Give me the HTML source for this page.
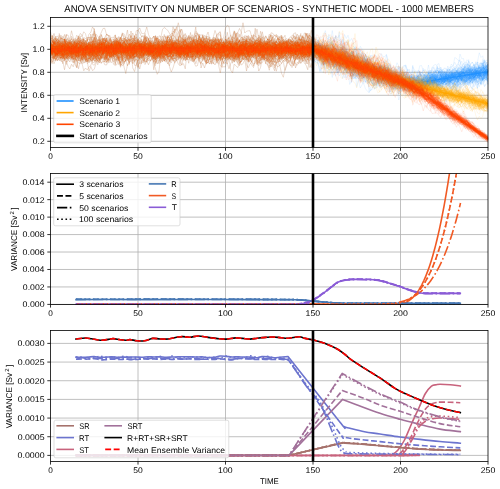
<!DOCTYPE html><html><head><meta charset="utf-8"><style>html,body{margin:0;padding:0;background:#fff;overflow:hidden}svg{display:block;will-change:transform;font-family:"Liberation Sans",sans-serif}</style></head><body>
<svg width="500" height="489" viewBox="0 0 500 489" font-family="'Liberation Sans', sans-serif" text-rendering="geometricPrecision">
<rect width="500" height="489" fill="#fff"/>
<path d="M138.00 17.50V147.60M225.50 17.50V147.60M313.00 17.50V147.60M400.50 17.50V147.60M50.50 141.30H488.00M50.50 118.30H488.00M50.50 95.30H488.00M50.50 72.30H488.00M50.50 49.30H488.00M50.50 26.30H488.00" stroke="#b0b0b0" stroke-width="0.8" fill="none"/>
<defs>
<path id="p0" d="M0 191l1 5 1 12 1 3 1 9 1-6 1-21 1 7 1 7 1-9 1-4 1-1 1 13 1-2 1-10 1 18 1 2 1 20 1 7 1 12 1-11 1 5 1-16 1-10 1-4 1 27 1-5 1-10 1-9 1 14 1-4 1 5 1 0 1-23 1 7 1-5 1-15 1 7 1-1 1-3 1-2 1 15 1-6 1-20 1 22 1-15 1-1 1 9 1-27 1-5 1 22 1 0 1-7 1 5 1-7 1 4 1-7 1-14 1 16 1 1 1 9 1-1 1 16 1 4 1-1 1-15 1-15 1 21 1 8 1-11 1 24 1-1 1-5 1-21 1-9 1 7 1 5 1 2 1-20 1 9 1 5 1-4 1 3 1 3 1 14 1-4 1 3 1-18 1-7 1 3 1-6 1 7 1-11 1 5 1-4 1 20 1-5 1 22 1 21 1-6 1 2 1-11 1-35 1 13 1 7 1-5 1-8 1 3 1 2 1-9 1-5 1 16 1 0 1-2 1 13 1-8 1 9 1-16 1-3 1 0 1 8 1 0 1 24 1 7 1-14 1 21 1-22 1 17 1-19 1 6 1-17 1-4 1 19 1-22 1-19 1 5 1 7 1 3 1 13 1-17 1 9 1 0 1 9 1 5 1 12 1-23 1 0 1-13 1 1 1 11 1 3" vector-effect="non-scaling-stroke"/>
<path id="p1" d="M0 192l1-3 1-4 1 13 1 4 1-11 1-5 1 0 1 25 1-11 1-18 1-11 1 3 1 29 1-16 1 5 1 39 1-14 1 17 1 10 1-2 1-30 1 2 1-8 1-29 1-18 1 11 1 10 1 23 1 9 1-10 1-7 1-1 1-14 1 16 1 1 1-11 1-6 1-11 1 1 1 11 1-1 1 19 1 24 1-15 1-2 1-7 1 25 1-1 1 2 1 6 1 25 1-10 1-25 1-12 1 6 1-4 1-15 1 41 1-8 1-16 1-14 1-26 1-11 1 4 1 4 1-5 1 16 1 5 1-11 1-24 1 14 1 9 1 3 1-15 1 9 1-15 1 25 1 6 1 6 1-11 1-12 1 30 1 13 1-9 1 8 1 19 1-24 1-10 1-7 1 9 1-16 1 7 1-14 1 19 1 13 1-6 1 9 1-13 1-4 1 14 1-4 1 4 1-16 1 10 1 6 1-21 1-31 1-19 1 14 1 8 1-13 1 15 1 23 1 2 1-4 1 16 1 24 1 15 1-20 1 7 1-5 1-8 1-13 1 5 1-9 1 14 1 3 1 12 1-24 1 0 1 11 1 2 1-1 1-14 1 24 1 10 1-3 1-45 1-11 1 8 1-6 1-25 1 16 1 13 1-13 1 1 1-2 1 16 1-25 1-15" vector-effect="non-scaling-stroke"/>
<path id="p2" d="M0 214l1-2 1-17 1-4 1-5 1-1 1 2 1 4 1 6 1-10 1 16 1-18 1 3 1 11 1 6 1 6 1-5 1 7 1-18 1 10 1 26 1 1 1 16 1-12 1-23 1-12 1 16 1 4 1-28 1-3 1 2 1-12 1-26 1-5 1 10 1 5 1 1 1 15 1 18 1-1 1 12 1-2 1-4 1-30 1 16 1 4 1 3 1-5 1-12 1 11 1 12 1 19 1 6 1-14 1-5 1 10 1 0 1-6 1-10 1 6 1 1 1 19 1 7 1-30 1 26 1-5 1-10 1 0 1 6 1-6 1-4 1-3 1 20 1-6 1 4 1 0 1-11 1-12 1-13 1 8 1-12 1-12 1-9 1-9 1 12 1 9 1-5 1 23 1-3 1 8 1 4 1 19 1 5 1-8 1-17 1-14 1 3 1 3 1 11 1-8 1 3 1-9 1-21 1 7 1 23 1 10 1 14 1 8 1-26 1-5 1 17 1-14 1-18 1 7 1 9 1 3 1-6 1-9 1-14 1-10 1-7 1-8 1 3 1 29 1 5 1-2 1 7 1-11 1 8 1 13 1-20 1-5 1 1 1-7 1-8 1 4 1 37 1 6 1 2 1 8 1-9 1-19 1 6 1 14 1-30 1 9 1 16 1-6 1-7 1 9 1-12" vector-effect="non-scaling-stroke"/>
<path id="p3" d="M0 194l1 6 1 7 1 10 1-4 1-21 1 16 1-24 1-8 1 11 1-8 1 25 1 23 1 10 1-4 1-4 1-1 1-9 1 24 1-18 1 13 1-1 1-4 1 7 1 9 1 1 1-13 1-18 1-14 1 12 1 6 1 7 1-15 1 24 1-28 1 4 1 6 1-11 1-17 1-4 1-13 1 4 1-13 1-10 1 11 1-13 1 9 1 7 1 19 1 6 1-11 1 22 1-12 1-4 1-2 1 33 1-5 1-14 1 9 1-5 1 31 1-20 1 4 1-18 1 24 1-17 1 0 1-15 1 13 1 6 1-36 1 16 1 11 1 1 1 12 1-22 1-24 1 16 1 26 1-21 1-15 1-7 1-10 1 21 1 6 1 21 1 17 1-21 1 7 1-36 1 4 1 13 1-10 1-22 1 2 1 25 1-3 1-16 1 13 1 15 1-15 1 2 1 18 1 4 1 8 1-8 1-4 1-18 1-7 1 27 1-8 1-12 1-4 1-10 1 14 1 17 1-15 1 18 1 28 1-23 1 7 1-1 1 15 1 10 1 5 1-7 1-16 1 26 1-23 1 9 1 6 1-21 1-5 1 17 1-34 1 12 1-7 1-4 1-20 1 11 1-13 1 16 1-15 1 16 1 6 1-28 1 2 1 4 1-26 1 6 1 21" vector-effect="non-scaling-stroke"/>
<path id="p4" d="M0 170l1 32 1 1 1 13 1 6 1-24 1 14 1-1 1 31 1-9 1-10 1 6 1 5 1-43 1 23 1 15 1 6 1-31 1-39 1 2 1 20 1 11 1-20 1 21 1-26 1-19 1 9 1-3 1-4 1-17 1 33 1-15 1 17 1 19 1 0 1 5 1 17 1 24 1 6 1-38 1-37 1-5 1-13 1 21 1 7 1-1 1 24 1 16 1-7 1 2 1 15 1-15 1 0 1-22 1 1 1 7 1-3 1 3 1 11 1 4 1-18 1-11 1-20 1 38 1 5 1 4 1-7 1 6 1 6 1-20 1-3 1 21 1-28 1-16 1 17 1-13 1 18 1-19 1 9 1 18 1 5 1 12 1-9 1-6 1-3 1 9 1 62 1-20 1 20 1-23 1-33 1-10 1 5 1 0 1-1 1 6 1 6 1 10 1-30 1-1 1-18 1 8 1 0 1 5 1-8 1-12 1 1 1 17 1 15 1-33 1 10 1 8 1-25 1-12 1 0 1 17 1-36 1 8 1 3 1 15 1 34 1 23 1-13 1-10 1 4 1 20 1 19 1-5 1 16 1-29 1-27 1-50 1-3 1 24 1 23 1 63 1-3 1-10 1-28 1-15 1-10 1-1 1-9 1-21 1 29 1 11 1 25 1-35 1-20 1-6 1 31" vector-effect="non-scaling-stroke"/>
<path id="p5" d="M0 174l1 14 1 15 1-11 1-7 1-10 1 18 1-12 1-1 1-17 1 23 1 1 1 6 1 20 1 4 1-18 1 5 1 7 1-14 1-12 1-8 1 14 1 2 1-11 1 12 1 9 1-11 1-17 1 19 1 32 1 10 1 2 1-8 1-16 1-2 1 4 1-6 1 8 1-5 1 4 1-37 1-5 1 15 1 14 1 3 1 17 1 2 1 2 1-18 1 2 1 5 1 11 1 7 1-9 1-5 1-19 1 6 1-15 1-2 1 1 1 26 1 10 1-17 1-20 1-1 1-7 1 8 1 6 1 8 1-13 1-3 1 5 1 5 1-7 1-3 1 12 1-21 1 1 1 4 1-15 1-5 1 9 1-1 1 19 1 9 1 26 1-22 1 21 1-16 1 7 1 7 1-5 1-8 1-11 1-22 1 1 1-6 1 13 1-6 1 3 1 9 1 2 1 2 1-2 1-4 1 8 1 8 1-11 1 21 1 3 1-24 1 33 1 0 1-16 1 16 1-38 1 32 1-23 1-19 1-7 1 9 1 0 1 14 1-9 1 16 1 2 1-14 1 15 1 2 1-5 1 15 1-19 1-5 1 19 1-3 1 6 1 3 1-6 1 4 1-16 1 7 1-14 1 1 1-10 1 10 1 6 1 13 1-11 1-13 1-23 1-8" vector-effect="non-scaling-stroke"/>
<path id="p6" d="M0 238l1-36 1-2 1 1 1-17 1 2 1 12 1-33 1 24 1 4 1-12 1 20 1 1 1-7 1-36 1 23 1 5 1-8 1 3 1 22 1-8 1-1 1-6 1-15 1-10 1 2 1 3 1 24 1 3 1-3 1 7 1-2 1 12 1-26 1-30 1 17 1 0 1 10 1-15 1 1 1 7 1 9 1 2 1 18 1-12 1 13 1-10 1-1 1-16 1 5 1-11 1 20 1-8 1 7 1-1 1 1 1-12 1 35 1-9 1 21 1-25 1 29 1 7 1 16 1-39 1 16 1-10 1 3 1 21 1-6 1-20 1-2 1-19 1 6 1-1 1 5 1-8 1-29 1 2 1 3 1 15 1 14 1-24 1 22 1 13 1-3 1 3 1-34 1 40 1-11 1-14 1 18 1 6 1-12 1-27 1 18 1 24 1-21 1-24 1 10 1 36 1-28 1 3 1-17 1 5 1 8 1 8 1-24 1-17 1 42 1 13 1-32 1 9 1 22 1-5 1-1 1-2 1 5 1 1 1 3 1-10 1 10 1 0 1-3 1-23 1-4 1 4 1-6 1-3 1-12 1-1 1-20 1-8 1 15 1 17 1-7 1 0 1 9 1 29 1 26 1-13 1-17 1-12 1 22 1-19 1 10 1-7 1-5 1 15 1 7 1 28" vector-effect="non-scaling-stroke"/>
<path id="p7" d="M0 231l1-3 1-26 1-16 1-3 1 40 1-14 1 20 1-66 1 14 1 0 1 31 1 8 1 24 1-32 1 3 1-16 1 16 1 8 1-35 1 25 1 38 1-22 1 19 1-2 1-32 1 15 1-26 1 15 1-38 1-24 1 22 1 10 1 22 1-7 1-26 1 39 1-25 1 33 1 13 1 31 1-64 1-2 1-6 1 17 1-27 1 51 1-10 1-56 1 16 1 3 1-12 1 24 1-1 1-21 1 1 1-3 1 13 1-4 1 2 1-30 1-5 1 17 1 62 1-24 1-19 1 24 1 41 1 12 1-37 1 17 1-1 1-16 1-35 1 2 1 3 1 13 1-40 1-17 1 14 1 39 1 16 1-19 1 15 1-25 1-7 1-3 1-11 1-5 1 27 1 8 1-53 1 39 1 13 1-24 1 9 1 21 1 28 1-22 1-26 1-29 1 9 1-16 1 35 1-1 1 19 1-5 1-17 1-20 1 31 1-27 1 19 1 26 1 1 1 29 1-11 1-14 1 0 1-17 1 7 1-2 1 31 1-10 1 12 1 1 1-8 1-12 1 32 1 22 1-12 1-26 1-17 1-25 1-27 1-3 1 9 1 30 1 21 1 4 1-13 1-8 1-2 1 2 1-16 1-2 1-4 1-3 1 17 1 23 1-16 1-11" vector-effect="non-scaling-stroke"/>
<path id="p8" d="M0 206l1 6 1-44 1 24 1 11 1-1 1 19 1 34 1-33 1 9 1 3 1-1 1 10 1 9 1-15 1-53 1-9 1-7 1 36 1 0 1 21 1-20 1 3 1-2 1 0 1 10 1 24 1-20 1 21 1 12 1-8 1 2 1-16 1-26 1-5 1-3 1 0 1-14 1 38 1-11 1 15 1 17 1-11 1 0 1-18 1-23 1 46 1-8 1-42 1-12 1-20 1 10 1 36 1 21 1-18 1-18 1 18 1 4 1-6 1 32 1-1 1-38 1-38 1 13 1-25 1 24 1 23 1 44 1-26 1 5 1-46 1 2 1 5 1 39 1-30 1 11 1 4 1 41 1-26 1-22 1 14 1-3 1-8 1-16 1 4 1-27 1 16 1 18 1 12 1 46 1 3 1-31 1-9 1 12 1-12 1 35 1-6 1-19 1-18 1 14 1-21 1-33 1 17 1-8 1 36 1 34 1-21 1-6 1-7 1 9 1 1 1-19 1-31 1 12 1 36 1-27 1-8 1-8 1 4 1-37 1 14 1 2 1 46 1 10 1 10 1-5 1-10 1 12 1-36 1 24 1 7 1-8 1 22 1-17 1-14 1 6 1-36 1 7 1 2 1 24 1 31 1 4 1-3 1 1 1-22 1 41 1 8 1 19 1-44 1 2 1 0" vector-effect="non-scaling-stroke"/>
<path id="p9" d="M0 201l1-2 1-6 1-3 1 5 1-1 1-3 1 19 1 5 1 4 1-4 1-1 1-2 1 5 1-12 1-5 1 17 1-6 1 9 1-24 1 5 1 3 1-3 1 1 1-1 1-17 1 1 1-6 1-8 1 17 1-16 1-1 1-4 1 17 1-6 1 0 1 11 1-23 1 2 1 10 1 2 1-5 1-7 1 1 1-6 1-7 1 23 1 9 1 12 1-2 1-15 1-4 1 15 1 4 1-11 1 8 1 1 1-3 1 20 1-12 1-5 1-6 1 12 1 7 1 3 1-7 1-3 1-2 1-20 1-10 1 14 1 10 1-17 1 8 1-12 1-11 1 14 1 8 1 2 1 12 1 10 1 1 1-12 1 5 1 0 1 4 1 12 1-21 1 25 1 0 1-12 1 11 1-12 1-17 1 10 1-3 1 11 1-9 1-2 1-3 1-14 1-2 1-10 1 0 1 19 1-1 1-3 1 18 1-16 1 2 1-2 1 12 1-2 1-3 1 4 1-1 1 22 1-20 1 11 1 20 1 2 1 0 1-15 1 5 1-10 1 7 1-29 1-4 1-19 1 18 1-4 1 14 1-6 1-5 1 20 1 10 1 8 1 10 1-1 1 1 1 7 1-12 1-13 1 9 1 0 1-7 1-2 1 3 1-14 1-10 1-7" vector-effect="non-scaling-stroke"/>
<path id="p10" d="M0 193l1 26 1-34 1-22 1 23 1-44 1 35 1-2 1-19 1 58 1-25 1 3 1 2 1 24 1-13 1 22 1 13 1-1 1 16 1-48 1 26 1 7 1-4 1-10 1-24 1-19 1 10 1 9 1-2 1-18 1-11 1 18 1 46 1-55 1-16 1 2 1 1 1 19 1 24 1 4 1 0 1 9 1 25 1-6 1-24 1 6 1-7 1 39 1-10 1-10 1 16 1 24 1-29 1 5 1-24 1 1 1-21 1 4 1 29 1-9 1-2 1-22 1 7 1 4 1-24 1-24 1-10 1-13 1 3 1-5 1-6 1 6 1 11 1 7 1-43 1 19 1 19 1 18 1 5 1-1 1 28 1 39 1-19 1 26 1-20 1-12 1-31 1-34 1 2 1 21 1 29 1 14 1-8 1 40 1-17 1-10 1-22 1 5 1-6 1 14 1 4 1 31 1-17 1-43 1-3 1-7 1 24 1-33 1 21 1-17 1 2 1 24 1-24 1 4 1-1 1-7 1 5 1 12 1-9 1 11 1-1 1 14 1 29 1 4 1-1 1-12 1-33 1 36 1-12 1 41 1 6 1-7 1 32 1 16 1-31 1-22 1-12 1 5 1-59 1 5 1 19 1-40 1-7 1 15 1-21 1 5 1-6 1 5 1 30 1-20 1 2" vector-effect="non-scaling-stroke"/>
<path id="p11" d="M0 194l1 9 1 4 1-8 1 4 1-4 1 2 1-14 1 2 1 10 1 6 1 3 1-4 1-2 1-8 1-1 1 0 1-1 1 1 1-1 1-4 1-3 1 6 1 12 1 4 1-5 1 15 1-3 1-7 1 1 1 4 1-16 1-9 1 4 1-7 1-6 1 12 1-16 1 11 1 5 1 8 1-1 1 8 1-2 1-9 1-1 1 3 1-10 1 8 1-6 1 4 1 0 1 0 1 0 1 2 1 5 1 3 1-4 1 0 1 7 1 2 1 2 1-3 1-4 1-2 1 3 1-2 1 8 1 16 1-7 1 5 1 0 1 1 1-11 1 4 1-7 1 0 1 4 1 6 1-9 1-6 1-7 1-12 1 1 1 0 1 3 1 1 1 4 1 6 1-14 1 15 1-3 1-4 1 0 1 6 1 1 1 1 1 6 1-3 1 0 1 2 1-7 1 6 1-6 1 3 1-4 1-1 1-2 1 6 1 4 1 3 1-4 1-7 1-8 1 5 1 0 1 11 1 12 1 0 1-1 1 5 1 5 1-11 1 0 1 6 1-21 1-2 1 1 1-5 1 5 1-11 1 12 1 7 1-2 1 3 1-12 1 10 1 2 1-4 1-6 1-7 1-1 1-13 1 8 1 2 1-4 1 6 1 3 1 4 1 4 1 7" vector-effect="non-scaling-stroke"/>
<path id="p12" d="M0 173l1 19 1-3 1 13 1-3 1 9 1-3 1 0 1 2 1-7 1-14 1 8 1-7 1 2 1 2 1-18 1 26 1 6 1 14 1-2 1-3 1-39 1 3 1-12 1-4 1 13 1 1 1-9 1 6 1 4 1 1 1 18 1 8 1-5 1-5 1 9 1 2 1-1 1 0 1-8 1-1 1 0 1 13 1 7 1-7 1 12 1-8 1 2 1 4 1-11 1 4 1 4 1 2 1-5 1-29 1 23 1-2 1 1 1-11 1 5 1 22 1-18 1 9 1-3 1 10 1 4 1-1 1-14 1-10 1 5 1-6 1 4 1-2 1-2 1-5 1 7 1 1 1-2 1-1 1 7 1-17 1 7 1-6 1 1 1-9 1 25 1-21 1 6 1 13 1-2 1-22 1 1 1 15 1 5 1-12 1 15 1 1 1 1 1-21 1 6 1-10 1 11 1 9 1-10 1-3 1 18 1-7 1-6 1 7 1-2 1-2 1 5 1 5 1 4 1 0 1 10 1-5 1 10 1-7 1-4 1 6 1-13 1-20 1-9 1 18 1-11 1 2 1 3 1 8 1 0 1-12 1-2 1 8 1 8 1 4 1-7 1-16 1 14 1 1 1 5 1 6 1-5 1-6 1 14 1 7 1-16 1-3 1-4 1 6 1 3 1-5" vector-effect="non-scaling-stroke"/>
<path id="p13" d="M0 199l1 4 1 11 1 7 1-6 1-9 1 16 1-5 1-9 1-3 1 9 1-14 1 12 1-9 1-16 1 23 1-5 1-4 1-2 1 8 1 1 1 12 1-6 1-9 1 6 1 6 1 1 1-4 1-4 1-1 1-3 1 12 1 22 1-16 1-19 1 13 1 2 1-8 1-12 1-6 1-11 1 5 1-1 1 0 1 8 1-11 1-2 1-5 1 10 1-6 1 15 1-3 1 28 1 5 1-13 1 1 1-5 1 14 1-21 1-6 1 2 1-3 1-2 1-12 1 3 1 19 1 2 1-14 1-3 1 8 1-5 1 1 1-3 1 18 1 8 1-10 1 1 1-5 1-19 1 8 1 0 1 9 1 6 1 0 1 13 1 17 1-22 1-2 1-13 1-1 1 0 1-6 1-4 1 15 1-12 1 12 1-2 1-25 1 6 1-11 1 11 1-1 1 5 1 0 1 12 1 10 1-5 1 15 1 5 1-12 1 4 1 5 1 7 1-8 1-1 1-5 1-1 1-21 1 7 1 21 1-6 1-3 1-3 1 14 1-16 1 0 1 0 1 15 1-9 1-2 1-15 1 6 1 13 1-4 1 7 1-7 1 9 1-3 1-1 1-3 1 3 1 5 1-4 1 3 1-6 1 0 1 20 1-7 1-19 1-4 1-6" vector-effect="non-scaling-stroke"/>
<path id="p14" d="M0 196l1-1 1 11 1 8 1-2 1-2 1 19 1-16 1-4 1-3 1-5 1 8 1-3 1-11 1-8 1-2 1 6 1 8 1-11 1-3 1 7 1 20 1 4 1 12 1-19 1-4 1 4 1 0 1-26 1-7 1 17 1 2 1 11 1 13 1-7 1-25 1-11 1 5 1 7 1 1 1-7 1 16 1 16 1-20 1-2 1-12 1 2 1-9 1 11 1-1 1-10 1-3 1 11 1-4 1 11 1 15 1-6 1-12 1-5 1 16 1-8 1-3 1 7 1 23 1-13 1-9 1-3 1 17 1 10 1-14 1-8 1-4 1 4 1-3 1 6 1 3 1 6 1-4 1 2 1-10 1-6 1 9 1-16 1 13 1-3 1-8 1-8 1 25 1-10 1-9 1-9 1 26 1 5 1-1 1 3 1-14 1 7 1-11 1-3 1 16 1 8 1 1 1-4 1-11 1 2 1-8 1 16 1 25 1-5 1-11 1-1 1 5 1-9 1-20 1 3 1 8 1 7 1-20 1 3 1-4 1-8 1-5 1 15 1-6 1-4 1 0 1-4 1 11 1 4 1 6 1-6 1 8 1-3 1 10 1-1 1 2 1-1 1-3 1 1 1 1 1 17 1-16 1 4 1-1 1 5 1-12 1 7 1-7 1-11 1-12 1-6" vector-effect="non-scaling-stroke"/>
<path id="p15" d="M0 194l1 1 1 1 1 7 1-4 1-7 1-4 1 2 1-1 1-3 1-7 1-3 1 5 1 3 1 3 1 1 1 5 1-3 1 5 1 5 1-3 1 4 1 0 1 10 1-8 1-1 1-1 1-3 1-2 1 4 1-11 1 4 1-4 1-8 1 7 1 2 1 6 1-5 1 3 1 7 1-8 1-4 1 7 1-6 1 0 1-13 1-4 1 9 1 5 1 8 1-1 1 1 1-4 1 1 1 10 1 3 1-10 1-6 1 3 1 2 1 2 1 0 1 10 1-7 1 3 1-2 1 13 1-5 1-10 1 12 1-12 1-2 1 4 1 8 1-9 1-2 1-3 1 2 1 5 1-6 1 6 1-6 1 10 1 3 1 5 1-11 1 8 1 3 1-7 1-4 1-13 1-8 1 1 1 0 1 14 1 5 1 1 1 0 1 6 1 2 1 2 1-10 1-3 1 1 1 1 1-3 1 4 1 0 1 8 1-7 1-6 1-2 1-2 1-1 1-10 1 3 1 10 1 6 1-5 1-5 1-3 1-2 1 2 1 10 1 4 1 9 1-2 1 5 1-5 1-2 1 8 1-8 1-7 1 7 1-3 1-6 1 2 1-6 1 0 1-5 1 1 1 3 1-2 1-3 1 1 1 5 1 5 1 2 1 2 1-3 1-1" vector-effect="non-scaling-stroke"/>
<path id="p16" d="M0 158l1-7 1 16 1 6 1 19 1-58 1 21 1 0 1-17 1 44 1 22 1 7 1 18 1 20 1-2 1-39 1-17 1 2 1 1 1 36 1-22 1-11 1 24 1-10 1 1 1 8 1 16 1 5 1 10 1-23 1-15 1-10 1 3 1 7 1-46 1 47 1-28 1-4 1 3 1 14 1 5 1 24 1 22 1-10 1 24 1-33 1-31 1 72 1 14 1-27 1-19 1-13 1-15 1-19 1-17 1-31 1 13 1-8 1 47 1 3 1 25 1-35 1-47 1 3 1 41 1 5 1 1 1-2 1-21 1-13 1 66 1-34 1 13 1 11 1-33 1 10 1 31 1 23 1-13 1-27 1-33 1 11 1 14 1-33 1 18 1-26 1 6 1 5 1 13 1-1 1 15 1 16 1 0 1 11 1-11 1-5 1 5 1 1 1 2 1-39 1 6 1 18 1 7 1-15 1 6 1 5 1 5 1-5 1-8 1-8 1 38 1 17 1 45 1-38 1-35 1-30 1 1 1-20 1 10 1 10 1 36 1 12 1 5 1-28 1-37 1 17 1-5 1-1 1 21 1 35 1 6 1 20 1-10 1-10 1-7 1-6 1-18 1 17 1-26 1 34 1-11 1-15 1 14 1 27 1-27 1 8 1-25 1-18 1 2 1 2 1-19" vector-effect="non-scaling-stroke"/>
<path id="p17" d="M0 214l1-23 1 18 1-17 1 8 1 13 1-2 1-13 1-9 1-27 1-7 1 57 1 3 1 31 1-7 1-23 1 19 1 11 1-16 1-4 1-37 1-5 1-7 1-28 1 20 1 6 1 23 1-6 1-19 1-20 1 11 1 20 1 16 1 24 1-10 1-30 1 45 1 31 1-42 1 23 1-18 1 15 1-25 1-20 1-3 1-14 1 3 1-7 1-28 1-8 1 26 1 22 1 7 1 4 1-2 1 11 1-15 1 0 1-5 1 2 1-10 1 26 1-31 1-1 1-3 1-5 1-12 1-3 1 7 1 13 1 36 1-7 1 5 1 3 1-47 1 43 1-3 1-24 1-13 1-14 1 34 1 21 1-14 1 7 1-32 1 3 1 3 1-2 1 11 1 2 1 15 1 0 1 8 1-7 1 25 1 20 1-21 1-11 1 14 1-4 1 12 1-47 1 31 1-37 1 18 1-8 1 5 1 7 1-19 1-12 1 11 1 19 1-39 1-18 1 10 1 15 1 1 1 4 1-17 1 27 1 2 1 16 1-26 1-28 1 13 1-2 1-17 1 18 1 26 1-17 1-3 1 10 1-22 1 6 1 41 1-8 1 1 1-35 1 9 1 10 1-4 1 1 1 30 1-5 1 4 1-28 1-40 1 35 1 23 1 16 1 8" vector-effect="non-scaling-stroke"/>
<path id="p18" d="M0 210l1 3 1 20 1-8 1-22 1-19 1-7 1-9 1 17 1 10 1-20 1-3 1 20 1-8 1-11 1-6 1 5 1 14 1-4 1-25 1 7 1 19 1-3 1 25 1-6 1 4 1-18 1 1 1-15 1-33 1 18 1 24 1-4 1 7 1 0 1 14 1-10 1 1 1 38 1-3 1-13 1-23 1 12 1 12 1-23 1 12 1-3 1-8 1-11 1 5 1 22 1-20 1 10 1 9 1-36 1-8 1 27 1 10 1 4 1 11 1 28 1-24 1-18 1-5 1 8 1-5 1-11 1 20 1 4 1 6 1-17 1-5 1 23 1 5 1-36 1 19 1-4 1 9 1-24 1 4 1 9 1 19 1-1 1-19 1-11 1 24 1-29 1 8 1 19 1-5 1 9 1 6 1 5 1-5 1 3 1 22 1-20 1 2 1-27 1-10 1-8 1 1 1-18 1 14 1 21 1-6 1 47 1-5 1-13 1 1 1-27 1-12 1 2 1 9 1-17 1 16 1 8 1-14 1-7 1-30 1 15 1 39 1-13 1-19 1 9 1-22 1-20 1 25 1 16 1 25 1-11 1-11 1-7 1 26 1 11 1 20 1 18 1 9 1 10 1-15 1-22 1-19 1-4 1 8 1-5 1-14 1 5 1-3 1 4 1 7 1-4" vector-effect="non-scaling-stroke"/>
<path id="p19" d="M0 218l1 6 1 11 1-29 1-1 1-3 1-4 1-22 1 11 1-11 1 2 1 6 1 23 1-12 1 8 1 3 1-5 1-3 1-12 1 9 1-1 1-3 1 1 1-7 1 6 1-12 1 12 1 16 1-2 1-15 1 7 1 6 1 2 1-4 1 0 1-4 1 18 1-21 1-6 1 11 1-16 1-1 1-13 1 19 1-16 1 6 1 26 1-10 1 4 1 10 1-1 1 18 1-14 1-1 1-1 1-19 1 1 1 8 1 10 1-3 1-14 1 7 1 10 1-13 1-1 1 0 1-22 1 19 1-2 1 21 1-1 1-10 1-13 1 16 1-11 1-8 1 4 1-24 1 8 1 15 1-2 1 22 1-19 1-9 1 8 1-4 1-3 1-17 1 15 1 18 1 22 1-3 1 12 1-6 1-11 1 1 1 6 1-18 1 1 1-3 1-11 1 16 1 9 1-31 1 6 1 13 1 2 1 5 1 10 1 0 1-5 1-4 1-9 1 18 1 11 1-16 1 1 1-17 1-3 1 16 1-9 1 10 1-6 1-15 1-21 1 8 1-2 1 2 1-3 1 33 1 2 1-6 1-7 1 9 1-11 1-11 1 3 1 5 1 6 1-2 1-12 1-12 1 11 1 14 1 9 1-12 1-2 1-1 1-3 1-2 1 5" vector-effect="non-scaling-stroke"/>
<path id="p20" d="M0 205l1 4 1-13 1 4 1-6 1 13 1-3 1-5 1 0 1 16 1-6 1-8 1-9 1-1 1 12 1 0 1-7 1 5 1-4 1 3 1-1 1-5 1 5 1-18 1 3 1 1 1 8 1 1 1 2 1 9 1 7 1-5 1-2 1 14 1 7 1-5 1-6 1-8 1 5 1-7 1 0 1 1 1-1 1-8 1-3 1-5 1 6 1 2 1 7 1 2 1 0 1 1 1-7 1-3 1-5 1 1 1-6 1 2 1-4 1 0 1-1 1 4 1 9 1 9 1-14 1-1 1-1 1 3 1 4 1-18 1 12 1 2 1 1 1 8 1 6 1 2 1-1 1 0 1-8 1 6 1-5 1-10 1-4 1 9 1 18 1-10 1-5 1 3 1-9 1 3 1 0 1 6 1-3 1 2 1 2 1-9 1 0 1 9 1-6 1-5 1 6 1 2 1-1 1 1 1-2 1-4 1 3 1-13 1 8 1 4 1-12 1-11 1 5 1 6 1 10 1-7 1 1 1 8 1-3 1-7 1-2 1-10 1-2 1 4 1 5 1 1 1-4 1-1 1-1 1 3 1 0 1-3 1 6 1 11 1-9 1-1 1 6 1 1 1 3 1 11 1-1 1 7 1-5 1-1 1-9 1 1 1-2 1 2 1 2 1 8 1-8" vector-effect="non-scaling-stroke"/>
<path id="p21" d="M0 193l1 3 1 3 1 27 1-2 1-15 1-6 1 16 1-2 1-8 1 9 1-13 1 8 1 0 1-2 1-28 1 7 1 9 1-8 1 7 1-2 1 26 1-9 1-3 1 12 1-21 1 2 1 1 1 14 1 13 1-1 1 9 1-15 1-16 1 5 1 14 1-2 1 5 1-9 1-8 1 1 1-4 1-15 1-18 1 11 1-5 1 7 1 14 1-16 1-2 1 2 1-1 1 5 1 13 1-21 1-7 1 3 1-6 1-9 1 11 1-1 1 10 1-4 1 7 1-24 1 12 1 0 1 1 1 9 1-7 1 6 1 8 1 2 1 9 1-15 1-4 1-8 1 21 1-3 1 10 1-3 1-15 1 0 1 5 1-11 1-7 1-15 1 31 1-1 1 7 1 11 1-3 1 12 1 21 1 1 1-7 1-29 1 7 1 11 1 17 1-5 1-6 1-8 1 11 1 2 1 17 1-14 1 9 1 20 1-29 1-14 1-10 1-6 1 10 1-16 1 12 1-24 1 1 1 24 1-13 1-22 1 9 1-9 1 8 1 11 1 30 1-20 1 3 1-6 1 12 1 6 1-18 1 4 1 3 1 12 1-8 1-12 1 4 1 1 1 12 1-21 1 8 1 0 1-21 1 7 1 19 1 8 1-1 1-25 1-1 1 5" vector-effect="non-scaling-stroke"/>
<path id="p22" d="M0 192l1-3 1 30 1-12 1 11 1 5 1-27 1 22 1-1 1-18 1-23 1 15 1-4 1-4 1 27 1 39 1 26 1-32 1-13 1 19 1 0 1-5 1-5 1-10 1-52 1 21 1-3 1 16 1 9 1 12 1-4 1 3 1-15 1-9 1 15 1-44 1 28 1-9 1-44 1 26 1-22 1-19 1 8 1 50 1-28 1 5 1 17 1-23 1 22 1-19 1 17 1-8 1 26 1 6 1 15 1 7 1-13 1-2 1-9 1-29 1 7 1 40 1-2 1-8 1-26 1-19 1-13 1 14 1-7 1 37 1-27 1-4 1-4 1 15 1 3 1 16 1-13 1 29 1-25 1-10 1-37 1 14 1 11 1 3 1 5 1 7 1 25 1 18 1 4 1-3 1 15 1 11 1-9 1-27 1-2 1-19 1-20 1-11 1 16 1 11 1 38 1 5 1-20 1 17 1-37 1-29 1 15 1-15 1 35 1 19 1 1 1-7 1-1 1 13 1-48 1-1 1-2 1-9 1 4 1 11 1 14 1 33 1-39 1 20 1 30 1 5 1 19 1-57 1-10 1-29 1-22 1 1 1 1 1 26 1 7 1 16 1-2 1 14 1-29 1-11 1 9 1 37 1-18 1-18 1 5 1 28 1-13 1-22 1 43 1-17 1 34" vector-effect="non-scaling-stroke"/>
<path id="p23" d="M0 200l1-3 1-18 1-9 1-14 1 11 1 4 1-26 1 13 1-18 1 0 1 19 1 30 1-9 1 13 1 11 1 23 1-27 1-4 1-2 1-7 1-2 1 0 1-7 1 8 1 41 1-21 1-10 1-2 1-25 1 27 1 43 1-35 1-10 1 25 1-1 1-16 1 16 1-16 1-35 1-15 1 10 1 2 1 21 1 0 1 6 1 15 1 17 1-38 1 0 1 17 1 4 1-27 1-22 1 18 1 1 1-10 1 12 1 21 1 13 1-6 1 8 1 14 1-5 1-23 1-12 1 4 1-30 1 20 1 3 1 22 1-16 1 2 1 25 1 6 1-36 1-10 1 2 1-11 1 30 1 11 1 15 1 4 1-3 1-17 1-20 1-14 1-37 1 21 1 8 1-2 1 19 1 7 1-7 1 16 1-10 1-18 1 22 1 34 1-10 1 9 1-11 1 0 1-10 1-21 1-11 1 10 1 20 1 35 1 21 1-5 1-17 1-1 1-2 1 14 1 11 1 10 1-29 1 18 1-27 1 5 1-19 1-10 1-15 1-18 1 17 1 16 1 3 1 8 1-16 1 0 1-2 1-8 1 8 1-18 1 32 1-9 1-10 1 12 1 8 1-19 1 5 1 28 1 12 1-26 1 8 1-27 1-21 1 9 1-6 1 17" vector-effect="non-scaling-stroke"/>
<path id="p24" d="M0 201l1-2 1-7 1 4 1 2 1-8 1-8 1 7 1-4 1-4 1 2 1 9 1 7 1-4 1-12 1 4 1-6 1-7 1 13 1 6 1-7 1-3 1 1 1 3 1-1 1 7 1-13 1 11 1 12 1-2 1-9 1 4 1 1 1 6 1-1 1 5 1 3 1 5 1-1 1-15 1 0 1-1 1-13 1 7 1 7 1-3 1 7 1-3 1-7 1 7 1 2 1-10 1 7 1 4 1-3 1 1 1 4 1-11 1 4 1-2 1 3 1 1 1 7 1-7 1 2 1-9 1 8 1 2 1-4 1-1 1 4 1-1 1 7 1-3 1 13 1-6 1-11 1-6 1-4 1 4 1-2 1 3 1 1 1 1 1 19 1-10 1-5 1-6 1 6 1-5 1-3 1 14 1 7 1-4 1 0 1-3 1 1 1-11 1 10 1 6 1 1 1 4 1-2 1-5 1 4 1-7 1-10 1-7 1-10 1-2 1 4 1-7 1 1 1-5 1 7 1 16 1 7 1-2 1-4 1 1 1-6 1 8 1 4 1-8 1 0 1 0 1-8 1-4 1 8 1 0 1 11 1-1 1-3 1 9 1-11 1-12 1 0 1-2 1-5 1 6 1-3 1 2 1 12 1 6 1 2 1-7 1-1 1-5 1 5 1 8 1-14" vector-effect="non-scaling-stroke"/>
<path id="p25" d="M0 192l1 2 1 3 1-3 1 3 1-12 1 1 1 3 1-4 1-3 1-5 1 0 1 5 1 3 1 19 1 9 1-12 1 2 1-15 1-12 1 15 1-1 1-20 1 13 1 0 1 5 1 4 1 3 1 1 1-6 1 8 1-4 1 6 1-5 1-2 1 7 1-2 1 5 1 5 1-12 1 14 1-7 1-7 1 4 1-9 1-5 1 12 1-4 1-3 1 7 1-5 1-4 1 7 1 15 1-7 1 4 1 10 1-2 1 13 1-6 1-18 1 20 1-11 1 3 1-2 1 2 1-10 1-2 1 4 1 6 1-1 1-13 1 8 1-6 1-4 1 14 1-12 1-1 1-18 1-9 1 8 1 5 1 10 1 11 1-9 1 2 1 2 1 0 1-7 1-6 1 2 1 3 1 0 1-15 1 20 1 8 1-6 1-2 1-10 1-8 1-11 1 13 1-1 1 5 1-5 1 2 1-3 1 9 1 1 1 5 1 2 1 3 1 7 1-11 1-3 1-7 1 10 1 14 1 1 1-2 1-10 1-9 1-8 1-8 1 0 1 4 1 10 1-3 1 6 1 8 1-6 1-1 1-5 1 7 1-8 1-1 1 4 1 7 1 8 1 8 1-14 1 10 1-8 1 1 1 3 1 1 1-2 1-8 1-4 1 1 1 11" vector-effect="non-scaling-stroke"/>
<path id="p26" d="M0 203l1-13 1 10 1 4 1 2 1-5 1-1 1 2 1 8 1-7 1-2 1 3 1-2 1-6 1 10 1 7 1 2 1 1 1 14 1-4 1-14 1-2 1-9 1 16 1-4 1-12 1-11 1 5 1 6 1-4 1 8 1 0 1 8 1-4 1-3 1-12 1-2 1 6 1 0 1 8 1-3 1 0 1-4 1-6 1 13 1-4 1-6 1 8 1-14 1 7 1-15 1-1 1-2 1 3 1-3 1 11 1 7 1 12 1-6 1 3 1-7 1-4 1 9 1-6 1-2 1-1 1-2 1 1 1 1 1-6 1 8 1 8 1 2 1-9 1 2 1-12 1 21 1 1 1 0 1-5 1-10 1 2 1 6 1-7 1-9 1 18 1-5 1-3 1 5 1 2 1-3 1-1 1 0 1 7 1-4 1 2 1-2 1 2 1-3 1-6 1-1 1-4 1 10 1-3 1-2 1 4 1 0 1 17 1-6 1-1 1 11 1-9 1 0 1-5 1-1 1-5 1-2 1 2 1-4 1-5 1 15 1-2 1 1 1 5 1-12 1-6 1 7 1 7 1-8 1 4 1 0 1 11 1-3 1-11 1 2 1 0 1-12 1-4 1-6 1 1 1-4 1 16 1 6 1 10 1-17 1 0 1 2 1 6 1 5 1 16 1-20" vector-effect="non-scaling-stroke"/>
<path id="p27" d="M0 183l1 47 1 25 1-17 1 4 1-8 1-3 1-17 1 22 1-2 1-22 1-7 1 10 1-11 1-6 1 12 1-13 1-9 1 4 1-12 1 21 1-12 1 5 1 14 1 5 1-20 1 9 1 3 1 7 1 7 1-19 1-31 1-12 1 3 1-1 1 14 1 13 1 19 1-22 1 8 1 12 1 7 1-6 1 6 1-4 1-4 1-20 1 21 1-6 1 10 1 3 1-26 1-5 1 10 1-5 1 3 1-13 1 13 1-5 1 7 1 2 1 3 1 10 1-4 1-14 1 11 1 5 1-6 1 10 1-14 1-9 1 36 1 3 1 9 1-20 1-17 1 18 1 5 1-4 1 1 1-14 1-15 1-5 1-11 1-6 1 9 1 12 1 14 1-12 1-10 1-9 1 12 1 10 1-2 1-15 1 1 1 3 1 17 1-6 1-5 1 17 1-25 1 18 1-11 1 6 1 0 1 14 1 6 1-12 1 3 1 4 1-13 1-8 1 1 1 1 1-21 1 11 1 1 1-1 1 26 1 26 1-9 1-17 1-3 1 7 1 8 1-15 1 4 1 21 1-15 1-6 1-6 1-14 1-14 1 0 1 10 1 34 1-7 1 0 1-20 1-14 1 0 1-12 1 11 1 8 1 17 1 5 1-3 1-15 1 15 1-11" vector-effect="non-scaling-stroke"/>
<path id="p28" d="M0 167l1-6 1 11 1-23 1-4 1 12 1 12 1 22 1 4 1 4 1-4 1 6 1-9 1 2 1 24 1 2 1 8 1 11 1-7 1-23 1 14 1 23 1-10 1-55 1 13 1-4 1 8 1-13 1-19 1 10 1-13 1 25 1-1 1 21 1-6 1 8 1-7 1 15 1-9 1-5 1 6 1 9 1 12 1-3 1-14 1-3 1-6 1-21 1 8 1-4 1-10 1-3 1-1 1 4 1-24 1 12 1 13 1-5 1-19 1-11 1 13 1-3 1 3 1 9 1-3 1-1 1 7 1-19 1 17 1-14 1-20 1-16 1 15 1 19 1 35 1 3 1-35 1 34 1 25 1-17 1-9 1 29 1-4 1-9 1 21 1-22 1 18 1-23 1-3 1 11 1 21 1-2 1-6 1-3 1 4 1-3 1-18 1 13 1-1 1-10 1-1 1-14 1-20 1 13 1 1 1 48 1-3 1-17 1 14 1-26 1 28 1-27 1 8 1 13 1 2 1-2 1 10 1 13 1-3 1-25 1-10 1-21 1 13 1 6 1 4 1-4 1-8 1-25 1-3 1 5 1-13 1 22 1 24 1-12 1-1 1 0 1-12 1 10 1 4 1-4 1-8 1-10 1 5 1 2 1 41 1-23 1 24 1-5 1-42 1 11 1 27" vector-effect="non-scaling-stroke"/>
<path id="p29" d="M0 223l1-30 1 1 1 4 1-20 1 12 1 8 1-11 1-8 1 22 1-39 1 1 1 30 1 5 1-13 1 1 1-10 1-31 1 0 1-18 1 8 1 28 1-15 1 25 1-8 1-1 1 23 1 15 1 3 1-7 1-21 1 5 1-25 1-3 1 22 1 16 1 1 1 10 1 1 1-13 1-2 1-13 1 17 1 16 1 20 1 21 1-5 1-13 1-4 1-8 1-37 1 21 1 3 1 6 1 11 1-27 1 1 1-20 1 23 1-30 1-29 1 28 1 7 1 8 1-5 1 25 1-9 1-11 1 13 1 37 1 1 1-3 1-20 1 6 1 13 1-18 1-10 1-13 1 1 1-15 1-3 1 35 1-6 1-13 1 1 1-21 1 14 1-7 1 25 1-1 1 8 1 13 1 15 1-13 1-13 1 7 1 15 1 5 1-22 1 15 1-27 1 26 1-13 1-15 1-21 1 12 1 13 1 21 1-22 1 1 1 5 1 3 1-8 1-2 1-20 1 38 1-20 1 8 1-2 1 3 1-2 1-15 1-3 1 25 1-3 1-2 1-10 1-1 1 1 1-17 1 21 1-37 1 16 1 20 1-14 1-15 1-14 1-14 1 5 1 10 1 3 1 8 1 15 1-23 1-21 1 13 1 14 1 14 1 30 1 7 1 2" vector-effect="non-scaling-stroke"/>
<path id="p30" d="M0 205l1 1 1 0 1 1 1-4 1-9 1-2 1-6 1-5 1 9 1-1 1 5 1-4 1 4 1 2 1-12 1 5 1 13 1-2 1-3 1 4 1-2 1-8 1 5 1 2 1 5 1-4 1 0 1 6 1-1 1-15 1 14 1 9 1-6 1 7 1-18 1 11 1 7 1 0 1-12 1-7 1-3 1-1 1-7 1 16 1-2 1-11 1 11 1-3 1-8 1-6 1 5 1-10 1 2 1-3 1 13 1 8 1 6 1-14 1 19 1 11 1-11 1-3 1 19 1-3 1-4 1-13 1 12 1 0 1-12 1-7 1 7 1 1 1 9 1-14 1 3 1-10 1-4 1 8 1 2 1-5 1-2 1-9 1-4 1 3 1-1 1 9 1 7 1-4 1-1 1 9 1 0 1 5 1 2 1-11 1 7 1 3 1-6 1-1 1-2 1 11 1-3 1 1 1 3 1 1 1-1 1-9 1-14 1 2 1-8 1 4 1 13 1 0 1-9 1-8 1 11 1-14 1 10 1 8 1 4 1-11 1 0 1-4 1 19 1-1 1-1 1-6 1 4 1-9 1 7 1 10 1 9 1-14 1-6 1 5 1-8 1 2 1 1 1 11 1 1 1-3 1-4 1 3 1-9 1-9 1 8 1-2 1 12 1-5 1 6 1-1" vector-effect="non-scaling-stroke"/>
<path id="p31" d="M0 217l1-29 1-14 1 8 1 9 1 2 1 15 1 2 1-12 1-18 1-5 1-9 1 20 1 40 1-22 1-4 1 1 1-19 1 15 1 11 1 6 1-22 1-9 1 24 1-20 1 2 1-2 1 12 1-21 1 0 1-9 1 18 1-5 1 4 1 5 1 11 1 7 1 11 1 2 1-5 1-11 1 15 1 6 1 0 1 12 1-7 1-5 1-5 1-10 1-14 1-9 1-1 1-4 1 13 1 11 1-9 1-7 1-23 1 10 1 16 1-2 1 6 1 10 1-18 1-19 1 2 1 14 1 0 1 3 1 18 1-12 1-3 1-13 1 11 1 2 1 2 1 20 1-32 1 27 1 10 1-2 1 13 1-13 1 0 1-6 1-6 1-3 1-2 1 0 1-5 1-9 1 5 1 7 1 4 1-5 1 4 1 3 1 15 1-27 1 15 1-22 1-6 1-7 1 3 1-1 1 3 1-2 1-5 1-10 1 20 1-2 1-14 1-8 1 22 1 1 1 1 1 1 1 29 1-13 1 18 1-30 1-5 1 5 1-5 1 2 1 10 1 1 1-3 1 10 1-9 1-12 1-8 1-8 1-7 1 2 1-6 1 10 1 4 1-9 1-13 1 17 1 25 1-23 1-5 1-12 1 2 1 9 1 16 1 17 1-16 1-6" vector-effect="non-scaling-stroke"/>
<path id="p32" d="M0 202l1-4 1-6 1-3 1 10 1 18 1-3 1 4 1 1 1-5 1-7 1-16 1 3 1 20 1-11 1-11 1 19 1-10 1-3 1 6 1-4 1-4 1-6 1-11 1 5 1 3 1-24 1 21 1 6 1 6 1-8 1-10 1 20 1-14 1 16 1-29 1 14 1-9 1 8 1-4 1 13 1-1 1 1 1 0 1-7 1 8 1 4 1 14 1-2 1 2 1-13 1-8 1 10 1-6 1-14 1 7 1 15 1-28 1-1 1-2 1-21 1 21 1 3 1 26 1-6 1-4 1 10 1 9 1-1 1-1 1-20 1 5 1 3 1 2 1 18 1 0 1 11 1-9 1 19 1 2 1-13 1 16 1 6 1-24 1 8 1-8 1-10 1 7 1 13 1-26 1 4 1-10 1 8 1-7 1 13 1 10 1 5 1-2 1-1 1-4 1-11 1 2 1-15 1 7 1-10 1-14 1-15 1 29 1-19 1 24 1-16 1 3 1-2 1 13 1-11 1-5 1 9 1 8 1-10 1-10 1-4 1 9 1 3 1-8 1-5 1-7 1 5 1 14 1-1 1-2 1 9 1-4 1 11 1-4 1 7 1-25 1-8 1 3 1 21 1 14 1-11 1 2 1-4 1 17 1 13 1-8 1-3 1 10 1 2 1-16 1 1" vector-effect="non-scaling-stroke"/>
<path id="p33" d="M0 185l1-7 1 10 1-7 1-12 1-3 1 16 1 13 1-2 1-8 1-2 1 8 1 12 1-15 1 4 1-20 1 20 1 5 1 7 1-22 1-10 1 12 1 25 1-16 1 0 1 14 1 14 1-10 1-1 1-5 1-6 1 4 1 2 1-10 1 2 1 3 1-8 1 24 1-19 1-5 1 10 1 1 1-15 1-4 1 23 1 9 1-6 1-24 1-5 1 6 1-4 1 3 1 7 1-4 1 26 1-15 1-7 1 6 1 9 1 11 1-9 1-5 1-4 1-20 1 29 1 5 1 4 1-16 1 1 1 9 1-6 1-7 1-19 1 1 1 9 1 7 1 9 1-8 1-10 1 5 1 2 1-15 1 3 1-2 1 16 1 6 1 23 1 7 1-13 1-20 1 2 1 12 1-5 1-16 1 2 1-10 1 4 1 15 1 8 1-1 1-29 1-3 1 7 1-1 1 1 1 7 1 2 1 3 1-9 1-15 1-10 1 12 1-1 1 13 1 14 1-2 1-8 1 2 1-9 1-6 1-5 1 8 1 18 1-21 1 10 1-7 1-2 1 8 1-18 1-1 1 7 1 9 1 14 1 13 1-10 1 3 1 3 1-9 1 4 1-9 1 7 1 5 1-13 1 9 1-9 1-5 1 2 1 20 1 11 1 6 1 7" vector-effect="non-scaling-stroke"/>
<path id="p34" d="M0 182l1-16 1 7 1-8 1-7 1 21 1 2 1 16 1 4 1-5 1 14 1-9 1 1 1 1 1-7 1 9 1 18 1-7 1 3 1-3 1 8 1 4 1 4 1 6 1-1 1-1 1-10 1-43 1 10 1 20 1-11 1 13 1 6 1-2 1-6 1-5 1-5 1 0 1-14 1-8 1 11 1 4 1 16 1-11 1 1 1-23 1 13 1-16 1 16 1 21 1 6 1-9 1-15 1 11 1-13 1 7 1 5 1 2 1-21 1 1 1-1 1 20 1-4 1-4 1-19 1 15 1 9 1 9 1 4 1-12 1 8 1-18 1 0 1 12 1 5 1 13 1 10 1-22 1-14 1 12 1 2 1-22 1 10 1-3 1-5 1 4 1 3 1 3 1-2 1 17 1-5 1-5 1 13 1-11 1 8 1 26 1 11 1-15 1-17 1-1 1 11 1-6 1-17 1-2 1 15 1-11 1-1 1-1 1-3 1-8 1 1 1 11 1-1 1-4 1-15 1 16 1 0 1 8 1-7 1 5 1 32 1-22 1 1 1 7 1 9 1 3 1 4 1-10 1-11 1-6 1-9 1 7 1-11 1-1 1-6 1-7 1 6 1-14 1-5 1 9 1-17 1-12 1 28 1 28 1 3 1-10 1-13 1-6 1 2 1-9 1-4" vector-effect="non-scaling-stroke"/>
<path id="p35" d="M0 181l1 9 1 6 1-3 1-2 1-2 1 13 1 5 1-5 1-4 1 1 1-11 1 4 1-6 1-5 1 1 1 5 1-3 1 0 1-1 1 10 1-3 1-10 1 6 1 2 1 4 1-5 1 18 1-14 1-2 1 3 1-1 1-7 1 1 1-2 1-6 1 4 1-2 1-6 1 1 1 11 1-3 1-12 1 9 1 1 1 1 1-3 1 8 1 3 1-13 1 0 1 10 1-3 1 3 1-9 1 17 1 0 1-7 1 12 1 5 1-5 1-1 1 2 1-3 1 10 1 4 1-17 1 6 1-4 1 0 1-6 1-1 1-1 1-7 1 2 1 16 1 4 1-12 1-7 1 5 1 14 1 4 1-18 1-7 1-6 1 17 1 11 1 3 1 7 1-5 1 5 1-8 1 0 1 2 1-8 1-4 1-1 1 3 1 0 1 14 1 11 1-2 1-7 1-17 1-3 1 8 1 2 1 8 1-4 1-2 1-2 1-4 1-8 1-4 1 11 1-7 1 9 1-4 1-1 1-12 1 4 1 3 1 3 1-6 1 0 1 4 1-5 1-13 1-7 1-3 1 12 1 6 1 2 1 16 1-14 1 14 1-4 1 9 1-3 1-7 1-4 1 8 1 4 1-8 1 1 1-1 1-7 1 21 1-5 1-11 1-13" vector-effect="non-scaling-stroke"/>
<path id="p36" d="M0 212l1-22 1 13 1 11 1 6 1-9 1 12 1-40 1 9 1-25 1 12 1 9 1 13 1 11 1-10 1-20 1 2 1 17 1-4 1 12 1 38 1-15 1 18 1-4 1-13 1-3 1-4 1-30 1-14 1-19 1 5 1 4 1-20 1 20 1 2 1 4 1 0 1-4 1 4 1-7 1 19 1-6 1 19 1-17 1-12 1 9 1 11 1 1 1-7 1 25 1 11 1-20 1 1 1 18 1 27 1-6 1 15 1-17 1-10 1-36 1 19 1-13 1 17 1 10 1-4 1 6 1-36 1 2 1 12 1-37 1 18 1 8 1 4 1 11 1-13 1-18 1 24 1 5 1 3 1 17 1 12 1-5 1 4 1-15 1-19 1-5 1-5 1 14 1 6 1-10 1-11 1 2 1-7 1 5 1 19 1-9 1 5 1 22 1-21 1-9 1-11 1 9 1-23 1-2 1-8 1 17 1 8 1-17 1 6 1 4 1-19 1-9 1 7 1-20 1 36 1 5 1 12 1-22 1-17 1 17 1 3 1-9 1 0 1 3 1-8 1-21 1 12 1 27 1 6 1 3 1 7 1-10 1-9 1-9 1 0 1 3 1 21 1 6 1 12 1-8 1 0 1-1 1-9 1 5 1-16 1-12 1 21 1-18 1 11 1 14 1 4" vector-effect="non-scaling-stroke"/>
<path id="p37" d="M0 216l1-2 1-6 1-3 1 18 1-25 1 48 1-1 1 34 1-35 1 21 1 11 1-19 1 10 1-24 1-2 1-57 1 32 1 15 1-22 1-6 1-12 1 9 1-23 1-3 1-26 1 45 1-5 1 8 1-9 1 25 1-23 1 34 1-28 1-12 1 46 1-17 1 42 1-27 1 31 1-14 1-5 1 28 1 27 1-36 1-4 1-40 1-3 1-69 1 10 1-31 1 11 1 14 1 0 1 31 1 20 1-40 1 15 1 33 1-14 1 21 1-6 1-29 1-26 1-33 1-8 1 5 1 7 1 11 1 17 1-43 1 24 1-24 1 24 1-13 1 87 1-6 1 13 1-42 1-30 1 28 1 8 1-18 1 2 1 5 1-16 1 42 1-38 1-1 1 78 1 12 1-11 1-64 1 6 1 40 1-38 1-6 1 5 1-21 1 18 1 7 1-21 1-3 1-15 1 21 1-33 1 49 1 35 1-18 1 6 1-8 1-2 1 3 1 24 1-15 1-35 1 25 1-46 1-28 1 38 1-12 1 37 1 4 1 27 1 6 1 36 1-13 1 11 1 5 1 29 1-26 1-63 1 6 1-1 1 23 1 2 1 10 1 25 1 2 1-7 1-25 1-3 1-17 1-37 1-19 1 18 1 45 1-3 1-9 1-29 1-1" vector-effect="non-scaling-stroke"/>
<path id="p38" d="M0 225l1-15 1-15 1-38 1 11 1 11 1 24 1 16 1 21 1 18 1-27 1-8 1-12 1 22 1 24 1 14 1-45 1-26 1 21 1-8 1-7 1 14 1 4 1-23 1-13 1-13 1 0 1 3 1-4 1 8 1-24 1 5 1 0 1 9 1 17 1 2 1 7 1 12 1-17 1-32 1 4 1 9 1 17 1 25 1-15 1-11 1 14 1-4 1 13 1-28 1 0 1-5 1-24 1 46 1-9 1-4 1 6 1 0 1-21 1 16 1 11 1-30 1-11 1 1 1-5 1 8 1 12 1 6 1-2 1 11 1 26 1-3 1-10 1-1 1-13 1-4 1-14 1 3 1 7 1-7 1-10 1 14 1 18 1-23 1 13 1-5 1 10 1-3 1-22 1-21 1 33 1 27 1 51 1-26 1-35 1-5 1 5 1-14 1 18 1-13 1-20 1-14 1-2 1 19 1 11 1 18 1-32 1-14 1 11 1 8 1 2 1 15 1-7 1-6 1-3 1 4 1 45 1-4 1 17 1 17 1-52 1 7 1-1 1 2 1 10 1-32 1 32 1-14 1 7 1-25 1-12 1 4 1 28 1-16 1-15 1-6 1 11 1-7 1 18 1-3 1-4 1 6 1 17 1 1 1 11 1 13 1-26 1-1 1 6 1 4 1-12" vector-effect="non-scaling-stroke"/>
<path id="p39" d="M0 203l1-5 1 7 1-7 1-2 1 2 1-3 1 3 1-2 1 8 1-13 1 4 1-9 1-14 1-6 1 8 1 4 1 5 1 1 1 10 1 15 1-5 1-2 1-14 1-12 1 16 1 9 1-7 1-9 1 2 1 2 1 17 1-21 1 9 1-4 1-1 1 9 1-7 1-10 1 4 1 2 1-3 1-4 1-3 1 12 1 10 1 4 1 20 1 4 1-6 1-1 1 1 1-13 1-5 1-8 1 2 1 3 1 6 1-4 1 13 1 3 1-10 1-10 1 0 1 9 1-7 1 5 1-1 1 6 1-18 1-10 1 10 1 11 1-1 1-6 1-10 1 3 1 12 1-3 1-3 1 14 1-1 1-1 1 6 1-6 1-11 1-8 1 10 1 4 1-7 1 3 1 3 1-19 1 25 1 2 1 4 1-4 1-16 1 2 1 3 1-2 1 3 1-3 1-20 1 11 1 4 1 2 1 18 1-8 1-1 1 14 1-2 1-6 1 5 1-13 1 4 1 10 1-10 1-1 1-3 1 13 1 7 1 2 1-5 1-4 1-15 1-12 1 2 1 3 1-14 1 5 1-4 1 8 1 4 1 4 1 6 1-3 1 6 1 0 1-5 1-17 1 19 1-1 1-6 1 4 1-7 1-2 1-2 1 6 1 3 1 3" vector-effect="non-scaling-stroke"/>
<path id="p40" d="M0 198l1 4 1 19 1-2 1-11 1-22 1-12 1-18 1 4 1 21 1 9 1-23 1 6 1-17 1 36 1 9 1 12 1-9 1 11 1 17 1-8 1 30 1-5 1-20 1 11 1-10 1 6 1-4 1-13 1-13 1-9 1 12 1-28 1-1 1 14 1-21 1 13 1-29 1-4 1 12 1 16 1 17 1 12 1 1 1-25 1-1 1 4 1-5 1 8 1 21 1 20 1-32 1 3 1-28 1-26 1 7 1-3 1 16 1 9 1 2 1 4 1-22 1 10 1-9 1 6 1-4 1-23 1 39 1-16 1 17 1 0 1 9 1 8 1 21 1 37 1-50 1-18 1 5 1 31 1-19 1-29 1-3 1 33 1 6 1-9 1-1 1-21 1 19 1 9 1 37 1-32 1-16 1 6 1 27 1-23 1 19 1 13 1 21 1 6 1-2 1 0 1-36 1-20 1-5 1 7 1-3 1 18 1-14 1 11 1 1 1-13 1 11 1 16 1-28 1 25 1 12 1 6 1-2 1-12 1 43 1-13 1-42 1-28 1-16 1 5 1-2 1 11 1 28 1-14 1-22 1-3 1 3 1-13 1-1 1-14 1 16 1 35 1-13 1-16 1 16 1-5 1-12 1 50 1-51 1-9 1 9 1 23 1 24 1-64 1 13 1-7" vector-effect="non-scaling-stroke"/>
<path id="p41" d="M0 193l1 11 1-6 1 4 1 2 1 1 1 8 1-18 1 17 1-6 1 11 1-14 1 1 1-3 1-6 1-3 1 0 1-2 1-2 1 7 1 4 1 2 1 7 1 3 1-17 1 16 1-20 1 7 1-6 1 2 1 3 1-5 1-16 1 7 1 4 1 9 1-20 1-7 1-4 1 8 1 26 1-5 1 20 1 3 1-15 1 5 1 5 1 19 1-15 1-9 1 3 1-6 1 15 1 5 1-8 1-14 1 0 1 12 1 1 1-15 1 6 1-4 1-6 1 7 1-1 1 18 1 0 1-5 1-11 1-14 1 7 1-4 1 3 1 9 1 6 1-2 1-3 1 6 1-31 1 5 1-4 1 7 1-26 1 32 1 5 1-2 1-12 1 4 1 12 1-16 1-4 1 7 1 5 1 4 1-1 1 18 1-5 1 4 1-9 1-5 1 11 1-17 1-6 1 12 1 11 1 4 1-7 1-15 1 11 1 7 1-8 1-1 1 0 1 1 1 2 1-19 1-6 1 8 1-10 1-14 1 4 1 5 1 12 1 2 1 1 1-10 1 15 1 18 1 3 1-8 1 19 1-4 1 3 1 6 1-9 1-17 1 13 1-7 1-1 1-9 1 0 1 7 1-11 1-3 1 12 1 19 1 1 1-8 1-12 1 5 1 1" vector-effect="non-scaling-stroke"/>
<path id="p42" d="M0 196l1 7 1-8 1-2 1 17 1 1 1 2 1-15 1 20 1 8 1-2 1-7 1-43 1 8 1-13 1-6 1-12 1-17 1 6 1 30 1 12 1-21 1-25 1-6 1-22 1 11 1 33 1 9 1 4 1-7 1-4 1 24 1-14 1 17 1-1 1-7 1-5 1-2 1 16 1 6 1-13 1 12 1 21 1 38 1-13 1 5 1-11 1 10 1-4 1-3 1-24 1 12 1 13 1-10 1-19 1 13 1-13 1-2 1-9 1 31 1-8 1 0 1-8 1 9 1-3 1 31 1-11 1-31 1-4 1-1 1-6 1-21 1 18 1 26 1 14 1 3 1-10 1-19 1 11 1 12 1-21 1-19 1 16 1-13 1 5 1 9 1 1 1 13 1 23 1 13 1-2 1-17 1-15 1-19 1 13 1-3 1 21 1 8 1-27 1-1 1-33 1-5 1 14 1 14 1 34 1-30 1-18 1-55 1-16 1 15 1 34 1 38 1 5 1-2 1 23 1-19 1-18 1 18 1 1 1 20 1-24 1 13 1 13 1 24 1 2 1 14 1-36 1-19 1 15 1 6 1-8 1-10 1 12 1-30 1-11 1-31 1 55 1 22 1-21 1-8 1 2 1 16 1-15 1 6 1-27 1-16 1-8 1 38 1-6 1-29 1-23" vector-effect="non-scaling-stroke"/>
<path id="p43" d="M0 189l1-25 1 49 1 7 1 23 1-35 1-8 1-12 1-5 1-1 1-4 1 12 1 35 1-13 1-3 1 6 1 6 1-28 1 13 1 15 1-17 1-27 1 27 1 14 1 12 1-15 1-14 1-25 1 6 1 8 1 11 1-20 1 14 1 14 1 1 1-3 1-9 1 10 1-32 1-27 1 31 1 1 1 21 1 3 1 19 1-2 1-11 1-7 1 21 1 26 1 17 1-38 1-5 1-9 1-29 1 19 1-9 1 11 1-6 1 30 1-2 1-7 1-9 1 20 1-5 1-23 1-1 1-16 1-9 1 0 1 10 1 1 1 17 1-14 1-5 1-18 1-31 1 0 1 5 1 10 1-4 1-12 1 19 1 31 1 25 1-21 1-7 1-6 1 32 1 6 1 20 1 9 1-3 1 0 1-39 1 19 1 4 1 5 1-11 1-18 1 11 1 24 1-4 1-16 1 13 1-25 1 14 1 5 1 0 1-39 1-11 1 0 1 22 1 18 1 7 1-33 1-20 1 4 1 18 1 30 1 2 1-16 1-12 1-6 1 13 1-10 1 4 1-15 1 0 1-9 1 0 1 14 1-17 1 24 1-11 1 11 1 7 1-6 1 9 1 16 1 9 1 11 1-11 1-13 1-4 1 22 1-11 1-23 1 19 1 9 1-23" vector-effect="non-scaling-stroke"/>
<path id="p44" d="M0 215l1-4 1 22 1 2 1-8 1 0 1 4 1-7 1 1 1 4 1-4 1-7 1-9 1 19 1-3 1-21 1 16 1-7 1 3 1-18 1-14 1 0 1 10 1 20 1 3 1 6 1-7 1-23 1-21 1 3 1 4 1 7 1-1 1 6 1-19 1 16 1 1 1 10 1-12 1-19 1 0 1 5 1 6 1-2 1 11 1-18 1-14 1-2 1 1 1 16 1-15 1 27 1 12 1-25 1 12 1 14 1 20 1-17 1-15 1 1 1 22 1-1 1 7 1-15 1-18 1-1 1-1 1-14 1-12 1 25 1 0 1 19 1 9 1-16 1 15 1 0 1-17 1-3 1 22 1-1 1 0 1 9 1-29 1 2 1 1 1-10 1 2 1 20 1-1 1-6 1-2 1-11 1-7 1-1 1 8 1 3 1-20 1 27 1-12 1-1 1 12 1 2 1-7 1 19 1-4 1-8 1 11 1-3 1-18 1 1 1 13 1 19 1 16 1-21 1-2 1-2 1 0 1 6 1-25 1-7 1-14 1 22 1-6 1-4 1 17 1 11 1 7 1-17 1-3 1 9 1-10 1 8 1-3 1 1 1 9 1-14 1-1 1 28 1-4 1-23 1 27 1-17 1-5 1 14 1-4 1 10 1 12 1-13 1-9 1 18 1-1" vector-effect="non-scaling-stroke"/>
<path id="p45" d="M0 180l1 22 1-3 1-5 1 23 1 10 1 6 1-8 1-4 1-3 1-10 1-23 1 12 1-2 1 0 1-9 1 22 1 11 1 4 1 4 1-10 1 0 1 13 1-2 1 7 1-3 1-6 1 0 1-18 1-22 1-1 1 17 1-14 1-15 1 8 1 1 1-6 1 4 1-6 1 1 1 11 1 8 1 3 1 6 1-12 1-1 1 4 1-6 1 2 1-7 1-10 1 5 1 10 1 13 1-16 1 0 1 9 1 2 1 10 1-13 1-2 1 5 1 14 1-21 1 1 1 21 1 2 1-3 1-4 1 7 1-13 1-6 1 1 1 7 1 14 1 0 1-3 1 7 1-8 1-10 1 3 1 2 1-2 1-16 1-10 1 19 1 5 1-23 1 7 1-12 1 1 1-5 1 10 1 4 1-2 1 4 1 4 1-11 1 6 1-8 1 10 1 5 1-5 1-2 1-5 1 4 1 4 1 6 1 15 1 0 1-12 1 1 1-2 1-11 1 11 1-2 1 5 1-10 1 15 1 1 1 3 1 0 1 2 1-19 1 3 1 2 1 13 1 8 1 2 1 5 1-11 1 1 1 0 1-3 1 4 1 7 1-1 1-7 1-4 1 4 1-18 1-3 1-4 1-11 1 12 1-6 1 1 1 1 1 16 1 5 1-2" vector-effect="non-scaling-stroke"/>
<path id="p46" d="M0 224l1-9 1-10 1-3 1-6 1-20 1 11 1-12 1-19 1 43 1 2 1-16 1-1 1 10 1-15 1-6 1 24 1-9 1 4 1-1 1 14 1-8 1-2 1 11 1 1 1-18 1-15 1 22 1-6 1 5 1 6 1-4 1-17 1-2 1 15 1 0 1-4 1-11 1 6 1 1 1 0 1-4 1 24 1-17 1-2 1 2 1 14 1-4 1-23 1 12 1 20 1-7 1-2 1 0 1 17 1-10 1-9 1 48 1-14 1-17 1 6 1 18 1-12 1-31 1-3 1-24 1 3 1 9 1 13 1-15 1 20 1 6 1 3 1-6 1-2 1 16 1 9 1-26 1-1 1 0 1 3 1-4 1 9 1-15 1-8 1 4 1-8 1 7 1 7 1-9 1 4 1 11 1-18 1 6 1-2 1-14 1 21 1 5 1-11 1 6 1 7 1 1 1 3 1 2 1-7 1-1 1-19 1 1 1-14 1 7 1-13 1 11 1-7 1 7 1-11 1 18 1 10 1-2 1 14 1-17 1 6 1-4 1-8 1-1 1 13 1 17 1 17 1 4 1 1 1 1 1-13 1 11 1 11 1-12 1-27 1 10 1-1 1-2 1-14 1-8 1 8 1-8 1 3 1-6 1-16 1 33 1 16 1 11 1 7 1-10 1-7" vector-effect="non-scaling-stroke"/>
<path id="p47" d="M0 212l1-36 1 24 1 25 1-11 1 0 1 29 1-41 1-20 1 26 1 1 1-1 1 25 1-16 1 26 1 27 1-51 1 9 1 10 1-5 1 7 1-59 1-6 1-14 1-11 1-36 1 71 1-14 1 2 1 4 1-21 1-4 1 50 1-7 1 5 1-26 1 53 1-22 1-5 1-16 1-5 1 51 1-24 1-1 1 16 1-27 1 1 1-36 1-15 1 38 1-14 1 8 1 6 1 7 1-21 1 25 1-9 1 38 1-13 1 25 1 20 1-13 1 14 1-39 1 20 1-46 1-17 1 4 1-9 1 2 1-46 1 7 1 30 1 0 1 17 1 6 1 17 1 11 1-23 1 3 1-16 1 12 1 4 1 12 1-31 1-31 1 16 1-11 1 45 1 30 1-23 1 39 1-74 1-15 1-27 1 20 1 44 1 23 1 17 1-27 1 23 1 12 1-45 1 29 1 9 1-39 1-55 1 53 1 58 1 4 1-18 1-8 1 6 1 21 1-32 1 6 1 8 1-10 1-39 1-1 1-56 1 25 1-3 1 61 1 12 1-6 1 11 1 11 1 2 1 12 1-2 1-15 1-18 1 20 1-6 1 10 1-32 1-43 1 3 1-3 1 14 1-7 1 10 1 33 1-34 1-48 1 1 1 15 1 1 1-28 1 29" vector-effect="non-scaling-stroke"/>
<path id="p48" d="M0 200l1-6 1 3 1-11 1 10 1-4 1-6 1-1 1-3 1 17 1-10 1 8 1 3 1 11 1-7 1 4 1 5 1-11 1 8 1-7 1-3 1-7 1 1 1 15 1-4 1-6 1-22 1-16 1-1 1-2 1 40 1 6 1 11 1-11 1-8 1-6 1-4 1-2 1 5 1 9 1-8 1 2 1-11 1 9 1 5 1 10 1-9 1 10 1 25 1 1 1-1 1-8 1-2 1-21 1-4 1-11 1-13 1-6 1-2 1 14 1-1 1 6 1-5 1 11 1-5 1 9 1-8 1-11 1-8 1 12 1-10 1 27 1-2 1 18 1-4 1 11 1-5 1 4 1-20 1-25 1-4 1-4 1 2 1 9 1 8 1 17 1 8 1-12 1 5 1-6 1 11 1-29 1-11 1 8 1-16 1 4 1-4 1 11 1 12 1-13 1-2 1-2 1-4 1 8 1 12 1-1 1 24 1-3 1-14 1 5 1-20 1 10 1 15 1-7 1 4 1-7 1 10 1-7 1 0 1-1 1-9 1 13 1 2 1-12 1-11 1-2 1 19 1 0 1 6 1 4 1 17 1 19 1-21 1-14 1 16 1-1 1-5 1 3 1-10 1 3 1 14 1-1 1-11 1 8 1-14 1-13 1-5 1-3 1 5 1-4 1 12" vector-effect="non-scaling-stroke"/>
<path id="p49" d="M0 208l1-5 1-9 1 38 1 8 1-9 1-22 1-25 1-24 1 20 1 2 1 11 1 13 1 2 1-5 1-15 1 24 1-3 1 12 1-28 1-26 1 14 1 14 1-10 1-12 1 20 1 7 1-6 1 16 1-26 1 2 1 1 1 19 1-21 1 23 1 7 1 4 1-4 1 17 1 2 1-18 1-5 1-6 1-17 1-5 1-13 1 6 1 18 1-25 1 32 1 20 1 11 1-45 1 0 1-14 1 29 1 15 1-10 1 4 1-6 1-12 1-1 1 0 1-3 1 5 1-5 1-13 1 19 1-5 1-12 1 7 1 4 1-27 1-9 1-24 1-12 1 24 1 24 1 12 1-9 1 58 1-8 1-25 1 0 1-5 1 5 1 26 1-21 1 3 1-9 1 0 1-29 1 1 1 1 1 8 1 18 1-6 1-14 1 6 1 37 1 6 1-36 1 11 1-3 1 29 1 2 1 6 1-21 1-13 1-9 1-13 1 12 1-23 1 11 1-9 1-24 1 21 1 3 1 9 1 3 1 0 1 5 1 3 1-8 1 24 1 10 1 3 1 16 1-14 1 2 1 7 1 13 1 3 1-18 1 12 1-24 1-13 1-6 1 27 1 5 1-23 1 4 1 9 1 6 1-12 1 25 1-25 1-7 1 14 1-14 1 40" vector-effect="non-scaling-stroke"/>
<path id="p50" d="M0 187l1 9 1-14 1-30 1 5 1 17 1 2 1 21 1-34 1 29 1 18 1-21 1 5 1 22 1-21 1-20 1 33 1-14 1-16 1-28 1 4 1-3 1 9 1-3 1-20 1 3 1 24 1 9 1-28 1 34 1 14 1 12 1-25 1 19 1 6 1-1 1-12 1-10 1 23 1 17 1 18 1-31 1 1 1-7 1-2 1 24 1 21 1 6 1-47 1 4 1-12 1 17 1-49 1 6 1 33 1 6 1-9 1-18 1 9 1-10 1-2 1 1 1 11 1-6 1-16 1 6 1 11 1-45 1 2 1 2 1 37 1-15 1 34 1-22 1-1 1 12 1 13 1-5 1 6 1 27 1-27 1 24 1-6 1 2 1-34 1 28 1-23 1-8 1 51 1 14 1-3 1 5 1-18 1-20 1-23 1 13 1-11 1 4 1-9 1 2 1 2 1 6 1-10 1 0 1 18 1 32 1-28 1-17 1 2 1-21 1 6 1 6 1 9 1-22 1-26 1 15 1 19 1-15 1-8 1-2 1 33 1-4 1-1 1 7 1-7 1 5 1-6 1 3 1 6 1-29 1 8 1-5 1-9 1 25 1 5 1 16 1 0 1 17 1-21 1-2 1 20 1-14 1 14 1 18 1-18 1-7 1 8 1-19 1-9 1-2 1-16" vector-effect="non-scaling-stroke"/>
<path id="p51" d="M0 196l1 5 1-1 1 12 1-13 1-1 1 5 1-8 1 16 1 5 1-7 1-16 1 7 1-17 1-6 1 14 1-2 1-7 1 14 1-13 1 19 1-13 1-8 1-10 1 0 1 5 1 21 1-16 1-1 1-3 1 12 1 23 1-7 1 7 1-2 1-8 1 12 1-8 1 6 1 3 1-11 1 13 1 1 1-2 1-13 1 0 1-7 1 12 1 12 1-3 1-19 1-4 1 6 1 6 1-14 1-3 1 16 1 17 1-23 1-1 1 1 1-3 1 2 1 2 1 1 1 19 1-2 1 0 1-14 1-10 1 5 1 2 1-1 1-18 1-5 1 12 1-10 1 14 1-9 1 4 1 14 1 4 1 0 1-11 1-11 1 21 1 3 1-12 1-3 1-3 1-3 1-4 1-8 1 10 1 25 1-7 1 6 1 13 1-5 1 3 1-4 1 15 1-12 1-4 1-5 1 4 1 5 1-14 1-7 1 4 1 11 1-8 1 4 1-10 1 7 1-3 1-3 1 5 1-6 1 14 1-15 1 4 1 4 1 1 1 2 1 5 1-5 1 4 1 0 1-5 1 1 1 5 1-10 1-19 1 10 1-7 1 10 1 4 1 10 1 3 1 3 1-3 1 0 1-24 1 11 1-6 1-6 1 19 1 14 1-14 1 9" vector-effect="non-scaling-stroke"/>
<path id="p52" d="M0 195l1 4 1-7 1 10 1-2 1-6 1 13 1-5 1 3 1 6 1 8 1-6 1 1 1-1 1-10 1 23 1-14 1-21 1 2 1 4 1 2 1-8 1-17 1 12 1 27 1-6 1-1 1-1 1 0 1 16 1-8 1 2 1-6 1 1 1 4 1 11 1-18 1-1 1-5 1-13 1-1 1 1 1 21 1-12 1-6 1 10 1 12 1-7 1 0 1-14 1 13 1-1 1-7 1-3 1 11 1 10 1 0 1-21 1 7 1 3 1-8 1-3 1-9 1 9 1 7 1-7 1 3 1 1 1 9 1 4 1 4 1 1 1 2 1-2 1-2 1-12 1-14 1 5 1-10 1 0 1 22 1-3 1 11 1-12 1 4 1-14 1-9 1 8 1 10 1-8 1 9 1 0 1-8 1 3 1-5 1-13 1 2 1 0 1 9 1 24 1-5 1-2 1-6 1 0 1 4 1 4 1-3 1 6 1 8 1-7 1-3 1-7 1 4 1-1 1 6 1 0 1-9 1-15 1 6 1-2 1 8 1 11 1 2 1-1 1-1 1 4 1-5 1-11 1 4 1-4 1-4 1-7 1-2 1-4 1 4 1 13 1 9 1 2 1 5 1 2 1-2 1-4 1 1 1-6 1-17 1 11 1 4 1 8 1-12 1-7 1 12" vector-effect="non-scaling-stroke"/>
<path id="p53" d="M0 198l1 19 1-22 1-10 1-6 1-14 1 0 1 2 1-11 1 16 1 21 1-10 1 6 1-9 1-3 1 13 1 2 1 14 1-3 1 0 1-10 1-20 1 3 1 8 1 2 1 4 1 6 1-2 1 13 1 7 1-7 1-13 1-5 1 5 1-12 1 0 1-15 1 2 1 7 1 18 1-13 1-7 1-10 1 14 1 17 1-15 1 4 1 30 1-11 1 12 1-20 1-12 1 26 1-7 1-1 1-8 1 14 1 13 1-15 1 19 1-5 1-11 1-11 1-4 1-24 1-6 1 10 1 7 1 13 1-2 1-22 1-1 1 8 1 19 1 28 1-6 1 4 1-10 1 9 1-14 1 0 1 5 1-7 1 3 1-2 1 6 1-8 1 17 1-5 1-10 1-12 1-5 1-12 1 2 1-24 1 17 1 29 1 23 1 15 1-10 1 11 1 6 1-19 1 13 1-11 1-17 1-17 1-1 1 16 1 9 1-21 1-18 1 10 1-8 1-4 1 9 1-9 1 15 1-5 1-4 1 5 1 9 1-17 1 13 1 11 1 14 1-2 1-3 1 5 1-17 1-3 1-6 1 17 1 0 1-20 1-10 1-1 1-8 1-1 1 3 1 2 1 0 1 10 1-17 1-20 1 10 1 10 1-19 1 7 1 3 1 4" vector-effect="non-scaling-stroke"/>
<path id="p54" d="M0 184l1-8 1-5 1-17 1 18 1 12 1-2 1-3 1-3 1 11 1 5 1-16 1-3 1-2 1-3 1-13 1 11 1 3 1 21 1 4 1-4 1-6 1 9 1 13 1 5 1 16 1 2 1-8 1-12 1-19 1-1 1 9 1-4 1 3 1-11 1-9 1 20 1 2 1-23 1-8 1 8 1 35 1-11 1-6 1 1 1-8 1-2 1-4 1 6 1 3 1-3 1 5 1 12 1 10 1-8 1 5 1 5 1 1 1-12 1 18 1 18 1-14 1-6 1-21 1 2 1 13 1-8 1-6 1-5 1-4 1-20 1 9 1 0 1 4 1 20 1 10 1 4 1-2 1 7 1-21 1-1 1 9 1 4 1-5 1 3 1 7 1 6 1-7 1-23 1 28 1-2 1-7 1 4 1-27 1 0 1 18 1-5 1 10 1-12 1-1 1-13 1 12 1-5 1-15 1 7 1 13 1 3 1-4 1 3 1-5 1-11 1 11 1 16 1 5 1 11 1 0 1-5 1 10 1-9 1-6 1 11 1-3 1 10 1-15 1-3 1-9 1-16 1-5 1 4 1-1 1 7 1 1 1-17 1 11 1 3 1-1 1-2 1-5 1 15 1 5 1-1 1-4 1-7 1-2 1 1 1 11 1 10 1 8 1-13 1-18 1 11" vector-effect="non-scaling-stroke"/>
<path id="p55" d="M0 149l1-9 1 12 1 31 1 16 1 5 1 9 1-10 1-12 1-29 1-11 1 33 1-39 1 14 1 16 1 36 1-6 1-41 1 8 1-3 1 0 1-11 1 22 1 18 1-12 1-14 1 18 1-6 1-14 1 0 1 14 1-33 1-14 1 4 1 16 1 31 1 10 1-2 1 17 1-22 1 22 1-32 1 10 1 15 1 2 1-11 1-19 1 24 1-13 1 10 1 22 1 14 1-31 1 22 1 3 1-8 1-32 1 39 1-11 1-7 1 25 1-2 1-3 1-18 1 2 1 5 1-8 1-22 1 25 1-5 1 1 1-2 1-18 1 12 1 25 1-3 1 15 1-38 1-24 1 24 1-1 1 28 1-4 1 2 1-40 1-5 1 0 1-15 1 15 1-7 1 18 1 12 1-35 1 56 1-17 1 10 1-21 1 13 1-5 1 21 1-26 1 13 1 21 1 47 1 11 1-36 1 8 1 6 1-18 1-10 1-13 1-2 1-39 1 23 1 9 1-1 1-14 1-27 1 5 1-10 1-1 1-45 1 30 1-14 1 15 1 6 1-4 1-12 1 24 1 9 1 21 1 46 1-49 1-3 1 2 1 14 1 1 1-10 1-22 1-1 1 3 1 22 1 9 1-4 1 30 1-1 1-11 1-35 1 32 1 17 1-25" vector-effect="non-scaling-stroke"/>
<path id="p56" d="M0 197l1-3 1 19 1 1 1 1 1-15 1-2 1 0 1 8 1-7 1 3 1-11 1 4 1 1 1-5 1-3 1 18 1-4 1-1 1 18 1 7 1-17 1-6 1 3 1-11 1 18 1-18 1 7 1-16 1 7 1 6 1-3 1 3 1-11 1-6 1 8 1 3 1 1 1-16 1 5 1-7 1 6 1 12 1 17 1-5 1-7 1-3 1-13 1-3 1-14 1 1 1 17 1-8 1 16 1 3 1 13 1-12 1-14 1 18 1 8 1 5 1 15 1-6 1-3 1 9 1 16 1 4 1-15 1 7 1-10 1-9 1-13 1-1 1-4 1-15 1 9 1 1 1-13 1 16 1-7 1 28 1 11 1 8 1-8 1-8 1 17 1-29 1-25 1-10 1 8 1-2 1 11 1 7 1 7 1-6 1 4 1 3 1-21 1 6 1-5 1-2 1 7 1 5 1-12 1 8 1-6 1 6 1 5 1-16 1 21 1 5 1 3 1-8 1 5 1-4 1-9 1-20 1-4 1 20 1-16 1 5 1 14 1-2 1 11 1 2 1 7 1 1 1 21 1-23 1-4 1-11 1-4 1 2 1-13 1-9 1 9 1-4 1 8 1 8 1-4 1 1 1 3 1 21 1 4 1-6 1-11 1-8 1 7 1-6 1 13 1-7" vector-effect="non-scaling-stroke"/>
<path id="p57" d="M0 190l1-5 1 3 1-2 1 14 1 21 1 1 1-1 1-4 1 2 1 6 1-9 1-9 1 1 1 2 1-3 1 5 1-9 1 6 1 20 1-28 1-5 1-10 1 6 1 3 1 1 1-1 1 3 1 10 1-9 1-1 1-22 1 15 1 6 1 1 1 23 1 4 1 16 1-3 1-11 1-9 1-17 1-3 1-11 1-3 1 29 1-5 1 15 1-13 1-18 1-14 1 1 1 5 1 19 1-9 1-2 1 5 1 15 1 13 1-1 1-16 1-2 1 8 1-13 1-13 1 0 1 5 1-1 1 3 1-6 1 15 1-15 1 2 1-25 1 32 1 10 1 15 1-6 1-9 1 4 1-5 1-5 1 9 1-3 1 11 1 0 1 2 1 3 1 6 1-11 1-5 1-24 1 27 1-3 1-5 1-9 1-3 1-26 1 16 1 22 1-9 1 10 1-5 1 2 1-26 1 16 1-18 1 0 1 3 1 3 1 15 1 0 1-2 1 4 1 14 1 2 1-2 1-2 1 13 1-9 1-18 1 2 1-17 1 0 1 9 1 13 1 12 1 3 1-3 1 7 1-3 1-26 1 23 1-8 1-5 1-6 1-5 1 1 1 5 1 2 1 9 1 5 1-6 1-4 1-4 1 7 1 11 1-30 1-4 1-8 1 2" vector-effect="non-scaling-stroke"/>
<path id="p58" d="M0 200l1 3 1 6 1-13 1 5 1-23 1 16 1 36 1 3 1-16 1-9 1-11 1-10 1-20 1 14 1-10 1 3 1 8 1-16 1-12 1 30 1-9 1-6 1 23 1 10 1 1 1 1 1-15 1-14 1 22 1 34 1 2 1-14 1-10 1-21 1-15 1-9 1 21 1-15 1 18 1-20 1-6 1 1 1-2 1 1 1 9 1 23 1-11 1-5 1-4 1 8 1-9 1 13 1 18 1-16 1 4 1 9 1 4 1-23 1-1 1 9 1 14 1 8 1-3 1 15 1-3 1-2 1 9 1-3 1 4 1-10 1-25 1-23 1 19 1 3 1-6 1 6 1 20 1 4 1 7 1 7 1-11 1-5 1 6 1-26 1 4 1-22 1 9 1 0 1 7 1 4 1 13 1 13 1 6 1-17 1-14 1-11 1 19 1-20 1-3 1 16 1 3 1 1 1-4 1 25 1 12 1-17 1-12 1 10 1-4 1-15 1-1 1 4 1 21 1 8 1-13 1-5 1-9 1 13 1 26 1-3 1-4 1-6 1-25 1-18 1-1 1 3 1-2 1 6 1-12 1 25 1-12 1-3 1 6 1 20 1-8 1 11 1 10 1-6 1-3 1-5 1 6 1-5 1-25 1 2 1 13 1 9 1 4 1-23 1-6 1-16" vector-effect="non-scaling-stroke"/>
<path id="p59" d="M0 208l1-7 1-32 1 35 1 8 1 2 1-11 1 32 1-18 1 26 1-29 1-2 1 6 1-22 1 0 1 20 1-23 1 7 1-6 1-25 1 36 1-16 1-15 1-38 1 53 1-14 1-38 1 8 1 12 1 18 1 40 1-31 1 29 1 34 1-28 1-26 1-16 1-11 1 28 1 3 1 7 1 17 1-13 1 19 1-3 1-35 1 4 1 5 1-15 1 29 1-10 1-24 1-6 1 22 1-16 1 14 1-14 1 26 1 21 1-37 1 7 1 5 1 26 1 4 1-37 1-8 1 4 1 41 1-24 1-10 1-22 1 16 1-8 1 16 1 31 1 32 1-30 1 0 1-5 1 27 1-47 1 11 1 33 1 15 1-3 1-34 1-15 1-13 1 15 1-20 1 3 1-20 1 23 1 13 1 15 1 7 1 9 1-21 1 4 1 26 1-4 1 3 1 22 1-21 1-15 1-8 1-36 1 33 1-19 1-6 1 20 1-31 1 27 1-7 1-14 1 9 1 13 1-22 1-22 1 17 1-24 1 2 1 32 1-16 1 6 1 12 1-9 1-6 1 19 1 9 1-17 1-15 1-31 1 12 1 5 1 23 1-38 1 6 1 0 1-17 1-1 1 29 1 13 1-20 1 1 1 18 1 8 1-20 1 30 1 2 1-24" vector-effect="non-scaling-stroke"/>
<path id="p60" d="M0 185l1-1 1 1 1 11 1 1 1-5 1 15 1-7 1-3 1-12 1 9 1-11 1 3 1 1 1-3 1-12 1 0 1-6 1 7 1 2 1 0 1 14 1 1 1 0 1-2 1-8 1 0 1 2 1 3 1 3 1 11 1 1 1 5 1 7 1-10 1 5 1 4 1 8 1-13 1-12 1-2 1 4 1-3 1-3 1 2 1-1 1 13 1-3 1 2 1 0 1-1 1 8 1-5 1-6 1 14 1 6 1-15 1 8 1-8 1-7 1-12 1 5 1 7 1 5 1 4 1 8 1 4 1-2 1-1 1-9 1-7 1-1 1 12 1-7 1 1 1 11 1-1 1 1 1-4 1-5 1-13 1 6 1-1 1 7 1 2 1 6 1-3 1-6 1 0 1-10 1 1 1-5 1 4 1 1 1-10 1 9 1-3 1 12 1 1 1-8 1-14 1-1 1 3 1 5 1 4 1 1 1 1 1-8 1 8 1 7 1-8 1-4 1 5 1 2 1-3 1 2 1 5 1-1 1-6 1 7 1 2 1-5 1 12 1-1 1-9 1 5 1-6 1-16 1 0 1 10 1-14 1-1 1-2 1 3 1 10 1 3 1 3 1-11 1-5 1 6 1 2 1-1 1-6 1-1 1 12 1-6 1 10 1 4 1 10 1-1 1-7" vector-effect="non-scaling-stroke"/>
<path id="p61" d="M0 205l1 0 1-19 1 14 1-16 1 4 1 5 1 5 1-5 1 5 1 1 1 1 1-1 1-2 1 3 1 6 1-8 1-1 1 0 1 16 1-3 1 3 1 5 1-1 1 3 1 11 1 2 1-16 1-3 1 3 1-4 1 13 1-19 1-11 1 2 1-3 1 7 1 3 1 0 1 3 1-6 1 8 1-7 1 7 1-4 1-12 1-13 1 16 1-5 1-10 1 4 1-8 1 12 1 2 1-17 1 0 1-2 1 7 1 7 1-5 1 3 1-10 1 12 1 10 1-3 1 13 1-8 1-12 1-12 1 16 1 5 1-7 1 6 1-3 1 15 1-2 1-6 1 5 1-6 1-1 1 3 1 7 1-1 1-4 1 1 1-7 1-4 1 11 1-2 1-9 1-4 1 5 1 12 1-3 1-3 1-9 1 2 1 1 1-1 1-10 1-4 1-11 1 12 1-4 1 4 1-8 1 10 1-2 1-1 1 12 1 2 1 3 1 4 1 5 1 10 1-7 1-3 1-3 1 0 1-4 1 6 1 6 1-6 1-4 1-5 1-2 1 11 1 8 1 2 1-19 1-4 1 11 1-9 1-5 1 7 1-5 1 1 1 1 1 0 1-8 1-2 1 18 1 4 1-12 1-16 1 14 1-7 1 15 1-10 1 5 1-8" vector-effect="non-scaling-stroke"/>
<path id="p62" d="M0 210l1 7 1 13 1-10 1-6 1-3 1 0 1-20 1 9 1 5 1-19 1 0 1 8 1 10 1 4 1 0 1-1 1-18 1 16 1-3 1-8 1-6 1 5 1 9 1-5 1-7 1 3 1 6 1-15 1 6 1 3 1-13 1 4 1 3 1 5 1-15 1 6 1-12 1-2 1 7 1-5 1 12 1-17 1 16 1 0 1-6 1 2 1-9 1-8 1 21 1 7 1-4 1 1 1 5 1-3 1 11 1 5 1-14 1-2 1-13 1 29 1 10 1 9 1-9 1-21 1 16 1-2 1-17 1 13 1-25 1 18 1 9 1 17 1-11 1 14 1-7 1-6 1 3 1 1 1-1 1-8 1 6 1 5 1 7 1-18 1-17 1-3 1 19 1-2 1-7 1-10 1 3 1 11 1-23 1 5 1 12 1-4 1-11 1 8 1-3 1 1 1 5 1 5 1-3 1 32 1-5 1 7 1 5 1-13 1-1 1-2 1-3 1 17 1 9 1-25 1 7 1-2 1-10 1 0 1-1 1 18 1 6 1-11 1-7 1-15 1-8 1 7 1-1 1 8 1-8 1 8 1-7 1-4 1-14 1 15 1 1 1 15 1-13 1 2 1 7 1 9 1 4 1-2 1-2 1-19 1 3 1 0 1 21 1 1 1-27 1-18" vector-effect="non-scaling-stroke"/>
<path id="p63" d="M0 187l1-3 1 21 1 4 1-5 1-20 1 6 1-8 1-11 1 6 1 14 1 11 1 12 1-5 1-4 1 3 1-13 1 5 1-1 1-7 1-5 1-2 1-1 1 1 1-5 1-3 1 12 1-2 1 3 1 4 1-10 1 2 1 1 1-6 1 11 1 6 1 2 1 7 1-5 1 6 1-5 1-1 1-2 1-4 1 3 1-6 1 4 1 0 1 0 1-5 1 0 1 7 1-14 1-6 1 4 1-2 1 11 1-5 1 7 1-5 1 1 1 10 1-4 1 1 1 3 1 0 1-7 1-1 1 5 1 3 1 1 1 10 1 3 1-1 1 10 1-20 1 0 1-12 1 3 1 1 1 1 1 13 1 5 1-8 1 1 1-5 1-3 1 10 1 5 1 3 1 8 1 2 1-7 1-14 1-11 1-4 1 6 1 8 1-13 1-1 1 8 1 7 1-18 1-2 1 1 1 2 1 3 1-5 1-2 1-8 1 18 1-4 1 0 1-5 1-1 1 17 1-1 1-12 1-3 1 10 1 13 1-11 1-1 1-3 1 7 1-9 1 3 1 2 1 9 1-3 1-4 1 7 1 2 1-6 1 8 1-6 1-8 1 1 1 10 1-2 1-10 1 1 1 10 1-8 1-3 1-9 1-8 1 0 1 7 1 18 1 13" vector-effect="non-scaling-stroke"/>
<path id="p64" d="M0 192l1 23 1-37 1 14 1 2 1-18 1-5 1 10 1 37 1-5 1-20 1 4 1 22 1-23 1-32 1-7 1-6 1 38 1 11 1 35 1-24 1-12 1 38 1-19 1-20 1 12 1 1 1-25 1 24 1-9 1-16 1-1 1 9 1-2 1-5 1-9 1-19 1 32 1 3 1 3 1-23 1 24 1-26 1 19 1 14 1 19 1-3 1 2 1-8 1-1 1-14 1-7 1 39 1-26 1-2 1 0 1 7 1-17 1 7 1-17 1 21 1-26 1-14 1 27 1-10 1 13 1 19 1 4 1-6 1 7 1-13 1-19 1 25 1 26 1-8 1-10 1-6 1-15 1-8 1 31 1-5 1 9 1-3 1 15 1-16 1-4 1 6 1 16 1-34 1-15 1-6 1 14 1 15 1-26 1 11 1-12 1-26 1 35 1 21 1-10 1 23 1-2 1 1 1-21 1 18 1-9 1-13 1 16 1 10 1-22 1-14 1 25 1 18 1-35 1-3 1 10 1-4 1 1 1-9 1-23 1-15 1 21 1 12 1 8 1-25 1-11 1 38 1 5 1 6 1-21 1-16 1 13 1 18 1-4 1-9 1-2 1 19 1 1 1-12 1-5 1-8 1 16 1 6 1-4 1 43 1-8 1-18 1-12 1 4 1-1 1-14" vector-effect="non-scaling-stroke"/>
<path id="p65" d="M0 224l1 25 1-15 1 4 1-12 1 4 1-1 1 1 1-11 1-22 1-4 1-8 1 22 1-31 1-15 1-20 1 13 1 22 1-5 1 24 1 0 1 3 1 2 1 25 1-22 1 20 1-9 1-2 1 28 1-23 1-5 1-35 1-26 1 25 1 40 1-5 1-19 1 4 1-31 1 6 1 18 1 6 1-3 1-18 1 15 1 0 1-10 1 10 1 0 1-14 1-4 1-7 1 17 1 28 1 12 1 0 1-14 1 4 1 9 1 2 1-12 1 4 1-23 1-9 1-2 1 15 1-29 1 1 1-9 1 0 1 16 1 12 1 8 1-13 1-5 1 33 1-13 1 27 1 3 1-29 1-1 1 5 1 44 1-23 1-2 1-4 1 18 1 8 1-10 1 25 1-27 1-20 1 15 1 9 1-10 1-6 1 9 1-5 1 13 1 18 1-27 1-14 1 19 1-8 1-9 1-30 1-19 1-16 1 18 1-11 1 23 1 22 1-38 1 25 1-21 1 17 1 14 1-32 1 41 1-3 1-9 1 14 1 16 1 10 1-46 1 34 1 14 1-3 1 15 1-25 1 10 1 0 1-7 1 8 1-14 1 20 1-8 1-22 1-19 1 25 1 23 1-45 1-14 1 40 1-21 1-5 1-7 1-23 1 11 1-5 1 16" vector-effect="non-scaling-stroke"/>
<path id="p66" d="M0 220l1 13 1-11 1 3 1-5 1-1 1 5 1-9 1 9 1-13 1 5 1-20 1 7 1-10 1-10 1 6 1 19 1-12 1 19 1-9 1 19 1-1 1-4 1 3 1-8 1-11 1-3 1-3 1-17 1-5 1 1 1 13 1 18 1 7 1-16 1-1 1-9 1 21 1 23 1-10 1 29 1-9 1 12 1-15 1-15 1 12 1-24 1-7 1 1 1 12 1 9 1-3 1-17 1 0 1 21 1 17 1-14 1-4 1-18 1-9 1-11 1-13 1-6 1 3 1 33 1-11 1-10 1-4 1 21 1-7 1-13 1-2 1 9 1 30 1 7 1-32 1 0 1-12 1 7 1 17 1-19 1-4 1-13 1 6 1 21 1-20 1 10 1-2 1-1 1-9 1-1 1-12 1 10 1-8 1-13 1 15 1 23 1 3 1-16 1 1 1-8 1 7 1 30 1 10 1 14 1 18 1-9 1-25 1-12 1-6 1-6 1 6 1-21 1-5 1-2 1 37 1-16 1-13 1 6 1 27 1-16 1 8 1 3 1 3 1 1 1 12 1-11 1-19 1 2 1 17 1 2 1 0 1 0 1-7 1 0 1-1 1-2 1 16 1-10 1-15 1-3 1 1 1-36 1 6 1-19 1 25 1 19 1 23 1 12 1 7 1-6" vector-effect="non-scaling-stroke"/>
<path id="p67" d="M0 203l1 3 1 2 1-9 1-1 1-7 1-1 1-1 1-6 1-4 1-14 1 8 1 9 1 17 1-8 1-12 1 4 1 6 1 8 1 0 1 18 1-10 1 3 1-6 1-14 1 14 1 2 1 5 1 4 1-11 1-8 1-4 1-2 1 5 1-1 1-5 1-4 1 6 1-1 1 6 1 11 1-16 1 2 1 1 1 6 1-1 1 4 1-7 1-10 1 7 1 7 1 0 1-1 1 2 1 10 1-6 1-2 1-1 1 4 1-2 1 0 1 5 1-4 1 0 1-4 1 1 1-4 1 11 1-2 1 9 1-16 1 0 1-4 1 3 1-2 1-1 1 3 1 11 1 3 1-5 1-7 1 2 1 4 1-1 1 3 1-6 1 14 1 4 1-12 1-3 1-19 1 11 1-9 1 0 1-10 1-6 1 13 1 9 1 4 1-18 1 0 1 13 1 13 1-5 1-3 1 3 1-3 1 12 1-4 1-5 1-4 1 5 1-3 1 3 1 15 1 13 1-14 1 3 1-11 1 4 1-7 1-12 1-16 1 7 1-9 1 2 1 29 1 15 1-10 1-12 1 1 1 0 1 5 1 3 1-11 1 2 1 4 1-6 1 5 1-3 1 3 1-4 1 2 1 12 1-11 1-7 1 1 1 4 1-9 1 8 1-3" vector-effect="non-scaling-stroke"/>
<path id="p68" d="M0 182l1 2 1 3 1 26 1 15 1 2 1-1 1 13 1-1 1-6 1-10 1-7 1 15 1 5 1-23 1 10 1-10 1-25 1-19 1 27 1 2 1 6 1 10 1-16 1-2 1-18 1 23 1 34 1-6 1-8 1-24 1 6 1-8 1-17 1 42 1-3 1 3 1 11 1 0 1-5 1-37 1 17 1 4 1-18 1-34 1 29 1-5 1 14 1-22 1-5 1 2 1-10 1 6 1 9 1-1 1 28 1-1 1-16 1 42 1 18 1-21 1-16 1-3 1-11 1 3 1-19 1 20 1-23 1 7 1 15 1-11 1 9 1-26 1 13 1 22 1 28 1-12 1-39 1-7 1 6 1 39 1 14 1-16 1 3 1-6 1-4 1-12 1 9 1-12 1-16 1 6 1-6 1 7 1 11 1-4 1 6 1 10 1 0 1 1 1-17 1-18 1 31 1 25 1 3 1-26 1 15 1 11 1 20 1-2 1-9 1-26 1-33 1 3 1-4 1-5 1 2 1-2 1 29 1-11 1-12 1 26 1 11 1-10 1-9 1-11 1-21 1-4 1-27 1 19 1 24 1 24 1-14 1-19 1 17 1 1 1 21 1-28 1 0 1-12 1 19 1-3 1-16 1 2 1 28 1 10 1 1 1-13 1-6 1-14 1 5 1 21" vector-effect="non-scaling-stroke"/>
<path id="p69" d="M0 201l1-3 1-1 1 0 1-11 1-4 1 2 1 1 1 3 1 7 1 7 1 0 1-6 1 5 1 15 1-10 1 0 1-8 1-2 1 9 1 6 1 1 1 13 1-23 1 3 1 1 1 9 1-5 1-10 1-13 1 6 1-11 1 1 1 15 1-10 1 7 1-5 1-2 1 4 1 4 1-5 1 7 1 7 1-12 1 2 1-12 1 15 1 0 1-1 1 7 1-13 1 2 1 15 1-7 1 10 1-4 1-7 1-19 1 8 1 1 1 6 1 5 1-7 1-8 1-4 1 24 1-9 1 1 1 9 1 4 1 14 1-11 1-3 1-5 1 4 1 4 1-9 1-8 1 0 1 1 1-5 1-14 1 2 1 5 1 5 1-3 1 4 1-1 1-3 1 7 1-9 1-14 1 11 1-3 1 17 1-6 1 15 1-13 1-7 1 16 1 3 1 13 1-21 1-12 1 1 1 11 1-2 1-1 1-9 1-14 1-2 1-2 1 7 1 7 1-4 1 4 1 7 1 11 1 8 1 3 1 5 1 6 1-5 1 4 1-7 1-5 1-5 1 9 1-9 1 8 1 1 1-7 1 5 1-21 1-1 1 0 1-7 1 20 1-11 1 9 1 6 1 15 1-14 1-2 1 11 1-4 1-13 1 7 1-4 1 7 1-1" vector-effect="non-scaling-stroke"/>
<path id="p70" d="M0 179l1 3 1 4 1 26 1 5 1-8 1 10 1-3 1-15 1-17 1 9 1 35 1-8 1-12 1 15 1-21 1 0 1-19 1 4 1 1 1 14 1-9 1-2 1 9 1-8 1 7 1-19 1-2 1 5 1 5 1-18 1 5 1 0 1 17 1-7 1 2 1 11 1 10 1-14 1 0 1-6 1-6 1-14 1-8 1 14 1 9 1 26 1-3 1-6 1 18 1-5 1-5 1-1 1-4 1 12 1-5 1-27 1 5 1 8 1 4 1-18 1 20 1-23 1 11 1-4 1-5 1 14 1 4 1-9 1 3 1 19 1-9 1 12 1-10 1-1 1 16 1-15 1-4 1-14 1 2 1 10 1 22 1-5 1 8 1 0 1 19 1 10 1-13 1-14 1-30 1-14 1 17 1-10 1 5 1 22 1-11 1 8 1 9 1 6 1-6 1-2 1 0 1-5 1-11 1 6 1 4 1-5 1-7 1-7 1-16 1 34 1-16 1-4 1-11 1 15 1-1 1-16 1-13 1-6 1 6 1 18 1 5 1 25 1 0 1 11 1-4 1-2 1-11 1-10 1-5 1-3 1-2 1-16 1 9 1 9 1 13 1-3 1-9 1-19 1 9 1-5 1 7 1-6 1 19 1-5 1-6 1 24 1 0 1 8 1-6 1-8" vector-effect="non-scaling-stroke"/>
<path id="p71" d="M0 208l1-19 1-6 1 5 1 0 1 9 1 9 1 18 1 12 1-15 1-1 1 3 1 0 1-13 1-19 1 2 1 12 1 4 1 0 1-10 1-2 1-8 1 17 1-6 1-20 1 0 1 8 1-2 1-8 1 1 1-7 1 24 1-3 1-2 1-3 1 3 1 3 1-4 1 16 1 4 1-1 1-7 1 0 1 6 1-12 1-3 1 0 1-4 1 0 1-12 1 7 1 14 1-5 1-4 1-7 1-3 1 6 1-14 1 13 1 10 1-7 1 10 1-13 1 13 1-2 1-2 1 6 1 19 1-8 1-6 1-2 1 4 1 12 1 2 1 14 1-28 1 1 1-16 1 3 1-16 1 11 1 10 1 8 1-3 1 8 1 11 1-23 1-15 1 10 1-9 1 28 1-7 1-24 1-19 1 0 1-5 1 7 1-9 1 14 1 32 1-14 1 0 1 1 1-5 1-5 1 19 1-3 1 8 1 1 1-15 1 2 1 8 1-3 1 1 1-1 1-10 1 2 1 6 1 3 1 10 1-19 1-5 1 23 1-1 1-17 1 20 1 1 1-24 1-2 1-6 1 15 1-16 1-2 1-10 1 18 1 9 1 11 1-6 1 10 1-4 1-18 1-7 1 11 1-4 1 13 1-9 1 14 1-10 1-10 1 17 1-12" vector-effect="non-scaling-stroke"/>
<path id="p72" d="M0 209l1-16 1 1 1 17 1-19 1 14 1-8 1 16 1 15 1-15 1 5 1 1 1 0 1-10 1-26 1 8 1-2 1 7 1-25 1 3 1 18 1 9 1-26 1 4 1-25 1 23 1-6 1 9 1 3 1 0 1-10 1 8 1-3 1 13 1 8 1-9 1-12 1 3 1-23 1 21 1 23 1-19 1-4 1 13 1-22 1 8 1-34 1 37 1 13 1-11 1-18 1-17 1 18 1 6 1-3 1-7 1 13 1 6 1 26 1-20 1 15 1-12 1-3 1-5 1 7 1-10 1-7 1 19 1 1 1-3 1 14 1-8 1-18 1-15 1 11 1 50 1-19 1-15 1 1 1-1 1 8 1 11 1-15 1-20 1 1 1 19 1 23 1-17 1-12 1-18 1 9 1 12 1 9 1-18 1-25 1 21 1 10 1 5 1-11 1 13 1-15 1-5 1 0 1-10 1 20 1 13 1-24 1 5 1 13 1 4 1 14 1-18 1 11 1-16 1-11 1 5 1-27 1 8 1 0 1-6 1 19 1 22 1-8 1 12 1 15 1 9 1-22 1-32 1 4 1 5 1-3 1-9 1 5 1 12 1-11 1 11 1 12 1 10 1 5 1-2 1-4 1-12 1 6 1-1 1 4 1-4 1-20 1 9 1 25 1-19 1-8" vector-effect="non-scaling-stroke"/>
<path id="p73" d="M0 212l1 7 1 23 1-6 1-4 1 6 1-8 1 3 1-39 1 26 1-22 1 11 1 4 1-9 1 34 1 0 1-20 1 20 1 15 1 30 1-11 1 8 1-13 1-5 1-20 1-31 1 25 1 5 1 4 1-36 1 5 1 13 1 22 1-16 1 14 1 3 1-23 1-7 1-7 1-9 1 13 1 16 1 1 1 8 1-24 1-12 1 0 1-6 1 8 1 3 1-17 1 28 1-9 1-21 1 17 1 0 1-2 1 3 1-15 1-3 1 1 1 7 1 19 1-14 1 3 1 9 1 1 1-33 1 16 1-15 1 22 1 15 1-31 1 20 1-3 1-28 1 35 1 0 1-6 1 8 1-15 1-5 1 5 1-8 1 6 1 30 1-14 1-32 1-9 1 3 1 28 1 10 1-15 1-4 1-19 1 12 1 30 1 20 1-15 1-18 1 1 1-8 1-4 1-12 1 18 1 15 1 9 1-7 1-7 1 21 1-10 1-15 1 11 1-9 1 14 1-9 1 15 1-9 1 19 1 16 1-27 1-7 1 7 1-23 1 33 1-22 1-10 1 6 1-5 1-21 1-6 1 4 1-2 1-16 1 21 1-8 1 27 1-26 1-5 1 15 1-6 1 11 1-4 1 19 1-14 1-4 1-1 1-5 1 10 1-3 1-7" vector-effect="non-scaling-stroke"/>
<path id="p74" d="M0 214l1-14 1-14 1 2 1 14 1 5 1-2 1 8 1-2 1-7 1 11 1 12 1-15 1-7 1-9 1 6 1 3 1-19 1-5 1-6 1-4 1 13 1 2 1 24 1-16 1 22 1-9 1 2 1-13 1-6 1 1 1 2 1-1 1-2 1-1 1-6 1-8 1 13 1-12 1 17 1-7 1 11 1-19 1 2 1-5 1-14 1-3 1-6 1 23 1 11 1 0 1 6 1 5 1 4 1 8 1-18 1-10 1 2 1-9 1 15 1-30 1 13 1-7 1 12 1 0 1-6 1-7 1 14 1 5 1 5 1-15 1 7 1 12 1 17 1 20 1 8 1-16 1 5 1-3 1 1 1 4 1 0 1-12 1-1 1-12 1-3 1 14 1-1 1-13 1-17 1 17 1-6 1-11 1-19 1 10 1-4 1 16 1-9 1-3 1 21 1 6 1 1 1-5 1-1 1-4 1-3 1 12 1 11 1-7 1 9 1 0 1-3 1-20 1-1 1-13 1-3 1 15 1-16 1 10 1-9 1 2 1 10 1 19 1-8 1 1 1-24 1 11 1 2 1 7 1 7 1-14 1-10 1 16 1 6 1 2 1 7 1-12 1 0 1 3 1-2 1-4 1 3 1 1 1-6 1-5 1 9 1-6 1 19 1-1 1-13 1-21" vector-effect="non-scaling-stroke"/>
<path id="p75" d="M0 216l1-15 1-4 1 4 1 1 1-10 1-4 1 5 1 7 1-5 1 1 1-2 1 1 1 3 1-12 1-2 1 6 1-3 1-1 1 16 1 1 1-5 1-6 1 2 1-4 1 11 1-9 1-11 1 9 1 2 1-15 1 9 1 5 1-6 1 18 1 16 1 4 1-24 1 11 1 2 1-6 1 9 1 2 1-3 1-14 1 4 1-10 1 4 1-2 1-5 1 9 1-4 1-5 1-10 1 3 1-6 1-2 1 8 1-2 1 4 1-8 1 14 1-8 1 5 1-3 1-1 1 15 1 5 1 3 1-15 1 7 1-6 1-8 1-1 1 15 1 6 1-4 1 0 1 4 1-6 1 0 1-4 1-10 1 7 1 0 1 11 1 2 1-5 1-18 1 3 1 0 1 7 1 4 1 1 1 0 1 2 1-9 1 2 1 6 1-13 1 13 1-7 1-2 1 2 1 4 1 5 1 9 1-9 1-14 1 12 1 6 1-1 1-2 1-7 1 6 1 11 1-4 1 1 1-2 1 6 1-4 1-12 1 1 1-7 1 11 1-8 1 5 1-2 1 11 1-8 1 1 1-7 1 0 1 8 1-9 1-8 1 2 1 6 1-3 1-1 1 8 1 9 1-7 1 5 1 5 1-4 1-2 1 5 1 2 1-3 1 19" vector-effect="non-scaling-stroke"/>
<path id="p76" d="M0 198l1 12 1 4 1 3 1-7 1-8 1-5 1 4 1-5 1-11 1 13 1-13 1-2 1 4 1 3 1 6 1-2 1-18 1 17 1 1 1 2 1 11 1-3 1 0 1-13 1 2 1-5 1 4 1 5 1-5 1 7 1 0 1-1 1 3 1-2 1-16 1 9 1 8 1-10 1 9 1 10 1 3 1-7 1-7 1 3 1-4 1 9 1-8 1-3 1 2 1 1 1-9 1 2 1 5 1-7 1 11 1 6 1-8 1 5 1 9 1 7 1-6 1-3 1 4 1-6 1 7 1 9 1-7 1 11 1-5 1-10 1 7 1 10 1-10 1-9 1-16 1 3 1 1 1 8 1-9 1-9 1 5 1-1 1-8 1 3 1-9 1-4 1 6 1 8 1 7 1 7 1-14 1 5 1 6 1 8 1 2 1-8 1-4 1 17 1-6 1-7 1-6 1-8 1-1 1-14 1 11 1-5 1 10 1 6 1-12 1-3 1 9 1-1 1 14 1 4 1 3 1 9 1-9 1 6 1-3 1-13 1-4 1 5 1 3 1-4 1 9 1-6 1-5 1-9 1 1 1 1 1 14 1-3 1-8 1 0 1 2 1 4 1 4 1-2 1 9 1-8 1 1 1-5 1 2 1 0 1 8 1-17 1-6 1 2 1 10 1-13" vector-effect="non-scaling-stroke"/>
<path id="p77" d="M0 205l1-13 1-37 1-2 1 25 1 6 1 5 1 22 1 12 1-13 1 16 1-37 1 26 1-2 1-27 1-3 1-9 1 34 1 3 1 17 1 3 1-11 1 8 1-20 1 12 1-6 1 3 1 10 1 9 1-1 1-27 1 15 1-11 1 28 1-19 1 7 1-1 1-12 1-2 1-8 1 1 1-4 1 19 1 2 1-1 1 16 1-14 1-9 1 13 1-5 1-10 1 4 1-10 1-10 1 18 1-15 1-18 1 16 1-8 1 29 1 28 1-10 1 6 1-21 1-28 1 7 1 9 1-9 1-9 1-5 1 17 1-7 1-1 1 22 1 4 1-17 1 8 1 21 1-15 1-15 1 8 1 0 1-5 1 13 1-6 1-21 1-7 1 4 1 10 1-30 1 33 1 3 1 10 1 10 1-2 1 0 1-24 1-21 1-10 1 1 1 15 1 12 1-20 1-1 1 33 1 6 1 17 1-8 1-18 1-18 1 5 1 3 1 5 1 23 1 3 1-3 1-8 1-10 1 2 1-7 1 23 1-6 1-2 1-28 1 13 1-15 1 7 1 1 1-2 1-8 1 26 1 26 1-25 1-12 1-15 1 9 1-15 1 33 1 29 1 24 1-31 1-9 1-11 1 5 1 10 1-12 1 12 1-3 1-5 1-25 1-13" vector-effect="non-scaling-stroke"/>
<path id="p78" d="M0 216l1-13 1-6 1 36 1-31 1 6 1-8 1 22 1-23 1 36 1-31 1-36 1 9 1 32 1-35 1 14 1 16 1-54 1 33 1 16 1 2 1-3 1 27 1-50 1 43 1 10 1-12 1-11 1 16 1 19 1-6 1 13 1-16 1 20 1-3 1-36 1-11 1-26 1-22 1-7 1 13 1 9 1 30 1-50 1-28 1 66 1-31 1 29 1 30 1 4 1 11 1 7 1 20 1-61 1-17 1-31 1 9 1 20 1 2 1 75 1 22 1 22 1-12 1-68 1-14 1-20 1-21 1 7 1 16 1 51 1 5 1 5 1-4 1-27 1 15 1-24 1-13 1-16 1 20 1-52 1 11 1 20 1-33 1-17 1 5 1 15 1 17 1 5 1-14 1 20 1-23 1 23 1-7 1-11 1 14 1-11 1-3 1 27 1 20 1-4 1-35 1-35 1 37 1 1 1-22 1 9 1-21 1 24 1 25 1 12 1 6 1-3 1 63 1 11 1-16 1-5 1-53 1-1 1 11 1-15 1-38 1 49 1 5 1 5 1-2 1-30 1-3 1-11 1-13 1 22 1 35 1 2 1-1 1 7 1 5 1-1 1-11 1-13 1-25 1 0 1 12 1 7 1 1 1 1 1-7 1-20 1 22 1-16 1 40 1-18 1-23" vector-effect="non-scaling-stroke"/>
<path id="p79" d="M0 213l1-14 1 14 1-2 1 8 1-15 1-11 1 3 1-5 1-16 1 7 1-7 1-9 1 19 1 17 1 18 1-11 1-3 1-25 1 9 1-8 1 3 1 15 1 3 1-20 1 29 1-21 1 6 1 0 1 7 1-7 1-3 1 0 1 5 1 39 1-12 1-7 1-12 1-18 1 3 1-6 1-4 1-8 1-13 1-7 1 5 1 18 1-17 1-2 1-10 1 23 1 18 1 20 1-9 1 3 1-23 1 11 1-6 1-8 1 4 1-4 1 0 1 5 1-5 1 16 1-13 1-3 1-12 1 29 1-2 1 5 1 1 1 19 1 4 1-4 1-12 1 4 1 14 1-5 1 2 1-1 1-8 1-12 1 10 1-10 1-15 1 5 1-8 1 11 1 7 1 1 1 13 1 4 1 7 1-4 1-6 1-18 1 4 1 3 1-13 1-9 1 13 1 10 1 5 1-6 1-5 1 23 1-6 1 0 1-16 1 7 1 16 1-16 1-20 1-20 1 12 1 3 1 7 1 18 1-14 1-30 1-3 1 19 1-4 1 3 1-7 1 16 1 16 1 10 1-10 1 25 1 19 1-5 1-13 1-14 1 1 1 7 1-16 1-2 1 19 1-7 1 6 1 11 1-10 1-17 1 20 1-2 1-10 1-25 1 15 1-5" vector-effect="non-scaling-stroke"/>
<path id="p80" d="M0 211l1-13 1 7 1-8 1-5 1-10 1-15 1 12 1 18 1 0 1-16 1-1 1 6 1-14 1 5 1 5 1-18 1 16 1 6 1-8 1 6 1 4 1 0 1 8 1 7 1-17 1 1 1 21 1-4 1 8 1 5 1-21 1-8 1-1 1 3 1 14 1 2 1-6 1-6 1 21 1 2 1 0 1-10 1 8 1-3 1 15 1 5 1-9 1-9 1-5 1 0 1 13 1 1 1-3 1-1 1 0 1-12 1 4 1-1 1-5 1-9 1-9 1 17 1-11 1-2 1-4 1-4 1 13 1 0 1-19 1-17 1 36 1 28 1-24 1 7 1 2 1-10 1-5 1 14 1-9 1-3 1 21 1 3 1-10 1-13 1 9 1-5 1 0 1 12 1-9 1 1 1-1 1 14 1 9 1-10 1 0 1-19 1-8 1-4 1 1 1-2 1 5 1 0 1-14 1-15 1-10 1 19 1 18 1 5 1-7 1-1 1 1 1-14 1 17 1-6 1 5 1 6 1-7 1 12 1-2 1 9 1 9 1-16 1 3 1-17 1 13 1 5 1 2 1-6 1 18 1 1 1 13 1 5 1-10 1-7 1-20 1-18 1 1 1 5 1-10 1 4 1-4 1 10 1 25 1-7 1 9 1-8 1-5 1-6 1-3 1-3" vector-effect="non-scaling-stroke"/>
<path id="p81" d="M0 202l1-7 1 7 1-5 1 5 1 1 1 1 1-5 1 3 1 1 1 2 1-5 1-1 1 5 1 3 1 0 1-1 1-1 1-3 1-1 1-5 1 4 1-1 1-6 1-2 1-1 1 3 1 6 1 7 1 1 1 1 1-8 1 4 1-4 1-1 1-8 1 6 1-6 1 8 1-3 1-6 1 5 1-1 1-3 1 5 1 5 1 5 1-2 1 3 1-10 1 0 1-4 1 1 1-8 1-3 1 5 1 2 1 11 1-3 1 4 1-4 1-4 1 4 1-4 1 6 1 3 1 7 1-1 1 1 1-6 1-5 1 1 1-5 1-4 1 11 1 0 1 0 1-8 1-2 1 0 1 4 1-2 1-4 1 2 1 6 1-4 1 7 1 1 1-5 1 4 1 0 1 5 1-9 1 0 1-2 1 3 1-8 1-4 1 2 1 0 1 10 1-1 1-6 1 4 1 2 1 2 1-3 1 0 1 7 1-4 1 1 1 0 1 1 1 2 1-2 1 4 1 4 1-2 1-7 1 1 1 0 1 0 1-1 1 1 1-7 1 0 1 0 1 0 1-2 1-4 1 3 1 1 1 0 1 4 1 3 1 0 1-2 1 0 1 10 1 3 1-4 1 0 1-2 1 0 1-6 1-2 1-3 1 6 1-5 1 4 1-8" vector-effect="non-scaling-stroke"/>
<path id="p82" d="M0 196l1-29 1-2 1 8 1-2 1 12 1-12 1 4 1 1 1-39 1 60 1 4 1-31 1 19 1 24 1-34 1-34 1 18 1-1 1 13 1 20 1-15 1-12 1 3 1 24 1-7 1 11 1 7 1-10 1-4 1 26 1-24 1 7 1 2 1 19 1 6 1 19 1-12 1 4 1-4 1-35 1 12 1-24 1 18 1-4 1 30 1-12 1-19 1 60 1 1 1-25 1-15 1 5 1-4 1-19 1-9 1 32 1-23 1 13 1-8 1-7 1 4 1-27 1-11 1-3 1-27 1 22 1 10 1-13 1 10 1 24 1-9 1-11 1 31 1-15 1 14 1-2 1-5 1-29 1 1 1-16 1 15 1 1 1 18 1-25 1 7 1 18 1-19 1-9 1-1 1 1 1 2 1 2 1 7 1 13 1-5 1 12 1-29 1 7 1 7 1 39 1 2 1-3 1 30 1 1 1 3 1-11 1-26 1 31 1-20 1-28 1-21 1 7 1 35 1-17 1-3 1-13 1-11 1 10 1 31 1 10 1 23 1-19 1 0 1 34 1 25 1-31 1 15 1 18 1-42 1-6 1 5 1-10 1-36 1 3 1-26 1-6 1 10 1-11 1 30 1 27 1 8 1-30 1 14 1 2 1 14 1-9 1 6 1-20 1 14 1-5" vector-effect="non-scaling-stroke"/>
<path id="p83" d="M0 205l1-25 1-10 1 15 1 16 1-28 1 11 1 5 1-17 1-9 1 8 1 2 1 5 1 3 1 10 1-12 1 1 1-1 1 8 1 17 1-17 1-2 1 11 1-2 1 26 1-5 1-20 1-6 1 6 1 3 1 4 1 2 1 0 1 18 1 7 1-8 1-8 1-15 1-6 1-1 1 18 1-13 1 22 1 2 1-8 1 9 1-21 1-18 1 19 1 13 1-8 1-2 1-32 1-5 1-26 1 34 1 21 1 12 1 16 1 10 1-34 1-7 1-13 1-5 1 5 1 12 1-12 1-20 1 33 1-19 1-3 1 18 1 19 1-3 1 2 1-11 1 2 1 17 1-6 1 4 1-20 1-15 1-2 1-10 1 7 1 8 1-26 1 35 1-13 1-24 1-9 1 22 1-8 1 7 1 0 1 14 1 9 1-16 1 16 1 18 1 11 1 13 1-16 1-27 1-24 1 37 1 8 1-13 1-8 1 3 1-16 1-8 1 11 1 31 1 0 1-14 1-8 1-11 1-3 1 35 1 14 1-30 1-13 1-11 1-10 1 12 1-9 1 19 1-6 1 6 1 22 1 24 1 9 1-17 1-8 1-2 1-2 1-4 1-26 1 10 1 16 1 1 1 12 1-17 1-5 1-3 1-12 1 22 1 10 1 1 1 12" vector-effect="non-scaling-stroke"/>
<path id="p84" d="M0 182l1 17 1 7 1 38 1-24 1-29 1 23 1-3 1-2 1 10 1 6 1-22 1 5 1-8 1 9 1 10 1-26 1 18 1-4 1-7 1 0 1-42 1 22 1 1 1 21 1-3 1 36 1 8 1 8 1-22 1 0 1-26 1 45 1-13 1 7 1-6 1-21 1-7 1-9 1 13 1 7 1-12 1 13 1-3 1-11 1-7 1 13 1-3 1 6 1 8 1-16 1-2 1-13 1-28 1 8 1-17 1 8 1 14 1-8 1 6 1 11 1-11 1 12 1-1 1-9 1 16 1 4 1 7 1 23 1-3 1 12 1 17 1-13 1-1 1-9 1-6 1-20 1-22 1-8 1 3 1-3 1 32 1-10 1-6 1-2 1 12 1-10 1-17 1 26 1-4 1 18 1 27 1-9 1-11 1-7 1-2 1-9 1-12 1 20 1 19 1-7 1-21 1-19 1 16 1 10 1-26 1-11 1 4 1 7 1 3 1 15 1-45 1 18 1 21 1 3 1-15 1 7 1 28 1-19 1 4 1-15 1 13 1-6 1-20 1-5 1-12 1 13 1-1 1 4 1 15 1-15 1 1 1 29 1 17 1-22 1-6 1 11 1-14 1 9 1 4 1-9 1-11 1-28 1-13 1 9 1 21 1-1 1 5 1-24 1-4 1 21" vector-effect="non-scaling-stroke"/>
<path id="p85" d="M0 181l1 19 1-32 1 1 1 4 1 0 1 10 1 3 1-15 1 23 1-5 1-11 1-13 1 27 1-5 1 23 1 2 1-6 1-4 1 1 1-11 1-11 1 0 1 12 1 5 1-6 1-9 1 1 1 17 1 4 1-6 1 15 1-2 1 1 1-16 1-14 1 14 1-18 1-16 1 13 1 6 1 10 1 9 1 16 1 27 1-14 1-30 1 13 1-12 1 6 1-5 1 0 1-8 1-7 1-6 1-7 1-11 1 20 1 9 1-13 1 14 1-12 1 1 1-12 1 3 1 5 1 3 1 23 1-9 1-2 1-13 1-4 1 16 1 0 1-6 1 0 1-10 1 3 1 1 1 20 1-11 1-14 1 11 1 13 1 2 1-26 1-18 1 6 1 19 1 11 1 14 1 8 1-13 1-6 1 5 1-8 1-6 1-21 1 16 1-19 1-7 1 16 1-3 1 11 1-13 1 1 1 10 1-12 1 2 1 16 1 1 1-11 1 0 1 10 1 3 1-8 1-16 1 13 1-4 1-6 1-8 1-11 1 23 1 4 1 0 1-4 1-8 1-4 1 18 1 17 1-2 1-7 1 19 1 0 1-7 1-3 1-13 1 15 1-6 1 2 1-25 1 26 1-14 1 22 1-8 1-3 1 15 1 7 1-8 1-14 1-4" vector-effect="non-scaling-stroke"/>
<path id="p86" d="M0 229l1-22 1 19 1-12 1-2 1-16 1-11 1 0 1 40 1 7 1-40 1-8 1 15 1-15 1-13 1 8 1-2 1-6 1-17 1 20 1 2 1 23 1-11 1 7 1 28 1-17 1-14 1-22 1 2 1 27 1 17 1-21 1-1 1 15 1 0 1 3 1-19 1-10 1 16 1-5 1-13 1 11 1 2 1 14 1-11 1 18 1 0 1-4 1 1 1-10 1-3 1-8 1-12 1-10 1-24 1 19 1-7 1 19 1 12 1 10 1-7 1 9 1 4 1 1 1-1 1-26 1 4 1 8 1 1 1 11 1 9 1-5 1-9 1 5 1 5 1-14 1 21 1 11 1-7 1-30 1 7 1-18 1 6 1 29 1-23 1-8 1 11 1 7 1-17 1 3 1-10 1-5 1 10 1 7 1-8 1-22 1 7 1 25 1-2 1 18 1-2 1-6 1 5 1 5 1 4 1-9 1-9 1 2 1 5 1 19 1 19 1-6 1-18 1 17 1-11 1-8 1-14 1-11 1 2 1-18 1 4 1 21 1 3 1-1 1-13 1 1 1-1 1 17 1 3 1-9 1 22 1-14 1-9 1 7 1-7 1-10 1-7 1-8 1 15 1 8 1 13 1 21 1-16 1-7 1 14 1-13 1-8 1 4 1 42 1-9 1-4" vector-effect="non-scaling-stroke"/>
<path id="p87" d="M0 188l1 7 1-27 1 14 1 5 1-2 1-9 1 16 1 18 1-6 1-15 1 16 1 2 1 8 1 9 1-5 1 9 1-8 1-17 1-2 1-12 1-7 1 9 1 10 1-3 1 3 1 7 1 15 1-28 1-10 1-31 1 9 1 1 1-1 1 41 1 3 1-22 1-1 1-9 1 2 1-2 1 10 1 9 1 22 1 18 1-25 1 6 1 4 1-12 1-14 1-2 1-8 1-2 1 15 1-28 1-7 1 22 1 11 1 17 1-8 1 4 1 27 1-35 1-9 1 2 1-14 1 6 1-7 1 13 1-11 1 21 1-28 1 1 1-4 1-5 1 8 1 6 1 12 1 4 1-2 1-5 1 8 1 10 1-15 1 24 1-28 1 9 1-4 1-12 1-26 1 20 1 26 1 5 1 23 1 10 1 16 1-21 1-7 1-5 1-15 1-8 1 19 1-13 1 6 1 15 1-1 1 11 1 2 1 14 1-3 1-9 1-3 1-20 1 2 1 2 1-16 1-10 1-2 1 4 1 11 1 18 1-10 1-18 1-15 1-26 1 10 1 5 1 5 1 0 1 23 1 10 1-4 1 6 1-14 1 17 1-25 1 21 1-1 1 23 1-12 1-13 1-4 1 12 1-16 1 4 1 14 1-9 1-10 1-13 1 4 1 12" vector-effect="non-scaling-stroke"/>
<path id="p88" d="M0 201l1 3 1 3 1-10 1-4 1 14 1-6 1-9 1 6 1 2 1-9 1 8 1-12 1 10 1 2 1 5 1-3 1-1 1 11 1-3 1-4 1 3 1 5 1-5 1-3 1 13 1-8 1-18 1 1 1-1 1 14 1-8 1-2 1-1 1 5 1-7 1-5 1-3 1 10 1-9 1-2 1-13 1 16 1 3 1 3 1-4 1-1 1 6 1 1 1 16 1-13 1 1 1 2 1 1 1 1 1-4 1 4 1 0 1 11 1-7 1-9 1 1 1 6 1-2 1-12 1 5 1 5 1-1 1-8 1-2 1 2 1 10 1-8 1-3 1 17 1-16 1-8 1-3 1-1 1 10 1-7 1-5 1-7 1 9 1 9 1-15 1 4 1 19 1 7 1-3 1-9 1 10 1 1 1 5 1-2 1 6 1-11 1 6 1 0 1-7 1 4 1-3 1 3 1-15 1 8 1-2 1 4 1 4 1 10 1-4 1-1 1-4 1-1 1 5 1 2 1 9 1-9 1-10 1 2 1 4 1-19 1 5 1-6 1 9 1 3 1 8 1-1 1 1 1-3 1-3 1 8 1-19 1 9 1-3 1-7 1-2 1 7 1 6 1 3 1 21 1-13 1-15 1-9 1-13 1 11 1 3 1 2 1-3 1 6 1 18 1-7" vector-effect="non-scaling-stroke"/>
<path id="p89" d="M0 192l1 1 1-10 1 6 1 13 1 3 1 5 1 18 1 1 1-20 1 11 1-10 1 4 1-10 1-3 1 3 1 13 1 6 1 0 1-23 1-16 1 17 1-1 1 13 1 0 1-18 1-8 1 0 1 19 1 6 1 6 1-25 1 2 1-11 1 0 1 5 1 8 1-13 1 4 1-2 1 2 1 10 1-7 1 10 1-2 1 9 1 15 1-16 1-11 1-1 1 16 1 8 1-8 1 10 1-33 1 12 1 4 1-13 1-7 1-2 1-4 1-4 1 4 1 8 1 4 1-1 1-2 1-7 1-2 1-4 1 9 1 9 1 7 1 1 1 12 1 3 1-9 1 3 1 7 1 7 1 2 1 2 1-22 1-15 1-15 1 9 1 12 1 7 1 10 1-4 1 4 1-12 1 8 1-5 1 24 1-4 1-6 1-5 1 1 1-4 1-4 1-3 1-14 1 5 1-7 1-10 1-5 1 1 1 1 1-6 1-5 1 13 1 6 1-11 1 2 1 17 1 0 1-6 1-2 1 3 1 4 1 4 1 11 1-7 1-4 1 8 1 5 1 4 1-1 1-19 1 0 1-4 1 2 1 1 1 2 1 17 1-13 1-6 1-4 1-2 1-7 1 9 1-5 1-20 1-5 1 7 1 22 1 26 1 0 1-9 1 2" vector-effect="non-scaling-stroke"/>
<path id="p90" d="M0 199l1 14 1-5 1 11 1-15 1 13 1-5 1-36 1-16 1-4 1 17 1 20 1 9 1-15 1-14 1 1 1-12 1 30 1-18 1 49 1 16 1 3 1 2 1-11 1-68 1 16 1-30 1 27 1-20 1 24 1-13 1 3 1-8 1 9 1 36 1 16 1-7 1-20 1 10 1 4 1-17 1 19 1-7 1-1 1-17 1 38 1 0 1-37 1 37 1-2 1 0 1 9 1 7 1 8 1-49 1-2 1-11 1 16 1 30 1-27 1-17 1 21 1 20 1-38 1-10 1 7 1-12 1-29 1-5 1-8 1-1 1 18 1 26 1-32 1 60 1 11 1-11 1 11 1-3 1-4 1-7 1-14 1-26 1-31 1 4 1 11 1 7 1 21 1 14 1 0 1-12 1-17 1 21 1-6 1-2 1-33 1-8 1-6 1 40 1 28 1 1 1-12 1 32 1-13 1-10 1-10 1-27 1 39 1 21 1-15 1 8 1-12 1-15 1 40 1-43 1-29 1 42 1 12 1-20 1 12 1-10 1 21 1-29 1 31 1 0 1-7 1 26 1-12 1-9 1-16 1 31 1-33 1 19 1 13 1 4 1-19 1 3 1 2 1-13 1 5 1 10 1 10 1 0 1-9 1-28 1 1 1-18 1-8 1-20 1 9 1 19" vector-effect="non-scaling-stroke"/>
<path id="p91" d="M0 189l1-12 1 9 1 1 1-17 1 1 1 13 1 20 1 2 1-15 1-1 1-7 1-7 1 10 1 30 1 12 1-24 1 11 1-15 1-9 1 10 1 18 1-22 1 2 1-16 1 7 1 17 1 0 1-3 1-1 1-16 1-2 1 11 1 12 1 11 1-21 1 1 1-16 1-3 1-7 1-5 1 18 1 18 1 9 1 8 1-2 1 5 1-1 1-30 1 7 1-9 1 18 1 13 1-38 1-12 1 2 1 13 1 16 1 6 1-30 1 15 1 14 1 4 1-2 1-1 1 2 1 7 1 1 1-39 1-5 1 27 1-21 1-14 1-1 1 3 1-20 1 32 1 6 1 14 1-19 1 16 1-11 1 22 1-21 1 7 1 14 1 11 1 3 1-3 1-6 1 12 1-28 1-6 1 12 1-12 1-15 1 0 1 24 1 0 1 4 1 18 1-7 1 8 1 3 1-13 1 22 1-18 1 10 1-25 1 6 1 15 1-40 1-31 1 41 1-7 1 37 1-11 1 3 1-4 1-1 1 4 1 13 1-10 1-13 1 3 1-20 1 13 1-11 1-14 1 23 1-8 1 11 1 6 1-37 1-2 1 7 1 22 1-5 1 7 1 1 1 2 1-33 1-2 1 3 1 0 1 20 1-7 1 2 1 16 1-12 1 33" vector-effect="non-scaling-stroke"/>
<path id="p92" d="M0 156l1-11 1 20 1 5 1 36 1-13 1-11 1 27 1-19 1 6 1 35 1-6 1-21 1 9 1-5 1-11 1 9 1 8 1 24 1-15 1-8 1-35 1-5 1 9 1 27 1 33 1-3 1-2 1-19 1-6 1-4 1-24 1-3 1-4 1 1 1-4 1 8 1-25 1 7 1-3 1-15 1 17 1 19 1-8 1-18 1-22 1 15 1-19 1 19 1 13 1-3 1 11 1 22 1 9 1-52 1 1 1 0 1 30 1 10 1 4 1-3 1-11 1 29 1-8 1-21 1-17 1 58 1-26 1 8 1 11 1-30 1-26 1 17 1 6 1 16 1 8 1 5 1 29 1-6 1-35 1 13 1 5 1-1 1 0 1-1 1-11 1-11 1-4 1-6 1-10 1-16 1 15 1 28 1-21 1 22 1 15 1-13 1 16 1 4 1-18 1-6 1-22 1-3 1 28 1-23 1-9 1 37 1 9 1-1 1-36 1 5 1 1 1-14 1 2 1 12 1-3 1-1 1-8 1 12 1 0 1-9 1 24 1 23 1-35 1 50 1-24 1 16 1-17 1-15 1 17 1 0 1 2 1-2 1-10 1-10 1-6 1 3 1-8 1-21 1 21 1-32 1-4 1 11 1 1 1 6 1 50 1 9 1 14 1-24 1-19 1-34" vector-effect="non-scaling-stroke"/>
<path id="p93" d="M0 152l1 3 1 22 1 10 1 0 1 8 1-5 1-19 1 30 1-12 1 1 1 16 1 5 1 22 1 4 1-27 1 8 1 17 1-13 1-20 1-17 1 18 1 6 1 0 1-9 1 10 1-10 1-12 1 4 1-4 1-13 1 8 1-8 1 10 1 3 1 2 1 5 1-4 1-2 1 2 1-1 1-4 1 14 1 9 1-2 1-9 1 9 1-9 1 5 1 1 1-7 1 0 1 4 1-6 1-1 1 8 1 25 1-21 1 4 1-4 1-5 1 15 1-12 1-11 1 7 1-1 1-22 1 17 1 12 1-1 1 1 1 8 1-4 1 2 1-15 1-12 1-14 1-13 1 11 1 11 1-11 1-4 1-2 1 20 1-8 1-2 1 13 1-4 1 8 1-1 1-2 1 8 1-1 1 6 1-6 1 0 1-23 1 11 1 6 1 17 1 12 1-1 1-9 1 16 1 4 1-20 1-19 1 3 1-7 1 15 1-20 1 3 1-8 1 5 1 7 1 20 1 1 1-33 1-1 1-4 1 5 1 3 1-7 1 13 1 9 1-4 1-4 1 5 1-4 1-3 1 4 1 0 1-1 1 4 1 1 1-2 1 17 1 0 1-4 1-5 1-7 1 8 1-10 1-7 1 4 1 13 1 3 1 2 1-13 1 6 1-5" vector-effect="non-scaling-stroke"/>
<path id="p94" d="M0 207l1-1 1-6 1-15 1-16 1 18 1 13 1 7 1-9 1 2 1-9 1-11 1 26 1-11 1 7 1-7 1 1 1 6 1-10 1-16 1 13 1-4 1-16 1 15 1-9 1-5 1 27 1 18 1 4 1 3 1-27 1 17 1-24 1 17 1 21 1 1 1 8 1-6 1-11 1 14 1-2 1-24 1 9 1-35 1 7 1 18 1-30 1 22 1-11 1-15 1-13 1 13 1 29 1-14 1 3 1 25 1-8 1 12 1-10 1 1 1-16 1-5 1 17 1-17 1-12 1-31 1 4 1 9 1 1 1 12 1-4 1 9 1-16 1 12 1 23 1 9 1-33 1-12 1 26 1 3 1 4 1-36 1 6 1 7 1 1 1 32 1 0 1 4 1 3 1 19 1-17 1-14 1 4 1-10 1-13 1-7 1 8 1 35 1 26 1-10 1 7 1-18 1 13 1-9 1-25 1 0 1 27 1 7 1-21 1-2 1 30 1-17 1 9 1-27 1-15 1-18 1 5 1 8 1 23 1 16 1-13 1 1 1-3 1-10 1 32 1-3 1-23 1-21 1-10 1-36 1 19 1 14 1 12 1 6 1 7 1 15 1 10 1-6 1 8 1-5 1-9 1-2 1-3 1-15 1 26 1 1 1 3 1-33 1-6 1-7 1 4" vector-effect="non-scaling-stroke"/>
<path id="p95" d="M0 160l1-1 1 20 1 10 1-12 1 7 1-8 1-4 1 23 1-16 1-9 1 7 1-6 1 9 1-14 1 24 1-1 1 9 1 5 1-26 1-12 1 8 1 13 1-10 1 18 1 11 1 10 1-8 1-4 1 16 1 3 1-8 1-6 1-15 1 2 1-3 1 7 1 2 1-21 1-3 1-4 1 13 1 27 1 7 1-2 1-21 1-3 1 5 1-2 1-6 1-4 1-12 1 1 1 16 1 20 1 9 1-19 1-23 1 12 1-23 1 3 1 6 1 1 1-2 1 12 1 1 1 3 1 36 1-4 1-28 1-11 1 11 1-2 1-9 1 9 1-8 1 5 1 19 1-2 1 24 1-4 1 9 1-25 1 21 1-11 1-17 1-10 1 17 1 18 1-22 1 2 1 3 1-7 1 2 1-1 1 4 1 1 1 30 1-3 1-14 1 3 1-2 1-19 1 9 1-15 1-13 1-8 1-5 1 18 1 16 1-16 1-1 1-28 1-9 1 2 1 7 1 9 1 4 1 8 1 3 1-6 1-2 1 0 1 23 1 17 1 7 1 18 1 3 1-3 1 8 1-6 1-4 1 11 1-13 1 6 1-13 1 9 1-3 1-20 1 8 1-15 1-27 1-11 1 23 1-17 1-19 1 4 1-15 1-11 1 36 1-3" vector-effect="non-scaling-stroke"/>
<path id="p96" d="M0 183l1 18 1 5 1 18 1-20 1-18 1-15 1 13 1 12 1-1 1 2 1-14 1-11 1 31 1-3 1 2 1 9 1 1 1-5 1-4 1 6 1 26 1-2 1 5 1-24 1-23 1 5 1 7 1-3 1-16 1 4 1 15 1-10 1 23 1 13 1-7 1-2 1-3 1-13 1-23 1-8 1-1 1-6 1 2 1-12 1 9 1-2 1-7 1 6 1 0 1 10 1 3 1 23 1 0 1 0 1 3 1 16 1 10 1 1 1-8 1 6 1 1 1-16 1-14 1-1 1 17 1 8 1 0 1 4 1-10 1-13 1-3 1-11 1 0 1 6 1 8 1-11 1 0 1-5 1 0 1 11 1-34 1-2 1 2 1 14 1 24 1-7 1-15 1 1 1-2 1 3 1 17 1-12 1 3 1-7 1-15 1-10 1 12 1-1 1 15 1 13 1 16 1-4 1-17 1-7 1 15 1-11 1-2 1 0 1-22 1 1 1 1 1-2 1 3 1 13 1 23 1 2 1-1 1 19 1 3 1-12 1 2 1 4 1-4 1 2 1-4 1-11 1-7 1-3 1-7 1-7 1 10 1-5 1-6 1-2 1-13 1 1 1 10 1-4 1-4 1 11 1 21 1 3 1-8 1 8 1 3 1-6 1 11 1-18 1 3 1-10" vector-effect="non-scaling-stroke"/>
<path id="p97" d="M0 127l1 32 1 15 1 4 1 15 1-5 1 12 1-36 1 1 1 10 1-5 1 32 1-10 1-11 1 6 1 40 1-10 1 1 1-3 1-20 1 3 1-48 1 0 1-1 1 2 1-25 1 23 1 31 1-3 1-2 1 28 1-30 1-35 1 6 1-2 1 30 1 30 1 5 1-18 1 22 1 5 1-23 1 6 1-6 1 19 1-23 1-11 1 10 1 22 1-8 1 1 1-2 1-15 1-5 1 9 1 13 1-19 1-25 1 24 1-15 1-22 1 26 1 25 1 6 1-21 1 26 1-11 1 10 1-21 1 22 1-35 1-1 1 0 1 3 1-31 1 38 1-15 1-18 1 30 1 10 1 9 1 6 1-5 1-44 1 17 1 23 1-34 1 9 1 25 1-21 1-7 1 8 1 8 1-1 1-2 1 5 1-30 1 28 1 10 1 12 1-5 1 11 1-37 1-14 1-12 1 21 1-1 1 12 1-18 1 16 1 23 1 19 1-7 1-13 1 7 1 12 1-43 1 8 1-14 1 20 1 20 1-21 1 5 1 10 1 13 1-2 1 3 1-28 1-3 1-8 1 8 1 42 1-16 1-20 1 12 1-12 1 19 1-32 1-3 1-43 1-3 1 28 1 23 1 20 1-24 1 26 1-3 1 4 1 12 1-7 1 1" vector-effect="non-scaling-stroke"/>
<path id="p98" d="M0 221l1-9 1 0 1-8 1 15 1-13 1-8 1 6 1 0 1-18 1-8 1-18 1-37 1 28 1 22 1 21 1-2 1-3 1 35 1-26 1-1 1 15 1-5 1 35 1 0 1-11 1-19 1-6 1 13 1 9 1-12 1-31 1 8 1 20 1 17 1-8 1 35 1 5 1-4 1-28 1-7 1-20 1-19 1 23 1-9 1 18 1-47 1-9 1 12 1 3 1-12 1 22 1 16 1 17 1-10 1-13 1 4 1-17 1 27 1-23 1-16 1-18 1 42 1 10 1-25 1 6 1 36 1-7 1 0 1 14 1-7 1 13 1-34 1 29 1-21 1-25 1 26 1-10 1 38 1-34 1-8 1-26 1 14 1-14 1-16 1 4 1-1 1-9 1 43 1-28 1 13 1 16 1-12 1-13 1 15 1 18 1 27 1-23 1-18 1 16 1-2 1 7 1-8 1-2 1 10 1 2 1 17 1-8 1 3 1-11 1 13 1 8 1 6 1 2 1-56 1 4 1 12 1 37 1-24 1 17 1-19 1-17 1 16 1-11 1-31 1 29 1 31 1-3 1 5 1-10 1 4 1 0 1-18 1 29 1-11 1 5 1 1 1 6 1 20 1-23 1-4 1-27 1 5 1 23 1 8 1-5 1 10 1 15 1-63 1-7 1 2" vector-effect="non-scaling-stroke"/>
<path id="p99" d="M0 208l1-12 1-7 1-3 1 6 1 6 1-12 1-8 1-2 1 20 1-4 1 7 1-8 1 7 1 7 1-5 1 7 1-8 1-2 1 1 1 1 1-7 1-3 1-3 1 6 1-8 1 2 1 2 1-6 1 2 1 1 1 4 1 1 1 1 1-9 1-2 1 8 1 3 1-1 1 15 1 4 1-2 1-12 1 17 1-4 1-4 1 4 1 9 1-4 1 3 1-5 1-15 1-7 1 10 1-2 1-8 1 12 1 0 1 7 1-7 1-5 1 3 1-5 1 3 1 0 1 1 1 1 1 2 1-10 1 6 1-1 1-1 1-5 1 3 1-3 1-1 1 1 1-9 1 0 1 1 1-1 1 6 1-2 1 8 1 11 1-3 1 8 1-9 1 2 1-20 1 3 1 5 1 2 1 16 1-15 1 24 1-1 1 5 1-8 1 2 1 7 1-1 1-5 1-12 1 6 1-12 1 0 1-10 1 1 1 2 1-10 1 9 1 4 1-6 1 5 1 1 1 12 1-13 1-6 1 5 1-16 1-5 1 22 1-3 1-7 1 2 1-9 1-8 1 24 1 8 1-8 1-10 1 5 1 14 1 6 1-17 1 1 1 3 1 13 1 10 1-13 1 5 1-15 1-2 1 1 1-6 1 5 1-2 1-15 1-1 1 17" vector-effect="non-scaling-stroke"/>
<path id="p100" d="M0 173l1 1 1 11 1-6 1-7 1-9 1-10 1 3 1 2 1 7 1 4 1-1 1 16 1 3 1-17 1 13 1-3 1 20 1-4 1 8 1 1 1 6 1 7 1-19 1 3 1-8 1-12 1-8 1-7 1 7 1-3 1 17 1-3 1-17 1 8 1-2 1 27 1 4 1 19 1 7 1 1 1-11 1 9 1-18 1-13 1-10 1-2 1 18 1 15 1 8 1-11 1-11 1 19 1-13 1 2 1 6 1-3 1-11 1-18 1-11 1 11 1 17 1-6 1-3 1-11 1-6 1 7 1 7 1 0 1 21 1-8 1 7 1 2 1-17 1-3 1 9 1-8 1 13 1-1 1 13 1 3 1 0 1 0 1-9 1 12 1 7 1-1 1-5 1-19 1-5 1 20 1 4 1-10 1-26 1 7 1-12 1-6 1-3 1 32 1 0 1 3 1-11 1 15 1-11 1-4 1-13 1 3 1 12 1-13 1 4 1 13 1-1 1 6 1-2 1 7 1-15 1-1 1 4 1 1 1 9 1-16 1 15 1-13 1 0 1 0 1-22 1 2 1-10 1 20 1 14 1-9 1-16 1 9 1-6 1-1 1-7 1-6 1 13 1 10 1 19 1 3 1-11 1 19 1-20 1-2 1 11 1-11 1-2 1 15 1 4 1-16" vector-effect="non-scaling-stroke"/>
<path id="p101" d="M0 193l1 5 1 11 1 5 1-8 1 8 1-16 1-2 1-3 1 6 1-6 1-1 1-7 1-2 1-4 1 7 1-10 1 4 1 2 1-7 1 14 1 9 1 2 1-5 1 8 1-8 1 4 1-4 1-6 1 7 1 1 1 17 1 0 1-5 1 1 1 3 1 6 1-9 1-7 1 4 1-2 1 10 1-2 1-11 1-1 1 11 1-2 1-12 1 4 1 18 1-7 1 5 1-10 1 2 1 8 1-11 1-13 1-5 1-1 1 8 1-6 1-3 1-4 1 0 1 2 1 6 1 4 1 3 1 5 1 7 1-11 1-9 1 3 1-2 1 0 1 6 1-7 1 3 1-14 1-14 1 17 1 12 1 11 1-5 1 1 1-5 1 18 1 0 1-11 1 2 1-5 1-2 1-1 1-10 1-12 1 1 1 10 1-17 1 0 1 6 1 13 1-4 1 7 1 10 1-2 1 3 1-2 1 2 1-1 1-4 1 15 1-4 1 10 1-12 1-3 1 3 1-6 1-1 1 10 1 2 1 0 1-9 1-4 1-3 1 6 1 7 1-6 1-9 1 12 1 6 1-9 1-8 1-5 1 5 1 6 1-10 1 5 1 12 1-6 1-3 1-4 1 3 1-2 1-8 1 14 1 0 1-16 1 6 1 7 1 8 1-7" vector-effect="non-scaling-stroke"/>
<path id="p102" d="M0 161l1 0 1 14 1-5 1 8 1 11 1 5 1-1 1 10 1-7 1 14 1-10 1 10 1 9 1-3 1 7 1 19 1 0 1-22 1-10 1 18 1 3 1 2 1-22 1-3 1 20 1-23 1-1 1-29 1 18 1-9 1 18 1 7 1 20 1-23 1 15 1-12 1 17 1-26 1-3 1 8 1 17 1 2 1-52 1-10 1 5 1-26 1 28 1 14 1-4 1 14 1 26 1 3 1 2 1-20 1 19 1 5 1-14 1-1 1 9 1 9 1-30 1 8 1 6 1 1 1 17 1-2 1-5 1 0 1-8 1 3 1-16 1-10 1-25 1 48 1-1 1-15 1 11 1 18 1-13 1-9 1-42 1 5 1-11 1-27 1 26 1 15 1 41 1-33 1 31 1 18 1-17 1 5 1-25 1-2 1 5 1 21 1-24 1 2 1 2 1-12 1 0 1 5 1 1 1-5 1-6 1 26 1-14 1 30 1-52 1 19 1-10 1 13 1 35 1-12 1 12 1-10 1-14 1-22 1-7 1-5 1-13 1 19 1-3 1 2 1-15 1 24 1 0 1 15 1-22 1 9 1-17 1 20 1 19 1-10 1-12 1 17 1-21 1 17 1-3 1 16 1 23 1 1 1-21 1-9 1 16 1-15 1 4 1 0 1-27 1 13" vector-effect="non-scaling-stroke"/>
<path id="p103" d="M0 166l1 21 1-18 1-2 1-14 1 16 1 5 1 13 1 4 1 2 1 10 1 15 1-10 1-10 1 11 1 36 1 7 1 3 1-22 1-16 1-1 1-14 1 1 1-11 1 19 1 4 1-1 1 13 1-19 1-16 1 26 1-29 1 16 1-4 1 4 1 9 1 0 1-26 1 10 1 4 1-15 1-1 1 17 1 3 1 13 1-6 1 24 1-3 1-8 1-3 1-4 1 4 1-16 1-3 1-23 1-3 1 8 1 2 1-26 1 3 1 11 1 29 1 21 1-22 1-2 1 18 1-3 1 7 1 5 1 13 1-22 1 4 1 14 1-3 1-24 1 29 1 1 1-32 1-15 1-9 1 25 1-2 1 7 1 2 1-10 1 21 1-9 1-12 1 23 1 15 1-19 1-7 1-7 1 8 1-10 1 14 1-8 1-7 1-22 1 10 1 28 1 1 1-12 1 4 1-8 1-14 1 10 1-10 1 1 1 23 1-2 1 0 1-27 1-3 1-3 1 19 1-2 1-10 1 29 1 0 1 14 1-9 1-5 1-15 1-22 1 4 1 7 1-9 1 20 1 1 1 12 1-12 1-4 1 22 1 18 1-26 1-8 1-3 1-11 1 7 1 1 1-9 1-9 1-17 1 19 1 3 1 11 1-37 1 23 1 5 1-27" vector-effect="non-scaling-stroke"/>
<path id="p104" d="M0 226l1-35 1-4 1-1 1 5 1-20 1 11 1 39 1-16 1 16 1-37 1 29 1-18 1 18 1 25 1-50 1-15 1 13 1 17 1 38 1-16 1 22 1 38 1-19 1 16 1-5 1-24 1-25 1 15 1-15 1-23 1 42 1 5 1-51 1-4 1-28 1 0 1-30 1 39 1 16 1-21 1 17 1 19 1-5 1-22 1 9 1-28 1 37 1 46 1-32 1 59 1-29 1-50 1-19 1-42 1 64 1 18 1-38 1 23 1 11 1-6 1 19 1-26 1-15 1-13 1 3 1 15 1 0 1 22 1-9 1-39 1-47 1 6 1-30 1 30 1-3 1 59 1-31 1 43 1 21 1-36 1-24 1 13 1-21 1 36 1-33 1 17 1 26 1-46 1 4 1-18 1 27 1 6 1 31 1-31 1-21 1-7 1-3 1 68 1-24 1-17 1 13 1-6 1 20 1-16 1-7 1 13 1-8 1-7 1 4 1-15 1-5 1 1 1 22 1 9 1-16 1-18 1 44 1-15 1 7 1 6 1 21 1 9 1 11 1 24 1-2 1 3 1 10 1-44 1-4 1 13 1 10 1-24 1-8 1 8 1-16 1 0 1-16 1-37 1 0 1 16 1-21 1 22 1-3 1 19 1-15 1-27 1 21 1 24 1-2 1 10" vector-effect="non-scaling-stroke"/>
<path id="p105" d="M0 200l1-2 1 4 1-7 1 11 1 1 1 7 1-10 1 4 1 2 1-7 1-7 1 0 1-1 1 9 1 3 1 6 1-10 1 0 1-5 1 17 1 3 1-8 1-10 1 11 1-12 1 7 1 1 1-4 1-14 1 4 1 7 1-15 1-14 1 8 1-5 1 0 1 2 1 6 1 5 1 13 1 2 1 11 1-1 1-1 1-5 1 1 1-7 1 3 1-20 1 14 1 4 1 12 1 0 1 8 1 0 1-10 1-7 1 4 1 4 1-16 1 10 1-15 1 3 1-2 1 8 1-4 1-2 1 2 1 8 1-11 1-1 1-1 1-12 1 11 1 1 1-8 1-5 1 8 1 2 1 18 1-9 1-3 1 14 1-1 1-5 1-18 1 6 1 0 1-5 1 6 1 16 1 5 1-18 1-11 1-7 1 3 1 7 1-8 1 9 1-5 1 2 1 2 1 6 1 0 1 13 1-2 1 14 1 1 1 5 1 3 1-8 1 12 1-11 1-5 1-7 1-13 1 1 1-17 1 1 1 7 1 2 1-5 1 14 1-3 1 4 1-3 1 5 1-8 1-8 1 4 1 0 1-3 1-4 1 6 1-5 1 9 1 5 1-1 1 8 1 7 1-6 1-6 1-5 1 13 1-9 1 12 1-10 1-13 1 7 1-9" vector-effect="non-scaling-stroke"/>
<path id="p106" d="M0 195l1 4 1-6 1 24 1 7 1-3 1-6 1 22 1-18 1 6 1 11 1 12 1-20 1 1 1-12 1-12 1-6 1-11 1 16 1-2 1 20 1-40 1-4 1-2 1-2 1 18 1-6 1 6 1-17 1-9 1 20 1 9 1 17 1 11 1-1 1-10 1-12 1 15 1-42 1 49 1 37 1-2 1-20 1-9 1-3 1-3 1-13 1-12 1-9 1-34 1 21 1 8 1 29 1-25 1 25 1 21 1 11 1-34 1-5 1 6 1 1 1 11 1-14 1 29 1 8 1-26 1-18 1 20 1 5 1-34 1-16 1 11 1 14 1-4 1 12 1-24 1 21 1 11 1-7 1-1 1 0 1-11 1 6 1-5 1 0 1 1 1-10 1 24 1 12 1-30 1 4 1-12 1 21 1-7 1 0 1-4 1 13 1-11 1-11 1-22 1 19 1 5 1 11 1 38 1-6 1-7 1-12 1-4 1 21 1-4 1-20 1 4 1 3 1 26 1 4 1-17 1-8 1-27 1-7 1-4 1-20 1 15 1-16 1 16 1-3 1 13 1 18 1 25 1 5 1-18 1-3 1-12 1-13 1-13 1-2 1 8 1-10 1 35 1-4 1 5 1 18 1 2 1-1 1-1 1-15 1-3 1-12 1-7 1-9 1-2 1 30" vector-effect="non-scaling-stroke"/>
<path id="p107" d="M0 248l1-15 1-17 1-16 1-6 1-6 1-8 1 7 1 3 1 18 1-16 1 9 1-3 1 16 1-3 1 2 1-14 1-12 1 7 1 25 1-3 1 16 1-23 1 11 1-14 1-2 1 6 1 14 1-6 1 15 1-28 1-4 1 27 1 16 1-23 1-3 1 4 1-12 1-13 1 17 1-13 1-6 1 0 1 4 1 9 1 25 1-15 1-5 1-9 1-19 1 15 1-1 1 2 1-1 1-2 1 12 1 11 1-6 1-10 1 21 1-3 1-23 1-21 1 28 1-10 1 3 1 7 1-8 1 10 1-19 1-11 1 29 1-6 1-18 1 1 1 26 1 9 1 10 1-5 1-17 1-4 1-14 1-5 1-3 1-22 1 13 1 21 1-7 1 0 1 20 1 6 1 7 1-8 1 0 1 10 1 8 1 3 1-25 1 14 1 5 1-10 1 5 1-5 1 0 1-18 1-1 1 8 1 28 1-14 1 0 1-18 1-7 1 2 1-9 1-4 1 21 1 1 1-4 1 4 1 6 1-2 1-5 1-3 1-2 1 3 1-4 1-1 1 16 1 1 1-16 1 10 1-9 1-3 1-4 1 9 1-1 1 6 1-22 1 10 1-1 1 2 1 26 1 24 1-21 1 1 1-16 1 9 1-13 1 3 1-11 1 11" vector-effect="non-scaling-stroke"/>
<path id="p108" d="M0 195l1-15 1 1 1-8 1 22 1 7 1-15 1-2 1-6 1-3 1-3 1-4 1-16 1 21 1 21 1 5 1 1 1 24 1-12 1 11 1 1 1-4 1-4 1-1 1 0 1-1 1 16 1-32 1-4 1-17 1 3 1 0 1 5 1-19 1 23 1-20 1-3 1-8 1 28 1 23 1-1 1 2 1-9 1 10 1-8 1 3 1 25 1 1 1-5 1-21 1-37 1 38 1-8 1-22 1 20 1-4 1 15 1-3 1 7 1 7 1 19 1-11 1-20 1 23 1 6 1-11 1 16 1 14 1-12 1-41 1 7 1 1 1-1 1 1 1 15 1-5 1-23 1-3 1 6 1-11 1 2 1-16 1 17 1-19 1 21 1-2 1 21 1-24 1-5 1 8 1-2 1 9 1-13 1 3 1 3 1 9 1-35 1 2 1 7 1 10 1 13 1-16 1 1 1 1 1-10 1-3 1 6 1-4 1-15 1-9 1 9 1-3 1 32 1 16 1-9 1 15 1-11 1 6 1 0 1-7 1 13 1-3 1-21 1 17 1-12 1 11 1-9 1 1 1-1 1-33 1-9 1 7 1 22 1-9 1 3 1 19 1 11 1-15 1 16 1-6 1-2 1 1 1-3 1 3 1-15 1 18 1-4 1-9 1 7 1 21 1-22" vector-effect="non-scaling-stroke"/>
<path id="p109" d="M0 196l1-1 1 12 1 5 1 2 1-5 1-13 1 18 1-3 1 6 1-4 1-4 1-13 1 8 1-5 1-4 1-5 1 10 1 8 1 1 1 1 1-2 1-2 1-15 1 6 1 5 1 6 1 13 1-3 1-18 1 11 1 0 1-7 1 4 1 9 1-9 1-11 1-8 1-11 1 8 1-16 1 12 1 1 1 3 1 13 1-7 1 12 1 17 1-12 1-11 1-19 1 10 1-2 1-2 1 13 1-6 1 11 1-3 1 3 1-13 1-6 1-2 1 14 1-1 1 0 1-17 1 1 1 2 1-20 1 3 1 21 1-13 1 29 1-8 1 1 1 5 1-2 1-2 1 0 1 16 1 9 1 6 1-8 1-9 1-8 1-16 1-6 1 14 1 14 1-1 1 2 1 5 1-20 1-4 1 10 1-1 1 5 1 8 1 5 1-22 1-1 1 3 1-3 1 7 1-12 1-8 1-8 1 25 1-10 1 14 1 4 1-4 1 1 1 1 1 2 1 3 1-6 1-15 1 1 1 14 1-11 1-11 1 10 1-2 1 2 1-11 1 6 1 17 1 1 1 8 1-6 1 5 1-4 1 10 1-13 1 3 1 4 1 4 1-10 1-11 1-13 1 2 1 15 1-4 1 11 1 0 1 15 1-13 1-8 1 7 1-3" vector-effect="non-scaling-stroke"/>
<path id="p110" d="M0 174l1-31 1 31 1 2 1 7 1 10 1-18 1-16 1-3 1 20 1-8 1 5 1-4 1-3 1-13 1 15 1 26 1-7 1-15 1-15 1 8 1 25 1 26 1-9 1-11 1 6 1 9 1-19 1 20 1-23 1-34 1-2 1 27 1-16 1 15 1 8 1-4 1 7 1 4 1 50 1-13 1-29 1 4 1 9 1 22 1-12 1-2 1-5 1-6 1-6 1 5 1-2 1-8 1 20 1-31 1 17 1-9 1-4 1 11 1-3 1-22 1-20 1 5 1 1 1 30 1-8 1 29 1-25 1 6 1 5 1-21 1-6 1 21 1-5 1-19 1-3 1 1 1-16 1 42 1-13 1 3 1 21 1 4 1 25 1-20 1-11 1 21 1-25 1 10 1-6 1 12 1-19 1-4 1 2 1-2 1 38 1-11 1-32 1 3 1-28 1 14 1 15 1 16 1 15 1 2 1 6 1-2 1 10 1-9 1-12 1-12 1 6 1-4 1 5 1-2 1-5 1-16 1-35 1 24 1-7 1 15 1-3 1 3 1-18 1-10 1-24 1 11 1 33 1-1 1 2 1 3 1 14 1-14 1 28 1-22 1-30 1 52 1-1 1-34 1 1 1 26 1 30 1-9 1-17 1 26 1-27 1 38 1-26 1 1 1-35 1 8" vector-effect="non-scaling-stroke"/>
<path id="p111" d="M0 172l1-17 1-21 1 28 1 3 1 14 1 4 1 7 1 2 1 13 1-18 1 18 1 27 1-3 1-18 1-7 1 18 1 14 1-11 1-30 1 1 1 1 1-8 1 15 1 29 1-29 1 12 1-16 1-18 1 3 1 7 1-3 1 11 1-10 1-9 1 12 1-15 1-5 1 22 1-18 1-7 1-17 1 16 1 33 1-7 1 31 1-18 1 4 1 4 1-6 1 7 1 19 1-2 1-18 1-16 1 3 1 14 1-8 1-10 1-15 1-17 1 27 1-10 1-8 1-6 1 14 1 0 1-20 1 4 1-17 1 14 1 6 1 13 1-21 1-24 1 16 1 2 1 11 1-18 1 27 1-7 1-9 1 7 1 15 1 5 1-6 1-5 1 12 1-6 1 17 1 10 1 3 1 3 1 7 1-20 1-7 1-8 1 17 1 0 1 7 1-20 1-8 1-14 1-2 1-2 1 27 1 6 1 16 1-1 1-11 1 21 1-4 1-17 1 6 1-4 1-3 1-2 1-24 1 0 1-10 1 10 1 5 1 4 1-10 1-17 1 0 1 4 1-12 1-9 1 4 1-2 1 44 1 6 1 1 1 5 1-3 1 2 1 15 1-30 1 15 1-8 1-10 1-6 1 6 1-22 1 17 1 1 1 8 1-15 1 31 1-7" vector-effect="non-scaling-stroke"/>
<path id="p112" d="M0 220l1-28 1 39 1-14 1-21 1 7 1 0 1-2 1 33 1-5 1-5 1-10 1-7 1 29 1-6 1-6 1-5 1-22 1 34 1 7 1-10 1-9 1-17 1-9 1 0 1 7 1-4 1 6 1-10 1 6 1 7 1-2 1-14 1 3 1 10 1 10 1-1 1-11 1-3 1-22 1-20 1-20 1 0 1 18 1 19 1 10 1 17 1 32 1-39 1-18 1-8 1 21 1 17 1-28 1 17 1 9 1-10 1 15 1 9 1 18 1-16 1-30 1-4 1-13 1 1 1 22 1-2 1-11 1 0 1-13 1 7 1 33 1-10 1-1 1-10 1 14 1-27 1-12 1-4 1 22 1 19 1-8 1-13 1-8 1-7 1 14 1 1 1 26 1 12 1 2 1 3 1-22 1-6 1-5 1 18 1 25 1-15 1 7 1-28 1 3 1-5 1 24 1-4 1 0 1-8 1-5 1 8 1-2 1 18 1-22 1-18 1 14 1-3 1-12 1 0 1-3 1 20 1-1 1 10 1 11 1-13 1-8 1-27 1-5 1 15 1-5 1-14 1 31 1 1 1-9 1-6 1 10 1 1 1 6 1-25 1-5 1 0 1 15 1-15 1-6 1 41 1 2 1-21 1-13 1 21 1 27 1 0 1-9 1 21 1 3 1-11" vector-effect="non-scaling-stroke"/>
<path id="p113" d="M0 191l1 2 1 8 1-16 1-3 1-19 1 9 1 12 1-5 1 10 1 20 1-8 1 20 1 13 1-8 1 18 1-2 1-17 1 13 1-3 1 0 1 3 1-6 1 5 1-2 1-3 1 11 1 16 1-26 1-39 1 21 1 17 1-21 1 1 1-13 1 6 1-12 1-11 1-20 1 20 1 17 1-17 1 1 1 15 1 13 1-13 1-20 1 5 1-13 1 26 1-13 1 7 1-18 1 21 1 15 1-11 1-19 1 17 1-6 1-18 1-13 1-4 1 19 1 13 1-4 1 5 1-4 1 1 1-3 1-4 1 23 1-4 1 9 1 12 1-11 1-17 1-5 1 6 1 13 1 27 1 4 1-9 1 2 1-21 1-9 1 5 1 6 1-23 1 23 1-16 1 28 1-28 1-7 1-19 1 7 1 5 1-11 1-11 1 15 1-5 1 24 1 4 1 16 1 2 1-17 1 13 1-29 1 31 1-27 1-20 1 15 1-1 1-3 1-11 1 15 1-3 1 0 1 16 1 12 1-4 1 12 1-6 1-10 1-16 1-10 1-5 1-33 1 2 1 10 1 1 1 13 1 1 1-12 1 6 1-11 1 68 1-14 1 3 1-10 1-20 1 11 1-15 1 10 1 8 1 29 1 10 1-24 1-32 1 7 1 0 1-11" vector-effect="non-scaling-stroke"/>
<path id="p114" d="M0 202l1-22 1-6 1 4 1 3 1 1 1 6 1 7 1-17 1 11 1 13 1 8 1-11 1-21 1 27 1 6 1-11 1 1 1 0 1 9 1 3 1-3 1-1 1 1 1-5 1 1 1-3 1-19 1 15 1 0 1 6 1 6 1-16 1-3 1 15 1 1 1 0 1-20 1 10 1-9 1-4 1 6 1 5 1-11 1 2 1-2 1 5 1 8 1 0 1-8 1-11 1 5 1-7 1-8 1 4 1 0 1 10 1-10 1-1 1 14 1 8 1 3 1 4 1 3 1 6 1-2 1-12 1 4 1-11 1 1 1 3 1 11 1-5 1 10 1-14 1-6 1 12 1 9 1 5 1-11 1-19 1 0 1 8 1 12 1 6 1 11 1-4 1 5 1-26 1 14 1-10 1 4 1-8 1 10 1-12 1-6 1-13 1 23 1-10 1-4 1 11 1-3 1-9 1 1 1-11 1 6 1 6 1 16 1 32 1-26 1 1 1-20 1 0 1 7 1 16 1 10 1-19 1-5 1 8 1 1 1 1 1 5 1-17 1 5 1-4 1 4 1-9 1 0 1 12 1-6 1-8 1 20 1 8 1-3 1-14 1-8 1 1 1-7 1-9 1 16 1-4 1 5 1 3 1-5 1 3 1-11 1 1 1-6 1 0 1-2 1 3" vector-effect="non-scaling-stroke"/>
<path id="p115" d="M0 170l1 14 1 5 1 32 1-21 1-10 1 9 1 0 1-1 1-9 1 8 1 8 1-17 1 20 1-1 1 10 1-9 1-25 1-6 1-8 1 20 1 27 1 1 1-16 1 8 1 15 1-10 1 1 1 24 1-16 1 3 1 10 1-18 1-13 1-6 1-6 1 19 1 3 1-10 1 32 1 17 1-25 1-22 1-19 1 15 1-24 1 17 1 5 1 5 1 0 1-15 1-30 1 16 1 2 1 25 1-6 1 14 1-13 1 6 1 5 1-21 1 10 1 23 1-9 1 4 1-1 1-10 1-21 1-20 1 22 1 2 1-26 1 23 1 13 1 18 1-2 1 10 1 3 1 12 1-24 1-3 1-16 1-12 1 8 1-16 1-1 1 13 1 4 1-11 1 23 1 1 1-10 1 5 1 9 1-32 1 33 1-11 1-10 1-9 1 8 1-17 1 12 1 17 1 8 1-1 1-2 1-24 1 30 1-11 1-13 1 18 1-1 1 6 1 11 1-38 1 30 1-12 1 0 1 7 1-16 1 1 1-22 1-8 1 10 1 5 1 1 1 32 1-13 1 0 1 6 1-19 1-10 1-1 1-4 1 6 1 1 1-16 1-2 1 11 1-6 1 5 1 9 1 6 1-8 1-4 1 1 1-3 1 9 1 6 1 17 1-40" vector-effect="non-scaling-stroke"/>
<path id="p116" d="M0 215l1-3 1-11 1-18 1-2 1 7 1-1 1-4 1-6 1 5 1 16 1 17 1-5 1-9 1 14 1 13 1-25 1-20 1 3 1 2 1-2 1 12 1 1 1 6 1-8 1 4 1 8 1 0 1-1 1 10 1-8 1-5 1-1 1-25 1 23 1 2 1 2 1 3 1 3 1-14 1-4 1 7 1-17 1 4 1-3 1-10 1 3 1-8 1-12 1-7 1 32 1 4 1 23 1-7 1-21 1-6 1 13 1-12 1 7 1-10 1-4 1 6 1 19 1-3 1-1 1-6 1-19 1 1 1-3 1 3 1 1 1 8 1 1 1 11 1-10 1-14 1 4 1-11 1 19 1 7 1 15 1-3 1-10 1 1 1-5 1-6 1-10 1 1 1 4 1-6 1 6 1 9 1 22 1 6 1-15 1 14 1 10 1 3 1 1 1 4 1 6 1 6 1 1 1-13 1-4 1-1 1-2 1-4 1-9 1-2 1-3 1-4 1 12 1 3 1 0 1 0 1-16 1 3 1 2 1 4 1 3 1-11 1 16 1 2 1-27 1 14 1-15 1 9 1 13 1-30 1 20 1 13 1-27 1 5 1-15 1 15 1-33 1 12 1-1 1 5 1-2 1-2 1 13 1 16 1-3 1-12 1-12 1-3 1-6 1 11 1 7" vector-effect="non-scaling-stroke"/>
<path id="p117" d="M0 204l1 11 1-1 1-8 1-3 1 8 1-14 1 0 1 0 1 5 1-7 1-5 1 16 1-3 1-1 1-8 1-12 1 7 1 10 1 10 1-7 1-5 1 8 1-23 1 11 1 14 1-7 1-22 1-8 1-8 1 21 1 7 1 11 1 10 1-4 1 3 1-6 1-3 1-10 1-8 1-7 1 6 1 15 1 1 1 5 1-16 1-13 1 3 1-9 1 10 1-1 1 12 1-8 1-4 1 10 1-11 1-7 1-5 1 21 1 6 1 0 1-2 1 4 1-18 1 0 1 11 1 2 1 9 1-25 1-10 1 9 1 20 1 6 1-4 1 2 1-7 1 18 1 14 1-7 1 0 1-19 1 6 1 9 1-1 1 7 1-3 1-15 1 2 1 12 1 2 1-10 1 3 1-7 1-8 1 6 1-7 1-9 1-1 1-1 1 7 1 1 1-7 1-6 1 2 1-19 1 19 1-3 1 7 1 8 1-12 1 2 1 12 1 8 1 4 1-4 1 0 1 1 1-4 1-9 1 1 1-17 1-4 1 13 1 4 1-3 1 14 1 1 1-12 1 11 1-16 1 2 1-9 1 6 1 22 1 3 1-13 1-8 1-8 1 9 1 0 1-7 1 14 1 7 1 7 1-16 1 1 1 1 1 22 1-14 1 7 1-2" vector-effect="non-scaling-stroke"/>
<path id="p118" d="M0 190l1 9 1 1 1-7 1 6 1 9 1-3 1-1 1 0 1 2 1 5 1-2 1-2 1-3 1-19 1 5 1 2 1-3 1 6 1 12 1 7 1 5 1-7 1-7 1-8 1-8 1-1 1-7 1-2 1-1 1 3 1-8 1-13 1 23 1 2 1-1 1 8 1 2 1 6 1 2 1 3 1-11 1 5 1 8 1-8 1 6 1-5 1-16 1 12 1-8 1-7 1 14 1-13 1-17 1 3 1 6 1-3 1 3 1-1 1 3 1 5 1 12 1-12 1 8 1-3 1-6 1 12 1-2 1-2 1 0 1-10 1 2 1 8 1-4 1-9 1 8 1 11 1-7 1-3 1 13 1 12 1 5 1-2 1-9 1-15 1-14 1-6 1 7 1-9 1 0 1 16 1-10 1 10 1 10 1 9 1 6 1-4 1-7 1 7 1 0 1-13 1 11 1-5 1 9 1-11 1-2 1-2 1 12 1-14 1-2 1-21 1 10 1 9 1 2 1 0 1-2 1 8 1 11 1-1 1-4 1-5 1-5 1-25 1 0 1 5 1 0 1 0 1 5 1 20 1 4 1 1 1 1 1 4 1 13 1-6 1-17 1 1 1-10 1 10 1 3 1 6 1 4 1-7 1 2 1-2 1 12 1-3 1 3 1-2 1-14 1 1" vector-effect="non-scaling-stroke"/>
<path id="p119" d="M0 197l1 13 1 1 1-3 1 11 1-33 1 3 1 38 1-18 1-8 1-9 1-8 1 10 1 2 1-2 1-4 1 8 1-2 1 24 1-7 1-14 1-7 1-15 1 12 1-2 1-11 1 8 1 4 1 2 1-16 1 6 1 13 1-19 1 19 1 28 1 1 1-9 1 5 1-3 1-12 1-7 1 11 1-31 1 0 1 6 1-7 1 30 1 12 1 1 1-16 1 5 1 10 1-3 1 4 1 30 1-10 1-20 1-12 1 10 1-19 1 7 1 3 1 5 1-5 1 2 1-1 1-13 1-18 1 13 1 5 1-8 1 8 1 17 1-19 1 1 1-14 1 16 1-4 1 11 1 1 1 5 1-20 1-1 1 13 1 7 1 1 1-8 1-16 1-3 1 8 1-12 1 6 1 11 1-6 1 7 1 8 1 0 1-6 1-7 1-10 1-10 1 2 1-11 1 22 1-8 1-9 1-2 1-6 1 15 1-4 1 8 1 21 1 6 1-9 1-7 1-7 1-6 1 9 1 12 1 0 1 4 1 3 1 4 1 7 1 9 1-6 1-17 1 2 1-4 1-20 1-1 1-2 1-13 1 21 1-15 1 1 1 12 1-20 1 11 1 7 1 3 1-2 1 19 1 2 1-5 1 1 1-6 1-4 1-7 1 8 1-4" vector-effect="non-scaling-stroke"/>
<path id="p120" d="M0 172l1-7 1 12 1-1 1-14 1 0 1 26 1 0 1-19 1 7 1 16 1 14 1-27 1 17 1 7 1-4 1 1 1 7 1-13 1-13 1 14 1-9 1 37 1-3 1-35 1-52 1 14 1 20 1-21 1-16 1-16 1-1 1 25 1 2 1 10 1 23 1 9 1 15 1-11 1-10 1 17 1 11 1 16 1 1 1-1 1-13 1-24 1 14 1-15 1 4 1 10 1-26 1-8 1 13 1 22 1-13 1 10 1-12 1-1 1 24 1-3 1-5 1 21 1-4 1-34 1-7 1 20 1-2 1-17 1 10 1 11 1 0 1 27 1 11 1-42 1 5 1 1 1-6 1 8 1 3 1-26 1 13 1-20 1 20 1-14 1 3 1 2 1 5 1 0 1-4 1 9 1 10 1-5 1 2 1-16 1-29 1 1 1 24 1 16 1-3 1-18 1-4 1 7 1 1 1-17 1 55 1-17 1 18 1 26 1-5 1-3 1 0 1-21 1 24 1-8 1 19 1 17 1-26 1-44 1 13 1-12 1 4 1-7 1 8 1-11 1-16 1 5 1 19 1 28 1-7 1 6 1-22 1-4 1-29 1 23 1-17 1-1 1 20 1 28 1 5 1 45 1-23 1 6 1-35 1-14 1-12 1-7 1 2 1-15 1-12 1 18" vector-effect="non-scaling-stroke"/>
<path id="p121" d="M0 202l1 5 1-1 1 19 1-14 1-3 1 2 1 4 1-4 1-12 1 0 1 13 1 9 1-13 1-4 1-10 1 2 1-7 1 12 1 21 1-4 1-31 1 2 1-1 1-1 1-2 1 9 1-1 1 8 1 3 1 9 1-1 1-18 1 3 1-3 1-1 1-3 1-8 1 20 1-7 1-4 1-1 1-2 1-3 1 15 1 4 1-6 1 12 1-3 1 19 1-13 1 0 1-11 1-2 1-1 1-10 1 20 1-5 1 0 1 11 1-4 1-1 1-5 1-3 1 0 1 9 1-21 1 5 1 10 1-2 1 2 1 6 1 3 1 3 1-5 1-4 1-5 1 15 1 11 1-13 1-15 1-3 1-9 1 9 1 10 1-14 1-3 1 1 1 14 1-11 1 10 1 6 1 6 1 16 1-2 1-15 1-11 1 17 1-13 1-8 1 2 1 3 1 0 1 14 1-13 1-9 1-9 1 12 1-11 1 3 1 1 1 5 1 8 1 0 1 1 1 4 1-5 1-14 1 10 1-1 1 2 1-5 1 5 1-1 1-12 1-4 1 4 1-9 1 1 1-15 1 6 1 11 1-2 1 13 1-5 1-1 1 18 1 8 1-3 1-6 1 1 1-8 1 7 1-3 1 4 1-1 1 15 1 9 1 2 1 1 1-10" vector-effect="non-scaling-stroke"/>
<path id="p122" d="M0 182l1-20 1 27 1-2 1 10 1 7 1 2 1-4 1-13 1 13 1-8 1-5 1-16 1 5 1-10 1-1 1 42 1-23 1 7 1 16 1 3 1-4 1 7 1-5 1 47 1 4 1-17 1-38 1-33 1 11 1 1 1 24 1-3 1-11 1 32 1-17 1-10 1 26 1-13 1 29 1 27 1-25 1-24 1 18 1-11 1-13 1-9 1-4 1-26 1-2 1 8 1 4 1-40 1-3 1 14 1 25 1 5 1-9 1 12 1 17 1-17 1-15 1 11 1 20 1 19 1 4 1-18 1 4 1 8 1-18 1-13 1-13 1-21 1 8 1 23 1-19 1 10 1 9 1 29 1 5 1 17 1 2 1-36 1 12 1 0 1-34 1-20 1-22 1 45 1-25 1 37 1-3 1 3 1-7 1 19 1 9 1-10 1 22 1 36 1-20 1-11 1-8 1-3 1-15 1 43 1-37 1-18 1 33 1-29 1-2 1-28 1-5 1 17 1 29 1-9 1-5 1 6 1-20 1 5 1-11 1 8 1 36 1-4 1 36 1-32 1 20 1-20 1-18 1-4 1 21 1-13 1-34 1-6 1 36 1 2 1 0 1-22 1 2 1 6 1-5 1-2 1-6 1 13 1 16 1-8 1 27 1 28 1-21 1 14 1 22 1-34" vector-effect="non-scaling-stroke"/>
<path id="p123" d="M0 184l1 14 1-2 1-10 1 6 1-14 1-28 1 34 1 8 1 10 1-26 1-15 1 7 1 0 1 0 1 7 1-12 1 24 1 3 1 7 1-13 1-13 1 12 1 9 1 11 1 4 1 7 1 9 1-18 1 0 1-24 1-29 1 11 1 0 1-2 1 31 1 19 1-28 1 37 1-49 1-11 1 4 1-5 1-5 1 25 1 28 1 2 1-10 1-1 1 10 1 12 1 11 1-5 1 17 1-11 1 6 1-7 1 14 1-8 1-17 1 3 1 9 1-24 1 12 1 27 1-47 1 14 1 6 1-33 1-19 1-6 1 5 1-2 1-9 1 17 1 6 1 10 1 16 1 1 1-19 1 11 1 4 1 4 1 6 1-1 1 35 1 11 1-28 1 9 1-11 1-4 1-13 1-16 1 7 1 10 1-11 1-9 1 6 1-15 1-4 1-11 1 16 1-6 1-19 1-15 1-18 1 27 1 12 1 17 1-12 1 2 1 18 1 6 1-3 1 16 1 19 1-4 1-19 1 5 1 12 1-26 1 12 1 31 1-18 1-26 1 27 1-43 1-7 1 27 1 17 1 12 1-24 1 27 1 15 1 37 1-20 1-29 1-3 1-18 1 20 1-14 1-15 1-12 1 0 1-5 1 5 1-55 1 13 1-15 1 23 1 37" vector-effect="non-scaling-stroke"/>
<path id="p124" d="M0 192l1 32 1-26 1 7 1-1 1 19 1 9 1-21 1 24 1 13 1-4 1-11 1-23 1-17 1-9 1 19 1 13 1 5 1-7 1-14 1 9 1-9 1 16 1-22 1-19 1 24 1 23 1-15 1-16 1-4 1-16 1 1 1-7 1 16 1-11 1 12 1 0 1-23 1 24 1-5 1 12 1-12 1-9 1 15 1-18 1 12 1-8 1 18 1-9 1 13 1 10 1-1 1-17 1 16 1-29 1 13 1-15 1 24 1 5 1-18 1-12 1 8 1 17 1 22 1 14 1 15 1-58 1-43 1 8 1 43 1-12 1-7 1 11 1-12 1 10 1-13 1 27 1-1 1-4 1 8 1-12 1-3 1 15 1-7 1-3 1-17 1-16 1 15 1 9 1 12 1 6 1 10 1 0 1-6 1 19 1 11 1 6 1-11 1 28 1-50 1 18 1-16 1-12 1-32 1 5 1 17 1-3 1 19 1-29 1 10 1-10 1 20 1 20 1-19 1-1 1-5 1 10 1-30 1-14 1-4 1 4 1 30 1 6 1 9 1 16 1-29 1 3 1-4 1 9 1 18 1-11 1 14 1-22 1-5 1 16 1 26 1-9 1 16 1 21 1-15 1-3 1-11 1-20 1-6 1-12 1 16 1-15 1-13 1 35 1 10 1-8" vector-effect="non-scaling-stroke"/>
<path id="p125" d="M0 174l1 9 1 13 1 18 1-7 1 4 1 3 1 10 1-10 1 2 1 23 1-30 1-11 1 18 1-27 1-14 1-21 1 9 1 36 1 4 1 15 1-2 1-6 1 17 1-3 1-1 1-18 1 19 1-42 1 22 1-1 1-5 1-16 1 3 1-28 1-8 1 1 1-10 1 31 1-1 1 5 1 13 1 10 1-10 1 9 1 3 1-12 1-7 1-19 1 14 1-2 1 10 1 1 1 12 1 0 1 9 1 12 1-7 1 8 1 11 1 23 1-32 1-28 1-18 1-12 1 14 1-4 1 12 1 15 1 32 1 4 1-48 1 8 1 10 1-14 1 7 1-20 1 24 1 23 1-23 1-14 1 15 1-8 1-18 1 1 1-17 1 15 1-3 1-1 1 17 1 21 1 6 1-36 1-31 1 0 1 40 1-8 1 5 1 8 1-35 1-15 1 48 1 37 1-4 1-6 1-33 1 3 1 11 1 11 1-10 1 9 1 16 1 4 1 14 1-3 1-33 1-15 1-6 1 14 1-8 1 21 1 11 1 14 1-7 1-2 1 5 1 13 1-48 1-14 1-4 1 11 1 9 1 10 1-20 1 3 1 4 1-2 1-18 1 19 1 3 1 13 1-16 1-5 1 7 1 11 1-19 1-25 1 9 1 5 1 8 1-10" vector-effect="non-scaling-stroke"/>
<path id="p126" d="M0 168l1 15 1 0 1 33 1 15 1-35 1 5 1-6 1 18 1-23 1-5 1-10 1 12 1-1 1 2 1-28 1 15 1-15 1 14 1 10 1-9 1 29 1 6 1 19 1-7 1-26 1-11 1 9 1-33 1 18 1 1 1 13 1-3 1 9 1 32 1-20 1-7 1-56 1 6 1 13 1-18 1 24 1-20 1 5 1 30 1-15 1 36 1 36 1-33 1-12 1-16 1 4 1 10 1 9 1 51 1-12 1-41 1-13 1-24 1-22 1-1 1 25 1 27 1 50 1-33 1-1 1-23 1-43 1 4 1-1 1 17 1 7 1-33 1-10 1 16 1 10 1 20 1 29 1-23 1 0 1 18 1 18 1-12 1-28 1 35 1-8 1-2 1 21 1-34 1 4 1 27 1-42 1 4 1-8 1-1 1 13 1 18 1 4 1-19 1-3 1 15 1 19 1-3 1-23 1 20 1 21 1-22 1 2 1 34 1-49 1-20 1 41 1 3 1-24 1-30 1 14 1-12 1 23 1 48 1-12 1 20 1-2 1-14 1-2 1 8 1 11 1-52 1-20 1-13 1 34 1-24 1 15 1 10 1 22 1-19 1 2 1-15 1-10 1 14 1-25 1 6 1 9 1-4 1 15 1-32 1 24 1-25 1 1 1-13 1 37 1-30" vector-effect="non-scaling-stroke"/>
<path id="p127" d="M0 177l1 33 1 25 1-34 1 20 1-1 1-1 1 18 1-23 1-7 1-4 1-12 1 0 1-15 1 51 1-60 1-24 1 11 1 24 1-2 1-16 1 39 1 16 1-52 1 16 1 2 1 17 1-1 1 15 1 22 1-21 1 12 1 8 1-25 1-19 1-32 1-1 1 10 1 10 1-3 1 27 1 43 1-41 1 7 1 12 1-49 1 40 1-24 1 28 1-12 1-5 1-13 1 37 1 5 1-24 1-10 1 15 1-6 1-9 1 55 1 13 1-36 1-17 1-7 1-9 1 52 1-21 1 7 1-58 1 59 1-11 1 14 1 4 1 16 1 9 1-7 1-2 1 20 1-64 1-30 1-16 1 23 1-42 1-38 1 68 1-40 1 53 1-13 1 3 1-5 1-11 1 36 1-2 1 21 1-19 1 41 1-52 1-35 1 11 1-16 1-36 1-11 1 5 1 47 1 15 1-45 1 11 1-3 1 18 1-19 1-39 1 41 1-7 1-2 1 0 1 26 1 8 1-44 1 69 1 23 1-26 1-1 1 54 1-27 1 4 1 53 1 6 1-16 1 11 1-10 1-16 1-44 1-26 1-6 1 26 1 29 1-60 1 2 1 26 1-24 1-12 1 22 1 0 1-36 1 61 1 16 1 7 1 0 1 51 1-6 1-29" vector-effect="non-scaling-stroke"/>
<path id="p128" d="M0 190l1 5 1 4 1 19 1-39 1 2 1-40 1 29 1-5 1 7 1 3 1-5 1-13 1 9 1 23 1 35 1 0 1-14 1-10 1 16 1 29 1-19 1-4 1-21 1-14 1-18 1-2 1-2 1-5 1 5 1 9 1 1 1-1 1 9 1 8 1 25 1-7 1-6 1 26 1 8 1 18 1 8 1-5 1-41 1 15 1 18 1-20 1-23 1-5 1 2 1-11 1-17 1 12 1-4 1-6 1 20 1-8 1-1 1 10 1 21 1-11 1 6 1 0 1-2 1-7 1 8 1 28 1-10 1 35 1 21 1-16 1-24 1-21 1-17 1 9 1-52 1 1 1-6 1 40 1-7 1-28 1-20 1 47 1-22 1 38 1-43 1-6 1 12 1 0 1 11 1-15 1 28 1-3 1-7 1-7 1-15 1-27 1 2 1 37 1 7 1 33 1 3 1 4 1-1 1 16 1-7 1-26 1-36 1-3 1-18 1 2 1 39 1 16 1-33 1-1 1 7 1-13 1 5 1 6 1-13 1 4 1 36 1-12 1 12 1 10 1 14 1-3 1-22 1 13 1-20 1-17 1-15 1 32 1 17 1 13 1-35 1 0 1 33 1-13 1-14 1 21 1-21 1-1 1 24 1 22 1-35 1 13 1 18 1-6 1-51 1 27" vector-effect="non-scaling-stroke"/>
<path id="p129" d="M0 210l1-18 1-18 1 0 1 23 1-3 1-3 1 6 1 6 1-19 1-2 1 2 1 8 1 6 1-4 1-15 1 2 1 1 1-3 1 21 1 2 1-7 1 2 1 12 1-5 1-9 1 0 1 7 1-11 1 4 1-15 1 2 1 4 1 5 1-2 1 2 1-3 1 9 1-11 1-6 1 7 1 15 1-5 1-6 1 16 1-14 1-20 1-2 1-10 1 15 1-3 1 26 1 8 1-15 1 8 1 6 1-14 1 6 1 5 1 7 1-10 1 7 1 17 1-6 1 2 1-9 1-29 1-13 1 15 1 21 1-5 1-4 1 6 1-9 1-7 1-2 1-20 1 7 1 6 1 7 1 12 1 10 1-7 1 2 1 16 1-8 1-4 1-9 1 8 1-3 1 7 1-9 1-5 1 3 1 2 1-2 1 14 1-10 1-1 1 7 1 9 1 13 1-15 1-21 1-5 1 3 1 7 1 2 1 1 1-5 1 0 1-1 1 9 1 1 1-10 1-12 1 12 1 6 1 9 1-12 1-4 1 2 1-17 1-14 1 26 1 2 1-13 1 14 1 14 1 11 1-6 1-13 1-12 1 1 1-23 1 16 1-11 1 4 1 24 1 3 1 2 1-3 1-24 1 9 1-4 1 5 1 4 1-7 1-7 1 10 1-2" vector-effect="non-scaling-stroke"/>
<path id="p130" d="M0 185l1 14 1-15 1 8 1-8 1 17 1 16 1-3 1 2 1-3 1 1 1-11 1-6 1-19 1 11 1 8 1 5 1-14 1-5 1 1 1 6 1 7 1 6 1-13 1 1 1 11 1 2 1-12 1-4 1-13 1-1 1 6 1 1 1 13 1-8 1-3 1 12 1 0 1-9 1-9 1 16 1 5 1 7 1-4 1-9 1 3 1 3 1-9 1 1 1 12 1 1 1 7 1-10 1-1 1-3 1 0 1-17 1 8 1 7 1 10 1-22 1-1 1 11 1 4 1 10 1-7 1-10 1 2 1 3 1 7 1-3 1-1 1 3 1 5 1-1 1-13 1 5 1-1 1-3 1 6 1 1 1-9 1 2 1 10 1 7 1 5 1-13 1 7 1-10 1 3 1-3 1-1 1 0 1-7 1 7 1-2 1 1 1 3 1-24 1 13 1-4 1-2 1 1 1 3 1 16 1-11 1-14 1 25 1-3 1 8 1-9 1-3 1 11 1-5 1-17 1 1 1-18 1 6 1 19 1-4 1 25 1-12 1 7 1-14 1-11 1-6 1 6 1 6 1 2 1-2 1-5 1-2 1-11 1 10 1 13 1 1 1 11 1-5 1-7 1-12 1 21 1-9 1-9 1-5 1 9 1 4 1 22 1-2 1-17 1 3 1 6" vector-effect="non-scaling-stroke"/>
<path id="p131" d="M0 195l1 22 1 1 1 4 1-8 1 13 1-6 1-2 1-4 1 7 1 14 1-31 1 26 1-15 1-28 1 4 1 20 1-38 1-18 1 3 1 19 1 10 1 9 1-26 1-5 1 24 1 28 1 32 1-31 1 3 1 6 1-17 1-3 1-4 1-29 1 7 1 30 1-18 1-14 1-6 1 5 1-48 1 26 1-8 1 1 1 14 1-40 1 30 1 3 1-34 1-1 1-10 1 21 1 2 1-4 1-23 1 29 1 18 1 0 1-10 1 23 1-23 1 44 1 29 1-20 1 34 1 9 1-35 1 4 1-9 1-31 1 24 1-25 1 17 1 18 1-2 1-40 1 30 1-6 1 10 1 18 1-8 1 10 1-3 1-17 1-8 1-2 1 41 1 18 1 9 1-4 1-16 1 19 1-4 1 11 1-20 1 18 1 34 1-45 1-25 1-46 1-18 1 35 1-18 1-2 1-12 1-24 1 67 1-15 1 3 1-35 1-10 1 49 1 30 1-19 1-13 1 2 1 9 1 50 1-12 1 14 1-38 1 8 1-29 1-5 1-9 1-3 1 21 1-15 1 1 1-21 1 4 1-24 1 27 1-1 1-10 1 55 1-9 1-11 1-6 1-18 1 26 1 7 1-3 1 22 1-6 1-11 1 16 1-20 1 37 1 11" vector-effect="non-scaling-stroke"/>
<path id="p132" d="M0 203l1-1 1 7 1-4 1 7 1-1 1 7 1 1 1-8 1 2 1-9 1 1 1-3 1-2 1 8 1-4 1-6 1 12 1 6 1-11 1-13 1 4 1-6 1 14 1-2 1-3 1 2 1 8 1-10 1 19 1-12 1 0 1-3 1-5 1 9 1-9 1 1 1 3 1 11 1-9 1-8 1-3 1 22 1-21 1-1 1 2 1-4 1 13 1 0 1-10 1-2 1 6 1-9 1-5 1 8 1-1 1 3 1 11 1-4 1-9 1 8 1-7 1-1 1-2 1 0 1-3 1-7 1 16 1 4 1-6 1-5 1 0 1 0 1-15 1 0 1 12 1 6 1 3 1-9 1 16 1 1 1-20 1-1 1 14 1 11 1 0 1-9 1-15 1-4 1-2 1 13 1 2 1 0 1 9 1-7 1 14 1 3 1 7 1-13 1 0 1-13 1-12 1 11 1 10 1-16 1 14 1-2 1-18 1 5 1-6 1 1 1 7 1 2 1-2 1-3 1 3 1 8 1 9 1-8 1 7 1-8 1 4 1-3 1 1 1-3 1-14 1 16 1 19 1 11 1-12 1 4 1 4 1-8 1 10 1-5 1-13 1 4 1 4 1-14 1 2 1 4 1 6 1-4 1-15 1-3 1 6 1-4 1 10 1 0 1-9 1-16" vector-effect="non-scaling-stroke"/>
<path id="p133" d="M0 182l1-10 1-14 1-14 1 33 1 22 1-5 1-19 1 14 1-16 1 24 1 2 1 9 1-13 1 3 1 18 1-5 1 9 1 0 1-12 1 13 1-21 1-1 1 8 1-5 1-52 1 54 1-1 1-31 1 26 1 9 1-38 1 19 1 5 1-13 1-3 1 17 1-25 1 9 1 27 1-36 1 25 1-31 1 19 1 10 1 23 1 10 1 4 1 0 1-5 1 3 1 2 1 1 1 0 1 12 1 7 1-25 1-11 1 13 1 8 1-16 1 4 1 0 1-26 1 5 1 17 1-3 1 9 1 24 1-36 1 24 1-1 1-43 1-18 1 5 1-21 1-9 1-15 1 18 1 9 1-31 1 43 1-15 1 11 1 23 1 1 1 12 1 20 1-15 1-6 1 10 1-26 1-2 1-35 1 29 1-8 1 43 1-18 1-5 1-23 1 24 1-19 1-11 1 29 1 10 1 2 1 21 1 14 1-38 1 2 1 2 1-26 1-14 1 2 1-6 1 25 1 43 1-12 1-18 1-42 1 23 1 16 1 18 1-48 1 15 1-5 1 15 1 26 1 17 1-14 1-10 1-6 1-16 1-2 1 1 1-17 1-3 1 24 1 35 1-32 1-3 1-20 1 9 1 0 1 21 1-40 1 19 1 8 1 36 1-7 1-22" vector-effect="non-scaling-stroke"/>
<path id="p134" d="M0 176l1 13 1-32 1 21 1-12 1 22 1 18 1-7 1 5 1 20 1-13 1 24 1-11 1 1 1-16 1 21 1-3 1-24 1 10 1-13 1-1 1-3 1-17 1-10 1 16 1 21 1 14 1 14 1-1 1 20 1-12 1 18 1 1 1-14 1-11 1-20 1-17 1-4 1-14 1-12 1 21 1 16 1 2 1-3 1 11 1-27 1 6 1-6 1 12 1 1 1 8 1 5 1 4 1-2 1 0 1 3 1 4 1-16 1-10 1 7 1 7 1 4 1 15 1 4 1-7 1 7 1-19 1 8 1 19 1 9 1-16 1 0 1-1 1-35 1-3 1-2 1 32 1-4 1-16 1 12 1-16 1 22 1-9 1-3 1 2 1-25 1-19 1 14 1 7 1-12 1 5 1-26 1 15 1 2 1 21 1 19 1-10 1-2 1-16 1-9 1-5 1-5 1 1 1 14 1 16 1-28 1 6 1 6 1 26 1 2 1 27 1-3 1 8 1 2 1-12 1 15 1-13 1-18 1-8 1-9 1 20 1-23 1-8 1 8 1-15 1-18 1 12 1 27 1-8 1-1 1-18 1 3 1-7 1 9 1-18 1 19 1 2 1 10 1-4 1 6 1 11 1 5 1-11 1 0 1 2 1-16 1 10 1-6 1-12 1 1 1 14" vector-effect="non-scaling-stroke"/>
<path id="p135" d="M0 211l1-11 1 8 1 6 1-15 1 16 1 6 1-16 1-6 1 1 1-2 1 9 1-3 1 9 1-9 1 11 1-8 1 3 1 15 1-8 1 4 1-5 1-1 1-2 1-9 1 16 1 9 1-17 1-7 1 0 1-6 1-3 1-3 1 14 1 3 1-11 1 3 1 9 1-5 1 10 1-18 1-3 1 9 1-3 1-7 1-6 1-1 1 3 1-10 1 3 1 4 1-7 1 1 1 13 1-2 1-13 1-2 1 3 1 9 1 9 1-2 1-3 1-3 1 8 1 4 1-7 1-13 1-6 1 0 1-2 1 11 1 5 1 1 1-2 1-7 1 5 1 10 1 9 1 0 1-18 1 3 1-16 1 19 1-11 1-1 1-11 1 5 1 1 1 9 1 1 1-1 1 10 1 4 1 4 1 3 1 4 1-5 1-7 1-12 1-10 1 8 1 1 1 0 1 11 1-2 1 5 1 8 1-12 1 1 1-2 1-6 1 1 1 7 1 4 1-12 1 16 1-2 1-7 1 8 1-15 1 1 1 0 1-16 1-6 1-2 1 3 1-7 1 1 1 16 1-13 1-13 1 9 1 5 1 6 1 21 1-1 1 4 1 7 1-3 1 10 1-9 1-23 1 3 1-13 1 20 1 7 1-7 1-4 1-8 1 6 1 10" vector-effect="non-scaling-stroke"/>
<path id="p136" d="M0 261l1-33 1 9 1-27 1-9 1 8 1-11 1 5 1-6 1 7 1 27 1-3 1 11 1-21 1-34 1-6 1-7 1 28 1 0 1 5 1 24 1-33 1 27 1 11 1-16 1-16 1-14 1-13 1 4 1-5 1 33 1-4 1 29 1-23 1 18 1 4 1-29 1 26 1-27 1-11 1 12 1 40 1-58 1 27 1 18 1 30 1-61 1 21 1 24 1-6 1 8 1-9 1-13 1 23 1-63 1 18 1-18 1 12 1 21 1 64 1-49 1 26 1-14 1-24 1-10 1-20 1-18 1 16 1 24 1-15 1 44 1-61 1 7 1 7 1 27 1-15 1 4 1-31 1 14 1-13 1-2 1-4 1-20 1-12 1 33 1-24 1-11 1 7 1 26 1-26 1 35 1-18 1 0 1-5 1 10 1 22 1-18 1 37 1 3 1-25 1 35 1-4 1 1 1 5 1-20 1-6 1 44 1 10 1-31 1-3 1-12 1-22 1-38 1 2 1 25 1 4 1 6 1 19 1 51 1 11 1-26 1 2 1-6 1-29 1-9 1 15 1 13 1-11 1-2 1-11 1 14 1-18 1 28 1-31 1 29 1-52 1 35 1-8 1 12 1-14 1-30 1-2 1-21 1 76 1 0 1-8 1-35 1-42 1 47 1 1 1 48" vector-effect="non-scaling-stroke"/>
<path id="p137" d="M0 243l1 11 1-31 1 14 1-22 1 29 1-27 1-1 1 23 1-14 1-11 1 4 1-12 1 13 1-44 1-1 1 0 1 18 1-13 1-18 1 25 1 14 1-13 1-10 1 3 1-31 1 20 1 2 1 11 1 30 1 3 1-11 1 27 1-25 1-8 1-21 1-4 1 6 1-10 1-5 1 14 1 10 1-1 1 7 1 15 1-9 1-29 1 11 1 10 1 9 1-6 1-18 1 0 1 22 1 9 1-9 1-3 1 11 1 3 1-4 1 20 1-9 1 1 1-9 1 3 1 3 1-26 1 7 1 9 1 6 1 10 1-13 1-1 1 9 1 1 1-6 1-15 1 1 1 8 1 21 1 2 1 0 1 6 1-10 1 7 1-34 1-7 1-24 1 6 1 6 1-23 1 8 1-6 1 10 1 9 1-12 1 15 1 30 1 9 1-9 1 4 1-15 1 3 1-10 1-5 1 43 1-23 1 17 1-29 1-18 1 16 1 6 1-13 1 28 1-11 1-18 1 7 1-4 1-4 1 12 1-2 1-7 1 13 1 6 1 0 1-2 1-6 1 18 1-25 1 3 1 13 1-14 1 31 1 2 1 6 1 16 1-39 1-19 1 12 1-22 1-11 1 8 1 3 1 6 1 31 1 7 1-15 1-34 1-13 1 16 1 0" vector-effect="non-scaling-stroke"/>
<path id="p138" d="M0 173l1 10 1 5 1-6 1 23 1 0 1-16 1 12 1-4 1 4 1 21 1-17 1-19 1 2 1-4 1 1 1-26 1 12 1-2 1 12 1 23 1 8 1-4 1 9 1 12 1 15 1 1 1-2 1-27 1-14 1 2 1 11 1-13 1 16 1-2 1 1 1-2 1 1 1-13 1-12 1-5 1 7 1 3 1 3 1-9 1-11 1-4 1-3 1 21 1 1 1 4 1 14 1-7 1-2 1-4 1 12 1 0 1 8 1-2 1 5 1-12 1 8 1 11 1-25 1 0 1-6 1 19 1 0 1-13 1-7 1 15 1-28 1 10 1 10 1-5 1 3 1-9 1-16 1-5 1 9 1-9 1 18 1 4 1-1 1 14 1-20 1-24 1 7 1 30 1 9 1-7 1 9 1-26 1 1 1 19 1 7 1-8 1-20 1 15 1-7 1 20 1 12 1 12 1-13 1-27 1 4 1 2 1-7 1 4 1 15 1-17 1-19 1 15 1-11 1 14 1 0 1 2 1 6 1-8 1 21 1-7 1-11 1 0 1-8 1-23 1 12 1 23 1-2 1-10 1 20 1 2 1 9 1 8 1-28 1 22 1-14 1-11 1-5 1 14 1 21 1 27 1 5 1-15 1 8 1-12 1 2 1-4 1-16 1-1 1-16 1 15" vector-effect="non-scaling-stroke"/>
<path id="p139" d="M0 206l1-12 1 13 1 7 1 3 1-21 1-7 1-5 1 10 1 29 1-8 1 14 1-12 1 1 1 3 1-4 1 3 1 7 1 2 1-34 1-7 1 24 1-11 1 1 1 10 1 26 1-14 1-13 1 0 1-10 1 1 1-2 1 3 1-3 1-3 1 4 1 2 1-10 1 9 1 1 1-4 1-11 1 17 1-10 1 1 1-11 1 6 1-14 1 17 1-12 1-2 1 11 1-4 1 0 1 5 1 17 1-9 1 1 1-11 1-1 1-6 1 3 1 0 1 17 1 14 1-14 1 5 1 0 1-16 1 12 1 25 1-13 1-2 1-21 1-7 1 9 1-7 1 19 1 7 1 13 1-9 1 0 1-11 1-6 1 8 1-6 1-4 1 3 1 8 1-6 1-2 1 3 1-12 1-7 1-8 1 15 1-20 1 3 1 3 1 7 1 4 1 0 1-9 1-9 1 17 1 1 1 6 1 18 1-1 1-6 1-4 1 13 1-3 1 4 1-21 1-7 1-6 1 12 1-10 1-7 1-2 1-9 1 15 1-3 1 1 1-2 1 1 1 29 1-10 1 1 1 16 1 3 1-5 1-12 1-6 1-7 1 1 1 18 1-3 1 8 1-14 1-21 1-1 1 17 1 7 1 2 1-20 1 16 1 30 1-19 1-10" vector-effect="non-scaling-stroke"/>
</defs>
<g transform="translate(50.5,0) scale(1.75,0.25)" fill="none" stroke-linejoin="round">
<g stroke="#1e90ff" stroke-opacity="0.15" stroke-width="0.65">
<use href="#p0"/>
<use href="#p1"/>
<use href="#p2"/>
<use href="#p3"/>
<use href="#p4"/>
<use href="#p5"/>
<use href="#p6"/>
<use href="#p7"/>
<use href="#p8"/>
<use href="#p9"/>
<use href="#p10"/>
<use href="#p11"/>
<use href="#p12"/>
<use href="#p13"/>
<use href="#p14"/>
<use href="#p15"/>
<use href="#p16"/>
<use href="#p17"/>
<use href="#p18"/>
<use href="#p19"/>
<use href="#p20"/>
<use href="#p21"/>
<use href="#p22"/>
<use href="#p23"/>
<use href="#p24"/>
<use href="#p25"/>
<use href="#p26"/>
<use href="#p27"/>
<use href="#p28"/>
<use href="#p29"/>
<use href="#p30"/>
<use href="#p31"/>
<use href="#p32"/>
<use href="#p33"/>
<use href="#p34"/>
<use href="#p35"/>
<use href="#p36"/>
<use href="#p37"/>
<use href="#p38"/>
<use href="#p39"/>
<use href="#p40"/>
<use href="#p41"/>
<use href="#p42"/>
<use href="#p43"/>
<use href="#p44"/>
<use href="#p45"/>
<use href="#p46"/>
<use href="#p47"/>
<use href="#p48"/>
<use href="#p49"/>
<use href="#p50"/>
<use href="#p51"/>
<use href="#p52"/>
<use href="#p53"/>
<use href="#p54"/>
<use href="#p55"/>
<use href="#p56"/>
<use href="#p57"/>
<use href="#p58"/>
<use href="#p59"/>
<use href="#p60"/>
<use href="#p61"/>
<use href="#p62"/>
<use href="#p63"/>
<use href="#p64"/>
<use href="#p65"/>
<use href="#p66"/>
<use href="#p67"/>
<use href="#p68"/>
<use href="#p69"/>
<use href="#p70"/>
<use href="#p71"/>
<use href="#p72"/>
<use href="#p73"/>
<use href="#p74"/>
<use href="#p75"/>
<use href="#p76"/>
<use href="#p77"/>
<use href="#p78"/>
<use href="#p79"/>
<use href="#p80"/>
<use href="#p81"/>
<use href="#p82"/>
<use href="#p83"/>
<use href="#p84"/>
<use href="#p85"/>
<use href="#p86"/>
<use href="#p87"/>
<use href="#p88"/>
<use href="#p89"/>
<use href="#p90"/>
<use href="#p91"/>
<use href="#p92"/>
<use href="#p93"/>
<use href="#p94"/>
<use href="#p95"/>
<use href="#p96"/>
<use href="#p97"/>
<use href="#p98"/>
<use href="#p99"/>
<use href="#p100"/>
<use href="#p101"/>
<use href="#p102"/>
<use href="#p103"/>
<use href="#p104"/>
<use href="#p105"/>
<use href="#p106"/>
<use href="#p107"/>
<use href="#p108"/>
<use href="#p109"/>
<use href="#p110"/>
<use href="#p111"/>
<use href="#p112"/>
<use href="#p113"/>
<use href="#p114"/>
<use href="#p115"/>
<use href="#p116"/>
<use href="#p117"/>
<use href="#p118"/>
<use href="#p119"/>
<use href="#p120"/>
<use href="#p121"/>
<use href="#p122"/>
<use href="#p123"/>
<use href="#p124"/>
<use href="#p125"/>
<use href="#p126"/>
<use href="#p127"/>
<use href="#p128"/>
<use href="#p129"/>
<use href="#p130"/>
<use href="#p131"/>
<use href="#p132"/>
<use href="#p133"/>
<use href="#p134"/>
<use href="#p135"/>
<use href="#p136"/>
<use href="#p137"/>
<use href="#p138"/>
<use href="#p139"/>
</g>
<g stroke="#1e90ff" stroke-opacity="0.14" stroke-width="0.65">
<path d="M150 205l1 5 1 10 1-5 1 10 1 6 1-16 1 8 1 3 1-8 1-13 1 31 1-3 1 14 1 5 1 3 1-1 1-2 1 19 1-25 1-6 1 10 1 6 1 10 1 12 1 0 1-4 1-1 1 15 1 4 1-7 1-8 1 1 1 2 1-20 1 7 1 8 1 26 1-1 1-15 1-10 1 4 1 3 1 0 1 4 1 3 1 12 1-18 1 17 1 1 1 8 1 4 1-21 1-4 1 20 1 22 1 3 1 8 1-8 1-4 1 14 1 14 1-10 1 6 1-3 1-1 1-7 1 12 1-11 1-11 1 12 1-6 1-7 1-7 1 13 1-5 1-13 1 6 1-4 1 11 1-12 1 4 1-13 1-1 1-2 1-10 1-12 1 13 1-1 1-23 1 7 1 7 1 15 1-13 1-13 1 14 1 13 1 19 1 23 1-14 1-22" vector-effect="non-scaling-stroke"/>
<path d="M150 140l1 18 1 27 1 8 1 7 1 15 1-22 1 10 1 38 1 12 1 6 1-1 1 9 1-4 1 28 1-32 1 2 1-16 1-32 1-18 1 46 1 20 1 22 1-8 1 9 1 23 1-13 1 22 1-3 1-3 1 18 1 4 1-2 1-5 1 10 1 8 1-26 1-32 1-15 1 3 1 24 1-17 1 14 1 17 1 12 1-16 1 6 1-7 1 20 1-4 1-13 1 8 1-16 1-3 1 7 1 18 1 2 1-17 1 8 1 18 1-12 1 7 1-2 1-8 1-15 1 15 1 17 1-7 1-28 1-8 1-9 1 21 1-21 1 19 1 9 1-9 1 3 1 25 1-5 1 12 1-3 1-10 1 3 1-21 1-8 1 24 1 4 1-5 1 16 1-16 1 10 1-1 1-39 1-19 1 3 1-5 1-3 1 3 1-24 1 18 1-10" vector-effect="non-scaling-stroke"/>
<path d="M150 194l1 11 1 9 1-6 1 3 1 5 1-4 1-28 1 33 1-7 1 1 1 12 1 17 1-6 1-18 1-11 1 36 1-17 1 12 1-10 1-17 1 0 1 2 1 10 1 4 1 31 1 37 1-17 1-21 1-2 1 4 1-11 1-18 1-7 1 19 1 26 1 8 1 24 1 19 1-4 1-7 1 16 1-4 1-9 1-10 1-1 1-3 1 8 1 21 1-14 1 19 1-1 1 10 1 17 1-12 1 2 1-16 1 6 1 6 1 17 1-28 1-32 1 3 1 13 1 9 1-4 1-26 1-1 1-5 1-1 1 20 1-5 1 26 1 2 1 5 1-11 1 1 1-8 1 1 1 19 1-2 1 6 1-4 1-12 1-8 1 14 1-9 1 20 1-25 1-3 1 2 1-15 1-9 1 1 1 0 1 4 1-17 1 17 1 13 1 1 1-11" vector-effect="non-scaling-stroke"/>
<path d="M150 179l1 2 1 3 1-8 1 21 1-6 1 8 1 6 1 6 1-16 1 43 1 7 1 17 1-4 1-7 1 15 1-4 1 2 1 12 1 3 1-10 1 14 1 5 1-2 1-21 1 0 1-13 1 19 1 5 1-10 1 2 1-11 1 10 1 9 1-10 1-2 1 5 1-6 1-3 1 19 1 5 1-3 1-21 1 22 1 10 1 14 1 10 1-1 1 5 1 24 1 14 1-12 1-15 1-1 1-12 1 6 1 2 1-4 1-5 1-6 1-5 1 12 1 10 1-6 1-2 1 5 1-17 1 3 1 6 1 23 1-20 1-5 1-32 1-6 1 32 1-1 1 2 1 12 1 5 1-2 1-18 1 0 1 9 1-8 1 0 1 11 1 12 1 0 1-9 1 9 1-3 1-33 1-10 1-5 1 14 1-34 1-6 1 6 1 20 1 9 1-24" vector-effect="non-scaling-stroke"/>
<path d="M150 191l1 3 1 4 1 5 1-3 1 1 1-1 1-12 1 6 1 8 1 12 1-13 1-2 1-7 1 12 1 18 1-8 1 6 1-1 1 31 1 6 1 11 1 21 1 7 1 19 1-48 1-2 1 17 1-2 1 1 1-14 1 18 1 21 1-6 1 8 1 15 1 17 1-19 1-22 1 33 1-26 1-21 1-17 1 3 1 10 1 27 1-4 1 20 1-22 1 16 1 31 1-23 1 4 1 14 1-5 1 30 1 8 1-14 1-22 1-11 1-14 1-5 1-12 1-18 1 11 1 7 1 13 1-11 1-4 1 4 1 27 1 19 1 9 1 4 1-11 1 0 1-1 1-25 1-6 1-17 1-14 1-13 1 21 1-1 1 2 1-1 1-27 1-1 1 18 1-6 1 14 1-3 1 8 1 8 1-39 1 4 1 14 1 8 1 13 1 6 1 29" vector-effect="non-scaling-stroke"/>
<path d="M150 159l1 12 1 8 1 4 1 0 1 0 1 21 1 17 1-10 1 3 1 17 1-25 1 12 1 21 1-6 1 27 1-16 1 12 1 2 1 4 1-3 1 0 1-18 1 40 1-4 1 7 1 3 1 5 1-22 1-12 1-16 1 1 1 9 1 7 1-4 1-9 1 20 1-1 1 4 1-9 1 2 1 29 1 19 1-15 1 8 1 18 1 5 1 4 1 10 1 6 1 8 1-22 1 1 1-21 1-3 1-1 1 25 1 22 1 1 1 1 1-16 1 7 1-17 1 11 1-6 1 0 1 3 1 10 1-14 1-9 1 3 1-2 1-16 1 2 1 1 1-4 1 1 1 4 1 4 1-13 1-12 1 1 1-1 1 12 1 11 1-7 1 13 1-20 1-3 1 8 1 10 1-11 1 11 1-20 1-18 1 2 1 4 1 3 1-26 1 12 1-18" vector-effect="non-scaling-stroke"/>
<path d="M150 238l1 0 1-7 1-1 1-41 1 1 1 18 1 5 1 3 1-9 1-7 1 18 1 21 1-7 1 9 1-6 1 0 1 14 1 13 1 24 1 10 1-5 1 15 1-2 1-9 1 11 1-15 1 34 1-17 1 26 1-5 1-41 1 5 1-7 1 12 1-9 1-7 1-12 1 32 1 8 1-24 1-3 1 26 1 7 1 28 1-24 1-5 1-9 1 20 1 7 1 5 1-11 1-1 1-7 1-7 1-2 1 40 1 7 1-1 1-9 1 1 1 11 1 3 1-21 1-17 1 4 1 16 1-14 1 4 1-14 1 11 1 8 1-27 1-17 1 4 1-10 1 11 1 1 1 11 1 0 1-9 1-16 1-23 1-7 1 6 1 10 1 5 1 4 1 7 1 3 1 34 1-7 1 3 1-44 1 17 1 6 1-34 1 21 1 18 1 14 1-37" vector-effect="non-scaling-stroke"/>
<path d="M150 192l1 7 1-22 1 1 1 14 1 1 1 47 1-11 1-45 1 4 1-20 1 42 1 36 1 6 1 8 1 3 1-5 1-17 1-15 1 3 1 62 1-7 1-80 1 32 1 16 1-6 1-6 1 38 1-12 1-2 1-30 1 5 1 32 1-4 1 0 1 7 1 20 1 27 1-27 1-1 1-22 1-23 1-27 1 31 1 4 1 41 1-2 1 1 1-23 1-8 1 14 1 30 1-22 1 36 1 13 1 19 1 8 1-30 1 6 1-33 1-22 1 5 1 36 1-22 1-8 1 8 1 27 1 11 1 21 1-20 1-38 1 7 1 0 1 10 1-21 1 20 1-21 1-5 1 21 1 5 1-2 1-23 1 7 1-11 1 3 1-24 1-16 1 21 1 31 1 28 1 6 1 19 1-26 1-21 1 18 1-48 1 23 1 7 1-7 1 2 1 19" vector-effect="non-scaling-stroke"/>
<path d="M150 237l1 4 1 11 1 7 1 25 1-13 1-22 1-22 1-13 1 23 1-9 1 21 1 19 1-13 1-12 1-6 1-3 1 9 1 11 1-33 1 42 1 13 1-7 1 21 1 5 1-30 1 11 1 31 1-10 1 3 1 29 1-6 1 25 1 16 1-18 1-11 1 5 1 1 1-28 1 9 1 20 1 2 1-6 1-37 1-14 1 24 1-6 1 20 1 5 1 17 1-23 1 14 1-8 1-5 1 17 1-6 1-17 1-53 1 14 1 15 1 24 1-30 1 18 1 25 1-1 1 20 1-24 1-15 1-17 1 34 1 1 1 9 1-2 1-10 1-1 1-6 1-7 1 14 1-2 1 1 1-39 1-15 1 0 1 6 1-23 1-10 1 43 1 0 1-8 1-35 1 48 1-4 1-8 1-10 1 3 1-19 1-4 1 7 1-18 1 11 1-3" vector-effect="non-scaling-stroke"/>
<path d="M150 186l1 1 1 2 1 11 1 7 1-12 1 8 1 5 1 3 1 8 1-12 1 24 1 2 1 12 1-12 1-12 1-5 1 9 1-6 1-10 1-5 1 8 1 18 1-13 1 25 1 14 1 6 1-2 1-9 1 16 1-15 1-12 1 16 1 10 1 8 1 1 1 8 1 20 1-8 1 5 1-11 1-12 1 13 1-9 1 10 1 3 1-6 1 22 1 0 1 4 1-3 1 1 1 0 1 13 1 1 1-5 1 3 1 4 1 3 1 13 1-2 1-6 1-1 1 7 1-12 1-4 1-4 1-2 1-11 1-12 1 16 1 15 1-4 1 12 1-8 1-1 1-12 1 10 1 32 1-6 1-6 1-10 1 10 1-15 1-21 1 11 1-4 1-7 1 2 1-9 1-6 1 3 1 6 1-19 1 2 1 15 1 5 1-9 1-4 1-8 1 18" vector-effect="non-scaling-stroke"/>
<path d="M150 177l1 14 1-17 1 18 1 9 1-3 1 8 1 47 1-18 1-23 1-16 1 2 1 5 1 24 1-38 1 34 1-18 1-10 1 10 1-1 1 28 1-8 1-13 1 4 1-27 1 19 1-13 1 11 1 10 1 1 1 0 1 32 1 11 1-4 1 48 1-6 1-9 1-21 1 20 1-21 1 6 1-7 1 24 1 19 1 4 1 28 1 13 1 3 1-4 1 9 1-13 1-31 1-3 1 16 1-1 1 17 1 0 1 24 1 29 1-13 1-35 1 22 1-15 1-25 1-15 1-26 1-32 1 43 1-32 1-10 1-3 1 6 1 41 1 11 1 24 1-15 1 12 1-22 1-9 1-12 1 20 1-32 1 38 1 15 1 21 1-36 1-41 1-23 1-17 1 7 1 10 1 54 1-19 1 17 1 4 1-29 1-9 1-36 1 10 1 28 1 15" vector-effect="non-scaling-stroke"/>
<path d="M150 209l1 4 1 1 1 9 1-10 1-3 1 6 1-1 1 9 1 1 1 7 1-3 1 10 1-8 1 8 1-5 1 14 1 7 1 7 1 6 1-4 1-20 1 11 1 2 1 12 1-4 1 3 1 8 1 14 1-5 1 0 1-4 1 0 1 5 1-2 1 2 1-1 1 3 1 1 1 9 1 3 1 8 1 3 1-6 1 6 1-6 1 10 1-2 1 8 1 11 1 2 1 1 1-7 1 2 1 5 1 1 1-9 1 2 1 6 1 0 1-5 1-1 1-4 1 3 1-12 1 3 1-3 1 4 1 11 1-6 1-1 1-11 1-8 1 6 1 0 1-6 1-2 1 6 1-8 1-3 1 6 1 3 1 5 1-5 1-5 1-4 1 9 1 5 1-8 1 6 1 1 1-12 1-6 1-2 1 2 1-1 1 13 1-3 1-10 1-4 1 4" vector-effect="non-scaling-stroke"/>
<path d="M150 197l1 6 1 4 1 2 1 13 1-9 1-4 1 23 1-2 1-8 1 3 1-4 1 23 1 3 1-1 1 8 1-3 1-19 1-1 1 23 1-10 1 8 1-13 1 6 1 25 1 0 1 0 1 1 1-6 1 20 1 11 1-6 1-11 1 3 1 15 1-9 1-9 1-3 1-3 1 13 1-5 1 20 1-3 1 8 1 3 1 14 1 8 1 4 1-1 1-3 1 3 1-2 1-8 1-7 1 5 1 9 1 1 1-10 1 10 1-6 1-5 1-7 1 5 1 15 1 1 1-8 1-12 1-2 1-1 1-5 1 9 1-11 1 4 1 10 1 7 1 2 1 6 1 11 1-3 1-6 1-3 1-7 1 5 1-13 1 1 1 4 1 12 1-9 1-6 1 2 1-2 1-11 1-24 1 8 1-3 1-10 1-13 1-14 1 21 1-10 1 10" vector-effect="non-scaling-stroke"/>
<path d="M150 195l1 4 1 7 1-3 1-10 1 4 1 6 1 6 1-9 1 21 1 1 1-2 1 12 1-10 1-7 1 5 1 32 1-5 1 21 1-17 1-4 1 2 1 4 1 0 1-1 1 3 1 24 1-9 1-10 1 3 1 16 1 12 1 5 1-2 1 4 1-5 1-9 1 12 1-5 1-10 1 15 1-3 1 3 1 2 1 8 1 11 1 5 1 15 1-3 1 6 1-20 1-9 1 21 1-9 1 4 1-3 1-3 1 0 1 3 1 7 1-3 1 4 1-1 1-3 1 9 1-1 1 2 1-13 1-5 1 1 1-2 1-19 1 2 1-4 1 14 1-8 1 9 1-2 1-6 1-7 1 16 1-10 1 5 1-3 1-4 1 9 1 2 1-10 1 10 1-7 1 1 1 0 1 2 1-8 1 2 1 1 1-13 1 3 1 1 1 8 1-2" vector-effect="non-scaling-stroke"/>
<path d="M150 171l1 10 1 1 1 1 1 3 1-9 1 11 1 14 1 9 1-7 1 15 1-16 1 8 1-5 1 1 1-10 1 14 1-7 1 20 1 3 1 8 1 16 1 0 1 26 1-12 1-11 1 13 1-4 1-14 1 1 1 18 1-10 1 11 1 1 1 8 1-1 1-1 1-2 1 3 1 6 1 0 1 7 1 2 1 13 1 2 1-4 1 10 1-4 1 3 1 15 1 2 1-4 1 5 1 10 1-2 1 7 1-20 1-3 1 2 1 0 1-2 1 5 1 4 1-15 1 0 1-11 1 12 1-2 1-7 1 7 1-14 1 8 1-10 1 2 1 1 1-13 1 20 1-7 1-8 1 2 1-3 1 6 1 6 1 3 1-11 1 5 1-5 1-6 1-7 1 8 1-1 1 6 1-3 1-2 1 2 1 15 1 3 1 5 1-10 1-13 1 3" vector-effect="non-scaling-stroke"/>
<path d="M150 199l1 4 1 3 1 2 1-4 1 10 1-2 1 6 1 3 1-2 1 5 1 17 1 7 1 9 1-10 1 5 1 2 1 0 1 0 1-5 1 4 1-6 1 8 1 4 1 6 1 5 1-1 1 1 1 2 1 5 1 4 1 9 1 7 1 1 1-17 1-10 1 9 1 6 1 1 1-3 1 8 1 10 1-3 1-4 1 2 1 14 1 13 1-3 1 0 1 3 1 3 1 1 1 4 1 8 1 0 1 1 1-2 1 7 1-3 1 7 1-7 1-4 1-1 1-9 1-4 1 10 1-10 1-8 1 4 1-2 1 0 1-4 1 6 1 1 1 3 1-1 1-4 1-5 1-5 1-4 1-3 1 6 1 5 1-17 1-9 1 4 1-3 1-2 1 4 1 1 1 7 1 1 1-16 1 13 1-1 1 9 1 0 1-5 1 6 1 5 1-6" vector-effect="non-scaling-stroke"/>
<path d="M150 175l1 10 1 4 1-14 1 24 1-1 1 16 1 9 1 46 1-1 1-30 1 26 1 12 1 29 1-40 1 10 1-49 1 15 1 18 1-19 1-25 1 40 1-15 1 11 1 22 1-6 1 8 1 16 1 11 1 7 1 0 1-31 1 27 1-1 1-29 1 10 1-17 1 24 1 1 1-13 1-6 1 10 1 13 1 4 1 9 1 4 1-6 1-29 1 3 1-12 1 47 1-14 1 0 1-5 1-1 1 29 1-19 1 13 1 13 1-12 1-7 1 23 1-15 1 2 1 3 1 3 1 13 1-26 1-24 1 20 1-8 1 19 1-3 1-32 1 35 1 8 1-34 1 35 1-9 1 30 1-1 1-11 1-12 1 21 1-22 1-9 1 23 1-30 1-33 1 24 1-30 1 15 1-6 1-33 1 10 1 17 1-13 1-11 1 36 1-37 1 9" vector-effect="non-scaling-stroke"/>
<path d="M150 215l1-1 1-7 1 21 1 22 1 14 1-53 1-21 1 6 1 21 1 29 1-26 1-1 1 18 1 4 1-32 1 37 1-20 1-13 1 14 1 35 1 19 1-1 1-19 1 6 1-10 1-22 1-17 1 52 1 15 1-5 1 31 1 15 1 8 1-13 1-9 1-1 1-41 1-8 1 3 1 13 1-16 1 29 1-30 1-3 1 15 1 31 1-28 1-25 1 13 1 29 1 6 1 16 1 2 1 12 1-1 1-1 1 8 1-3 1-5 1-20 1-1 1-18 1 10 1 1 1 8 1-19 1 25 1-11 1 10 1 1 1-16 1 6 1-3 1 22 1-20 1 15 1-21 1 11 1 10 1-10 1-17 1 5 1 10 1-24 1 29 1 11 1-27 1 4 1-10 1-6 1 4 1-29 1 2 1-2 1 20 1 34 1 7 1 12 1-20 1-14" vector-effect="non-scaling-stroke"/>
<path d="M150 208l1-6 1 10 1-5 1 34 1-26 1 3 1-6 1-12 1 21 1 23 1-10 1-35 1 18 1-6 1 31 1-1 1 2 1-27 1 13 1 17 1 4 1 16 1-10 1 22 1 9 1 14 1-10 1 0 1 0 1-23 1-20 1 31 1 1 1 16 1-12 1-9 1 1 1 7 1 3 1 37 1-1 1-1 1-6 1-21 1 11 1 3 1 2 1 1 1 15 1 19 1-25 1 5 1 3 1 19 1-10 1-3 1 28 1-10 1-2 1-8 1-23 1 15 1-28 1 8 1 4 1-2 1-9 1-5 1 21 1-5 1 24 1-14 1-9 1 17 1-10 1 1 1-11 1 11 1 2 1 4 1-1 1 16 1-26 1 11 1-23 1 18 1-38 1-10 1-11 1 20 1 11 1 0 1-7 1-44 1 4 1 0 1-6 1 13 1 0 1-5" vector-effect="non-scaling-stroke"/>
<path d="M150 188l1 6 1 7 1 0 1 0 1 5 1-5 1 16 1 5 1 14 1-3 1 11 1 12 1 1 1-1 1 32 1-18 1-21 1 13 1-1 1-11 1 18 1 7 1 8 1-13 1 4 1-7 1-10 1 13 1 1 1 11 1-9 1 6 1-3 1-6 1 2 1 6 1-1 1 16 1 14 1-4 1-1 1 6 1-4 1 7 1 3 1 2 1-9 1 9 1 2 1-4 1 3 1 2 1 2 1 12 1-15 1-3 1 4 1-1 1 2 1 8 1-12 1 4 1 0 1 1 1-1 1 0 1 2 1-1 1 8 1-12 1 2 1-1 1-1 1 3 1-2 1 6 1-12 1-7 1 14 1-1 1-19 1 1 1-3 1 9 1-17 1-2 1 15 1-5 1 1 1 2 1-18 1 2 1 4 1-10 1-8 1-1 1-6 1 16 1 0 1-2" vector-effect="non-scaling-stroke"/>
<path d="M150 199l1 2 1 7 1 5 1 5 1-2 1-2 1 4 1 8 1 10 1-18 1 13 1-6 1-1 1 5 1 4 1 3 1 6 1-12 1 5 1 1 1 4 1 7 1 4 1-3 1-6 1 5 1 13 1 7 1 3 1 6 1-2 1 13 1-3 1-4 1-1 1 9 1-3 1 5 1-5 1 12 1 4 1 7 1 0 1 2 1 13 1 8 1 3 1 4 1-2 1-7 1-8 1-3 1-1 1 5 1 5 1-5 1 8 1-1 1 0 1-5 1 5 1-9 1 5 1 4 1 1 1 0 1 1 1 2 1-3 1-7 1 2 1 5 1-10 1 2 1-10 1 2 1 7 1-3 1-2 1-3 1-3 1 3 1-6 1-1 1-5 1 1 1 0 1 9 1 0 1-7 1-12 1-3 1 11 1 0 1-1 1 0 1-5 1 9 1-9 1-1" vector-effect="non-scaling-stroke"/>
<path d="M150 196l1 0 1-6 1 3 1-6 1-3 1 27 1-5 1-6 1 25 1-21 1-3 1 23 1 14 1 4 1-10 1 3 1-17 1 9 1 1 1 36 1-14 1 1 1 2 1 10 1 5 1-1 1-18 1-11 1-3 1-5 1 21 1 18 1 12 1-1 1 17 1-20 1 7 1 18 1-20 1 6 1-11 1 23 1 12 1 5 1 6 1 12 1-9 1 8 1-9 1-9 1 1 1 4 1-17 1 23 1 11 1-4 1-8 1 15 1 7 1-2 1-9 1-7 1 20 1-1 1-10 1 5 1-8 1-17 1-17 1 3 1 12 1-5 1-9 1 17 1-23 1-3 1 17 1-17 1-1 1 5 1 8 1 11 1 2 1-12 1 9 1 3 1-15 1-7 1 17 1 14 1 4 1-17 1 3 1-5 1-6 1-11 1 2 1 2 1-10 1 1" vector-effect="non-scaling-stroke"/>
<path d="M150 239l1-14 1-6 1-1 1-1 1-17 1-55 1-23 1 31 1 2 1 11 1-44 1 44 1-22 1 39 1 17 1-2 1 0 1 30 1 45 1 20 1 3 1 14 1 3 1-1 1-14 1 1 1-15 1 7 1 2 1-19 1 2 1 0 1 27 1-1 1 18 1-2 1 10 1-34 1 11 1 28 1 19 1 9 1-23 1-56 1 21 1-12 1 11 1-22 1-9 1-1 1 3 1-13 1 7 1 51 1-3 1 4 1 34 1 6 1 1 1 13 1-6 1-3 1-16 1-32 1 12 1 18 1-8 1-8 1-9 1-15 1-33 1 2 1-7 1 19 1 28 1 12 1-15 1-18 1 12 1-8 1 15 1-19 1 23 1 11 1-27 1-13 1 13 1-10 1-21 1 8 1 1 1-3 1-1 1-1 1 1 1-4 1-13 1-15 1 30 1-8" vector-effect="non-scaling-stroke"/>
<path d="M150 196l1 9 1 1 1 14 1 15 1 1 1-1 1 21 1 1 1-7 1-9 1-5 1 2 1-27 1 6 1 4 1 22 1-7 1-3 1-23 1 7 1 8 1-16 1 28 1 21 1-14 1-32 1 30 1 15 1-23 1 15 1 15 1 21 1 4 1 4 1-5 1 11 1 20 1-16 1-7 1 3 1 12 1 14 1-14 1 7 1 4 1 19 1-9 1 15 1-13 1 5 1-1 1 14 1 9 1-1 1-6 1-17 1 6 1-15 1 4 1 1 1-7 1 12 1-3 1-14 1 12 1 0 1-2 1-5 1-10 1-19 1 15 1 1 1 4 1-5 1-4 1-11 1 1 1 23 1-15 1 6 1 6 1-9 1 13 1-5 1-39 1-3 1 24 1-3 1 18 1-6 1-7 1 20 1 20 1-3 1-7 1 2 1 4 1-26 1-14 1 1" vector-effect="non-scaling-stroke"/>
<path d="M150 189l1-2 1 1 1 1 1 5 1 6 1 9 1 3 1 5 1 17 1-1 1 12 1-2 1-15 1 11 1-9 1 8 1 1 1 10 1 2 1-3 1 5 1-10 1 1 1 7 1-5 1 8 1 2 1 4 1 7 1 0 1 3 1 3 1-4 1-1 1 7 1 6 1 12 1-1 1 1 1 5 1 8 1 0 1 1 1 2 1 3 1 0 1 3 1 8 1-2 1 3 1 2 1-2 1-3 1 9 1-3 1-4 1-7 1 5 1 3 1-1 1-2 1 8 1-2 1 6 1-4 1-2 1-5 1 10 1-2 1 8 1 5 1-5 1-4 1 0 1-5 1-3 1 4 1-13 1-8 1-4 1-6 1-8 1 3 1-3 1 3 1 6 1-5 1 5 1 1 1-3 1-2 1 2 1-5 1 4 1-7 1 3 1-2 1-5 1-2 1-4" vector-effect="non-scaling-stroke"/>
<path d="M150 204l1-2 1 3 1 4 1 5 1-4 1 0 1 1 1-7 1-3 1 9 1 16 1 2 1-2 1 11 1 0 1 7 1 15 1-1 1 7 1-9 1-13 1-3 1 3 1 14 1 6 1-1 1 3 1-13 1 1 1-5 1 11 1 6 1 17 1 7 1-18 1 8 1 9 1-5 1-14 1 14 1 7 1 15 1 5 1 9 1 2 1-1 1-5 1-3 1 7 1 15 1 0 1 0 1 4 1 4 1-9 1-4 1 3 1-1 1-4 1 2 1 0 1 11 1-1 1 3 1-9 1-7 1 4 1 0 1-1 1 5 1-14 1-6 1 2 1 0 1-3 1-2 1-1 1 2 1-9 1 2 1 3 1-6 1-2 1 13 1 5 1 4 1-2 1 7 1 4 1-5 1-11 1 1 1 6 1-21 1-2 1 2 1 12 1 1 1-13 1-9" vector-effect="non-scaling-stroke"/>
<path d="M150 201l1 3 1 5 1-1 1 1 1 3 1-2 1 5 1-2 1-10 1 7 1-5 1 22 1 3 1 4 1-5 1 13 1-7 1 16 1 8 1-8 1-6 1 9 1-9 1 4 1-1 1 14 1 5 1 1 1 7 1-5 1 11 1 3 1 3 1-3 1 5 1 4 1 6 1-4 1 6 1-2 1-5 1 8 1 3 1 10 1-1 1 4 1 6 1 8 1 7 1-1 1-10 1 10 1 3 1-4 1 1 1-4 1 1 1-8 1-6 1 7 1-1 1 5 1-1 1 1 1 11 1-1 1-6 1-7 1 7 1-5 1 2 1-4 1-2 1-8 1-2 1-3 1-9 1 3 1 2 1-4 1 4 1-12 1 3 1 7 1-4 1-9 1 0 1-5 1 12 1-2 1-3 1-1 1 1 1-5 1-3 1-5 1 8 1 0 1-12 1 4" vector-effect="non-scaling-stroke"/>
<path d="M150 184l1 9 1 7 1 13 1 4 1-16 1-10 1 16 1 32 1-5 1-9 1 3 1 16 1 7 1-5 1 4 1-11 1 20 1-2 1 1 1 20 1-42 1 27 1-27 1 4 1 19 1 14 1 6 1-2 1-5 1 10 1 11 1 23 1-16 1-5 1 9 1-27 1 22 1-21 1-1 1 14 1 7 1 28 1-8 1-2 1-5 1-22 1 10 1 22 1-18 1 7 1 17 1 9 1-12 1 19 1 4 1 3 1-19 1-8 1 18 1-13 1-33 1-5 1 4 1 17 1 2 1-2 1-20 1 4 1 15 1-26 1-1 1 5 1 14 1 1 1-16 1 16 1-15 1 10 1 10 1-10 1 18 1-9 1 11 1 5 1-16 1 0 1-26 1-8 1 9 1 0 1 10 1-11 1 3 1-6 1 12 1 10 1 14 1 1 1-35 1-10" vector-effect="non-scaling-stroke"/>
<path d="M150 209l1-5 1-6 1 9 1-26 1-4 1 4 1 11 1 6 1-14 1 36 1 2 1 16 1 12 1-35 1-5 1 34 1-17 1 12 1-7 1 35 1-21 1 1 1 16 1-14 1 20 1-11 1-8 1 21 1-2 1 17 1-11 1-1 1-22 1-6 1 25 1-16 1 12 1 8 1 5 1 25 1 12 1 3 1 8 1 19 1-26 1 33 1-11 1-27 1-10 1 5 1 10 1 19 1-27 1 2 1 10 1 17 1-5 1 3 1-1 1 9 1 15 1-20 1-12 1-2 1 13 1 3 1-20 1 5 1-15 1 17 1-10 1 30 1 7 1-15 1-18 1-8 1 11 1 18 1 11 1-17 1 10 1-1 1-18 1 18 1-4 1-26 1-1 1-2 1 0 1 9 1-6 1 0 1 6 1 10 1-3 1-2 1-23 1-24 1 7 1-18" vector-effect="non-scaling-stroke"/>
<path d="M150 224l1-7 1 9 1-20 1-34 1 22 1 12 1-3 1 29 1 7 1-10 1 11 1-6 1-14 1-37 1-5 1-3 1 30 1 11 1 32 1-25 1 6 1-2 1-3 1-19 1 22 1 27 1 4 1-2 1 17 1-4 1 15 1-20 1-8 1 17 1 15 1-17 1 8 1-14 1 26 1-4 1 25 1-16 1-5 1 14 1 22 1 11 1 17 1-9 1-12 1-9 1-18 1 2 1 11 1-10 1 31 1-16 1-5 1 21 1 7 1-17 1-16 1-15 1 1 1 26 1-8 1 12 1-29 1 46 1-40 1-26 1-2 1 16 1 11 1 0 1 8 1-17 1-21 1-8 1-2 1 31 1 2 1 5 1-17 1 18 1-18 1 2 1-2 1 4 1-8 1 14 1 3 1-18 1-18 1 23 1-7 1 16 1 1 1-15 1-5 1-19" vector-effect="non-scaling-stroke"/>
<path d="M150 203l1 5 1-3 1 2 1 3 1 7 1 2 1-2 1-1 1 1 1-4 1-1 1-9 1 14 1 2 1 12 1 3 1 5 1 18 1-5 1-4 1-10 1 5 1 3 1-8 1 9 1-10 1 13 1 3 1 0 1 24 1 9 1 1 1-13 1-6 1 0 1-1 1 14 1-1 1 0 1 15 1 1 1 6 1 3 1 8 1-5 1-10 1 2 1-1 1 7 1-5 1 18 1 1 1-7 1 10 1 10 1 1 1-5 1 6 1 6 1 3 1-9 1-2 1-2 1-4 1-5 1-14 1 1 1 6 1 1 1 7 1-7 1 4 1 3 1-10 1 7 1 6 1-1 1-6 1-12 1-3 1-11 1 6 1-4 1 10 1 2 1-7 1-6 1-5 1-6 1-6 1-2 1 7 1 0 1 1 1 0 1 6 1-11 1 5 1 9 1 10" vector-effect="non-scaling-stroke"/>
<path d="M150 170l1 14 1 6 1 27 1-5 1 26 1-11 1-13 1-20 1 13 1-7 1 41 1-6 1 1 1 18 1 13 1-6 1-13 1-2 1 1 1 8 1 6 1-11 1 18 1-11 1 14 1 7 1-14 1 4 1-15 1 6 1 16 1 21 1-9 1 4 1 4 1 17 1-9 1-15 1 11 1-4 1 19 1 9 1 4 1-2 1 5 1-6 1-4 1 7 1 6 1 2 1 8 1-1 1-7 1-8 1 4 1 13 1 8 1-9 1 0 1-1 1 10 1-7 1-20 1 15 1 1 1-18 1-15 1 11 1-25 1 23 1-9 1-11 1 6 1 22 1-4 1-1 1-4 1 1 1 5 1-10 1-24 1 12 1 3 1 6 1-2 1 10 1-5 1-5 1 3 1-5 1 12 1-20 1 2 1-6 1 10 1-3 1-6 1 8 1-2 1-20" vector-effect="non-scaling-stroke"/>
<path d="M150 212l1-5 1-3 1-4 1 2 1-17 1 27 1 15 1-13 1-3 1 2 1 11 1 12 1 10 1 8 1-2 1 25 1-6 1 0 1-21 1-13 1 2 1 24 1-7 1-25 1 3 1-15 1 26 1 18 1 2 1 32 1 6 1-4 1 0 1-13 1-19 1-3 1 11 1 7 1-14 1 20 1 15 1-1 1 4 1 15 1-3 1 8 1-12 1 4 1 26 1-17 1 5 1 15 1 3 1-17 1 2 1 19 1 10 1 7 1-10 1-16 1-6 1 6 1-10 1-7 1-2 1-3 1 4 1-7 1 5 1-9 1-10 1 4 1-11 1 18 1-1 1 0 1-9 1 0 1 0 1-3 1 5 1 5 1-2 1 0 1 7 1-12 1 16 1-17 1-23 1 0 1-3 1-7 1 5 1 4 1 7 1-7 1-3 1-6 1 17 1-10" vector-effect="non-scaling-stroke"/>
<path d="M150 235l1-10 1-4 1-11 1-1 1 17 1-3 1-11 1 12 1-14 1 16 1-2 1 9 1 9 1-4 1 1 1 17 1-10 1 17 1-1 1 3 1 12 1 6 1 2 1 1 1 3 1-20 1 14 1 11 1-4 1-1 1-9 1 5 1-16 1 20 1 13 1 4 1-8 1-19 1 10 1 24 1-6 1 31 1-8 1-8 1-11 1-3 1 2 1 7 1 13 1-5 1 10 1-3 1 1 1 4 1-2 1-8 1-13 1 5 1 2 1 5 1-3 1 7 1-11 1-7 1-6 1-6 1 17 1-1 1-15 1 22 1 9 1-23 1-4 1 7 1-3 1-4 1-30 1 10 1 18 1-2 1 9 1 20 1-16 1-9 1 4 1-9 1 5 1-14 1 13 1-26 1-7 1-4 1 5 1 13 1 5 1-6 1-13 1 4 1-9 1 2" vector-effect="non-scaling-stroke"/>
<path d="M150 178l1 9 1-3 1-2 1 6 1 8 1 14 1-13 1-17 1 5 1 7 1-7 1-12 1 13 1 18 1 0 1 4 1 22 1-12 1 9 1 2 1 11 1 10 1 38 1-17 1-30 1 3 1 20 1 16 1 12 1-6 1 8 1 8 1-6 1-4 1-12 1 16 1-7 1 4 1 28 1 1 1-1 1 10 1-4 1 3 1-8 1 0 1 6 1 15 1-19 1 3 1 4 1-9 1 18 1 6 1 3 1 7 1 11 1-3 1-2 1-20 1 2 1 5 1 5 1-22 1 18 1-6 1-18 1 7 1 1 1-8 1-5 1-6 1 9 1-16 1 11 1-10 1-1 1-4 1-11 1 4 1-7 1 0 1 1 1 5 1 7 1 27 1-6 1-21 1-1 1 23 1 5 1-9 1-28 1 6 1 7 1-2 1-12 1 7 1-14 1 1" vector-effect="non-scaling-stroke"/>
<path d="M150 180l1 4 1-3 1 1 1 7 1 4 1 16 1 1 1 13 1 9 1 6 1-4 1 0 1 7 1-5 1-11 1-4 1-5 1 8 1-4 1 13 1-3 1 0 1-1 1 17 1 14 1 5 1 1 1-13 1 7 1 10 1 4 1 8 1 19 1 7 1 1 1-12 1 1 1 6 1 6 1 3 1 0 1 2 1-3 1 20 1-6 1-7 1 16 1-3 1 2 1-4 1 4 1-3 1-2 1 7 1 3 1-12 1-4 1-3 1 11 1 5 1-8 1 3 1-6 1 9 1-11 1-4 1 8 1 5 1 10 1 1 1-15 1-9 1-4 1-7 1 2 1-3 1 4 1-2 1-11 1 7 1 2 1 5 1-4 1-11 1 9 1-9 1 6 1-6 1 5 1 8 1 4 1-2 1-13 1-3 1 5 1 1 1-12 1-2 1-3 1 6" vector-effect="non-scaling-stroke"/>
<path d="M150 205l1 4 1-15 1 8 1 12 1-2 1 8 1-11 1-12 1 16 1-11 1 7 1-24 1 9 1 12 1 4 1-9 1-7 1 36 1 20 1 14 1-1 1 11 1 2 1 3 1-21 1 15 1 19 1 9 1 3 1-14 1 9 1 11 1-10 1-8 1 15 1-4 1 6 1 3 1-28 1 4 1 15 1 2 1 14 1 23 1 16 1-16 1-14 1 30 1-8 1-3 1-9 1-4 1 7 1 11 1-9 1-3 1 39 1-12 1-1 1-11 1 13 1-6 1-43 1-4 1-4 1 6 1-5 1-7 1 20 1 8 1 13 1-2 1-18 1 10 1-30 1-7 1 3 1 2 1-10 1 1 1-3 1-6 1 11 1-20 1 4 1-1 1 4 1-4 1 1 1 32 1 9 1-13 1-9 1 0 1-3 1-2 1-20 1 30 1-13 1-6" vector-effect="non-scaling-stroke"/>
<path d="M150 176l1-23 1-3 1 29 1 22 1-5 1 23 1-33 1 70 1-45 1-23 1-25 1-12 1-2 1 23 1-43 1 68 1-8 1-8 1 18 1-36 1 62 1 25 1-16 1 17 1-3 1 29 1 16 1 5 1-42 1 33 1-9 1 29 1-13 1 14 1-3 1-27 1-6 1 11 1-20 1-6 1 9 1 17 1-2 1 57 1 19 1-8 1-27 1 6 1-12 1-32 1-8 1 47 1-19 1 13 1-5 1 10 1-22 1 17 1 27 1 0 1 1 1-2 1-16 1-4 1-6 1-35 1 27 1-6 1 15 1 19 1-17 1 9 1-22 1 4 1-11 1 6 1-2 1-16 1-7 1 35 1-19 1 10 1 20 1-11 1-10 1-1 1 4 1-6 1-8 1 9 1-25 1-5 1 16 1 16 1-4 1 7 1 6 1-28 1 2 1 48" vector-effect="non-scaling-stroke"/>
<path d="M150 203l1 8 1 0 1 0 1 23 1 25 1-37 1 19 1-5 1-39 1 19 1 23 1-9 1 0 1 16 1 11 1 28 1 9 1-13 1 7 1-33 1-10 1 37 1 22 1-15 1-26 1 3 1 3 1 14 1 27 1-18 1 2 1 40 1-9 1 8 1 18 1 3 1-41 1 16 1-15 1 6 1-6 1-29 1 10 1-24 1 23 1 29 1-6 1-17 1-1 1 10 1 4 1-15 1 3 1 14 1-11 1-1 1 15 1 33 1 5 1-18 1 8 1-4 1 0 1 8 1-22 1-12 1 26 1 14 1-1 1 0 1-5 1-14 1-25 1-20 1 4 1-11 1 21 1 2 1 10 1 27 1-34 1 15 1-8 1-18 1-3 1 0 1 36 1-21 1-14 1 7 1-12 1 9 1 5 1 48 1-43 1 12 1-10 1-13 1-26 1 17" vector-effect="non-scaling-stroke"/>
<path d="M150 198l1 4 1 10 1 4 1 5 1 3 1 9 1 5 1-4 1 0 1-6 1-9 1 0 1-2 1 29 1-6 1-11 1 23 1-14 1 2 1 3 1-3 1 6 1 5 1-5 1 2 1 3 1 19 1 0 1 22 1-2 1 1 1-3 1-18 1 1 1 12 1-3 1 6 1-2 1 0 1 5 1 12 1-2 1 15 1 20 1-1 1-5 1 1 1 1 1-4 1 8 1-5 1-5 1-1 1 4 1 6 1-4 1-4 1 0 1 7 1 3 1-1 1 0 1 0 1-2 1-2 1 14 1-11 1-7 1-1 1 0 1 5 1-5 1 1 1 0 1 4 1-15 1 0 1-17 1 16 1-8 1-5 1-10 1 2 1 7 1-6 1 5 1-3 1 2 1 4 1-11 1 6 1 0 1-13 1 5 1 6 1-13 1-15 1 8 1 11 1 5" vector-effect="non-scaling-stroke"/>
<path d="M150 172l1 5 1-1 1 15 1-3 1-21 1 6 1 14 1 10 1-12 1 4 1 31 1 7 1 9 1-23 1 29 1 21 1 9 1-26 1-11 1 42 1 1 1 31 1-15 1-27 1 5 1-28 1 15 1-15 1 13 1 10 1-14 1 2 1-19 1 23 1 6 1 13 1 12 1 4 1 5 1-9 1 24 1-8 1 8 1-2 1-8 1 20 1-10 1 11 1 20 1 6 1-19 1-25 1-8 1-22 1 27 1 1 1 24 1-21 1 28 1-5 1-6 1 11 1 1 1 37 1-2 1 3 1-25 1-27 1 0 1 10 1 3 1-5 1-13 1-20 1 10 1 2 1-6 1-20 1 1 1 19 1 11 1 2 1 0 1-4 1-20 1 18 1-12 1-4 1 4 1-24 1 28 1-4 1-15 1 1 1 8 1 7 1-10 1-4 1 17 1-30" vector-effect="non-scaling-stroke"/>
<path d="M150 210l1 10 1-1 1-9 1-9 1 13 1 12 1 6 1 8 1 3 1-16 1 5 1 2 1 16 1 0 1 5 1 18 1-3 1-1 1 5 1-11 1-17 1-19 1 13 1-2 1 36 1-12 1-1 1-10 1 0 1 15 1-10 1 10 1 0 1 28 1-12 1 6 1 12 1-9 1 5 1 2 1 13 1-5 1 1 1-10 1 20 1 3 1 8 1-12 1 13 1 0 1-3 1 22 1-3 1-25 1 15 1 17 1-8 1 6 1-27 1-1 1 20 1-12 1 1 1 9 1-1 1 3 1-6 1 10 1-7 1-23 1-2 1 11 1 3 1-2 1-4 1-6 1-10 1-8 1 35 1 0 1 7 1-5 1-11 1-5 1-9 1-15 1 25 1 20 1-23 1-16 1 2 1 3 1-7 1-6 1 11 1-1 1 1 1-16 1-8 1 8" vector-effect="non-scaling-stroke"/>
<path d="M150 145l1 12 1 17 1-8 1-16 1 18 1 5 1-8 1 8 1-9 1 26 1 22 1 25 1 22 1-18 1 12 1-24 1 12 1-3 1 2 1-16 1 29 1 29 1-22 1 11 1 4 1-27 1-18 1 21 1-23 1-9 1 13 1 28 1 12 1 6 1 35 1-10 1 6 1-34 1 0 1 7 1 15 1 10 1-27 1 33 1 11 1-9 1 13 1-9 1 2 1-3 1 11 1-8 1 12 1-6 1-17 1 14 1-3 1 12 1-4 1-4 1 12 1-10 1-2 1-1 1 23 1-24 1-6 1 11 1 4 1-15 1 6 1 12 1 16 1-3 1-5 1-7 1-27 1-21 1-2 1 19 1-2 1-2 1 19 1-31 1 25 1-23 1-11 1 24 1 16 1-28 1 12 1-24 1-3 1 18 1-24 1 8 1 4 1 30 1-14 1-20" vector-effect="non-scaling-stroke"/>
<path d="M150 205l1-5 1-7 1 5 1 4 1-8 1 2 1 29 1 7 1-23 1 25 1-14 1 27 1-12 1-16 1-20 1-2 1 34 1-4 1 15 1 29 1 27 1 6 1-23 1-16 1-16 1 40 1 1 1-2 1 22 1 9 1 5 1-11 1 7 1-27 1 0 1-8 1-11 1 6 1-2 1 13 1 24 1-7 1-14 1-22 1 19 1 3 1 6 1-8 1 2 1 4 1 5 1 11 1 10 1 5 1 10 1 5 1-2 1 1 1 0 1-8 1-4 1-12 1 29 1 9 1-15 1 6 1-11 1-20 1-33 1 7 1 9 1-11 1-1 1 16 1 5 1 20 1 12 1-20 1-31 1 10 1 21 1 9 1-26 1 7 1-17 1 0 1-25 1-11 1 17 1-5 1 0 1 24 1-6 1 3 1-33 1 26 1 2 1-12 1 25 1-1" vector-effect="non-scaling-stroke"/>
<path d="M150 224l1 4 1-5 1 5 1-14 1 7 1 21 1 8 1-6 1-13 1-12 1 8 1-7 1-5 1-19 1 20 1-3 1 4 1-11 1 14 1 13 1-6 1 11 1 16 1 12 1 5 1 1 1-17 1 9 1 1 1 5 1 17 1 3 1-23 1 10 1 3 1 18 1 10 1-10 1-4 1-9 1 0 1-6 1 21 1 10 1 4 1-7 1 16 1-12 1 29 1-1 1-9 1 7 1 3 1 2 1-3 1-3 1 8 1-7 1 20 1-14 1-11 1-13 1 15 1 12 1-11 1 6 1-15 1-11 1-16 1 17 1 3 1 8 1-6 1 0 1-15 1 3 1-11 1 4 1-6 1 1 1 3 1-16 1 11 1 18 1-19 1 2 1 2 1-4 1 4 1 8 1-5 1 11 1-4 1-5 1-10 1 5 1-13 1 3 1-15 1 8" vector-effect="non-scaling-stroke"/>
<path d="M150 206l1-4 1-5 1 2 1-2 1 6 1 6 1-11 1-4 1 4 1 11 1 13 1 6 1 8 1-7 1-6 1 15 1-1 1 5 1 6 1 21 1 4 1-1 1-23 1 13 1-2 1-6 1 2 1 12 1-13 1-3 1-15 1 14 1 7 1 5 1 6 1-5 1 15 1 21 1 12 1 5 1 5 1 4 1-9 1 1 1 3 1 3 1-4 1 8 1 0 1-2 1 14 1-6 1 2 1-3 1 5 1 0 1-3 1-10 1 3 1-8 1-1 1-11 1 8 1 6 1-6 1 16 1 1 1 2 1 1 1-4 1-2 1-12 1 7 1-6 1 15 1-19 1-8 1-14 1-3 1 18 1-10 1-1 1 1 1 2 1-4 1 7 1 1 1-2 1 11 1 1 1-6 1-2 1-1 1-17 1-3 1 10 1-2 1-3 1-11 1-1" vector-effect="non-scaling-stroke"/>
<path d="M150 212l1-8 1-3 1 5 1 5 1-11 1 21 1 2 1 2 1-4 1 2 1 20 1-5 1 0 1 14 1-1 1-14 1 4 1 10 1-8 1 10 1 7 1 7 1 20 1-6 1 9 1 3 1-13 1 2 1 5 1-4 1 2 1 9 1-13 1 17 1-8 1 4 1-3 1-11 1-8 1-4 1 5 1 12 1 9 1 7 1 13 1 11 1-1 1-9 1-9 1 22 1 13 1 10 1-3 1-9 1-10 1-15 1 10 1 7 1-9 1 2 1-14 1 8 1 0 1 8 1 2 1 1 1 5 1-11 1-5 1-3 1-3 1 12 1 3 1 8 1-5 1-8 1-6 1 2 1 12 1-11 1 3 1 6 1-8 1-13 1 11 1-16 1 2 1-31 1 10 1-3 1 17 1-5 1 19 1 2 1-12 1 0 1-16 1-6 1-13 1 12" vector-effect="non-scaling-stroke"/>
<path d="M150 150l1 8 1 23 1 21 1 3 1-19 1-10 1 48 1 0 1 11 1 34 1-62 1 17 1-18 1-6 1-16 1-11 1-17 1 66 1 22 1-10 1 17 1-21 1-35 1-9 1 33 1 18 1-37 1 34 1 42 1-40 1 19 1 37 1 1 1 12 1 53 1-8 1-6 1-42 1-35 1 0 1 9 1 15 1-23 1-11 1 24 1 25 1-11 1-9 1 19 1-11 1 28 1 4 1 9 1-16 1 19 1-2 1 16 1-31 1-6 1-18 1-34 1-1 1 23 1-8 1 11 1 8 1 51 1 13 1-4 1 8 1-62 1-25 1 24 1 21 1-25 1 34 1 14 1-26 1 26 1 1 1-19 1 4 1-10 1-6 1 8 1-20 1 8 1-28 1 12 1 2 1 21 1 30 1-23 1 16 1-6 1-30 1-33 1 27 1-19 1 20" vector-effect="non-scaling-stroke"/>
<path d="M150 193l1 13 1 0 1 3 1 13 1-15 1 2 1 9 1 12 1 3 1-10 1 4 1 16 1-24 1 15 1 23 1-18 1-15 1-1 1 29 1 6 1 8 1 25 1 9 1-16 1-3 1-3 1-6 1 3 1 8 1-11 1 3 1 3 1 18 1-14 1 18 1-11 1-4 1-6 1-1 1 3 1 11 1-4 1 21 1-4 1 22 1-1 1-3 1-12 1 15 1 5 1 28 1 1 1-11 1 8 1 11 1-9 1 3 1-7 1-7 1-4 1-10 1 7 1-3 1-5 1 2 1-15 1-11 1 0 1-2 1 11 1-3 1-3 1 4 1-24 1 13 1-10 1 2 1 1 1-1 1-26 1-4 1-2 1 4 1 7 1 0 1 3 1-11 1 6 1 11 1 6 1 5 1-12 1 4 1-3 1-1 1-12 1-7 1 23 1 4 1 4" vector-effect="non-scaling-stroke"/>
<path d="M150 240l1-6 1-19 1-8 1 24 1-14 1-22 1 23 1 4 1-18 1 13 1 7 1 26 1-13 1 9 1 3 1-8 1 14 1-29 1 7 1-11 1 30 1 15 1 14 1-22 1 19 1 25 1-16 1 26 1-15 1 18 1-11 1 21 1-4 1 2 1-15 1 6 1 22 1-20 1 3 1 8 1 12 1-3 1-13 1 0 1-7 1 21 1-3 1-4 1-6 1 6 1-11 1 6 1 17 1 13 1-14 1-6 1-4 1 3 1 1 1 23 1-1 1 5 1-4 1-1 1-8 1-4 1-13 1-14 1 4 1-22 1 5 1 19 1 8 1-28 1 8 1 3 1-4 1-8 1 27 1-9 1-31 1 4 1-13 1 21 1-18 1 8 1-4 1 8 1-17 1-7 1 9 1-14 1 10 1-9 1 4 1-2 1-7 1 3 1-1 1-11" vector-effect="non-scaling-stroke"/>
<path d="M150 175l1-4 1-6 1-7 1 37 1 7 1-5 1 15 1 11 1 17 1 20 1-16 1-18 1 2 1 9 1 12 1 2 1 3 1 20 1 7 1-10 1 19 1-1 1 0 1-33 1 5 1-14 1 6 1 0 1-3 1 23 1 36 1-13 1-11 1 8 1 20 1-24 1 10 1 3 1-23 1 21 1-30 1 2 1 7 1 38 1 18 1 27 1-16 1 8 1 24 1-24 1-1 1-18 1 3 1-16 1 7 1-27 1 8 1 20 1-20 1-4 1-12 1 12 1-7 1 17 1-3 1 14 1-5 1 2 1-6 1-15 1-12 1-7 1 2 1-3 1 16 1-3 1-12 1 7 1-1 1-1 1 34 1 4 1 4 1-6 1-14 1-4 1 22 1-9 1 23 1-21 1-9 1-3 1-8 1-14 1 0 1-6 1-4 1-6 1 1 1-7" vector-effect="non-scaling-stroke"/>
<path d="M150 218l1 4 1 10 1 1 1 0 1-15 1 7 1-8 1-8 1 2 1 9 1 0 1 13 1 5 1 19 1 0 1-35 1 16 1-11 1 3 1 15 1-11 1 22 1 2 1 8 1 4 1 4 1 1 1 2 1-29 1 20 1-5 1 9 1 12 1 7 1 8 1 6 1-9 1 13 1-1 1-2 1-5 1-5 1-6 1 11 1 9 1-4 1 8 1 1 1 9 1-2 1 5 1 1 1-16 1-5 1 1 1 4 1-8 1 10 1 9 1 10 1 9 1 0 1 6 1-2 1-1 1 6 1-2 1-4 1-19 1-11 1 2 1-19 1 17 1-5 1-1 1-5 1 0 1-16 1 10 1-5 1-4 1 14 1 4 1 0 1-5 1 11 1 11 1-8 1 0 1-4 1-9 1 4 1-2 1-12 1 2 1-17 1 20 1 4 1-4 1-6" vector-effect="non-scaling-stroke"/>
<path d="M150 203l1-2 1-6 1 0 1 7 1 5 1 12 1 1 1-7 1-1 1 8 1 6 1-6 1-1 1 5 1-6 1 7 1 20 1 5 1-20 1 0 1 8 1-4 1 0 1 3 1 16 1-4 1-6 1-9 1 16 1 12 1 10 1-9 1 3 1 15 1 13 1-6 1 1 1-6 1 8 1 7 1-5 1 20 1-7 1 4 1 2 1 1 1 8 1 2 1 5 1-4 1 5 1 9 1 12 1-16 1-8 1 8 1-9 1-3 1 2 1-8 1 6 1 8 1-17 1 12 1-13 1 5 1-4 1 16 1 1 1 3 1-16 1-4 1 6 1-7 1-9 1 7 1 7 1 0 1 4 1-3 1 4 1-8 1-14 1-6 1 3 1-5 1-4 1-5 1 0 1 18 1-10 1-2 1 22 1-5 1-10 1 0 1-14 1-20 1 1 1 10" vector-effect="non-scaling-stroke"/>
<path d="M150 162l1 11 1 7 1 20 1-5 1-13 1 17 1 20 1-21 1 17 1-3 1-16 1 24 1 2 1 6 1 8 1 10 1 2 1-2 1 1 1 26 1-8 1 14 1 7 1-5 1-10 1 1 1-20 1 29 1-7 1-7 1 19 1-13 1 12 1 5 1 14 1-20 1 22 1 5 1 2 1-2 1-9 1-22 1 23 1 5 1 12 1 8 1-7 1 3 1-18 1-13 1 19 1 22 1 5 1-9 1 20 1-22 1 12 1 3 1 3 1 5 1-5 1-4 1-15 1-8 1-11 1 1 1 9 1 3 1 6 1-16 1-3 1 11 1-3 1 7 1 1 1 2 1 1 1-5 1 20 1-18 1 6 1-7 1-20 1-9 1 1 1-24 1 28 1-2 1-5 1 3 1-1 1-3 1-6 1 14 1-10 1-8 1 4 1-3 1 3 1 14" vector-effect="non-scaling-stroke"/>
<path d="M150 206l1 8 1 5 1 6 1 0 1-4 1 16 1-6 1 14 1-6 1-8 1 11 1-21 1 6 1-2 1 9 1 12 1-1 1 3 1 7 1-11 1 10 1-5 1 16 1-10 1 6 1-2 1 6 1 2 1-5 1 17 1-8 1-5 1 6 1 2 1 12 1 18 1 15 1-8 1 9 1-6 1 2 1 7 1 4 1-14 1 18 1 9 1-17 1 10 1-17 1-14 1 20 1-10 1-2 1 2 1-1 1 20 1 1 1 6 1 18 1-4 1-13 1-6 1-6 1-4 1 8 1 11 1 14 1-11 1-17 1-2 1 15 1 0 1-7 1-3 1-2 1-18 1 6 1 8 1-7 1 1 1-4 1 5 1-3 1-24 1 11 1 8 1 7 1-12 1-15 1 10 1-5 1-4 1 2 1 15 1-20 1-7 1-14 1 6 1-5 1 2" vector-effect="non-scaling-stroke"/>
<path d="M150 217l1 0 1-6 1-2 1-2 1 2 1-11 1 7 1 15 1-7 1 20 1-18 1-7 1-3 1 0 1 23 1 3 1 8 1-12 1 11 1 4 1 5 1 47 1-19 1 35 1 2 1 0 1-6 1-20 1-58 1 23 1 4 1-18 1 53 1-8 1-7 1 18 1 2 1 20 1 24 1-24 1-16 1-10 1 11 1 16 1 35 1 7 1-7 1-20 1 10 1-32 1 13 1 10 1-9 1-8 1 28 1-1 1-3 1 18 1 19 1-4 1 9 1-7 1-22 1-12 1 7 1-17 1-4 1 4 1 2 1-8 1 1 1-9 1-3 1 17 1-14 1-8 1 5 1 3 1-4 1 17 1 5 1-28 1-17 1 13 1 2 1 15 1 3 1 4 1-1 1 3 1-20 1-13 1-7 1 18 1 7 1-38 1-5 1 11 1-1 1 13" vector-effect="non-scaling-stroke"/>
<path d="M150 203l1 2 1 7 1 2 1 11 1-10 1 13 1-4 1-1 1 11 1 15 1 2 1-3 1 12 1-17 1 0 1 6 1-3 1 6 1 1 1-12 1 6 1-17 1 16 1 15 1 11 1-3 1-11 1-5 1-8 1 6 1 11 1 24 1-12 1 14 1 2 1 15 1 1 1-9 1-24 1 6 1 16 1 2 1 9 1 3 1-7 1 24 1-12 1-4 1 14 1-2 1 20 1 0 1-3 1 2 1 5 1-7 1 11 1-10 1-6 1 5 1-2 1 19 1-1 1-10 1-9 1-6 1-5 1-15 1 22 1-5 1 11 1 1 1-11 1-4 1-4 1-24 1 24 1-4 1 8 1-15 1-1 1 4 1 6 1-22 1-2 1-1 1-3 1-5 1 7 1 0 1 14 1 13 1-6 1 7 1-7 1-7 1-3 1-1 1-2 1 15" vector-effect="non-scaling-stroke"/>
<path d="M150 182l1 3 1 3 1 10 1-7 1-8 1 20 1-10 1 11 1 6 1 14 1 10 1-11 1 2 1 21 1 1 1-34 1 10 1 9 1 33 1-31 1 3 1 20 1-6 1-1 1 24 1 15 1-9 1-7 1 7 1-12 1 12 1-18 1 12 1-7 1-4 1 26 1 14 1 3 1-1 1-11 1-8 1 13 1-1 1 0 1-3 1 22 1 5 1 18 1 18 1-10 1 18 1-15 1 10 1 0 1-12 1-2 1-10 1 1 1 1 1-10 1 7 1 9 1 1 1-15 1-6 1 1 1-12 1-19 1-1 1 6 1-3 1-10 1-2 1 14 1-12 1 1 1 12 1 9 1-2 1-2 1-15 1 0 1 6 1 2 1-1 1 7 1 12 1 2 1-17 1 14 1-3 1-33 1 2 1 14 1 14 1 5 1 6 1-19 1-12 1 9" vector-effect="non-scaling-stroke"/>
<path d="M150 174l1 10 1 11 1 8 1 6 1 12 1 18 1-1 1-12 1-3 1 2 1 5 1 22 1-6 1-14 1-1 1-3 1 0 1 4 1 13 1-21 1 3 1 12 1 4 1 20 1-8 1-1 1 16 1 13 1 4 1-8 1 1 1 10 1-5 1 12 1 16 1-9 1-20 1 29 1 16 1-25 1 7 1 11 1-3 1 12 1-6 1-1 1-4 1 14 1-6 1 9 1-14 1 2 1 2 1-1 1 0 1-4 1-9 1 1 1 12 1-27 1 8 1-10 1 12 1-11 1 10 1 8 1-6 1 4 1 17 1-13 1 16 1-10 1 5 1 5 1-6 1-1 1-14 1-14 1-10 1 4 1-13 1 4 1 2 1-1 1 1 1 4 1 7 1 25 1-2 1-11 1-19 1 4 1 3 1-16 1-4 1 3 1-6 1-11 1 15 1-2" vector-effect="non-scaling-stroke"/>
<path d="M150 182l1-1 1-6 1-13 1 12 1 17 1 11 1-13 1-8 1 18 1-27 1 0 1 10 1 14 1 44 1 10 1 22 1-48 1-6 1 1 1-7 1 20 1-28 1 32 1-8 1-13 1 31 1 42 1 0 1-4 1-17 1 31 1-4 1 4 1 27 1-8 1 2 1 10 1 8 1-28 1 16 1-12 1-19 1-7 1 14 1 2 1 22 1 14 1 13 1 48 1-23 1-25 1 2 1 18 1-35 1-18 1 34 1 9 1-18 1 5 1-3 1 4 1-10 1-8 1 12 1-8 1-20 1 1 1 10 1 20 1-6 1-1 1 22 1-24 1 8 1-27 1 20 1-27 1 28 1-19 1-22 1 4 1-7 1-38 1-42 1 19 1-1 1 39 1-17 1 5 1 16 1 28 1 9 1 12 1-13 1-3 1-11 1 22 1-17 1-37 1-17" vector-effect="non-scaling-stroke"/>
<path d="M150 201l1 1 1 0 1-2 1 4 1 2 1 4 1 5 1-14 1 10 1 15 1-7 1 7 1 11 1 11 1 5 1 1 1-2 1-5 1 0 1 4 1-1 1-6 1-5 1 0 1 16 1 5 1 7 1 2 1 8 1 6 1 7 1 7 1 3 1 13 1-11 1 0 1 5 1-1 1 13 1 0 1-10 1 1 1 5 1-9 1 0 1 0 1 5 1 8 1 2 1-2 1-9 1 11 1 3 1 1 1 3 1 3 1-3 1-3 1 4 1-2 1 8 1 4 1 5 1-1 1-9 1-11 1 1 1-3 1-2 1 4 1-3 1-2 1-4 1-3 1 7 1-9 1 5 1 8 1 2 1-5 1 2 1-2 1 7 1-13 1 6 1-10 1 4 1-6 1-5 1 0 1-5 1-2 1 6 1 3 1-4 1-2 1-10 1-11 1 1 1 4" vector-effect="non-scaling-stroke"/>
<path d="M150 184l1 9 1 11 1 6 1 16 1 24 1 5 1 1 1-6 1-20 1-1 1-7 1-2 1 9 1 20 1 17 1-15 1 8 1-1 1 10 1 2 1-7 1 0 1 4 1-3 1 12 1-1 1 1 1 0 1-4 1 10 1-3 1 11 1-12 1-2 1 12 1 0 1 8 1 0 1 8 1 11 1 1 1 2 1 6 1 4 1 9 1 3 1-6 1 3 1-13 1-3 1 0 1-2 1 19 1-9 1-5 1 10 1 3 1 4 1-2 1-8 1-2 1-8 1 0 1-6 1-5 1 13 1-14 1-5 1-8 1 8 1-5 1-2 1-1 1 10 1 8 1-8 1-8 1-7 1 3 1 4 1-5 1-8 1 11 1 11 1 2 1 4 1-14 1 8 1-11 1 9 1 11 1-8 1-7 1 1 1 2 1 10 1-15 1-1 1-7 1 1" vector-effect="non-scaling-stroke"/>
<path d="M150 177l1 11 1 5 1 12 1 8 1-1 1-2 1-6 1-16 1 13 1 1 1-12 1 8 1 32 1-4 1-2 1 5 1-10 1 2 1 6 1 11 1 6 1 15 1 17 1-2 1-10 1 8 1 19 1 0 1-17 1 5 1-2 1-1 1 10 1-11 1 14 1 0 1 19 1 5 1 3 1-13 1 2 1 0 1 9 1-2 1-4 1-14 1 8 1 23 1 12 1-15 1-4 1 0 1 13 1 8 1-9 1 6 1 19 1 4 1-15 1 6 1 9 1-11 1-2 1 11 1-8 1 10 1-9 1 0 1-11 1-15 1 3 1-6 1 6 1-2 1 7 1-26 1 4 1-2 1-3 1 4 1 3 1 2 1 0 1-6 1 15 1-1 1-6 1-14 1-8 1-9 1 17 1-1 1 20 1-12 1 2 1-11 1 8 1 2 1 0 1 10" vector-effect="non-scaling-stroke"/>
<path d="M150 216l1 0 1-3 1 4 1 7 1-6 1 1 1-7 1-11 1 19 1-5 1 24 1-8 1 4 1 5 1 6 1-11 1-5 1 10 1 8 1-4 1 6 1 8 1 11 1 6 1-12 1-2 1 6 1 3 1 1 1-1 1 1 1 0 1 4 1 1 1 14 1 23 1-13 1 6 1-3 1 2 1-1 1 2 1 0 1 2 1 1 1-1 1-4 1 9 1 0 1 10 1 2 1 7 1-7 1 2 1-4 1 7 1 0 1-1 1 3 1 6 1 11 1-16 1-5 1 11 1-4 1-4 1-4 1 6 1-7 1 13 1 6 1-2 1-1 1-15 1-10 1-12 1-3 1-1 1-1 1 3 1-2 1 16 1-7 1 4 1 8 1-6 1-1 1 2 1 3 1-9 1-17 1-2 1-1 1 0 1 2 1 14 1-8 1-9 1 3 1 1" vector-effect="non-scaling-stroke"/>
<path d="M150 198l1 11 1-4 1 11 1 12 1-27 1 10 1-1 1-17 1-13 1 0 1-14 1 15 1 27 1 1 1-5 1-16 1 1 1 0 1 13 1 3 1-8 1 30 1 18 1 8 1 8 1 10 1-28 1 12 1 7 1 19 1-26 1 13 1 13 1-13 1 18 1-11 1 0 1 40 1-27 1 3 1 39 1-2 1-8 1 3 1-18 1 14 1 14 1-13 1-27 1 1 1 8 1 20 1 7 1 35 1 6 1-23 1-18 1 16 1-28 1-6 1 0 1 13 1-4 1-11 1-1 1-15 1 8 1-4 1 14 1 6 1-7 1 19 1-37 1-4 1-5 1 20 1 4 1-1 1 2 1 24 1-16 1 9 1-10 1-11 1 21 1-11 1-28 1 10 1 16 1 0 1 10 1 3 1-14 1 2 1-15 1 3 1-14 1-3 1 7 1-13" vector-effect="non-scaling-stroke"/>
<path d="M150 187l1-8 1-15 1-3 1 28 1 6 1 0 1 14 1 10 1 34 1 11 1 16 1-10 1-21 1-1 1 5 1 29 1 5 1-15 1-1 1 4 1-3 1 18 1-14 1 5 1 66 1-28 1-9 1 20 1 5 1 20 1 9 1 7 1-12 1-2 1-31 1-11 1-26 1 11 1 1 1-4 1 16 1 17 1 22 1 22 1 2 1-45 1-24 1-18 1 4 1-12 1-3 1-13 1-4 1 24 1 30 1-4 1-16 1 9 1 1 1-1 1 11 1 1 1-7 1 8 1-10 1-9 1 23 1 1 1 26 1 6 1-9 1-6 1 1 1-24 1 12 1 13 1-22 1 9 1-6 1 14 1-8 1 34 1-26 1 3 1-17 1 5 1-12 1-10 1-41 1 13 1 1 1-8 1 34 1-5 1-4 1-17 1 0 1-1 1-9 1 0" vector-effect="non-scaling-stroke"/>
<path d="M150 222l1-1 1-2 1 4 1 20 1-8 1 4 1-14 1 16 1-17 1 15 1-16 1-19 1 0 1 12 1-1 1 24 1 4 1 0 1-12 1 36 1 7 1-4 1-30 1 14 1 6 1 15 1 3 1-4 1-13 1 7 1 18 1 0 1-12 1 8 1 29 1-24 1-14 1 10 1 6 1 9 1-14 1 10 1 16 1 7 1-19 1 15 1 10 1-2 1 18 1-2 1 16 1-13 1-27 1 18 1 1 1-12 1 26 1-9 1-8 1 19 1 0 1-33 1 4 1-5 1 32 1-17 1 19 1 9 1-14 1-32 1 14 1 0 1-15 1 3 1 3 1 3 1 15 1 8 1-33 1-11 1-10 1 13 1-10 1-1 1 24 1-11 1-14 1 13 1-25 1 12 1-11 1-11 1 4 1 4 1 16 1 3 1 10 1-18 1 12 1-8" vector-effect="non-scaling-stroke"/>
<path d="M150 194l1 4 1 1 1 1 1-1 1 18 1 20 1 6 1-4 1 8 1-8 1-13 1 13 1 6 1 12 1-7 1 9 1 0 1 17 1-5 1-7 1 3 1-4 1-2 1-5 1-8 1 0 1 0 1 10 1 1 1 4 1 0 1 7 1 5 1-2 1 7 1 5 1-6 1 6 1 3 1 3 1 2 1 0 1 2 1 2 1-2 1 15 1 4 1-5 1 14 1 10 1-1 1 2 1 3 1-4 1 0 1-10 1-4 1 7 1 1 1 2 1-1 1-1 1-9 1 2 1 2 1 15 1-8 1-5 1-8 1 0 1 5 1 8 1-10 1 5 1-9 1-8 1 8 1-6 1-6 1-1 1 7 1-10 1-6 1-7 1 1 1 4 1 5 1-9 1-5 1 5 1-4 1-5 1 0 1-4 1 9 1-4 1-10 1 4 1 8 1-1" vector-effect="non-scaling-stroke"/>
<path d="M150 209l1-8 1 8 1 4 1-5 1-19 1 22 1-9 1 0 1 38 1-21 1 15 1 2 1 10 1-21 1 45 1-12 1-18 1-19 1-1 1 36 1-24 1 26 1-16 1 0 1 3 1 11 1-8 1-1 1 6 1-13 1-17 1 8 1 22 1 4 1 6 1 8 1 11 1 0 1-5 1 11 1-7 1-13 1 18 1 10 1 0 1 13 1 5 1-2 1 8 1 13 1-3 1 2 1-3 1 16 1-5 1 10 1 17 1-2 1 0 1 7 1 1 1 11 1-41 1 5 1-14 1-9 1-11 1 19 1-8 1-7 1 6 1-7 1 1 1-9 1 5 1-8 1 3 1 4 1-9 1-14 1-14 1 0 1 23 1-4 1 7 1 13 1-24 1-6 1-11 1 9 1 16 1-21 1 9 1 19 1 19 1-14 1-6 1-10 1-9 1 4" vector-effect="non-scaling-stroke"/>
<path d="M150 207l1-8 1 8 1-6 1 3 1-6 1 10 1 11 1-10 1-14 1 2 1 13 1 0 1 13 1 6 1-8 1 9 1 6 1 7 1 0 1 9 1-3 1-1 1-2 1-1 1 0 1 16 1 2 1-9 1 6 1 11 1 15 1 2 1 6 1-1 1 10 1-23 1 17 1 8 1 2 1-9 1 4 1 3 1 2 1 9 1-2 1-15 1 9 1-3 1 4 1 6 1-7 1 10 1 8 1 5 1 8 1 3 1 0 1-8 1 5 1-5 1-7 1-11 1 1 1-2 1 8 1-3 1-7 1 3 1-5 1 2 1 4 1 0 1-5 1-6 1 7 1-12 1-1 1 1 1-5 1 0 1 10 1 2 1 3 1 4 1 2 1-10 1-18 1 6 1-2 1 4 1-11 1-13 1 4 1-3 1-1 1 9 1 3 1-12 1 6 1-2" vector-effect="non-scaling-stroke"/>
<path d="M150 204l1-1 1-6 1-4 1 13 1-2 1 23 1-2 1 12 1-25 1 10 1 5 1-7 1-8 1 14 1 4 1 8 1-3 1 9 1-20 1 26 1 26 1 7 1-3 1-11 1-3 1 0 1 0 1 3 1 8 1 9 1 12 1-8 1-2 1-1 1 14 1 5 1 10 1 11 1 0 1 6 1-6 1-26 1 5 1 16 1-3 1-6 1-3 1-3 1 0 1 7 1 17 1-9 1-6 1 22 1-25 1 9 1 5 1 16 1-10 1-6 1 6 1-18 1 7 1-12 1-11 1 16 1-7 1 5 1 9 1 6 1-4 1 15 1-8 1-4 1-9 1-14 1 2 1-16 1 21 1-16 1-3 1 27 1-21 1 7 1-13 1 13 1 11 1-3 1 2 1-24 1 6 1 3 1 4 1 0 1-17 1-11 1-7 1 23 1 8 1 16" vector-effect="non-scaling-stroke"/>
<path d="M150 188l1-6 1-5 1-1 1 2 1 21 1-13 1 2 1 8 1-4 1 7 1 11 1-5 1 5 1 0 1-6 1 18 1 3 1 23 1-11 1 9 1 23 1 27 1-25 1 9 1 7 1-7 1-8 1 6 1 10 1-13 1 4 1 5 1-7 1 16 1 18 1-2 1 1 1-1 1-5 1 20 1-18 1-9 1 7 1 15 1-20 1 5 1 10 1 3 1 9 1 14 1 16 1-19 1 5 1-13 1 2 1-7 1 6 1-13 1-7 1-4 1 9 1 8 1 1 1 1 1-6 1 25 1-14 1 10 1-15 1 7 1 2 1 14 1-18 1 4 1 4 1-2 1-2 1-7 1-14 1 5 1 0 1-2 1 4 1 3 1-8 1 3 1-1 1-4 1 0 1-5 1 2 1 3 1-2 1-5 1-11 1 14 1-4 1 4 1-22 1 16" vector-effect="non-scaling-stroke"/>
<path d="M150 186l1 12 1 16 1-12 1 5 1-26 1 8 1 16 1-9 1 11 1 9 1 38 1 16 1 15 1-6 1-5 1 2 1 3 1 32 1-18 1-29 1-29 1-18 1-12 1 36 1 13 1-26 1 0 1-13 1 4 1 22 1 21 1 21 1 4 1 11 1-22 1 2 1 2 1-3 1 13 1 2 1-9 1 5 1-13 1 8 1-5 1 33 1-12 1 8 1 8 1 3 1-12 1 9 1-21 1-11 1-7 1 28 1 9 1 4 1 11 1 21 1 1 1-14 1 3 1-23 1-13 1-8 1 9 1 6 1 4 1 6 1 1 1 0 1-23 1 18 1 2 1-16 1 18 1-6 1 4 1-32 1 11 1 8 1-2 1-2 1 14 1 2 1 9 1 0 1 16 1-35 1 9 1-2 1-17 1-19 1 29 1-29 1-6 1-5 1 3 1-13" vector-effect="non-scaling-stroke"/>
<path d="M150 188l1 20 1-8 1 24 1-10 1 26 1 14 1-1 1-19 1-4 1 25 1 7 1-32 1 5 1-10 1 29 1 10 1 0 1 3 1 15 1-18 1 24 1-45 1-7 1-4 1 5 1 6 1 13 1-12 1 9 1 12 1-9 1 36 1-16 1 7 1 6 1 24 1 25 1 13 1-2 1-9 1 4 1-7 1-18 1-11 1-9 1-1 1-7 1-3 1 14 1-5 1-17 1 9 1-30 1 22 1 1 1 29 1-3 1 14 1 2 1-8 1 16 1-13 1-5 1 17 1 3 1 3 1-10 1-24 1-5 1 19 1-6 1 4 1-9 1-23 1-12 1 8 1 20 1 9 1-3 1 19 1-14 1 29 1-20 1-33 1 8 1-29 1 14 1-5 1-4 1 21 1-10 1 7 1 1 1-9 1-5 1-22 1 2 1-7 1-7 1 0" vector-effect="non-scaling-stroke"/>
<path d="M150 173l1 5 1-1 1-7 1 7 1 16 1 16 1-2 1 12 1-7 1 24 1 0 1-9 1-3 1-19 1 7 1-1 1 4 1 8 1 2 1 11 1-7 1-22 1 23 1 5 1 4 1 20 1 0 1 15 1 27 1-16 1-8 1 0 1 17 1 13 1-11 1 16 1-6 1 12 1 11 1 9 1-13 1-9 1 9 1-3 1 6 1-4 1 10 1-9 1-5 1 3 1 9 1 12 1-5 1 8 1-4 1 5 1-13 1-29 1 12 1 4 1 0 1-2 1 16 1-10 1 10 1-16 1-3 1 9 1 3 1 0 1-6 1 11 1-14 1 0 1 3 1-11 1-12 1 11 1-9 1-2 1 5 1 6 1-5 1-11 1 8 1-8 1 1 1-13 1 7 1 24 1 1 1-7 1 4 1-9 1-4 1 9 1 0 1-7 1-28 1-11" vector-effect="non-scaling-stroke"/>
<path d="M150 226l1-3 1-10 1-3 1-3 1-3 1 4 1-4 1 8 1-2 1 10 1 17 1 1 1 1 1-14 1 4 1 8 1 7 1 4 1 15 1-1 1-4 1-5 1 10 1-3 1 5 1-1 1 19 1-12 1 4 1 3 1-5 1 9 1 11 1-11 1 0 1 2 1-1 1 13 1 12 1 10 1 1 1-7 1-1 1-5 1 10 1-1 1 1 1 6 1 1 1-12 1 5 1 4 1 0 1 14 1-1 1-5 1 6 1-5 1-1 1-1 1 1 1 9 1 2 1-8 1-1 1-7 1-8 1 10 1-7 1 14 1 1 1 7 1 0 1-22 1 0 1-11 1 13 1-11 1 10 1-1 1-13 1 0 1-3 1 9 1 9 1-14 1-5 1-3 1 1 1-6 1 5 1-6 1-6 1 5 1-4 1 9 1 9 1 3 1-13 1-9" vector-effect="non-scaling-stroke"/>
<path d="M150 184l1 4 1 8 1 4 1-2 1 4 1 8 1 4 1-5 1-4 1 20 1-4 1 4 1 2 1 6 1 14 1-17 1 9 1 10 1 4 1-16 1-3 1 7 1 16 1-9 1 15 1 1 1 8 1 5 1 4 1-2 1 15 1-9 1 7 1 3 1 0 1 2 1 5 1-3 1 1 1-7 1 0 1 1 1-7 1 2 1 14 1 4 1 11 1 7 1-4 1 0 1 6 1 3 1 10 1-4 1-2 1-2 1-12 1 0 1 1 1 5 1 3 1-3 1 3 1 5 1 2 1-4 1-3 1-3 1-5 1-10 1 6 1 2 1-6 1-9 1-8 1 12 1-13 1 14 1-8 1 8 1-7 1-4 1-5 1 14 1-4 1 1 1-3 1 10 1-25 1 2 1-10 1-2 1 10 1 0 1 8 1-4 1-7 1-3 1 9 1-1" vector-effect="non-scaling-stroke"/>
<path d="M150 182l1 4 1 30 1 1 1-8 1 13 1 22 1-2 1-3 1 9 1-5 1-3 1 5 1 14 1 21 1-28 1 19 1-30 1 23 1-7 1 5 1 4 1 2 1 15 1 7 1-10 1 10 1 5 1 4 1-4 1-4 1-2 1-15 1 28 1 4 1-17 1 1 1-8 1-16 1 12 1 14 1 11 1 4 1 7 1-17 1-1 1 9 1 3 1-3 1 19 1-4 1-1 1 20 1-4 1-5 1-2 1 4 1-13 1-11 1 4 1-6 1-23 1 23 1 4 1 3 1-10 1-9 1-1 1 14 1 10 1 5 1 8 1-18 1 7 1-8 1-12 1-7 1 12 1 23 1 1 1 2 1-8 1-5 1-9 1-12 1-18 1-3 1-3 1 12 1-7 1 34 1 9 1-1 1-21 1-3 1 3 1 10 1 10 1-22 1-5 1-11" vector-effect="non-scaling-stroke"/>
<path d="M150 173l1 11 1 14 1-2 1 20 1 3 1 31 1 8 1 30 1-14 1-11 1 47 1-50 1-29 1 15 1 5 1 7 1 17 1-44 1-33 1 19 1 14 1 16 1 18 1-11 1 8 1-1 1 4 1 13 1 37 1-18 1 5 1 13 1-4 1 24 1 8 1-16 1-5 1 15 1 14 1-12 1-12 1-10 1-34 1 15 1 3 1 44 1-10 1 0 1 33 1-5 1-2 1-18 1-19 1 43 1 10 1-3 1-21 1-22 1-2 1-11 1 14 1 4 1-9 1 19 1-36 1 11 1-20 1 17 1 34 1-15 1-13 1-13 1-26 1 0 1 19 1-1 1 13 1-21 1-13 1-3 1 1 1 2 1 13 1 5 1-8 1-9 1 15 1 40 1-2 1-14 1-47 1-1 1-27 1 4 1 27 1 39 1-27 1-11 1 26 1 16" vector-effect="non-scaling-stroke"/>
<path d="M150 199l1 0 1-8 1-8 1 6 1-16 1 25 1 8 1 9 1 38 1-3 1-19 1-13 1 2 1-4 1 10 1 13 1 34 1 5 1-6 1 2 1-19 1 8 1 3 1-1 1 3 1-9 1 1 1 3 1 8 1-2 1-11 1 23 1-4 1 16 1-9 1 7 1 17 1 1 1 6 1 12 1-8 1 10 1 13 1 2 1-1 1-17 1 22 1-13 1-6 1-11 1 15 1 17 1-14 1 21 1-4 1 3 1-3 1-10 1-5 1-9 1-6 1-7 1-20 1 7 1-7 1-4 1 15 1 5 1 3 1 15 1-36 1-3 1 0 1 5 1 19 1-9 1 4 1-5 1 3 1-16 1 4 1 0 1-4 1-1 1-3 1 5 1-3 1-8 1 24 1-3 1-23 1 29 1-5 1-3 1 2 1-18 1-11 1-2 1-9 1-2" vector-effect="non-scaling-stroke"/>
<path d="M150 189l1 8 1 2 1-2 1 8 1 2 1-12 1-5 1 0 1 22 1-3 1-7 1-15 1 28 1 12 1-1 1-8 1 2 1 3 1 8 1 20 1 22 1-8 1-6 1 1 1-3 1-5 1 7 1-17 1 6 1 14 1 5 1 14 1-7 1 17 1-8 1 9 1 13 1-20 1 8 1-7 1 8 1 9 1 8 1-9 1-4 1 5 1 7 1 1 1-2 1-6 1-2 1 11 1-6 1-9 1 5 1 8 1 5 1-3 1-6 1 10 1 29 1-7 1 10 1-3 1-9 1-1 1 0 1 3 1 2 1-23 1 0 1 10 1-3 1-2 1-7 1 21 1-8 1-7 1 6 1-6 1-14 1-14 1 13 1 6 1-29 1-11 1-3 1-8 1-4 1 11 1 5 1-14 1 9 1 4 1-3 1-1 1-7 1 3 1-13 1-1" vector-effect="non-scaling-stroke"/>
<path d="M150 190l1 6 1 11 1 0 1 6 1 1 1-5 1-8 1 8 1 16 1 7 1 3 1 4 1 12 1-3 1-9 1-6 1-5 1 5 1 6 1 7 1 1 1 2 1 2 1 0 1 4 1 4 1-5 1-1 1 4 1 10 1-1 1 3 1 6 1 6 1 0 1 3 1 4 1 3 1 0 1 3 1 8 1-1 1 5 1 1 1-2 1 10 1-1 1 3 1 1 1 0 1 9 1 4 1 0 1-3 1 3 1 2 1 5 1-3 1-1 1-4 1-3 1-2 1-1 1-5 1 4 1-3 1 3 1 5 1-1 1-4 1-1 1-3 1-1 1 3 1-4 1 2 1-11 1 1 1-4 1 2 1 3 1-5 1-5 1-7 1 8 1 0 1-5 1 5 1-1 1 1 1-4 1-1 1-5 1 2 1-1 1-5 1-2 1 4 1 4 1 2" vector-effect="non-scaling-stroke"/>
<path d="M150 215l1-6 1 10 1 36 1 34 1-35 1 5 1-13 1-9 1-37 1 23 1-25 1-16 1 19 1 70 1 33 1-14 1 24 1-35 1 7 1 4 1 48 1-18 1-26 1-20 1-27 1 6 1-25 1 9 1-9 1 33 1 23 1-28 1 45 1 17 1-11 1 5 1-17 1-24 1-23 1 1 1-2 1 5 1 57 1-17 1-9 1 9 1-22 1-5 1 10 1 35 1 12 1-13 1 0 1-5 1 17 1 19 1-5 1 22 1-17 1-23 1 23 1-22 1 1 1 12 1-32 1-7 1 0 1-4 1 24 1-1 1 45 1 7 1-23 1 43 1 10 1 16 1-23 1-17 1 5 1 3 1-11 1-14 1 20 1-15 1-69 1 5 1 14 1-31 1-38 1 60 1 15 1-13 1 22 1 2 1 1 1 13 1-30 1 6 1 6 1 5" vector-effect="non-scaling-stroke"/>
<path d="M150 222l1-5 1 20 1 10 1-8 1-19 1-11 1-19 1 6 1 11 1 24 1-17 1 7 1 6 1-11 1-27 1 2 1 9 1 7 1 16 1 13 1-5 1 14 1-6 1 34 1-3 1 1 1 9 1-6 1-12 1 34 1-17 1-6 1-8 1-1 1 32 1 4 1 4 1 19 1-8 1-13 1 4 1 10 1 0 1-11 1-2 1 3 1 8 1 3 1 41 1-18 1-7 1 1 1 4 1 5 1 7 1-26 1-4 1 1 1-12 1 17 1 9 1-13 1 25 1-12 1-1 1-8 1-10 1-9 1-3 1 17 1-22 1 8 1 6 1-6 1 0 1-23 1-2 1-6 1 14 1-17 1-3 1 23 1-18 1-10 1 7 1 17 1-19 1 11 1 20 1 16 1-10 1-24 1 14 1 8 1-4 1 25 1-15 1 11 1-11 1-19" vector-effect="non-scaling-stroke"/>
<path d="M150 168l1 9 1 0 1 8 1 21 1 7 1 16 1 11 1-7 1 17 1-29 1 14 1-6 1 8 1 13 1 2 1-3 1-19 1 5 1 34 1-52 1 20 1 2 1 33 1-17 1 20 1-27 1 14 1 18 1 18 1-17 1-6 1 18 1-2 1 10 1 11 1-27 1-16 1 6 1 34 1 3 1 30 1-12 1 5 1-22 1-14 1-9 1 5 1 3 1 10 1 14 1 0 1-8 1 1 1-5 1 0 1 29 1 15 1-19 1-1 1-1 1-13 1 20 1 0 1 9 1-16 1-7 1-25 1-18 1-16 1 17 1-18 1 28 1-7 1-11 1 15 1-3 1 16 1 12 1-4 1-16 1-4 1 24 1-16 1-6 1 17 1 5 1 36 1-14 1-28 1-16 1-2 1 13 1-20 1-3 1 1 1-6 1 1 1 9 1-10 1 0" vector-effect="non-scaling-stroke"/>
<path d="M150 185l1 15 1-5 1 3 1 18 1 15 1 6 1 4 1-22 1 9 1 8 1 8 1 13 1-2 1 10 1 3 1-4 1-23 1 18 1 4 1 9 1-10 1 3 1 6 1-17 1 13 1 7 1 6 1-7 1-19 1 12 1 22 1-28 1 14 1-3 1-13 1 20 1-2 1-7 1 24 1-4 1-11 1 13 1 11 1-13 1 6 1-11 1 8 1 17 1 20 1 9 1-8 1 11 1 0 1-13 1-5 1 12 1-4 1-13 1 11 1-6 1-10 1 3 1 10 1 3 1-13 1-10 1-5 1 20 1-16 1-7 1 14 1 1 1 4 1-2 1-17 1-6 1-10 1-6 1 17 1 7 1 5 1 15 1 22 1-10 1 17 1-6 1-8 1-28 1 6 1 0 1 16 1-5 1-6 1-22 1-13 1-10 1 12 1 8 1 12 1-3" vector-effect="non-scaling-stroke"/>
<path d="M150 230l1 3 1-4 1 3 1-15 1-3 1-3 1-7 1 2 1 4 1 1 1 18 1 17 1-11 1-1 1-14 1-15 1-12 1 3 1 6 1 25 1 21 1 1 1 8 1-2 1 14 1 14 1-6 1-28 1 13 1-12 1 11 1 0 1 9 1-1 1 6 1 24 1-1 1 4 1-11 1 32 1 10 1 6 1-6 1-3 1 3 1 10 1 8 1-8 1-16 1 2 1-9 1 3 1 3 1-11 1 6 1 22 1-5 1 3 1-6 1 6 1-2 1-6 1 5 1-1 1-6 1 3 1-8 1-3 1 3 1-3 1 2 1 1 1-23 1-3 1 8 1-4 1 24 1-17 1-15 1 2 1-4 1 8 1 3 1-4 1 20 1-13 1 5 1 2 1-3 1-38 1 4 1 6 1 19 1-2 1 4 1 0 1 7 1-9 1-9 1-7" vector-effect="non-scaling-stroke"/>
<path d="M150 200l1 8 1-2 1 3 1 4 1 10 1-5 1-25 1-11 1 30 1-7 1-30 1 4 1 23 1 13 1 11 1 18 1-2 1 14 1 1 1-14 1 11 1 12 1-8 1 30 1-3 1-19 1-9 1 35 1 5 1 12 1-7 1 7 1 8 1 20 1-35 1 28 1 3 1-28 1 15 1-19 1-14 1-8 1 12 1 13 1 8 1-9 1-7 1 27 1-3 1-16 1 11 1 3 1-3 1 1 1-2 1 8 1 2 1 18 1 9 1 20 1-22 1-19 1 1 1-3 1-5 1 2 1-5 1-15 1 4 1-14 1 21 1-2 1-3 1-7 1-13 1 4 1 26 1 13 1-32 1-21 1 19 1-20 1 14 1 1 1 9 1-25 1-1 1-4 1 1 1 8 1-3 1 9 1 2 1 2 1 0 1-14 1-19 1 39 1-12 1 2" vector-effect="non-scaling-stroke"/>
<path d="M150 202l1 3 1 9 1-2 1-7 1 0 1-2 1 16 1 6 1-5 1 1 1-2 1 6 1-15 1 1 1-7 1 19 1 2 1 2 1 9 1 6 1 1 1-2 1 12 1-7 1 12 1-3 1-19 1 20 1 10 1 16 1-14 1 10 1-3 1 16 1 14 1 2 1-1 1 5 1 0 1 7 1 7 1 12 1-6 1 11 1-9 1-7 1-5 1 3 1 15 1 0 1-10 1 7 1 16 1-8 1-5 1-3 1 4 1-8 1 11 1-8 1-2 1 11 1-2 1-4 1 2 1 5 1-2 1-23 1-8 1 1 1-10 1-4 1 1 1 6 1-7 1 4 1-7 1 5 1-3 1-4 1-5 1-3 1 12 1 15 1 0 1-4 1-2 1-10 1-4 1-4 1 4 1-1 1 4 1-11 1 17 1-4 1-6 1-8 1 12 1-14" vector-effect="non-scaling-stroke"/>
<path d="M150 203l1-3 1 3 1-10 1 1 1-2 1 5 1 8 1-11 1 9 1-3 1 23 1 8 1 0 1 12 1-9 1-15 1 8 1 13 1 2 1 0 1-5 1 4 1 4 1-8 1 13 1-7 1 17 1 15 1-4 1 16 1-4 1-8 1 2 1-8 1 15 1 1 1 7 1 9 1 4 1 4 1-3 1 9 1 5 1 7 1 7 1 2 1 17 1-2 1-17 1 13 1-6 1-19 1 2 1-1 1 0 1-13 1 5 1-6 1 9 1 5 1-3 1 2 1-4 1-1 1-6 1 8 1 6 1-6 1-2 1 18 1-5 1 12 1-9 1-10 1-19 1 5 1 2 1-1 1 3 1 6 1-3 1 1 1-5 1-2 1 11 1 5 1-2 1-3 1-14 1-20 1 17 1 9 1-17 1-2 1 5 1-7 1-1 1 5 1-8 1 5" vector-effect="non-scaling-stroke"/>
<path d="M150 168l1 16 1 16 1-6 1 35 1 20 1 5 1-15 1-30 1-7 1-2 1 38 1 33 1-11 1 13 1 8 1-18 1-6 1 3 1-12 1-19 1 24 1-16 1 15 1 11 1 0 1-1 1 42 1-27 1-28 1-14 1 3 1-10 1 14 1-2 1-18 1-2 1 27 1-20 1-13 1 13 1 0 1-10 1 36 1 28 1 25 1-27 1 24 1-3 1 35 1-10 1 6 1 20 1 10 1-19 1-32 1 3 1-52 1 37 1 19 1-2 1 11 1 17 1-13 1 4 1-7 1-18 1 14 1 16 1 3 1-27 1 2 1 18 1-23 1-31 1-5 1-4 1 12 1 3 1-21 1 1 1-37 1 4 1 8 1 2 1 28 1-18 1-5 1 1 1 13 1 6 1-3 1-8 1 44 1-12 1-7 1 7 1-2 1 24 1-7 1 21" vector-effect="non-scaling-stroke"/>
<path d="M150 223l1-2 1-2 1 5 1-3 1-30 1-2 1-10 1 2 1 42 1 20 1-15 1 1 1-3 1 1 1-18 1 3 1-15 1 3 1 19 1 14 1 23 1 1 1-19 1 30 1-11 1 5 1 0 1-5 1 6 1 12 1-21 1 8 1 12 1 21 1 9 1 0 1 7 1-31 1-10 1 12 1 12 1 0 1 0 1 14 1 15 1 15 1-5 1 15 1-2 1-1 1 7 1-13 1-16 1-24 1 3 1 11 1 1 1 4 1 5 1-5 1 9 1-13 1-14 1 0 1 16 1-6 1 4 1 4 1 13 1-3 1 21 1-2 1-4 1 11 1-1 1 6 1-20 1 10 1-34 1-7 1-11 1 4 1-17 1 9 1-13 1 6 1-23 1 2 1 25 1 25 1-17 1 4 1-29 1 37 1-4 1-17 1 10 1-7 1-7 1-7" vector-effect="non-scaling-stroke"/>
<path d="M150 163l1 4 1 8 1 5 1 0 1 10 1-30 1 32 1 6 1 8 1 1 1 29 1 24 1 5 1-1 1-18 1-11 1-17 1 27 1 31 1-14 1-20 1-7 1-10 1 8 1 24 1 1 1-12 1-36 1 15 1 14 1 23 1-1 1 4 1 14 1-13 1 20 1 13 1 5 1-20 1-16 1 16 1 32 1 4 1 31 1-26 1-1 1 2 1-8 1 3 1-4 1 7 1 28 1-18 1 4 1 1 1 2 1-11 1 1 1 27 1 0 1-8 1 9 1 3 1-7 1-26 1-17 1 35 1 8 1-1 1 2 1-14 1-21 1 13 1-21 1 14 1-10 1 0 1 17 1 21 1 6 1-29 1-23 1 23 1-36 1 7 1-16 1-28 1-6 1 12 1-3 1 36 1-12 1 30 1-11 1-9 1 22 1-36 1 3 1 26 1-14" vector-effect="non-scaling-stroke"/>
<path d="M150 190l1 9 1 9 1 1 1 4 1 4 1 7 1-6 1-12 1 24 1 1 1 13 1 19 1 14 1-30 1-14 1 5 1-25 1 7 1 13 1-5 1 29 1 4 1 15 1-20 1-2 1 6 1 15 1 15 1-9 1-11 1 13 1 1 1-3 1 6 1 30 1-10 1 11 1 0 1-11 1 13 1 1 1 2 1 7 1-3 1-3 1-7 1 13 1 5 1-9 1 9 1 10 1-4 1-9 1 4 1 4 1-18 1-11 1-3 1-5 1 16 1 5 1-6 1 6 1 1 1-11 1 3 1-6 1 10 1-5 1-1 1-5 1-3 1-16 1 7 1-4 1 4 1-6 1 4 1-8 1-9 1-3 1-7 1 18 1 10 1-5 1-2 1-2 1 5 1-5 1-4 1 12 1 2 1 3 1-16 1-8 1 4 1 7 1-16 1 1 1-17" vector-effect="non-scaling-stroke"/>
<path d="M150 176l1 12 1 24 1-2 1 23 1 12 1-19 1 6 1-6 1 10 1 3 1 9 1 3 1-9 1-4 1-11 1 31 1 11 1-42 1-22 1 8 1 9 1-2 1 19 1-5 1 26 1 4 1 11 1-15 1 11 1 1 1-14 1 21 1 21 1 9 1-25 1 10 1 11 1 17 1-22 1-20 1 7 1-6 1-19 1 17 1 3 1 2 1 3 1-3 1 21 1 20 1-3 1 13 1-27 1-7 1-4 1 26 1-23 1 18 1 25 1 0 1 5 1-12 1-1 1 4 1 6 1-5 1-8 1-4 1 7 1-24 1 0 1-2 1-13 1-3 1 15 1 42 1-11 1-8 1-13 1-4 1 2 1-9 1-12 1 4 1-8 1 1 1 17 1-2 1-12 1 0 1 12 1 4 1-8 1-17 1 13 1 2 1 20 1-7 1-4 1 6" vector-effect="non-scaling-stroke"/>
<path d="M150 173l1 9 1 2 1-1 1-15 1 19 1-22 1 20 1-2 1 2 1 22 1 23 1-24 1-16 1 4 1-18 1 17 1 8 1 6 1-1 1 7 1 15 1 2 1 3 1-14 1 5 1 10 1-4 1 6 1 14 1 21 1 6 1-27 1 16 1 13 1 5 1 3 1 27 1 4 1-1 1 19 1-3 1-23 1-10 1 15 1-5 1-8 1 18 1-4 1 13 1 2 1-3 1 5 1 7 1-8 1-8 1 4 1 3 1 13 1 23 1-15 1-6 1 0 1 7 1-13 1-11 1 4 1-9 1-20 1 5 1 3 1 40 1-2 1-15 1 14 1-3 1-12 1-1 1-11 1-2 1-1 1 6 1-15 1 14 1-4 1 4 1-4 1 2 1-1 1-26 1-26 1-4 1 11 1 18 1 7 1 10 1 13 1-13 1 12 1-7 1 11" vector-effect="non-scaling-stroke"/>
<path d="M150 184l1 9 1 5 1-6 1 1 1 13 1 10 1 0 1 9 1-10 1 1 1-8 1-1 1 0 1 2 1-5 1 4 1 13 1 11 1 23 1 15 1 11 1 11 1 8 1 13 1 2 1-12 1-7 1-4 1-6 1-5 1 0 1 9 1-6 1 16 1 14 1-32 1 3 1 18 1-10 1-2 1 4 1 6 1 2 1 8 1-17 1 26 1 14 1 1 1-17 1-5 1-5 1-9 1-4 1-1 1 19 1 4 1 9 1 1 1-3 1-6 1 1 1 17 1 14 1 18 1-2 1-18 1 9 1 0 1-4 1-5 1 9 1-8 1 7 1-10 1-21 1 4 1-9 1-2 1-9 1 6 1 1 1-6 1 9 1 19 1-10 1-6 1 6 1-3 1-16 1-7 1 13 1-6 1 0 1-10 1-2 1 2 1-1 1-13 1-5 1-7" vector-effect="non-scaling-stroke"/>
<path d="M150 211l1 3 1-25 1-3 1 14 1-2 1 17 1-2 1 26 1-7 1-3 1-15 1 8 1-11 1 6 1 8 1-2 1 1 1-37 1 39 1-15 1 16 1-4 1-26 1 42 1 30 1-7 1 20 1 23 1 8 1-46 1 22 1-4 1 10 1-14 1-14 1 16 1-8 1 1 1-4 1 11 1 2 1 24 1 13 1 12 1 2 1 8 1 2 1-48 1 8 1 10 1 20 1 16 1-7 1-6 1-9 1 20 1 8 1-14 1 20 1-7 1 13 1-19 1 8 1-7 1-24 1-1 1-7 1-7 1 12 1-4 1-13 1-16 1-22 1 27 1 2 1 5 1-14 1 32 1 7 1 13 1-33 1-15 1-16 1 19 1 7 1 1 1-9 1 30 1-9 1-11 1 29 1-37 1-10 1 19 1-37 1-19 1 13 1-4 1 5 1-3" vector-effect="non-scaling-stroke"/>
<path d="M150 188l1 19 1 8 1-4 1 19 1-10 1 18 1-11 1-23 1 37 1-32 1-2 1-7 1 16 1 5 1-27 1 21 1 35 1 1 1 16 1 3 1-5 1-1 1-13 1 2 1 3 1 30 1-35 1 36 1 10 1-26 1 25 1 73 1-22 1-8 1-25 1-21 1-26 1 31 1 4 1-29 1 10 1-9 1 19 1-15 1-7 1-3 1 17 1 6 1-14 1 7 1 33 1 13 1 4 1-18 1 13 1-20 1-27 1 33 1 10 1-24 1 31 1-10 1 24 1-8 1 8 1-9 1 10 1-5 1 6 1-37 1-40 1 3 1 3 1 26 1-6 1 2 1-35 1 19 1-27 1 9 1-16 1 14 1-11 1-14 1 47 1 8 1-2 1 7 1-19 1 0 1 7 1 16 1-24 1 14 1 24 1-40 1 4 1-30 1-2 1 16" vector-effect="non-scaling-stroke"/>
<path d="M150 191l1 8 1 11 1-2 1-5 1 2 1 6 1 4 1 0 1 8 1 7 1-4 1 2 1 1 1 0 1-8 1-1 1 10 1 15 1 0 1 8 1-7 1 16 1 7 1 1 1-4 1 19 1 16 1-8 1-7 1-10 1-4 1 11 1 14 1 8 1 0 1-7 1-3 1-2 1 15 1 6 1 5 1-12 1 11 1-3 1 10 1 7 1-10 1 12 1 10 1 2 1-7 1 2 1-11 1 0 1 4 1 0 1-7 1 4 1 5 1-7 1-13 1 1 1 16 1-2 1-5 1 0 1 6 1-10 1-6 1-4 1 5 1 1 1 4 1-3 1 2 1-2 1-4 1-5 1 1 1 10 1-18 1-6 1 0 1 0 1 14 1 3 1-7 1 1 1-5 1 4 1-7 1-7 1-8 1-2 1 5 1 5 1-3 1-3 1-4 1-8" vector-effect="non-scaling-stroke"/>
<path d="M150 202l1-4 1 1 1 3 1 7 1 7 1-1 1 6 1 17 1-5 1 2 1 6 1 4 1 17 1-5 1 8 1-21 1 7 1 4 1-1 1-13 1-6 1 26 1 0 1-5 1-3 1 15 1 9 1-27 1 2 1 4 1 11 1 15 1-5 1 8 1-3 1-8 1 9 1 6 1 9 1-3 1 10 1 0 1 3 1-9 1-2 1 10 1 18 1 2 1 5 1-11 1 17 1-4 1 0 1 7 1-6 1 4 1 5 1 6 1-3 1-6 1 0 1 10 1-23 1-2 1-4 1-5 1 2 1 3 1 9 1 4 1 4 1-3 1 10 1-3 1-12 1-5 1-3 1 2 1-16 1 4 1-10 1 0 1-12 1 1 1-8 1 6 1 5 1 9 1 16 1 1 1-13 1-9 1-3 1-2 1-6 1 2 1-9 1-14 1-5 1 6" vector-effect="non-scaling-stroke"/>
<path d="M150 199l1-1 1 1 1-3 1 6 1-2 1-5 1 11 1 6 1 6 1 6 1-3 1-11 1-2 1 9 1-2 1 7 1 10 1 6 1 0 1-1 1 14 1-8 1-7 1 14 1 3 1-2 1-7 1 8 1-3 1 5 1-5 1 21 1 24 1-5 1 1 1 16 1-5 1 1 1-5 1-2 1 6 1 8 1-6 1 12 1 2 1 3 1 0 1 1 1-14 1 13 1 13 1-7 1 1 1 2 1-6 1 13 1 2 1-5 1 7 1-5 1-4 1 0 1-1 1 8 1 0 1-4 1 3 1-1 1-3 1-15 1 0 1-5 1-6 1-2 1 14 1 4 1-6 1 5 1-1 1 0 1-7 1 15 1-4 1 10 1 2 1-4 1-9 1 4 1 6 1-5 1-10 1-7 1-12 1-6 1-10 1-3 1 2 1 7 1-8 1-5" vector-effect="non-scaling-stroke"/>
<path d="M150 198l1 12 1 4 1-13 1 10 1-19 1 3 1 22 1 15 1 17 1 4 1 9 1 9 1-37 1 7 1 12 1-3 1-11 1-29 1 16 1 14 1 8 1 1 1 13 1-12 1-7 1-21 1-8 1 13 1-3 1 18 1 8 1-1 1 0 1 7 1 25 1-15 1 3 1 22 1-30 1 12 1-9 1 15 1 33 1 8 1-5 1-5 1 18 1-3 1-12 1 4 1 13 1 12 1-18 1 1 1 17 1-11 1 9 1 19 1-29 1 3 1-18 1 18 1 13 1-5 1 2 1-11 1 5 1 4 1-4 1 17 1-14 1-2 1 1 1 13 1 12 1 15 1-24 1-29 1 1 1-1 1-8 1-33 1-5 1-9 1 0 1 8 1 8 1-6 1-12 1-11 1-10 1 13 1 29 1 13 1-37 1 8 1-24 1 20 1 24 1-7" vector-effect="non-scaling-stroke"/>
<path d="M150 165l1 9 1 1 1-1 1 18 1 7 1 11 1 19 1-1 1-2 1-18 1 11 1 23 1-15 1 18 1-14 1-2 1-25 1 8 1 11 1 21 1 31 1-16 1 1 1 34 1-10 1-26 1 12 1 20 1-1 1-13 1-10 1-2 1 28 1 4 1 6 1-8 1-14 1-9 1-4 1 7 1 0 1 17 1 17 1 7 1 9 1-9 1-27 1 40 1-1 1-4 1 12 1-23 1 11 1 17 1 1 1-19 1-4 1-4 1 2 1 0 1-18 1 14 1 9 1 16 1 1 1-14 1-15 1-11 1-6 1 14 1-6 1-14 1 21 1 3 1-20 1 8 1 8 1-12 1 1 1 17 1-9 1-7 1 21 1 3 1 2 1 0 1-2 1-6 1-6 1-15 1-1 1 16 1-24 1 3 1-13 1 24 1 1 1-6 1 6 1 19" vector-effect="non-scaling-stroke"/>
<path d="M150 185l1 27 1 16 1 3 1 1 1-31 1-1 1 4 1 12 1 16 1-31 1-5 1-18 1 17 1 22 1 1 1-5 1-32 1-43 1 16 1-13 1 25 1-12 1 14 1 40 1-10 1 56 1 1 1 28 1 28 1-14 1 16 1-16 1-7 1-14 1-16 1 12 1 3 1-22 1 33 1-13 1-8 1-10 1 40 1 30 1-33 1 11 1 21 1-10 1 11 1 15 1-18 1-12 1 0 1 27 1 33 1-3 1 11 1-27 1 10 1 7 1-5 1 9 1-2 1-16 1-34 1-9 1 2 1 9 1-11 1 29 1 15 1 3 1-8 1-24 1 16 1-39 1 32 1 12 1 3 1-14 1 23 1-50 1 19 1-2 1-5 1-6 1 21 1-14 1-25 1 41 1-3 1-21 1 20 1-34 1 20 1-3 1-6 1 15 1-32 1-16" vector-effect="non-scaling-stroke"/>
<path d="M150 184l1 5 1 12 1-1 1 3 1 6 1 2 1-1 1-1 1 14 1-2 1-1 1 13 1 5 1-2 1-19 1 11 1-4 1 14 1 3 1 9 1-3 1 1 1 10 1 12 1-7 1-1 1 1 1-13 1 12 1 19 1 5 1 3 1-11 1 9 1 8 1 6 1 12 1 9 1 8 1-9 1 5 1-8 1-3 1 4 1 3 1 2 1-8 1-4 1-1 1-7 1 8 1 7 1 13 1 0 1-5 1-14 1-1 1-4 1 7 1-1 1 11 1 19 1 3 1-11 1-7 1 8 1-7 1-10 1 8 1-10 1-3 1 15 1-11 1 2 1 5 1-2 1-9 1 2 1 1 1 4 1-2 1-12 1-4 1-9 1 3 1-13 1-7 1 13 1-1 1 12 1-3 1-2 1-8 1-16 1-2 1 3 1-2 1-1 1 0 1 17" vector-effect="non-scaling-stroke"/>
<path d="M150 209l1 5 1-7 1-1 1 15 1 18 1 32 1-28 1 14 1 24 1-7 1-6 1 0 1-16 1-4 1 0 1-8 1 16 1-13 1 23 1-14 1-10 1 12 1-5 1-4 1-17 1 3 1-5 1-3 1 22 1-28 1 24 1 15 1 1 1-1 1 12 1 30 1 6 1 1 1 28 1-27 1 18 1-2 1 3 1-10 1 4 1-4 1-21 1 13 1-10 1 26 1 0 1-9 1 21 1-12 1-14 1 19 1-13 1 6 1 16 1 9 1-15 1-1 1-16 1-4 1 7 1 26 1-16 1 0 1 22 1-15 1 8 1-5 1 10 1-16 1-21 1 13 1 0 1-23 1 23 1 1 1-29 1 2 1 5 1-27 1 19 1 14 1 23 1-14 1-5 1 14 1-17 1-4 1-6 1 17 1-10 1-6 1 3 1-4 1 17 1 6" vector-effect="non-scaling-stroke"/>
<path d="M150 209l1-4 1-3 1 7 1 1 1-2 1-1 1 8 1 1 1 9 1-6 1 9 1-3 1 0 1 1 1 12 1-15 1 10 1 14 1 3 1-1 1-7 1 13 1-3 1 16 1-13 1 10 1 0 1 9 1-6 1-9 1 5 1 15 1-16 1-6 1 18 1 1 1-6 1 23 1 18 1-9 1-2 1-2 1 0 1 16 1 4 1-8 1 16 1 8 1-8 1 2 1 6 1-2 1 2 1-4 1-11 1-1 1 16 1-7 1 13 1-1 1-11 1 20 1-19 1 11 1-8 1 13 1-4 1 17 1-13 1 10 1-18 1-3 1-9 1-1 1 3 1-7 1-3 1 2 1 1 1 3 1-9 1-4 1 4 1 0 1-4 1 18 1-4 1 2 1-12 1-8 1-1 1-3 1-7 1-13 1 19 1 0 1 2 1 1 1 1 1 3" vector-effect="non-scaling-stroke"/>
<path d="M150 195l1 11 1 17 1-11 1 6 1-4 1-25 1 8 1 30 1 14 1 0 1-19 1-11 1-7 1 11 1 9 1 7 1 6 1 25 1 8 1 8 1-9 1 4 1-6 1-4 1-7 1-2 1-11 1 25 1 3 1 23 1-10 1 1 1 11 1 4 1-2 1-10 1 37 1-7 1-4 1 4 1 18 1-9 1 17 1 11 1-16 1 0 1 0 1-4 1-9 1 20 1-26 1 1 1-14 1 1 1 10 1 1 1 13 1 8 1-19 1 15 1 16 1 2 1-21 1-14 1 7 1-7 1 12 1-17 1-6 1 9 1-15 1 8 1-7 1 18 1 6 1-8 1 4 1-19 1 6 1 11 1-15 1-11 1 6 1 5 1 9 1 1 1 14 1-29 1-2 1-3 1-14 1-15 1 5 1 0 1-13 1 7 1-7 1 18 1 16 1-10" vector-effect="non-scaling-stroke"/>
<path d="M150 202l1-1 1 10 1 2 1-1 1-4 1 2 1 5 1 6 1-9 1 5 1-1 1 11 1 12 1 8 1-9 1-23 1 15 1 15 1-1 1 7 1-11 1 6 1 2 1 5 1-5 1 15 1-7 1-5 1-15 1 3 1 20 1 6 1-4 1 17 1 10 1-8 1 1 1 9 1 2 1 4 1 1 1-3 1 1 1 2 1 8 1 0 1 14 1 3 1 1 1 0 1-5 1-2 1 6 1 6 1-1 1 4 1-2 1 6 1-1 1-12 1 0 1-3 1-4 1-14 1 8 1-1 1 4 1 0 1-1 1 8 1 5 1-1 1-5 1 9 1-2 1-12 1 2 1 8 1 0 1-6 1-2 1-5 1-4 1-10 1 10 1-1 1-1 1 9 1 5 1-10 1-1 1-6 1-7 1 0 1 4 1-6 1-21 1-3 1-1 1 2" vector-effect="non-scaling-stroke"/>
<path d="M150 194l1 1 1 12 1-1 1 1 1-1 1 33 1 39 1-26 1-12 1-10 1 30 1-21 1-3 1-25 1 16 1-20 1-24 1 13 1 35 1 28 1-29 1 40 1-44 1 1 1 0 1 41 1 1 1-41 1 23 1-10 1 21 1 5 1 7 1 5 1-7 1 6 1-11 1-1 1 25 1 25 1 11 1-17 1 0 1 57 1-4 1 7 1-10 1-37 1 23 1 2 1 3 1-11 1 38 1-22 1 1 1 3 1-16 1 20 1-6 1-4 1-34 1-2 1 9 1-26 1 26 1-12 1-4 1 1 1 2 1 42 1-17 1-21 1-21 1 18 1-2 1-8 1-1 1-26 1 26 1-29 1 12 1-6 1 18 1-12 1 2 1 2 1 18 1 10 1 4 1-24 1 20 1-14 1 23 1-8 1 27 1-18 1-9 1-34 1 13 1 2" vector-effect="non-scaling-stroke"/>
<path d="M150 193l1-2 1-5 1-7 1 20 1-4 1-4 1-3 1 28 1-15 1 33 1 2 1 8 1-27 1-16 1 23 1-5 1 0 1 18 1-8 1 4 1 26 1-5 1 20 1 8 1-13 1 10 1 11 1 13 1 19 1 5 1-22 1-12 1-6 1-4 1 0 1 19 1 17 1 11 1 6 1-34 1-16 1-8 1 16 1-1 1 29 1-6 1-1 1 21 1-4 1-18 1 2 1-2 1 20 1 23 1 6 1 10 1-10 1-20 1 6 1 0 1-13 1 11 1-31 1 34 1-24 1-5 1 12 1-36 1 9 1-22 1 9 1-5 1 3 1 0 1-8 1 28 1 11 1 1 1-26 1 5 1-1 1 4 1-13 1 14 1-12 1-2 1 13 1 4 1-1 1 18 1-14 1-18 1 15 1-32 1-5 1-14 1-2 1 14 1 3 1 9" vector-effect="non-scaling-stroke"/>
<path d="M150 222l1-6 1-8 1-8 1 10 1 26 1 22 1-1 1-2 1-9 1 26 1-21 1 1 1-7 1 19 1-8 1-17 1-14 1 9 1-10 1 2 1 0 1 8 1 26 1 9 1 10 1-15 1 19 1 21 1-25 1-12 1-19 1 34 1-19 1-5 1 10 1 18 1 3 1 4 1 20 1-2 1-16 1-9 1-9 1 37 1-11 1 3 1 15 1 15 1 39 1-20 1-42 1-23 1 21 1-3 1 10 1-11 1 4 1 13 1 21 1 8 1-15 1-2 1 25 1 1 1-9 1-1 1-23 1 13 1-39 1-6 1 30 1-3 1-12 1 6 1-8 1 1 1-5 1 7 1-15 1 6 1-9 1-3 1-12 1 7 1-4 1 9 1 15 1 18 1-8 1-21 1-2 1-11 1-3 1 6 1 14 1-29 1 22 1 1 1 2 1-2" vector-effect="non-scaling-stroke"/>
<path d="M150 161l1 7 1 5 1-7 1 22 1 11 1 30 1 8 1-13 1-24 1-9 1 20 1 3 1-1 1 21 1 31 1-19 1 8 1 16 1 21 1-15 1-46 1-14 1 6 1 12 1 10 1 10 1-11 1-3 1 8 1-1 1-10 1 4 1-18 1-2 1 31 1-12 1 8 1 13 1 28 1 13 1-10 1 23 1-14 1-15 1 44 1 27 1-14 1-8 1 8 1-7 1 8 1-1 1-11 1 9 1-1 1 11 1 3 1-26 1 15 1 3 1-18 1 15 1-25 1 0 1-4 1-22 1 2 1-14 1 8 1 21 1 32 1 14 1-20 1-23 1 6 1 13 1 5 1-19 1-8 1-3 1-7 1 6 1 13 1-9 1-12 1-15 1-7 1 22 1 20 1 19 1-23 1-6 1-3 1-11 1-1 1-4 1-18 1 27 1-2 1-18" vector-effect="non-scaling-stroke"/>
<path d="M150 181l1 4 1 2 1 9 1 4 1-18 1 16 1-5 1 1 1-6 1-10 1-3 1 18 1 5 1 6 1 10 1 6 1 6 1 2 1 11 1-4 1 15 1 16 1 16 1-2 1-3 1 0 1 4 1-4 1-9 1 2 1-14 1-4 1 3 1 7 1 8 1 18 1 2 1-1 1-2 1 14 1 3 1-6 1 9 1 10 1-15 1 0 1 8 1-5 1 13 1 8 1 4 1 9 1 3 1-3 1 0 1-9 1-4 1-6 1 7 1 15 1 1 1-6 1-16 1 5 1-10 1 5 1 16 1-6 1-11 1 1 1 4 1 7 1 2 1-6 1-13 1-15 1-12 1 11 1-2 1 4 1-2 1 14 1-7 1 7 1 8 1-18 1-8 1 4 1-11 1 6 1 13 1-22 1-2 1-1 1 11 1-1 1-5 1 6 1 5 1-3" vector-effect="non-scaling-stroke"/>
<path d="M150 163l1 15 1 9 1 18 1 5 1 11 1-12 1-15 1-13 1-2 1 9 1 20 1 6 1-2 1-7 1 22 1-1 1-25 1 27 1 3 1 15 1 8 1 1 1-17 1 10 1 16 1 6 1 2 1 4 1 25 1-20 1-1 1 9 1 9 1-6 1 3 1 19 1 5 1 6 1 9 1 10 1-9 1-7 1-9 1 23 1-14 1-10 1 8 1 26 1-3 1 4 1-10 1 18 1-1 1 7 1-12 1 2 1 12 1 1 1-13 1-6 1-26 1-5 1 8 1 7 1 23 1 6 1-14 1-10 1-22 1-19 1 7 1-6 1 3 1 10 1-9 1-3 1 10 1 6 1-15 1-13 1 14 1 12 1-20 1 13 1-18 1-16 1-6 1 3 1 11 1 13 1-2 1 15 1 12 1-13 1 8 1-12 1 5 1-18 1 4 1 9" vector-effect="non-scaling-stroke"/>
<path d="M150 178l1 12 1-1 1 11 1 0 1 5 1 32 1-2 1 8 1 6 1 8 1-11 1-20 1-4 1 7 1 12 1 2 1 5 1-11 1-9 1 1 1-10 1 19 1 12 1 8 1 19 1 26 1 9 1-14 1-10 1-19 1-4 1 12 1 23 1-13 1 1 1 12 1 10 1-20 1 12 1 5 1 3 1 16 1 16 1-10 1-12 1 8 1-9 1 1 1 3 1-8 1 13 1-7 1 2 1 4 1 19 1-22 1 8 1 1 1-2 1-28 1 2 1 6 1 21 1 14 1 1 1-5 1-22 1-21 1-12 1 0 1 15 1-1 1-11 1 5 1 16 1-13 1-16 1 15 1 0 1-1 1 10 1 1 1-3 1-17 1 6 1-1 1 3 1 10 1-14 1 5 1-6 1 18 1 4 1-1 1 0 1-21 1-8 1 5 1-11 1 6" vector-effect="non-scaling-stroke"/>
<path d="M150 202l1 4 1 2 1 1 1 14 1 5 1-27 1 0 1-2 1 4 1 0 1 11 1 11 1 4 1-6 1 8 1 9 1 19 1-7 1 9 1-1 1-13 1 6 1-2 1 2 1 4 1-9 1 5 1 9 1-6 1 14 1 4 1 0 1 3 1-9 1 1 1 9 1-3 1-5 1-5 1 17 1 16 1-3 1 0 1 8 1 16 1-6 1 5 1 13 1 1 1 0 1 7 1-15 1-4 1-21 1 8 1 0 1 6 1 20 1-7 1 7 1-4 1-6 1 4 1-7 1 6 1-2 1 12 1 3 1-8 1 15 1-1 1-4 1-7 1-12 1-4 1-5 1 8 1 7 1-4 1-17 1 6 1 7 1-16 1-17 1-10 1-2 1 8 1 0 1-11 1 24 1 11 1-6 1-11 1-3 1-1 1-1 1-11 1-1 1 16 1-8" vector-effect="non-scaling-stroke"/>
<path d="M150 197l1 2 1 5 1 2 1-1 1-5 1 0 1 13 1 2 1 2 1-4 1 10 1 2 1 3 1 15 1-5 1 22 1-10 1 6 1 17 1-9 1 9 1-17 1-4 1 18 1-2 1 12 1 5 1 4 1-1 1-6 1 5 1-3 1-9 1-4 1 10 1-7 1 1 1 5 1 19 1-2 1-8 1-2 1 18 1 5 1 12 1 8 1 8 1 4 1 0 1-6 1-2 1 13 1-10 1 15 1-13 1 3 1-11 1-6 1-7 1 11 1 3 1 5 1 8 1-9 1-13 1 2 1-14 1 3 1-2 1 5 1 11 1 7 1-7 1-8 1 2 1-3 1-11 1 0 1 2 1 4 1 0 1 0 1 2 1-4 1-10 1-14 1 18 1 4 1-3 1-3 1-5 1 1 1-6 1-1 1 8 1-8 1 4 1-4 1-9 1 2" vector-effect="non-scaling-stroke"/>
<path d="M150 185l1 8 1-10 1-4 1 0 1 13 1 11 1-7 1 2 1 4 1 2 1-18 1 6 1 26 1 14 1-13 1-1 1 13 1 10 1-5 1 16 1 9 1-9 1-5 1 3 1 11 1 9 1-9 1-11 1-4 1 0 1 2 1 1 1 24 1-15 1 17 1-4 1 10 1-13 1 5 1 9 1 8 1 16 1 5 1 4 1 3 1-1 1-7 1 16 1-6 1 11 1-3 1 14 1-13 1-2 1 1 1 13 1 2 1-2 1-22 1-16 1 12 1-1 1-1 1 10 1-3 1 10 1 1 1 4 1-7 1-4 1 11 1 11 1-12 1-7 1 13 1-6 1-3 1 1 1-9 1-2 1 7 1-18 1-8 1 8 1 8 1-10 1-9 1-2 1 6 1-3 1-6 1 6 1-5 1 18 1-12 1 3 1-6 1-19 1-20 1 15" vector-effect="non-scaling-stroke"/>
<path d="M150 180l1 9 1 14 1 6 1 15 1-11 1 15 1 1 1 20 1 11 1-16 1 11 1 1 1-5 1-8 1 3 1 27 1 0 1 4 1 35 1-43 1-14 1-25 1-24 1 42 1 12 1-7 1 6 1 3 1-6 1-17 1 19 1 4 1 27 1-7 1-8 1-32 1-4 1 26 1 10 1 26 1-21 1-3 1-2 1 3 1 8 1-2 1 6 1 14 1-8 1 1 1-5 1 37 1-6 1 13 1 7 1 5 1 5 1-8 1-11 1 5 1 3 1-18 1-4 1-20 1 33 1 5 1 3 1-9 1-17 1-7 1-2 1 2 1 11 1-9 1 25 1-7 1-5 1 4 1-5 1 18 1-13 1 15 1-23 1-6 1-23 1 19 1 2 1-15 1 1 1 16 1 7 1 12 1-28 1-12 1 14 1 26 1-30 1 16 1-27 1 1" vector-effect="non-scaling-stroke"/>
<path d="M150 223l1 5 1-6 1-4 1 0 1 6 1-7 1 7 1-6 1-3 1 20 1-4 1 16 1 0 1 1 1 2 1 17 1-1 1 7 1-7 1 0 1-2 1-3 1-16 1 9 1 2 1 4 1 11 1 9 1 7 1-3 1 9 1 6 1-10 1-10 1-2 1-1 1 3 1 4 1 2 1 16 1-7 1 1 1 26 1-8 1 5 1-3 1 3 1-8 1-5 1 2 1 15 1 3 1 4 1 12 1 9 1-7 1 0 1-13 1 2 1 9 1 0 1-10 1-3 1-5 1 2 1 1 1-11 1-2 1-12 1 10 1-12 1-10 1-4 1 1 1 2 1 20 1-4 1 11 1 1 1-12 1-3 1-2 1 2 1 2 1-5 1-4 1-11 1 12 1-7 1-2 1-5 1-2 1 1 1 2 1 11 1 13 1-15 1 3 1-15 1-2" vector-effect="non-scaling-stroke"/>
<path d="M150 237l1-6 1 11 1 15 1-11 1 9 1-9 1-54 1 27 1 11 1 1 1 12 1 2 1-1 1-16 1 3 1-17 1 9 1 10 1-24 1 4 1 4 1-6 1 6 1 25 1-35 1 58 1-17 1 3 1 1 1-2 1 17 1 16 1-9 1 10 1 10 1 14 1 10 1 26 1-7 1-20 1-11 1 16 1 7 1-25 1 11 1-14 1 31 1-11 1-15 1-10 1-2 1-5 1 19 1 15 1-8 1 6 1 11 1-31 1 22 1-24 1 23 1-14 1-5 1-4 1 19 1 18 1-16 1 4 1 4 1-1 1 3 1 4 1-4 1 8 1-25 1-34 1-1 1 19 1 6 1-10 1-7 1 17 1 1 1-13 1 11 1-18 1 21 1-1 1-23 1 13 1 10 1-5 1 13 1 0 1 1 1 1 1 3 1-5 1 11 1-38" vector-effect="non-scaling-stroke"/>
<path d="M150 194l1 19 1 0 1 17 1 11 1-2 1 22 1-63 1 8 1-42 1 4 1 16 1-11 1-32 1 11 1-11 1 35 1 40 1 44 1-5 1 2 1-25 1-12 1 19 1 7 1 10 1 13 1 9 1-19 1 36 1-3 1 10 1-7 1-12 1-9 1 11 1 1 1-4 1 10 1 3 1 19 1-3 1 5 1-3 1 21 1-2 1-20 1 7 1 18 1 5 1-21 1 8 1 11 1 10 1-20 1 4 1-5 1 3 1 22 1 8 1-30 1-16 1 19 1-20 1-22 1 17 1-4 1 7 1 7 1 16 1-8 1 5 1 9 1-35 1 26 1 20 1-19 1 6 1-8 1-32 1 11 1 1 1-1 1-4 1 14 1-5 1 26 1-23 1-20 1-1 1-2 1 11 1 1 1 32 1 12 1-41 1 30 1-12 1-17 1 4 1-34" vector-effect="non-scaling-stroke"/>
<path d="M150 217l1-13 1-13 1 9 1 19 1 21 1-6 1-24 1-21 1 2 1 19 1 22 1 9 1-4 1-9 1 8 1-27 1-4 1 1 1 23 1-5 1 15 1-5 1 5 1 3 1-18 1-12 1-27 1 11 1 20 1 38 1 28 1 23 1-23 1-12 1-11 1 22 1 24 1 28 1-4 1-6 1 2 1-27 1 32 1-13 1 28 1-9 1-2 1-2 1 13 1 3 1-11 1 18 1 2 1 1 1-28 1 7 1 10 1-17 1-18 1 1 1 3 1 14 1-18 1-2 1-9 1 4 1-3 1 16 1 37 1 5 1-20 1-5 1-23 1 16 1 4 1-16 1 8 1 10 1-18 1 1 1 14 1 10 1 6 1-20 1 14 1-14 1 15 1-26 1 17 1-47 1-21 1-5 1 3 1 14 1-12 1 18 1 1 1-7 1 0 1 9" vector-effect="non-scaling-stroke"/>
<path d="M150 180l1 13 1 7 1-3 1 10 1 0 1-10 1 16 1-3 1-3 1 8 1-12 1 42 1-3 1-2 1-12 1-5 1 9 1 7 1-20 1 45 1-15 1 1 1-18 1-7 1-16 1 20 1 9 1 22 1-18 1 8 1 0 1 18 1 6 1 3 1-10 1 28 1 33 1-19 1 8 1-6 1-15 1 5 1 20 1-13 1-7 1 3 1 5 1 28 1 2 1-2 1 15 1-6 1-2 1-16 1-4 1 5 1 15 1-5 1 10 1-20 1 10 1-13 1 5 1-4 1-5 1 13 1-21 1-16 1 13 1-13 1 10 1 21 1-12 1-29 1 25 1-5 1 15 1-21 1 2 1 9 1-6 1-14 1-22 1 28 1 3 1-13 1 25 1 9 1 1 1-4 1-1 1-12 1 2 1 19 1-2 1-7 1 2 1-9 1 8 1-11" vector-effect="non-scaling-stroke"/>
<path d="M150 161l1 5 1 11 1 14 1 41 1 6 1-31 1-9 1-30 1-21 1 8 1 27 1 36 1 14 1 27 1-17 1-16 1-15 1-27 1 44 1 17 1 44 1 15 1-1 1-34 1 7 1 15 1 15 1-17 1-6 1 10 1 34 1-16 1-33 1 4 1-26 1 21 1 35 1 2 1-20 1-31 1-16 1 39 1 25 1 15 1 25 1 2 1-22 1-12 1-12 1 4 1-11 1 7 1 32 1-16 1 11 1 0 1 5 1-7 1-5 1 12 1-48 1 16 1-34 1 20 1 2 1-14 1 32 1-43 1 3 1 21 1 9 1 5 1 16 1 21 1-24 1-4 1-8 1 29 1 7 1 16 1-24 1 7 1-1 1-40 1 7 1-14 1-5 1-27 1 33 1 9 1 26 1-23 1-9 1-2 1-4 1-1 1-9 1-5 1 24 1 33" vector-effect="non-scaling-stroke"/>
<path d="M150 234l1 15 1-11 1 7 1-45 1 0 1-11 1 8 1 11 1 19 1-29 1-4 1 50 1-41 1 16 1 6 1 12 1-27 1 2 1-10 1 22 1 39 1 68 1-33 1-44 1 2 1 67 1 29 1-12 1-22 1-37 1-32 1 8 1 35 1-20 1 13 1 19 1-2 1-40 1 26 1 31 1-8 1-5 1-41 1 28 1 22 1-7 1-1 1 22 1-6 1-19 1-8 1 6 1 2 1 1 1 14 1 15 1-24 1 11 1 44 1 2 1-12 1-28 1-22 1 21 1 0 1-35 1-11 1 30 1-30 1 4 1-26 1-4 1 52 1 22 1-17 1-11 1 15 1 22 1-21 1-24 1 36 1-16 1 6 1-6 1 0 1-18 1 16 1-3 1-8 1 16 1-34 1 39 1-62 1-10 1-37 1 19 1-7 1 54 1-8 1-9" vector-effect="non-scaling-stroke"/>
<path d="M150 208l1-1 1-5 1-10 1-3 1 4 1 12 1 1 1 29 1-14 1-7 1 1 1 28 1-7 1-6 1 8 1 18 1 2 1 14 1 12 1-18 1 24 1 24 1-2 1-23 1 8 1 19 1-22 1 22 1-6 1-22 1 19 1 28 1-15 1 15 1-4 1 6 1-14 1 25 1-21 1-7 1-10 1 18 1-9 1-6 1 15 1-3 1-24 1 3 1-15 1 24 1 30 1 4 1-27 1-9 1-2 1 25 1 4 1-52 1-3 1 27 1 7 1 5 1-14 1 3 1 4 1-14 1 4 1-12 1 28 1 0 1 7 1-5 1-3 1 3 1 7 1-15 1-27 1-10 1 2 1 17 1 1 1-16 1-5 1-8 1 16 1 11 1 8 1-7 1 3 1 9 1-21 1 8 1-16 1-32 1 36 1 19 1 20 1-31 1 5 1-11" vector-effect="non-scaling-stroke"/>
<path d="M150 185l1 3 1-4 1-1 1 2 1 4 1 23 1-11 1 20 1 8 1-4 1-6 1 7 1 15 1 12 1 0 1 4 1 0 1 5 1-13 1 10 1-1 1 17 1 3 1 22 1 5 1-19 1 10 1-4 1-17 1 12 1 9 1 0 1-9 1 24 1-11 1-18 1 3 1 4 1 3 1 6 1-1 1-2 1 14 1 6 1 6 1 7 1-7 1 1 1-13 1 16 1 13 1-6 1 8 1-7 1-2 1-9 1-1 1 5 1 3 1 6 1 6 1 4 1-7 1 8 1-5 1-14 1 9 1 7 1-7 1-29 1-2 1-1 1 3 1-2 1 17 1-4 1 2 1-19 1 2 1 6 1-4 1-9 1-2 1 11 1 1 1 4 1-14 1-28 1 2 1 22 1-10 1 6 1 3 1 10 1 17 1 0 1 4 1-22 1 4 1-16" vector-effect="non-scaling-stroke"/>
<path d="M150 205l1-4 1 8 1-5 1 1 1-4 1 8 1 1 1 4 1 7 1-10 1 20 1-6 1-8 1 9 1 12 1 17 1-2 1 0 1 7 1 7 1-11 1 2 1 6 1 6 1 4 1 19 1-5 1-1 1-22 1 0 1 15 1 4 1 9 1-1 1-2 1 1 1-2 1-2 1 21 1 12 1-2 1-5 1-17 1 1 1-7 1 15 1 7 1-7 1-3 1 16 1-5 1-4 1 5 1 5 1 14 1 8 1-10 1 19 1 0 1-8 1-5 1-9 1 7 1 1 1 11 1-8 1 0 1-15 1-9 1 0 1 4 1-8 1 3 1 15 1-8 1-3 1-10 1-5 1 10 1 2 1 2 1-3 1-6 1-4 1-13 1 12 1-4 1-10 1 2 1 3 1 4 1-7 1-10 1-8 1 11 1 7 1-4 1 6 1-4 1-7" vector-effect="non-scaling-stroke"/>
<path d="M150 253l1-13 1-10 1-12 1-21 1-4 1 24 1-33 1-1 1-46 1 17 1 22 1-19 1 17 1 56 1-2 1 9 1-76 1 25 1-24 1 57 1-5 1 21 1 9 1 19 1 5 1 27 1-17 1-5 1 2 1 15 1 14 1-23 1 43 1-11 1 19 1 14 1-15 1-10 1-63 1 15 1 0 1 27 1-12 1 27 1-2 1 27 1 20 1-25 1 1 1-21 1-7 1-10 1 41 1-17 1-3 1-1 1 3 1 11 1 1 1 43 1-3 1-21 1 15 1-33 1 4 1-34 1-23 1 41 1-26 1 2 1-18 1 7 1-8 1 6 1 16 1-13 1 33 1-14 1-12 1 15 1 4 1-11 1-1 1-9 1-8 1 12 1-13 1 5 1-13 1-13 1 28 1 26 1 2 1 13 1-19 1 25 1-18 1-24 1-6 1-1" vector-effect="non-scaling-stroke"/>
<path d="M150 176l1 7 1 3 1 12 1 10 1 1 1-3 1 13 1 10 1-9 1 9 1 13 1-8 1 5 1 9 1-12 1 1 1 2 1 5 1-4 1 18 1-11 1 9 1 2 1 8 1 3 1 11 1-8 1 4 1-4 1 10 1 7 1-1 1-12 1 4 1 5 1 13 1 8 1 3 1-10 1 5 1 4 1 5 1 7 1 5 1-15 1-8 1 4 1 8 1-13 1 12 1 18 1 8 1 4 1-7 1 10 1-7 1-12 1-7 1-3 1 8 1 6 1-5 1 0 1 3 1 4 1-5 1 10 1-10 1-10 1 0 1 8 1-4 1 6 1-14 1 3 1 5 1-2 1-3 1-5 1 0 1 1 1-11 1-6 1 4 1-17 1-3 1 3 1-5 1-6 1 13 1 4 1 6 1 1 1-16 1-11 1 4 1-7 1 9 1 9 1-14" vector-effect="non-scaling-stroke"/>
<path d="M150 195l1 15 1 20 1-4 1-16 1 13 1-26 1 30 1-17 1 31 1 51 1-1 1-26 1-11 1 38 1-5 1-30 1 16 1-15 1 9 1-38 1 14 1-1 1 15 1 14 1-7 1 1 1-21 1 2 1 14 1 3 1 19 1-8 1 8 1 6 1 14 1 3 1-15 1 11 1 9 1-12 1-17 1 34 1-7 1-16 1-2 1-16 1 26 1-5 1 1 1 24 1-3 1 26 1 7 1 9 1-6 1 2 1-35 1-15 1 9 1-34 1 7 1 24 1 7 1-9 1-3 1 10 1-18 1-1 1-1 1-12 1 12 1-4 1 4 1 9 1-3 1 27 1-12 1 0 1-5 1 6 1 27 1 21 1-54 1-19 1 28 1-40 1-22 1-2 1 9 1-9 1-9 1 15 1 16 1 21 1 12 1 3 1 4 1 25 1-6 1-7" vector-effect="non-scaling-stroke"/>
<path d="M150 194l1 20 1 24 1 3 1-2 1-10 1 14 1 14 1 8 1-4 1-27 1-1 1 10 1-9 1-8 1-1 1-5 1 0 1 25 1 24 1 8 1-28 1 2 1-25 1 0 1 17 1 21 1 14 1-20 1 3 1 22 1 11 1 1 1-21 1-4 1 17 1 7 1 19 1-20 1 4 1 4 1 17 1-8 1-9 1 7 1 18 1 6 1-21 1-5 1 1 1-4 1 22 1 3 1-12 1 29 1 3 1 12 1-7 1-16 1 4 1-2 1 8 1-21 1-4 1 15 1-1 1 29 1-35 1-5 1-17 1-4 1 9 1-6 1 7 1-12 1-20 1 17 1-7 1 13 1-18 1 5 1 13 1 9 1 9 1 11 1-5 1-35 1-4 1-6 1-6 1 6 1-17 1 24 1 5 1 10 1-4 1 33 1-20 1-29 1-13 1 2" vector-effect="non-scaling-stroke"/>
<path d="M150 193l1 4 1 1 1 9 1 7 1 7 1 8 1 0 1-7 1-5 1 11 1-9 1 1 1-4 1-7 1 8 1-11 1 3 1 2 1 4 1 7 1-3 1 25 1 6 1 12 1 6 1 7 1-7 1 4 1-7 1-2 1 8 1 7 1-2 1 0 1-1 1-1 1 5 1 0 1-4 1 10 1 0 1 7 1 5 1-5 1 1 1 9 1-5 1 21 1 13 1 5 1-1 1-3 1-3 1 5 1 2 1-6 1 9 1 3 1-8 1 11 1-13 1-12 1 2 1 4 1-4 1-1 1-3 1 6 1-4 1-5 1-7 1 0 1 8 1-4 1 5 1-10 1 10 1-9 1-6 1 6 1 0 1-12 1-1 1-9 1-1 1 17 1-5 1 9 1 9 1-5 1-7 1 3 1 5 1-21 1 1 1 1 1 12 1-22 1 2 1-1" vector-effect="non-scaling-stroke"/>
<path d="M150 228l1 14 1 9 1-1 1 7 1 30 1 4 1-49 1-19 1 9 1-17 1 15 1-4 1 28 1 38 1-12 1-27 1-35 1 9 1 8 1 22 1 25 1 6 1 27 1-4 1-20 1-10 1-22 1 2 1-1 1-7 1-23 1 36 1 27 1 14 1-19 1 16 1 21 1-31 1-2 1-11 1 8 1 32 1 0 1 48 1-25 1-20 1-19 1-10 1 46 1-5 1-11 1 11 1 17 1-5 1 9 1-47 1-7 1 3 1 23 1-17 1 4 1 7 1-9 1-19 1 8 1-8 1 21 1-5 1-20 1 37 1-8 1-6 1 0 1 0 1 1 1-20 1 6 1-2 1 29 1 10 1-14 1-7 1 11 1-26 1-9 1 5 1-24 1 17 1 9 1 46 1 8 1-48 1-4 1 30 1-21 1-32 1-9 1-32 1 26 1 9" vector-effect="non-scaling-stroke"/>
<path d="M150 177l1-2 1 6 1 2 1-6 1 8 1-2 1 7 1 6 1 24 1-1 1 19 1-37 1 18 1 16 1-9 1 5 1 24 1 27 1-3 1-24 1 15 1-3 1 0 1-13 1 12 1-19 1-3 1 7 1 13 1 1 1-1 1-20 1-10 1 29 1 17 1-5 1 14 1 26 1-15 1 12 1 2 1-26 1 4 1 18 1 21 1 3 1-14 1 5 1 0 1-4 1-24 1-2 1 14 1-16 1-4 1 8 1 5 1-2 1 8 1 7 1-6 1-10 1-7 1 16 1 12 1-13 1 15 1-6 1 5 1-10 1 12 1 14 1-3 1 7 1-3 1-3 1 27 1-11 1 2 1-9 1 4 1-16 1-18 1 8 1-13 1-4 1-3 1-11 1 1 1-18 1 0 1 8 1-2 1 0 1 19 1 6 1 6 1 2 1-39 1 20" vector-effect="non-scaling-stroke"/>
<path d="M150 222l1 2 1 8 1 10 1-4 1 6 1-1 1-7 1-19 1-9 1 8 1 12 1-8 1-16 1 0 1-4 1 25 1 25 1-10 1-14 1-2 1 24 1-4 1-10 1 12 1 14 1 1 1-2 1-2 1-10 1 0 1 13 1 5 1 0 1 13 1-15 1 10 1 2 1-12 1 22 1 0 1-4 1 4 1-16 1 19 1 14 1 2 1-3 1 5 1 17 1-14 1 4 1 3 1-2 1 14 1-1 1-1 1-5 1 9 1 4 1-5 1-2 1 17 1 28 1-27 1 14 1-13 1-9 1-22 1 1 1-11 1-26 1 12 1-8 1 31 1 11 1-3 1-11 1-10 1 23 1-9 1-6 1-3 1 7 1 0 1 14 1 7 1-31 1 12 1-13 1-10 1-17 1 16 1-13 1 19 1-13 1 3 1 15 1-10 1 2 1-7" vector-effect="non-scaling-stroke"/>
<path d="M150 199l1-6 1 0 1-2 1 7 1 4 1-6 1 35 1-6 1-1 1 1 1 19 1 18 1-17 1-19 1 9 1 9 1 20 1-5 1-3 1-9 1 6 1 8 1 20 1-2 1 25 1-11 1-26 1 5 1 5 1-2 1-11 1-5 1 4 1 1 1-7 1-4 1 11 1 13 1-15 1 11 1 2 1 9 1 36 1 1 1-11 1 8 1-20 1 6 1 7 1 6 1-19 1 20 1 23 1-3 1 17 1-9 1-9 1 16 1 4 1-8 1-1 1-3 1-21 1 19 1-8 1-11 1-24 1-4 1 8 1 6 1 0 1-19 1 9 1-2 1 20 1 4 1-12 1-11 1 12 1-4 1-8 1-18 1 9 1-20 1 11 1 10 1 3 1 23 1 2 1-5 1-5 1 2 1-26 1 10 1-8 1-16 1 2 1 15 1 0 1 22" vector-effect="non-scaling-stroke"/>
</g>
<path d="M0 197l1 0 1 0 1 0 1 0 1 0 1 0 1 0 1 0 1 0 1 0 1 0 1 0 1 0 1 0 1 0 1 0 1 0 1 0 1 0 1 0 1 0 1 0 1 0 1 0 1 0 1 0 1 0 1 0 1 0 1 0 1 0 1 0 1 0 1 0 1 0 1 0 1 0 1 0 1 0 1 0 1 0 1 0 1 0 1 0 1 0 1 0 1 0 1 0 1 0 1 0 1 0 1 0 1 0 1 0 1 0 1 0 1 0 1 0 1 0 1 0 1 0 1 0 1 0 1 0 1 0 1 0 1 0 1 0 1 0 1 0 1 0 1 0 1 0 1 0 1 0 1 0 1 0 1 0 1 0 1 0 1 0 1 0 1 0 1 0 1 0 1 0 1 0 1 0 1 0 1 0 1 0 1 0 1 0 1 0 1 0 1 0 1 0 1 0 1 0 1 0 1 0 1 0 1 0 1 0 1 0 1 0 1 0 1 0 1 0 1 0 1 0 1 0 1 0 1 0 1 0 1 0 1 0 1 0 1 0 1 0 1 0 1 0 1 0 1 0 1 0 1 0 1 0 1 0 1 0 1 0 1 0 1 0 1 0 1 0 1 0 1 0 1 0 1 0 1 0 1 0 1 0 1 0 1 0 1 0 1 0 1 0 1 0 1 0 1 0 1 0 1 3 1 2 1 3 1 2 1 3 1 2 1 3 1 3 1 2 1 3 1 2 1 3 1 2 1 3 1 2 1 3 1 3 1 2 1 3 1 2 1 3 1 2 1 3 1 2 1 3 1 2 1 3 1 3 1 2 1 3 1 2 1 3 1 2 1 3 1 2 1 3 1 2 1 3 1 3 1 2 1 3 1 2 1 3 1 2 1 3 1 2 1 3 1 3 1 2 1 2 1 3 1 1 1 2 1 1 1 1 1 0 1 1 1 0 1-1 1 0 1-1 1-1 1-2 1-1 1-1 1-1 1-1 1-1 1-1 1-1 1-2 1-1 1-1 1-1 1-1 1-1 1-1 1-1 1-1 1-2 1-1 1-1 1-1 1-1 1-1 1-1 1-1 1-2 1-1 1-1 1-1 1-1 1-1 1-1 1-1 1-1 1-2 1-1 1-1 1-1" stroke="#1e90ff" stroke-width="1" vector-effect="non-scaling-stroke"/>
<g stroke="#ffa500" stroke-opacity="0.15" stroke-width="0.65">
<use href="#p0"/>
<use href="#p1"/>
<use href="#p2"/>
<use href="#p3"/>
<use href="#p4"/>
<use href="#p5"/>
<use href="#p6"/>
<use href="#p7"/>
<use href="#p8"/>
<use href="#p9"/>
<use href="#p10"/>
<use href="#p11"/>
<use href="#p12"/>
<use href="#p13"/>
<use href="#p14"/>
<use href="#p15"/>
<use href="#p16"/>
<use href="#p17"/>
<use href="#p18"/>
<use href="#p19"/>
<use href="#p20"/>
<use href="#p21"/>
<use href="#p22"/>
<use href="#p23"/>
<use href="#p24"/>
<use href="#p25"/>
<use href="#p26"/>
<use href="#p27"/>
<use href="#p28"/>
<use href="#p29"/>
<use href="#p30"/>
<use href="#p31"/>
<use href="#p32"/>
<use href="#p33"/>
<use href="#p34"/>
<use href="#p35"/>
<use href="#p36"/>
<use href="#p37"/>
<use href="#p38"/>
<use href="#p39"/>
<use href="#p40"/>
<use href="#p41"/>
<use href="#p42"/>
<use href="#p43"/>
<use href="#p44"/>
<use href="#p45"/>
<use href="#p46"/>
<use href="#p47"/>
<use href="#p48"/>
<use href="#p49"/>
<use href="#p50"/>
<use href="#p51"/>
<use href="#p52"/>
<use href="#p53"/>
<use href="#p54"/>
<use href="#p55"/>
<use href="#p56"/>
<use href="#p57"/>
<use href="#p58"/>
<use href="#p59"/>
<use href="#p60"/>
<use href="#p61"/>
<use href="#p62"/>
<use href="#p63"/>
<use href="#p64"/>
<use href="#p65"/>
<use href="#p66"/>
<use href="#p67"/>
<use href="#p68"/>
<use href="#p69"/>
<use href="#p70"/>
<use href="#p71"/>
<use href="#p72"/>
<use href="#p73"/>
<use href="#p74"/>
<use href="#p75"/>
<use href="#p76"/>
<use href="#p77"/>
<use href="#p78"/>
<use href="#p79"/>
<use href="#p80"/>
<use href="#p81"/>
<use href="#p82"/>
<use href="#p83"/>
<use href="#p84"/>
<use href="#p85"/>
<use href="#p86"/>
<use href="#p87"/>
<use href="#p88"/>
<use href="#p89"/>
<use href="#p90"/>
<use href="#p91"/>
<use href="#p92"/>
<use href="#p93"/>
<use href="#p94"/>
<use href="#p95"/>
<use href="#p96"/>
<use href="#p97"/>
<use href="#p98"/>
<use href="#p99"/>
<use href="#p100"/>
<use href="#p101"/>
<use href="#p102"/>
<use href="#p103"/>
<use href="#p104"/>
<use href="#p105"/>
<use href="#p106"/>
<use href="#p107"/>
<use href="#p108"/>
<use href="#p109"/>
<use href="#p110"/>
<use href="#p111"/>
<use href="#p112"/>
<use href="#p113"/>
<use href="#p114"/>
<use href="#p115"/>
<use href="#p116"/>
<use href="#p117"/>
<use href="#p118"/>
<use href="#p119"/>
<use href="#p120"/>
<use href="#p121"/>
<use href="#p122"/>
<use href="#p123"/>
<use href="#p124"/>
<use href="#p125"/>
<use href="#p126"/>
<use href="#p127"/>
<use href="#p128"/>
<use href="#p129"/>
<use href="#p130"/>
<use href="#p131"/>
<use href="#p132"/>
<use href="#p133"/>
<use href="#p134"/>
<use href="#p135"/>
<use href="#p136"/>
<use href="#p137"/>
<use href="#p138"/>
<use href="#p139"/>
</g>
<g stroke="#ffa500" stroke-opacity="0.14" stroke-width="0.65">
<path d="M150 205l1 0 1 5 1 3 1 10 1 7 1-21 1-8 1 11 1 0 1 7 1 14 1 22 1 15 1 2 1-22 1 1 1 15 1 7 1-3 1-5 1-21 1 12 1 21 1-5 1 5 1-3 1 11 1 0 1 13 1-19 1-6 1-5 1 9 1-11 1 3 1 7 1 13 1 26 1 1 1-17 1 5 1-4 1-11 1 15 1 2 1 7 1-12 1 19 1-12 1 1 1 9 1-3 1-11 1 14 1 33 1-18 1 7 1-8 1 1 1 19 1 23 1-25 1 3 1-9 1 9 1 7 1 23 1-1 1-4 1 17 1-17 1-3 1 4 1 9 1 4 1 4 1 5 1-1 1 3 1 0 1 2 1-17 1 4 1 4 1 0 1 4 1 14 1-6 1-3 1-9 1 6 1 1 1-4 1 7 1 11 1 4 1 6 1 16 1 3 1-14" vector-effect="non-scaling-stroke"/>
<path d="M150 140l1 10 1 22 1 12 1 7 1-4 1 0 1 7 1 33 1 20 1-6 1-6 1 6 1 2 1 14 1-12 1 5 1-11 1-33 1 28 1 12 1 20 1 24 1-15 1-2 1 34 1-9 1 0 1-21 1 6 1-2 1-6 1 15 1 3 1 17 1 1 1-17 1-19 1-7 1 8 1 19 1-21 1 8 1 0 1 0 1 3 1-7 1 20 1 10 1 12 1-35 1-2 1 33 1 10 1-8 1 9 1 0 1-3 1 0 1 0 1-6 1 6 1 26 1 1 1-2 1 11 1 8 1 10 1-12 1 3 1-4 1 26 1-11 1-3 1-3 1-2 1 0 1 18 1 2 1 5 1-6 1-1 1-1 1-10 1 4 1 21 1-4 1 9 1 3 1 0 1 0 1 9 1-6 1-15 1-2 1-10 1-4 1 12 1-1 1 1 1 3" vector-effect="non-scaling-stroke"/>
<path d="M150 194l1 3 1-9 1 3 1 7 1 18 1 13 1-39 1 24 1-15 1 9 1 17 1-1 1 0 1-3 1-5 1 7 1 17 1 6 1-6 1-8 1-7 1-25 1-5 1 17 1 29 1 26 1 22 1-8 1 10 1-9 1-11 1-8 1 0 1 18 1-9 1 1 1-9 1 7 1-3 1-2 1 19 1-17 1 29 1-6 1-13 1 9 1-3 1 14 1 4 1 9 1 8 1 8 1 27 1 3 1-6 1-17 1 12 1-16 1 7 1-12 1-3 1 9 1 4 1 14 1 8 1-22 1-18 1 16 1-2 1 14 1-2 1 6 1 16 1-1 1-12 1 6 1 6 1 8 1 14 1-10 1 13 1 3 1 15 1-5 1 10 1 20 1 1 1-3 1-7 1-26 1 17 1 8 1-17 1 2 1-6 1-9 1 13 1 10 1 1 1-6" vector-effect="non-scaling-stroke"/>
<path d="M150 179l1 2 1-9 1 1 1 14 1 13 1-1 1 21 1 2 1-19 1 41 1 17 1-6 1 6 1 17 1-4 1-15 1 4 1-19 1 15 1 20 1-10 1 18 1 1 1-20 1-5 1-9 1-9 1 10 1-12 1 2 1-6 1-2 1 2 1-13 1 20 1 10 1 20 1 8 1-2 1-16 1 22 1-10 1 13 1 5 1 17 1 4 1-1 1 5 1 13 1 11 1 8 1-10 1-19 1 8 1-2 1-4 1 2 1 0 1 3 1-14 1 14 1 17 1-6 1 3 1 7 1 2 1-6 1 17 1-5 1-4 1 18 1-7 1-8 1-6 1 3 1 7 1 1 1-6 1 7 1-10 1 4 1 10 1 7 1 2 1 16 1-4 1 12 1-5 1-5 1 8 1-7 1-4 1-1 1 1 1-10 1 0 1 13 1 3 1 14 1-11" vector-effect="non-scaling-stroke"/>
<path d="M150 191l1-4 1-5 1-3 1-18 1 17 1-14 1 20 1 19 1-7 1 9 1 14 1 3 1 2 1 21 1 14 1-10 1 35 1-3 1-36 1 45 1 1 1-9 1-2 1 28 1-16 1-4 1-19 1 16 1 9 1-7 1-14 1-8 1 13 1 4 1 15 1-12 1 14 1 2 1 12 1 5 1-34 1 10 1 6 1-4 1 51 1-7 1-1 1-22 1-6 1 27 1 18 1-10 1 0 1-24 1 13 1 14 1-17 1-8 1 15 1-26 1-5 1-6 1-8 1-13 1 19 1 1 1 24 1 21 1-11 1 2 1 24 1 7 1 19 1 3 1-18 1 11 1-12 1-8 1-5 1-13 1-13 1 36 1-8 1-15 1 14 1 2 1 8 1 4 1 9 1 26 1-5 1 23 1 11 1-16 1 0 1-11 1-9 1 4 1 2 1 10" vector-effect="non-scaling-stroke"/>
<path d="M150 159l1 16 1 5 1 10 1 6 1 6 1 11 1 6 1-10 1-7 1 0 1-6 1 13 1 12 1 4 1 14 1-7 1 11 1 10 1 19 1-1 1-10 1-4 1 2 1 2 1 7 1-13 1-7 1 13 1-11 1 2 1 11 1 1 1 0 1 3 1-18 1 25 1-1 1 5 1 5 1-1 1 16 1 0 1-14 1 2 1 21 1 12 1 4 1 21 1 6 1 7 1-20 1-5 1-2 1-1 1-2 1 14 1-3 1 13 1 5 1-15 1 4 1 6 1 16 1 10 1-25 1 9 1 9 1-15 1-17 1 10 1 6 1-5 1 8 1 9 1 7 1-8 1-4 1-1 1-1 1-4 1 5 1 0 1 6 1 13 1 0 1 17 1 4 1 6 1 1 1 0 1 3 1 13 1-12 1-14 1 9 1-5 1 3 1 0 1 16 1-1" vector-effect="non-scaling-stroke"/>
<path d="M150 238l1 3 1-5 1-12 1-15 1-6 1 19 1 3 1 4 1-18 1 11 1 27 1-17 1 12 1-10 1-11 1-24 1-4 1 10 1 29 1 18 1 14 1 16 1-25 1-20 1-9 1 11 1 17 1-14 1 26 1 7 1-7 1-7 1 14 1 0 1 32 1-14 1 8 1 2 1 13 1-11 1-21 1 31 1 8 1 19 1 6 1-15 1-13 1 20 1 3 1 4 1 5 1 4 1 0 1-30 1 16 1 3 1 10 1 18 1 8 1-10 1 3 1-2 1-20 1 5 1 9 1 30 1-5 1 0 1-1 1 3 1 8 1-31 1-9 1-15 1 18 1 10 1 17 1 5 1-5 1-8 1-6 1-5 1 9 1-6 1 3 1 20 1 1 1-3 1-7 1 11 1 5 1 12 1-14 1 19 1 3 1-14 1-1 1 13 1 11 1-17" vector-effect="non-scaling-stroke"/>
<path d="M150 192l1 22 1-20 1 28 1 19 1 7 1 10 1-4 1-51 1 2 1 18 1 1 1 0 1 3 1 1 1-20 1 18 1-10 1-20 1 14 1 60 1-4 1-47 1-19 1 25 1 24 1-19 1 13 1 20 1 13 1-16 1-26 1 49 1 7 1 19 1 45 1-5 1 0 1-34 1 35 1-19 1-21 1 8 1-18 1 11 1 13 1 8 1-8 1 15 1-31 1 4 1-8 1-15 1 34 1 9 1 6 1 3 1-17 1 12 1-15 1-15 1 8 1 11 1-13 1-9 1 33 1 19 1-6 1 4 1-29 1 2 1 24 1-4 1 23 1-3 1-6 1-23 1 0 1-2 1 25 1 18 1-18 1 7 1-3 1 3 1 2 1-16 1-7 1-5 1 49 1 5 1 22 1 8 1-10 1-9 1-9 1 21 1 7 1 20 1-4 1 8" vector-effect="non-scaling-stroke"/>
<path d="M150 237l1-9 1 4 1 0 1 12 1-20 1-29 1 4 1 23 1 10 1-1 1-14 1-1 1 22 1-20 1 24 1-18 1-2 1 25 1-43 1 70 1 12 1-35 1 15 1 12 1-19 1 3 1-9 1 0 1 23 1 33 1 6 1-8 1 3 1 0 1 18 1-16 1 19 1-12 1 6 1 22 1 5 1 2 1-18 1-36 1 5 1-20 1 24 1-17 1 5 1-12 1-20 1 24 1 7 1 24 1 45 1-1 1-48 1-5 1 15 1 6 1-19 1 33 1-3 1-18 1 17 1 0 1-20 1 19 1 16 1 15 1 19 1-19 1-13 1-10 1-1 1 21 1 2 1 9 1 5 1-41 1 2 1 21 1-1 1-12 1-5 1 28 1 5 1-4 1-11 1 19 1-4 1 2 1-21 1 35 1 13 1 10 1-8 1-6 1 5 1-5" vector-effect="non-scaling-stroke"/>
<path d="M150 186l1 1 1 0 1 11 1-3 1-9 1 19 1 10 1 2 1 12 1-11 1 28 1 17 1 12 1-28 1-14 1-13 1-12 1 5 1 5 1 15 1-3 1 8 1 5 1 1 1 15 1 0 1-2 1 5 1 19 1-2 1 3 1 2 1-2 1-11 1-1 1 11 1 20 1-9 1 15 1 3 1-13 1-2 1 12 1-6 1-1 1 7 1 13 1-8 1-5 1-14 1 8 1 10 1 6 1 18 1 8 1 3 1-14 1-2 1 7 1-3 1 6 1 6 1-2 1-2 1-2 1-1 1 4 1-2 1 2 1 4 1 13 1 17 1 1 1 4 1-7 1 6 1 6 1 14 1-9 1 8 1 2 1-3 1 5 1-8 1 13 1-3 1-6 1 13 1-9 1-4 1 12 1 8 1-17 1 7 1 7 1 13 1-6 1-3 1 0 1 11" vector-effect="non-scaling-stroke"/>
<path d="M150 177l1 29 1 3 1 12 1-1 1-19 1-5 1 25 1-20 1-12 1-4 1-23 1 40 1-25 1 10 1 4 1-15 1-29 1 13 1 8 1-9 1 36 1-4 1 11 1-6 1 2 1-6 1 35 1 28 1-3 1-31 1 20 1 18 1-5 1 19 1 0 1-12 1 4 1-22 1-6 1 5 1 14 1 16 1-19 1 20 1 27 1 5 1 32 1 30 1 11 1-10 1-5 1-2 1-15 1-9 1 16 1 4 1 9 1 10 1 5 1-35 1 63 1-8 1-26 1-2 1-4 1-41 1-7 1-10 1 5 1 25 1 9 1 4 1 24 1 29 1-27 1 6 1 10 1-11 1 9 1-19 1-3 1 27 1 10 1-9 1-4 1-10 1-10 1-34 1 25 1 3 1 22 1 4 1 27 1 2 1-30 1-5 1 4 1-6 1 32 1-3" vector-effect="non-scaling-stroke"/>
<path d="M150 209l1 4 1 2 1 5 1-12 1-11 1 4 1 1 1 5 1 0 1 3 1-1 1 2 1 7 1 7 1 5 1 14 1-1 1-4 1 11 1 5 1-3 1 9 1-9 1 16 1-3 1-2 1 2 1 9 1-1 1-1 1 9 1 1 1 10 1-7 1 5 1-1 1-3 1 4 1 17 1 0 1-1 1 5 1-11 1 15 1-4 1 9 1-10 1 10 1 5 1-4 1 3 1-2 1 9 1 8 1 5 1-3 1 3 1 7 1 0 1-3 1 0 1 7 1 11 1-6 1-2 1 3 1 3 1 8 1-4 1-1 1-3 1 1 1 5 1-6 1 1 1 3 1 8 1 3 1 1 1 1 1 4 1 3 1 2 1 0 1-3 1 4 1 14 1-1 1 6 1 3 1-7 1-5 1-1 1 3 1-1 1 15 1 3 1-7 1 0 1 8" vector-effect="non-scaling-stroke"/>
<path d="M150 197l1 9 1 1 1-7 1 3 1-3 1 5 1 14 1 2 1 0 1 1 1-1 1 7 1 10 1-22 1-8 1 15 1 8 1 4 1 21 1-11 1 16 1 3 1-7 1 6 1 2 1 6 1-3 1-1 1 7 1 3 1 4 1-5 1 11 1 4 1-18 1 6 1-5 1 21 1-1 1 1 1 15 1-2 1 3 1 0 1 12 1 2 1 13 1-4 1 0 1 12 1-6 1 5 1 4 1 3 1 4 1-7 1-6 1-3 1-5 1 1 1-4 1 3 1 12 1 1 1-6 1-1 1 2 1 10 1 2 1 4 1 5 1 7 1-2 1 11 1-2 1 0 1 13 1-3 1 0 1-3 1-4 1 14 1-7 1 1 1-5 1 2 1 9 1 5 1 6 1-2 1 6 1-12 1-1 1 2 1 14 1-7 1-7 1 8 1 1 1 7" vector-effect="non-scaling-stroke"/>
<path d="M150 195l1 5 1 7 1 7 1-7 1 5 1 1 1 1 1-2 1-2 1-7 1 4 1 19 1 12 1-8 1-5 1 22 1 4 1 15 1-18 1-3 1 5 1 25 1 10 1-10 1-3 1 21 1-5 1 5 1-20 1 8 1 24 1-9 1 8 1-9 1-11 1 1 1-2 1 7 1-15 1 8 1 12 1 10 1-6 1-1 1 18 1-8 1 8 1 0 1 6 1-4 1-10 1 14 1 9 1-7 1-7 1 10 1 8 1 5 1 6 1-2 1-1 1 7 1 4 1 3 1-2 1-3 1 4 1-4 1 0 1 12 1-21 1 8 1 10 1 9 1-10 1 14 1-10 1 6 1 4 1-1 1-9 1 5 1 9 1-7 1 5 1 14 1 0 1 12 1-2 1 10 1-1 1-2 1-3 1-2 1 6 1-2 1-2 1 6 1 6 1 2" vector-effect="non-scaling-stroke"/>
<path d="M150 171l1 14 1-2 1 2 1 3 1-4 1 5 1 5 1 8 1 5 1-9 1 2 1 9 1 0 1-1 1 9 1-2 1 3 1 13 1-2 1 10 1 17 1 12 1 1 1 2 1-9 1-5 1 1 1-2 1 2 1 10 1 0 1 6 1-9 1 8 1 6 1 5 1-4 1 4 1-1 1-4 1-6 1 10 1 7 1 11 1 0 1 5 1-2 1 4 1 11 1 4 1-2 1 5 1 9 1-3 1 1 1-13 1 15 1 6 1 6 1 2 1-1 1 2 1 2 1 5 1-12 1 11 1 3 1 1 1 5 1-13 1 12 1-8 1 13 1 5 1-10 1 25 1 2 1-13 1 0 1 5 1-4 1 7 1-4 1-13 1 5 1 1 1-2 1-3 1 9 1 4 1 4 1 13 1 5 1 1 1 11 1 7 1 3 1-5 1-9 1-2" vector-effect="non-scaling-stroke"/>
<path d="M150 199l1 3 1 0 1-5 1 7 1 6 1-4 1 9 1 4 1-1 1 7 1 13 1 13 1 2 1-10 1 11 1-8 1 9 1-2 1 10 1 0 1-5 1 6 1-6 1 3 1 11 1-3 1-1 1 3 1-4 1 4 1 3 1 3 1 2 1-2 1-1 1 12 1 6 1 1 1-2 1 11 1-7 1-3 1-3 1 9 1 20 1 5 1-6 1 9 1-1 1 10 1 0 1-3 1 8 1 1 1 0 1 3 1 2 1-12 1 7 1-3 1 2 1 9 1 0 1-7 1 10 1 0 1-2 1 0 1 10 1 4 1 0 1 8 1 8 1 4 1-2 1-3 1 3 1-1 1-3 1-4 1 8 1 4 1-6 1-11 1 3 1 4 1 0 1 0 1-2 1 12 1 5 1-1 1 10 1 5 1 6 1 5 1-1 1 1 1 3 1 6" vector-effect="non-scaling-stroke"/>
<path d="M150 175l1 22 1 2 1-20 1 30 1-3 1 11 1 30 1 12 1 41 1-27 1-25 1-15 1 13 1-13 1 10 1-62 1 51 1 26 1-29 1 0 1 47 1-26 1-34 1 41 1 4 1 2 1 13 1 15 1-5 1 11 1-37 1-29 1 6 1-10 1 4 1-43 1 17 1 29 1 12 1 12 1 23 1 6 1-19 1 22 1 21 1-4 1 18 1-16 1-7 1 21 1 29 1-23 1 27 1 5 1 11 1-3 1-3 1 39 1-8 1-33 1-6 1-5 1 1 1 5 1 18 1 9 1-43 1 6 1-2 1-6 1-8 1 24 1-6 1 12 1 23 1-19 1 31 1-9 1 19 1-14 1 1 1 17 1 21 1-8 1 1 1-12 1-8 1-20 1 18 1 1 1 1 1 10 1-12 1-23 1 3 1 3 1 3 1 14 1 5 1 19" vector-effect="non-scaling-stroke"/>
<path d="M150 215l1-5 1 5 1 9 1 20 1 1 1-39 1-46 1 24 1 19 1 17 1-16 1 9 1-12 1 15 1 3 1 24 1-21 1-2 1 29 1 3 1 34 1-28 1-7 1 5 1-43 1 17 1 17 1 23 1-4 1 12 1 11 1 22 1-12 1 14 1-25 1 52 1-12 1-44 1-10 1 25 1-47 1 5 1-22 1 11 1 20 1 12 1 8 1-10 1 16 1-9 1-5 1 28 1 16 1 8 1-1 1 1 1 14 1-15 1-2 1-16 1-3 1 7 1 21 1-12 1 13 1 2 1 17 1 19 1-7 1 25 1-8 1 14 1-39 1 3 1 0 1 1 1-13 1 17 1 14 1 21 1-26 1 12 1 12 1-24 1-1 1 24 1-36 1-3 1-3 1 12 1 6 1 12 1-1 1 18 1 1 1 14 1-7 1 3 1 7 1 2" vector-effect="non-scaling-stroke"/>
<path d="M150 208l1 1 1 19 1-2 1 3 1-4 1 8 1 1 1 37 1-18 1 0 1-19 1-56 1 51 1 0 1-17 1 8 1-2 1-2 1-9 1-1 1 12 1 13 1-6 1 25 1-5 1 20 1-8 1 24 1-20 1-40 1-14 1 30 1 22 1 29 1-2 1-15 1 4 1 13 1 14 1 17 1 10 1 11 1-9 1 1 1 6 1-41 1 3 1 0 1 14 1 28 1 6 1-7 1-2 1-1 1 17 1 10 1 1 1 17 1-11 1 5 1-25 1-13 1-12 1 11 1 5 1 13 1-9 1 9 1 6 1-7 1 13 1 14 1 5 1 2 1-11 1-6 1 3 1 1 1 5 1 11 1 3 1 10 1-16 1 11 1-1 1 3 1-2 1-4 1-2 1-7 1-7 1 16 1-1 1 2 1 2 1-17 1 8 1 14 1 11 1 19" vector-effect="non-scaling-stroke"/>
<path d="M150 188l1 10 1 1 1-2 1 7 1 6 1 5 1 6 1-3 1-3 1 10 1 17 1 9 1 3 1-12 1 0 1 4 1-2 1 3 1 1 1-3 1 33 1 10 1 10 1-23 1 0 1-7 1-20 1 17 1-6 1-1 1 13 1-16 1 12 1 7 1 5 1 4 1 8 1 19 1 12 1-7 1-24 1-4 1 9 1 12 1-1 1 8 1-11 1 9 1 4 1-3 1 7 1 8 1-1 1 3 1 0 1-1 1 7 1-4 1-4 1-10 1 4 1 12 1-12 1 9 1 2 1 9 1 25 1 5 1 10 1-13 1 0 1 4 1-8 1 0 1 6 1-9 1 9 1 2 1 8 1 1 1-2 1 8 1-8 1 10 1-9 1 11 1 0 1 1 1 2 1 1 1-15 1 16 1 0 1 3 1 1 1 3 1-3 1 15 1 1 1-5" vector-effect="non-scaling-stroke"/>
<path d="M150 199l1 2 1 4 1 5 1 6 1 0 1-8 1 3 1 8 1 12 1-7 1 2 1 1 1 6 1 3 1-4 1 13 1 6 1-13 1-1 1 0 1 3 1 5 1 3 1 5 1-4 1 8 1 4 1 7 1 8 1 5 1-2 1 16 1-5 1 2 1 9 1 3 1 4 1 3 1-2 1-1 1 3 1-4 1 3 1 6 1 5 1 4 1 2 1 5 1-3 1-3 1-4 1 2 1-8 1 1 1 6 1-6 1 10 1-3 1 2 1-7 1 9 1 3 1 4 1 9 1 2 1 7 1 3 1 5 1 1 1-1 1 7 1-2 1-3 1 9 1 2 1 4 1 6 1 7 1-8 1-3 1 1 1 12 1-1 1-7 1 3 1-2 1 7 1 4 1 2 1-1 1-3 1 10 1 9 1 0 1 1 1 3 1-4 1 1 1-4 1 5" vector-effect="non-scaling-stroke"/>
<path d="M150 196l1-4 1 3 1-8 1-5 1 2 1 16 1 2 1-14 1 12 1-7 1 18 1 17 1-8 1-8 1 1 1 15 1-1 1 0 1 4 1 22 1 2 1 11 1 4 1 3 1 2 1 7 1-16 1-18 1 11 1 3 1 5 1-1 1 12 1 18 1 13 1-31 1 19 1-3 1-15 1 25 1-1 1-5 1 4 1 2 1 6 1 13 1 6 1 10 1 1 1 2 1 8 1-4 1-29 1 7 1 16 1-6 1-14 1 10 1 4 1 11 1-9 1 5 1 13 1 24 1-5 1 16 1 5 1-12 1-15 1-5 1-1 1-5 1 16 1 8 1-3 1-8 1 1 1 2 1-2 1 4 1 5 1 11 1 3 1-11 1 10 1-9 1 3 1-4 1 20 1 15 1-7 1 2 1-5 1 13 1 3 1-10 1-3 1 7 1 2 1 9" vector-effect="non-scaling-stroke"/>
<path d="M150 239l1-25 1 0 1 1 1 4 1 19 1-52 1 17 1 22 1 28 1 4 1-52 1-5 1-22 1 12 1 64 1-27 1 34 1 16 1 10 1 10 1-8 1 27 1-56 1-13 1-25 1 6 1-6 1 12 1-33 1 24 1 3 1 24 1 29 1 9 1 19 1-7 1 5 1-25 1-7 1 47 1 34 1 13 1-14 1-55 1 20 1-20 1-1 1-32 1-3 1 6 1 10 1 24 1 25 1 26 1-24 1 1 1 10 1 2 1 10 1 11 1 3 1-23 1-5 1 7 1 13 1 0 1 11 1-8 1 6 1-18 1-12 1-1 1 5 1-2 1 22 1-15 1 1 1 4 1 29 1 10 1 11 1-19 1 23 1-10 1-28 1-14 1 31 1 8 1-13 1-1 1 3 1 11 1 1 1-12 1-10 1 20 1 15 1-11 1 4 1 2" vector-effect="non-scaling-stroke"/>
<path d="M150 196l1 17 1 0 1 13 1-1 1-2 1 11 1 49 1 1 1 3 1-15 1-7 1-7 1-44 1 13 1-2 1 23 1-9 1-10 1-8 1 9 1 16 1-16 1 8 1 22 1-30 1-3 1 26 1 17 1-28 1 4 1 35 1-2 1-9 1 21 1-1 1 7 1 5 1 2 1-1 1 23 1-9 1 31 1-13 1 10 1-18 1 12 1 5 1 16 1-21 1 5 1-27 1 46 1 5 1 17 1-7 1-12 1-14 1 3 1-13 1 3 1-14 1 12 1 25 1-6 1 11 1-11 1-1 1 1 1-8 1 5 1 21 1-18 1 3 1 1 1 14 1-8 1 12 1 9 1-3 1 7 1 4 1-2 1 24 1-6 1-10 1-10 1 7 1-7 1 17 1 1 1-10 1-3 1 24 1 0 1-3 1 1 1 4 1-12 1 11 1-8" vector-effect="non-scaling-stroke"/>
<path d="M150 189l1-1 1 2 1-2 1 12 1-2 1 11 1-6 1 7 1 7 1 7 1 4 1 7 1-6 1 11 1-3 1 5 1 2 1 12 1-2 1 1 1 1 1-1 1-10 1 2 1 3 1 8 1 2 1 2 1 15 1-3 1 3 1 2 1 13 1-3 1 0 1 3 1 7 1 3 1-4 1-1 1 8 1-4 1 0 1 5 1 0 1 1 1 6 1-2 1 0 1-1 1 5 1 12 1-2 1 5 1-4 1 8 1-4 1 6 1 7 1-1 1-2 1-1 1 3 1 2 1 5 1 11 1 3 1 1 1 3 1 12 1 1 1-6 1 5 1 1 1 6 1-5 1 3 1-2 1-2 1 0 1 1 1 1 1 3 1 2 1 1 1 4 1 1 1 15 1-5 1-2 1-7 1 9 1 3 1 6 1-3 1 4 1 0 1 3 1-2 1 2" vector-effect="non-scaling-stroke"/>
<path d="M150 204l1 3 1-1 1 0 1-5 1 12 1-8 1-9 1 8 1-10 1 18 1 5 1 9 1 2 1 6 1 0 1 1 1 20 1-2 1-2 1-1 1-21 1 16 1-13 1 17 1-6 1-3 1 4 1 11 1 13 1 0 1-1 1-9 1 11 1-2 1 1 1 4 1 18 1-7 1-2 1 15 1 2 1 6 1 0 1 15 1 10 1-3 1 3 1-3 1 3 1 8 1 1 1-7 1 6 1 7 1-5 1-1 1 1 1-2 1 0 1 6 1 12 1 11 1 4 1-7 1-10 1 2 1 4 1-1 1 3 1 4 1-1 1 7 1 3 1-2 1 7 1 1 1 7 1-8 1-13 1 1 1-4 1 14 1 0 1 3 1-2 1 12 1-2 1 10 1 0 1 3 1 0 1 9 1-1 1-8 1-4 1 0 1 13 1 5 1 0 1 0" vector-effect="non-scaling-stroke"/>
<path d="M150 201l1 1 1 1 1 0 1 2 1-5 1 6 1 9 1 5 1 1 1 2 1 5 1 4 1-1 1 8 1 9 1 8 1-3 1 2 1-1 1-5 1-3 1-6 1 11 1 7 1 3 1 5 1 1 1 5 1 7 1-3 1 4 1 5 1 5 1-13 1 5 1-3 1 11 1 1 1 10 1-1 1 1 1 6 1 13 1 6 1-4 1 12 1 1 1-3 1-2 1-3 1-6 1 6 1 1 1 4 1 9 1-1 1 0 1-1 1-1 1 4 1 3 1 4 1 4 1 10 1-1 1-3 1-7 1 1 1 9 1 1 1 1 1 7 1 3 1 1 1 1 1 1 1-7 1 7 1 3 1-8 1 4 1 2 1 3 1 5 1 1 1-3 1 0 1 0 1 4 1 1 1 5 1 3 1 7 1 3 1 5 1-6 1 3 1 1 1 3 1 1" vector-effect="non-scaling-stroke"/>
<path d="M150 184l1-3 1-4 1-1 1-14 1-5 1 2 1 24 1 12 1 22 1 9 1-6 1 19 1-21 1-6 1 11 1-12 1 28 1 12 1-2 1-7 1 3 1 16 1-21 1 3 1 13 1 36 1-15 1-6 1 5 1-1 1 23 1 22 1-52 1-24 1 17 1-16 1 27 1 6 1-6 1 14 1-2 1 33 1-8 1-12 1 3 1 6 1-2 1 33 1-14 1-4 1 28 1 3 1 23 1-5 1-12 1 16 1-17 1-7 1 4 1-4 1-16 1-4 1-3 1 8 1 4 1 6 1-14 1 17 1 7 1-8 1 2 1 7 1 2 1 0 1-5 1 20 1 25 1 1 1-1 1-11 1 6 1-11 1 0 1 6 1 9 1-3 1-5 1-6 1-12 1-6 1 5 1 10 1 7 1-2 1 14 1 11 1 3 1 17 1-15 1 7" vector-effect="non-scaling-stroke"/>
<path d="M150 209l1-7 1 3 1 5 1-2 1-17 1 28 1-18 1 15 1 2 1 14 1-18 1 5 1-9 1-1 1 44 1 19 1-9 1 6 1-12 1-23 1-21 1 44 1-5 1 9 1 13 1-8 1-6 1 15 1-13 1 10 1-1 1-20 1 9 1 35 1 3 1-33 1 14 1-13 1 23 1 21 1-9 1 13 1 4 1 12 1-24 1 47 1-19 1-15 1 6 1 0 1 5 1-4 1-13 1 0 1 16 1 9 1 1 1-1 1 3 1 16 1-5 1 9 1 4 1 4 1 1 1 11 1-20 1 2 1 0 1 11 1 11 1 12 1 4 1-18 1-9 1-15 1 0 1 12 1 15 1-14 1 16 1 3 1 0 1-7 1 2 1 3 1 12 1 0 1 3 1 4 1 5 1-2 1 3 1-9 1 19 1-6 1-7 1-3 1-1 1-17" vector-effect="non-scaling-stroke"/>
<path d="M150 224l1-8 1 9 1-11 1-19 1 27 1-7 1-26 1 22 1 31 1-12 1 29 1-1 1-25 1-22 1 17 1 9 1 18 1-7 1-4 1-14 1-2 1 1 1-2 1 14 1 10 1 10 1 0 1 4 1-2 1 13 1 6 1 3 1-6 1 18 1 23 1-7 1-2 1 0 1-7 1 2 1-7 1-19 1 3 1 8 1 46 1-14 1 2 1 7 1 19 1-6 1-17 1-4 1 18 1-3 1 13 1-10 1 4 1 15 1-2 1 1 1-15 1 1 1-4 1 20 1-4 1-5 1-29 1 43 1-8 1 3 1-12 1 13 1 1 1 14 1 24 1-24 1 1 1-11 1-6 1 10 1 13 1-13 1-13 1 30 1-19 1-5 1 15 1 8 1 10 1 1 1 13 1-16 1-8 1 12 1 0 1 7 1 1 1-12 1-4 1-10" vector-effect="non-scaling-stroke"/>
<path d="M150 203l1 3 1 0 1-1 1 7 1 6 1-1 1-6 1-4 1 15 1-1 1 5 1-11 1-6 1 10 1 6 1 9 1 8 1 13 1-7 1 1 1-12 1 7 1-6 1 1 1 8 1 12 1 11 1 4 1 2 1 19 1 2 1 0 1-7 1-2 1-2 1 3 1 7 1-6 1 3 1 15 1 6 1-2 1-2 1 7 1-8 1-1 1 1 1 0 1 2 1-4 1 11 1 9 1-2 1 10 1 9 1-7 1 4 1 4 1 3 1 1 1 4 1 0 1 0 1 1 1 5 1-8 1 8 1-2 1-8 1 3 1-4 1 3 1 9 1 1 1 6 1-2 1 11 1 5 1-7 1 4 1-3 1 2 1 3 1 5 1 6 1-7 1 2 1 3 1 1 1 6 1 1 1 5 1 0 1 5 1 0 1 6 1-10 1 7 1 2 1 2" vector-effect="non-scaling-stroke"/>
<path d="M150 170l1 4 1 19 1 9 1 13 1 26 1 8 1-34 1 13 1-2 1-9 1 7 1-5 1 15 1 4 1 1 1 22 1-13 1 14 1-4 1 12 1 2 1 12 1 20 1-13 1-7 1 0 1 8 1-22 1-1 1 12 1 18 1 8 1-15 1 5 1 5 1 5 1 9 1-6 1 7 1 2 1-19 1 16 1 1 1-1 1 6 1 0 1-7 1-8 1 7 1 0 1 1 1 6 1-2 1 14 1 3 1 2 1 9 1-3 1 11 1 3 1 3 1-1 1-6 1 10 1-12 1 7 1-8 1 14 1-6 1 11 1 1 1-9 1 18 1 2 1-5 1 4 1 4 1 20 1-2 1-7 1-12 1 16 1-8 1 6 1-6 1-3 1-13 1 14 1 11 1 0 1 5 1-17 1 8 1 16 1 4 1-8 1 4 1 6 1-14 1-1" vector-effect="non-scaling-stroke"/>
<path d="M150 212l1-4 1 1 1 4 1 0 1-7 1 11 1 12 1-4 1 13 1-1 1 3 1-3 1 5 1 0 1 5 1 25 1-7 1-14 1-15 1-11 1 0 1 23 1 3 1-3 1 3 1-13 1 21 1 21 1-4 1 17 1 6 1-14 1-5 1-8 1 2 1 5 1 2 1 11 1-5 1 14 1 5 1 17 1-4 1 13 1-9 1 7 1-12 1-9 1 16 1-1 1-6 1 18 1 21 1-12 1 22 1 15 1 6 1 1 1-3 1-16 1-10 1 7 1 1 1 3 1-6 1-3 1-4 1-8 1 1 1 21 1-3 1-9 1-3 1 3 1 23 1 1 1 5 1 4 1-1 1-14 1-3 1 13 1-6 1 0 1 13 1-2 1-4 1 1 1-19 1 7 1-6 1 5 1 5 1 11 1 10 1-4 1 1 1-5 1 10 1-6" vector-effect="non-scaling-stroke"/>
<path d="M150 235l1-8 1 1 1 7 1 7 1 2 1-22 1-17 1 16 1-18 1 6 1 17 1-1 1-12 1-4 1 1 1 22 1 5 1-6 1 3 1 7 1 2 1 17 1-16 1 12 1 10 1-5 1 9 1 8 1-11 1 8 1-11 1 17 1 1 1 21 1 6 1 6 1-21 1-8 1 4 1 7 1 1 1 26 1 0 1-4 1-6 1-8 1 13 1 3 1 9 1 9 1-8 1-17 1-2 1 13 1 15 1-9 1-7 1 0 1 0 1 9 1 13 1 4 1 7 1-1 1-14 1 0 1 12 1-1 1-3 1 7 1 5 1-10 1 1 1 16 1 6 1 4 1-2 1-7 1 3 1 3 1 15 1 17 1-4 1-6 1 9 1-5 1 4 1-4 1 13 1-8 1-4 1-8 1-3 1 4 1 12 1-9 1 6 1 8 1-2 1 8" vector-effect="non-scaling-stroke"/>
<path d="M150 178l1 2 1 5 1 15 1 4 1-13 1-9 1 5 1-9 1 17 1 23 1 2 1-5 1 11 1 17 1-7 1-3 1-14 1 3 1 17 1-6 1 24 1 10 1 20 1-19 1-11 1 17 1-1 1-6 1 7 1-1 1 4 1 11 1 19 1-6 1-6 1-1 1 1 1-8 1 15 1 14 1-10 1 13 1-11 1 13 1-11 1-2 1 9 1 10 1-8 1 5 1 9 1 4 1-2 1-2 1 21 1 13 1 11 1 6 1 6 1-22 1-5 1 3 1-12 1-3 1 16 1-12 1-7 1 10 1 18 1 1 1-13 1-7 1-9 1 2 1 5 1 1 1 9 1-1 1 2 1 9 1 6 1 16 1-1 1 10 1 3 1 5 1-2 1-11 1-14 1 12 1 5 1 10 1-16 1 1 1 9 1-1 1-1 1 9 1-1 1-13" vector-effect="non-scaling-stroke"/>
<path d="M150 180l1 4 1 2 1 0 1 13 1 3 1 9 1 8 1 22 1 16 1 4 1 0 1-1 1 1 1-5 1 3 1-24 1 0 1 17 1-4 1-1 1 1 1-2 1 0 1 9 1 16 1 2 1-6 1-9 1 8 1 7 1 9 1 4 1 16 1 12 1 5 1-6 1-12 1-5 1-2 1 4 1-3 1 2 1 4 1 11 1 6 1 11 1 7 1-9 1-1 1 0 1 7 1-1 1-2 1 13 1 0 1 1 1-7 1 4 1 11 1 4 1 2 1-1 1 7 1 4 1-1 1-1 1 5 1-2 1 10 1 4 1-3 1-5 1-3 1-1 1 4 1 4 1-7 1 3 1 4 1 5 1-2 1 8 1 3 1 1 1 6 1-8 1-6 1 2 1 5 1 4 1 11 1 2 1 3 1 10 1 11 1-1 1-7 1-6 1-8 1 12" vector-effect="non-scaling-stroke"/>
<path d="M150 205l1 7 1-6 1 2 1-22 1 4 1 1 1-6 1 6 1 5 1 10 1-6 1 25 1-6 1 1 1-22 1 16 1-11 1 27 1 30 1 15 1 11 1 14 1 5 1-4 1-11 1 24 1-6 1 19 1-16 1-12 1 10 1 20 1 13 1 0 1-3 1 3 1-33 1 16 1-19 1-20 1 5 1-3 1 35 1 9 1 42 1-19 1-14 1 3 1 16 1 5 1 18 1-18 1 23 1-10 1-4 1-16 1 17 1-5 1-10 1-6 1 24 1-23 1-32 1-10 1 11 1 39 1-3 1 12 1 19 1-7 1 1 1 6 1-7 1 3 1-1 1-21 1 2 1 8 1-5 1 2 1-10 1-14 1 21 1-8 1-13 1-12 1-3 1 13 1 15 1 13 1 9 1 14 1-14 1-14 1 14 1 14 1 0 1 30 1-2 1 2" vector-effect="non-scaling-stroke"/>
<path d="M150 176l1 0 1-11 1 10 1 19 1 12 1-12 1-1 1 61 1-56 1 3 1-9 1-3 1 46 1 10 1-46 1 18 1-5 1-25 1 34 1-59 1 35 1 42 1-14 1 10 1-21 1 43 1 55 1 18 1-28 1-3 1-15 1 29 1 0 1 31 1-6 1-53 1-9 1-3 1 14 1-23 1-3 1 38 1 4 1 21 1 8 1-9 1-17 1 18 1 26 1-34 1-33 1 29 1 1 1 16 1-23 1 12 1 7 1 25 1 15 1 29 1-13 1 21 1-12 1-27 1 27 1-49 1 7 1 4 1 20 1 6 1 7 1-14 1-17 1-1 1 8 1 5 1 16 1 4 1 15 1-11 1 6 1-9 1 7 1-14 1 12 1-24 1 41 1-8 1 18 1 14 1-13 1 11 1 30 1 19 1-15 1 10 1-10 1-40 1-16 1 9" vector-effect="non-scaling-stroke"/>
<path d="M150 203l1 0 1 4 1 2 1 17 1 12 1-24 1 8 1-9 1-4 1 1 1 8 1-23 1 11 1 9 1 8 1 7 1 2 1-2 1 10 1 0 1 17 1 4 1 7 1-21 1-18 1-6 1 37 1 17 1 4 1 6 1-9 1 10 1-39 1 37 1 27 1 1 1-4 1 12 1-23 1 12 1-7 1-14 1 12 1 0 1 5 1 20 1 6 1-6 1 0 1-8 1 5 1-12 1 36 1-5 1-12 1 9 1 13 1 17 1-11 1-20 1-14 1 6 1 16 1-4 1-2 1 9 1 21 1 17 1 8 1 4 1-4 1-2 1-14 1-8 1 1 1 0 1 1 1 6 1-5 1 13 1-6 1-1 1 2 1-8 1 9 1-7 1 23 1-12 1-18 1 13 1-3 1 7 1 12 1 20 1-16 1 23 1-9 1-15 1 6 1 7" vector-effect="non-scaling-stroke"/>
<path d="M150 198l1 5 1 5 1 12 1 10 1-7 1 7 1 7 1-9 1 8 1-6 1 9 1-5 1 7 1 6 1-14 1-11 1 20 1 5 1 11 1 0 1-14 1-5 1-4 1 4 1-5 1 9 1 18 1 13 1 16 1 0 1-8 1 4 1-7 1-7 1-1 1-1 1 7 1-7 1 2 1 7 1 11 1 5 1 12 1 3 1-1 1 7 1-3 1 3 1 11 1 4 1-5 1 0 1-12 1 2 1 8 1-10 1 3 1-5 1 12 1 4 1 10 1 4 1-3 1-2 1-3 1 12 1 4 1 10 1-2 1 11 1 2 1 5 1 2 1 0 1 1 1 1 1 1 1 0 1 8 1-9 1 5 1 1 1 2 1 2 1-4 1-1 1 3 1 7 1-4 1 2 1 8 1 8 1-7 1 6 1 9 1 1 1-12 1-4 1 8 1 0" vector-effect="non-scaling-stroke"/>
<path d="M150 172l1 14 1 0 1 19 1-3 1 6 1 4 1-13 1-6 1-5 1 40 1-4 1-11 1 24 1-8 1 35 1 48 1 2 1-43 1-25 1-7 1 13 1 13 1-25 1 16 1 0 1-31 1 27 1 14 1-1 1-2 1 11 1-9 1-20 1 0 1 4 1 27 1 6 1 40 1-4 1-13 1-8 1 4 1 11 1 32 1 20 1 10 1-16 1-6 1-13 1-2 1-4 1-9 1 1 1-12 1 20 1 19 1-7 1-27 1-2 1 4 1 0 1 19 1 23 1 20 1-2 1 17 1 4 1-32 1 6 1 10 1 12 1-28 1 16 1-9 1 32 1-18 1 0 1 10 1 3 1-3 1 22 1-13 1-5 1-4 1 2 1 15 1-10 1-6 1-1 1 6 1-5 1 9 1-16 1-3 1 8 1 20 1-9 1-9 1 6 1-15" vector-effect="non-scaling-stroke"/>
<path d="M150 210l1 1 1 1 1 7 1-7 1 8 1 16 1-1 1 0 1-4 1-24 1 7 1 7 1 3 1 20 1-4 1 13 1 3 1 0 1 12 1 6 1-4 1-12 1 2 1 2 1 4 1 11 1-2 1-17 1 3 1 8 1-5 1 0 1-6 1 11 1-2 1 1 1 21 1 8 1 0 1 6 1 0 1-1 1 2 1 10 1 12 1-5 1 16 1 1 1-1 1-4 1-1 1-1 1 9 1-11 1 19 1 5 1-7 1 5 1 5 1-6 1 13 1-2 1-7 1 3 1 0 1 7 1 7 1 10 1-10 1-10 1-2 1 5 1 2 1 6 1-3 1-13 1-2 1 7 1 29 1-8 1 7 1-2 1 1 1-3 1 4 1-6 1 22 1-3 1-7 1 10 1-3 1-2 1-4 1 4 1 3 1-3 1 11 1-7 1 3 1 7" vector-effect="non-scaling-stroke"/>
<path d="M150 145l1 7 1 9 1 16 1-5 1 15 1 4 1 24 1 16 1 0 1-30 1 26 1 0 1-2 1-14 1-12 1-1 1-14 1 19 1 23 1-10 1 9 1 34 1 13 1-10 1 7 1-19 1-11 1 15 1-22 1-8 1 2 1 0 1 34 1-6 1 48 1 36 1 15 1 15 1-6 1-27 1 21 1-17 1-19 1 0 1 14 1-8 1-15 1 5 1-2 1-18 1 15 1-20 1 16 1 8 1 0 1 21 1-4 1 19 1-1 1 8 1 14 1-22 1-3 1-5 1 17 1-14 1-1 1 15 1 6 1-7 1 15 1 20 1 9 1-13 1-4 1-15 1-21 1 5 1 5 1 31 1-4 1-8 1-4 1-6 1 12 1 8 1 4 1 18 1 18 1-14 1 13 1-35 1 13 1 1 1-18 1 5 1-9 1 4 1 7 1 12" vector-effect="non-scaling-stroke"/>
<path d="M150 205l1-2 1-2 1 18 1-6 1 1 1-11 1 27 1 13 1-53 1 13 1-10 1 36 1 6 1-7 1 8 1 3 1 14 1 22 1 13 1 8 1 14 1-29 1-18 1-14 1 19 1 18 1 14 1-2 1-11 1 8 1 18 1 10 1-5 1-21 1 27 1-28 1-12 1 12 1-22 1-11 1 18 1 10 1-14 1 4 1 8 1 20 1-9 1-17 1 11 1 30 1 9 1-10 1 6 1 5 1 10 1 22 1-8 1-4 1 8 1-31 1 14 1 1 1-6 1 3 1-3 1-6 1 3 1 0 1-9 1 10 1-7 1 2 1 12 1 5 1 5 1 14 1 6 1 6 1-21 1 15 1-4 1 4 1-4 1 18 1 3 1 0 1-6 1 6 1 6 1-10 1-6 1 13 1 6 1 7 1-11 1 7 1 6 1-10 1-13 1 12" vector-effect="non-scaling-stroke"/>
<path d="M150 224l1 2 1-5 1-14 1 7 1 0 1 3 1-1 1-1 1-8 1 10 1 1 1 10 1-12 1-9 1 19 1-1 1 5 1-7 1 21 1 19 1-9 1 6 1-14 1 18 1 10 1 13 1-5 1 12 1 0 1-16 1 9 1-5 1-3 1 9 1 12 1 16 1-2 1-19 1 4 1-4 1 8 1-9 1 8 1 1 1 11 1 13 1 2 1-6 1 12 1 5 1 5 1-9 1-14 1 12 1-21 1 18 1 6 1 1 1 8 1-3 1-1 1-6 1 8 1 17 1 3 1 8 1-15 1 18 1-25 1 6 1 12 1 3 1 9 1-4 1-6 1-1 1 6 1 0 1-14 1 21 1-1 1-7 1 7 1 17 1-6 1-2 1-5 1 0 1 2 1 6 1-5 1 14 1 8 1-5 1 7 1 5 1-3 1-1 1-7 1 3" vector-effect="non-scaling-stroke"/>
<path d="M150 206l1 0 1 0 1-2 1 8 1 12 1 0 1-2 1-19 1 13 1 11 1-1 1 10 1 4 1-26 1 8 1 4 1-4 1 23 1 15 1 9 1 3 1 0 1-12 1 4 1-3 1-1 1-6 1 10 1-6 1-1 1-8 1-4 1 24 1 13 1 12 1 4 1-1 1 4 1-2 1 3 1 16 1-1 1-4 1 10 1-5 1-2 1-4 1 12 1-2 1-1 1 12 1 10 1-5 1 10 1 1 1-8 1-4 1-16 1 1 1 20 1-7 1-2 1 1 1 11 1-2 1 23 1 10 1-6 1-3 1-7 1 4 1-5 1 4 1-3 1 14 1-7 1 12 1-13 1-3 1 10 1-6 1 9 1-3 1 5 1 6 1 8 1 6 1 0 1 6 1 7 1-7 1-1 1 7 1-8 1 3 1 5 1-5 1 7 1-4 1 4" vector-effect="non-scaling-stroke"/>
<path d="M150 212l1-9 1-7 1 9 1-1 1-8 1 8 1-1 1 19 1 5 1-4 1-1 1 23 1-6 1 5 1 18 1-34 1-15 1 5 1 8 1 7 1 26 1 11 1 8 1 10 1 8 1-11 1 1 1-1 1-2 1-3 1 2 1-3 1-7 1 10 1 8 1 5 1 18 1-12 1-6 1 4 1-12 1 22 1 1 1-2 1 28 1 12 1-3 1-10 1 0 1 5 1 0 1-3 1 1 1-10 1-6 1-7 1 3 1 7 1 6 1 20 1 1 1 0 1-2 1 9 1 11 1 1 1 3 1 0 1 22 1-11 1-12 1 10 1-12 1 0 1-4 1 6 1-3 1 3 1 8 1 8 1 0 1 12 1 2 1-8 1 13 1-16 1-3 1-22 1 13 1 1 1 16 1 8 1 8 1-5 1-2 1-6 1-3 1 5 1-1 1 6" vector-effect="non-scaling-stroke"/>
<path d="M150 150l1 6 1 46 1 3 1 7 1-35 1 22 1 22 1-4 1-5 1-50 1-12 1 1 1 1 1 18 1-45 1 14 1-17 1 65 1 29 1-59 1 29 1-16 1 18 1-54 1 69 1 26 1 26 1 2 1 1 1-23 1 11 1-20 1-28 1-3 1 88 1 14 1-4 1-19 1 13 1-38 1 6 1-2 1 19 1 18 1 1 1 11 1 0 1 41 1-21 1-8 1 27 1 20 1-18 1 34 1 14 1 5 1 17 1-36 1-25 1-13 1 1 1-19 1-4 1-18 1-12 1 30 1 47 1 16 1 3 1-21 1-8 1-3 1-3 1 14 1 7 1 19 1 17 1-4 1 28 1 8 1-22 1-5 1-9 1-19 1 28 1-19 1 4 1-7 1 18 1 16 1-8 1 25 1-8 1 21 1 5 1-20 1-5 1-11 1 5 1 14" vector-effect="non-scaling-stroke"/>
<path d="M150 193l1 9 1-3 1-11 1 9 1 4 1 16 1 10 1-9 1-11 1 4 1 8 1 31 1-17 1 3 1 1 1-6 1-9 1 3 1 31 1-5 1 2 1 26 1 9 1-7 1 11 1-13 1 4 1 7 1-7 1 6 1 7 1-5 1 16 1-3 1-11 1 1 1-1 1-6 1-14 1 3 1 10 1 7 1-4 1 15 1-4 1-6 1-3 1 0 1 15 1 1 1 5 1 0 1 8 1 5 1 19 1 2 1 14 1-6 1-13 1-7 1-9 1-13 1 25 1 5 1-2 1-12 1 13 1 2 1 15 1 6 1-2 1 4 1-11 1-8 1 17 1-13 1-10 1 7 1 0 1 1 1-3 1 6 1 1 1 22 1 4 1-14 1 9 1 8 1 3 1 17 1 12 1-10 1 0 1-2 1-2 1-1 1-3 1 15 1-2 1-2" vector-effect="non-scaling-stroke"/>
<path d="M150 240l1-4 1-16 1 6 1 8 1 1 1-17 1-2 1 17 1-26 1-15 1 34 1-10 1-42 1 10 1 5 1 54 1-14 1-36 1-2 1 2 1 22 1 3 1 9 1-7 1 16 1 9 1 14 1 43 1-5 1 16 1 8 1 10 1 8 1 6 1-4 1-24 1-15 1 3 1-17 1 3 1 6 1-13 1-7 1 13 1 18 1 5 1 0 1 31 1-5 1-12 1-11 1 6 1-9 1 7 1 18 1 6 1-7 1 18 1-1 1 6 1 7 1 9 1 12 1-24 1 4 1-7 1-13 1 11 1 3 1 3 1-3 1 6 1 18 1-8 1-3 1-11 1 3 1 5 1 23 1 11 1-2 1-5 1 1 1 5 1-2 1-5 1-7 1-13 1-4 1 8 1 12 1 5 1-14 1-5 1 1 1 5 1 12 1 10 1-5 1 2" vector-effect="non-scaling-stroke"/>
<path d="M150 175l1 8 1 7 1 10 1 28 1-7 1-9 1 4 1 16 1 10 1 17 1-30 1-30 1-21 1 24 1 22 1 4 1-5 1 9 1-10 1-17 1 11 1 8 1-7 1 11 1 23 1-16 1 21 1 31 1 0 1-35 1 34 1-4 1-1 1 10 1 24 1-23 1-3 1 3 1-12 1 19 1-33 1 31 1 31 1 17 1-1 1-3 1 7 1 4 1 18 1-30 1-5 1-14 1-9 1 3 1 15 1-21 1 21 1 22 1-11 1-1 1-2 1 14 1 2 1-5 1-14 1 9 1 0 1 6 1 32 1-8 1 2 1-2 1 11 1-3 1 7 1 15 1 0 1-1 1 2 1-18 1 7 1-8 1-10 1 19 1-2 1-17 1 23 1-14 1 6 1 13 1 3 1 9 1 0 1-8 1-15 1 11 1 0 1 1 1 5 1 19" vector-effect="non-scaling-stroke"/>
<path d="M150 218l1 6 1-1 1-2 1-2 1-11 1 7 1-17 1 6 1 4 1 16 1 5 1 4 1 5 1 13 1 0 1-28 1 13 1-10 1 21 1 18 1-15 1 3 1-10 1-6 1 15 1 17 1-9 1 16 1 6 1 4 1-1 1-3 1-2 1-5 1 17 1 8 1-15 1 5 1 11 1-4 1 11 1-9 1 5 1 6 1 12 1 2 1-4 1 5 1-3 1-7 1 3 1 6 1-3 1 8 1-10 1 14 1-13 1 9 1 12 1 10 1 7 1-9 1-1 1-3 1-2 1-2 1 22 1-2 1-4 1-6 1 7 1-1 1 11 1-4 1-3 1 13 1-2 1-10 1 10 1 10 1-12 1 2 1 3 1 4 1 4 1 4 1 8 1 7 1 5 1-6 1-13 1-4 1 4 1 2 1 8 1-2 1 6 1 6 1 5 1 6" vector-effect="non-scaling-stroke"/>
<path d="M150 203l1 4 1-1 1-10 1 7 1 16 1-6 1 3 1-7 1 14 1 12 1-1 1 4 1-10 1 1 1-4 1-1 1 19 1 6 1-15 1-2 1 11 1-13 1 6 1 3 1 20 1 7 1-8 1-15 1 10 1 17 1-3 1-3 1 1 1 3 1 14 1 0 1 4 1-1 1 10 1 9 1 1 1 4 1 0 1-8 1 6 1 3 1-1 1-4 1 7 1-8 1 6 1 10 1 9 1 0 1-2 1 2 1 0 1 7 1 4 1-9 1 2 1-4 1-3 1 15 1-6 1 8 1 6 1 10 1-8 1 14 1-7 1 5 1-4 1 3 1 5 1 8 1 11 1 7 1 1 1-5 1-1 1-8 1-1 1-2 1 8 1-4 1 5 1 4 1-4 1 15 1-4 1 3 1 10 1 1 1-6 1-1 1 1 1 0 1 4 1 9" vector-effect="non-scaling-stroke"/>
<path d="M150 162l1 16 1 7 1 18 1 7 1-20 1 7 1 7 1-20 1 0 1 6 1 8 1 16 1 29 1 0 1 1 1-4 1 17 1-4 1-1 1 28 1-37 1 7 1-4 1 7 1-6 1-4 1-12 1 28 1-12 1-8 1 14 1 1 1 23 1 15 1-4 1 6 1 15 1-6 1 5 1 11 1-10 1-28 1 12 1 20 1 1 1 9 1-14 1 23 1 0 1-16 1 19 1 0 1 31 1-19 1 0 1-26 1 13 1 2 1 6 1 12 1-4 1 4 1-6 1 6 1-2 1 6 1-3 1-4 1 5 1-7 1 3 1 15 1 0 1 20 1-7 1-3 1 7 1-6 1 11 1-11 1-15 1 3 1 18 1 0 1 4 1-9 1 5 1 5 1-1 1-4 1 6 1 7 1 8 1 6 1-10 1-1 1 2 1 2 1 11 1 3" vector-effect="non-scaling-stroke"/>
<path d="M150 206l1 7 1 3 1-4 1 8 1 5 1 6 1 8 1 19 1 5 1-8 1 5 1-18 1 2 1-13 1 9 1 10 1 18 1-11 1 0 1 5 1 2 1-3 1 8 1 3 1 17 1 9 1 13 1 4 1-27 1 23 1-2 1-9 1 9 1-6 1 15 1 6 1 9 1 0 1 0 1-13 1-12 1-7 1-2 1-26 1 23 1 25 1 1 1 6 1-21 1-3 1 22 1-9 1 7 1 7 1 0 1 7 1 2 1 9 1 17 1-8 1 0 1-6 1-3 1 2 1 7 1 7 1 7 1-7 1-10 1 9 1 13 1-7 1-6 1-6 1-7 1 7 1 12 1-5 1 1 1 15 1 3 1 0 1-5 1 1 1 0 1 0 1 18 1 5 1-3 1 3 1-1 1-1 1 2 1 18 1 3 1-2 1-13 1 3 1 1 1-3" vector-effect="non-scaling-stroke"/>
<path d="M150 217l1-2 1 1 1-9 1-14 1 15 1-3 1 31 1 20 1 6 1-3 1-7 1-41 1-5 1 7 1 7 1 18 1 16 1-18 1 19 1-8 1-1 1 24 1-25 1-1 1-4 1-1 1 12 1 6 1-1 1 0 1-15 1-20 1 43 1 23 1-13 1 12 1 2 1 7 1 33 1-18 1 7 1-17 1-15 1 27 1 43 1-18 1-34 1-5 1 7 1-17 1 39 1 4 1 0 1-4 1 21 1-16 1-26 1 0 1 5 1 15 1 18 1 0 1-2 1 8 1 12 1 13 1-15 1 7 1-11 1-2 1 14 1-18 1 30 1 27 1-16 1-5 1-19 1-5 1 7 1 14 1 25 1 6 1-20 1 0 1 1 1 21 1 9 1 9 1 3 1-9 1 6 1-3 1 6 1-6 1 7 1-14 1-3 1 8 1 7 1-7" vector-effect="non-scaling-stroke"/>
<path d="M150 203l1 0 1 3 1-7 1 18 1 0 1 0 1-1 1 4 1 8 1 17 1-11 1-20 1 3 1-10 1-2 1 18 1 3 1 18 1-5 1 3 1-5 1 5 1 3 1 8 1 21 1 6 1-6 1-4 1 1 1-24 1 16 1 26 1 1 1 4 1 4 1 6 1 9 1-11 1-19 1-8 1 15 1 8 1 20 1-1 1-11 1 11 1 1 1-8 1-12 1 5 1 20 1 5 1-2 1 14 1 4 1-11 1 9 1 0 1-11 1 12 1-10 1 12 1 15 1 7 1-2 1-16 1-1 1 1 1 0 1 13 1-1 1 19 1 2 1 4 1-9 1-9 1 7 1-9 1 18 1-15 1 0 1 8 1 16 1-12 1 12 1-9 1 10 1-3 1-2 1 6 1 2 1-2 1 1 1 14 1 8 1-4 1 2 1 3 1-3 1 8" vector-effect="non-scaling-stroke"/>
<path d="M150 182l1 3 1 1 1-2 1-16 1 9 1 31 1 2 1-2 1 7 1 4 1-21 1-12 1 8 1 25 1 7 1-27 1 13 1 8 1 17 1-7 1 2 1 7 1 0 1 6 1 16 1 17 1 0 1 19 1-8 1-5 1-2 1-9 1 10 1 9 1-9 1 22 1 16 1-11 1 17 1 6 1-14 1 1 1-22 1 4 1 0 1 6 1 8 1 10 1 20 1 3 1-15 1 8 1-6 1 10 1-13 1 1 1-14 1 4 1 9 1-7 1 11 1 12 1 0 1 2 1-3 1 3 1 20 1-12 1 7 1-1 1 8 1-8 1-5 1 16 1-7 1-9 1-3 1-11 1 6 1 5 1-11 1 10 1 11 1 6 1 3 1 13 1 0 1-12 1 7 1 13 1-2 1-4 1 5 1 5 1-5 1 4 1 11 1-1 1 7 1-3" vector-effect="non-scaling-stroke"/>
<path d="M150 174l1 11 1 1 1 12 1-8 1 9 1-2 1 22 1 1 1-7 1 22 1 4 1 35 1-8 1-7 1 4 1 2 1 14 1 8 1 10 1-29 1 19 1-5 1 8 1-15 1-13 1 23 1-1 1-12 1 3 1 3 1 6 1-8 1-19 1 14 1 32 1-1 1 3 1 20 1-3 1-13 1 21 1-6 1-19 1 11 1-5 1 10 1-10 1 13 1 3 1 8 1-11 1-5 1 10 1-4 1 13 1-10 1 15 1 28 1 6 1-27 1-7 1-7 1 21 1-8 1 8 1 0 1 0 1-1 1 17 1-6 1 9 1-16 1 7 1 3 1 2 1 12 1-5 1 3 1 7 1 8 1-9 1-8 1 6 1-10 1 10 1 4 1 13 1 11 1-23 1 1 1-1 1 14 1 0 1-8 1-4 1 8 1 1 1-4 1 16 1 6" vector-effect="non-scaling-stroke"/>
<path d="M150 182l1 10 1 0 1-3 1 13 1 19 1 11 1-2 1-10 1 2 1 2 1 2 1-8 1 5 1 3 1-25 1 39 1-21 1 11 1 28 1-8 1-19 1-12 1 30 1-15 1-11 1 14 1 53 1 23 1 6 1-20 1 38 1-24 1 21 1 18 1-11 1 8 1 22 1-3 1-54 1 0 1 24 1-20 1 1 1 4 1-10 1 46 1-30 1-16 1 32 1-25 1-7 1-7 1-8 1 0 1 19 1 29 1 22 1-5 1 9 1-24 1 18 1-1 1-6 1 14 1-10 1-6 1-3 1 6 1-3 1 0 1 6 1 29 1 9 1 4 1-7 1-8 1-5 1 20 1-38 1-2 1 0 1-7 1 5 1-21 1-3 1-24 1 34 1 7 1 14 1-8 1 2 1-8 1 16 1-1 1 8 1 6 1 21 1-4 1-25 1 0" vector-effect="non-scaling-stroke"/>
<path d="M150 201l1-1 1-3 1 6 1-2 1 3 1-1 1 1 1-5 1 4 1 10 1 3 1 14 1 13 1 4 1-2 1 5 1-6 1-6 1 6 1 0 1-7 1 4 1 5 1 3 1 6 1 15 1 5 1-3 1-2 1 3 1 10 1 4 1-2 1 12 1-7 1 3 1 2 1-4 1 3 1 11 1-4 1 2 1 1 1 5 1-1 1 10 1-3 1 7 1 3 1 2 1-2 1 8 1-3 1 5 1 7 1 7 1-4 1-2 1 6 1 1 1 9 1 2 1-3 1 11 1-6 1-9 1 14 1-5 1 7 1 2 1 4 1 2 1-1 1-2 1 4 1-6 1-4 1 12 1-1 1 4 1-2 1 4 1 9 1 0 1 1 1-2 1 1 1-1 1 7 1-5 1 1 1-3 1 3 1 0 1 3 1 4 1 1 1-4 1 6 1-1" vector-effect="non-scaling-stroke"/>
<path d="M150 184l1 9 1 9 1 5 1 18 1 14 1 0 1 9 1-3 1-7 1 3 1-9 1-10 1 2 1 4 1 10 1-2 1 7 1 21 1 14 1 0 1-16 1-6 1 3 1-7 1 8 1 6 1 5 1 18 1-16 1 5 1 9 1 9 1-6 1-8 1 9 1-3 1 4 1-6 1 13 1 8 1 5 1 0 1-1 1 0 1 13 1 0 1 7 1-5 1-1 1 0 1 5 1-1 1 12 1 2 1 1 1 4 1 4 1 0 1 6 1-1 1-4 1 2 1-1 1-7 1-3 1 16 1-13 1 11 1-8 1 13 1-2 1 9 1 2 1 2 1-3 1-6 1-8 1-6 1 14 1 10 1 5 1-5 1 11 1 9 1 0 1 3 1-6 1 3 1-3 1 7 1 15 1-5 1-11 1 2 1-2 1 1 1-4 1 9 1 6 1-2" vector-effect="non-scaling-stroke"/>
<path d="M150 177l1 17 1 9 1 6 1-11 1 1 1-5 1 18 1-13 1-11 1 0 1-21 1 9 1 22 1-11 1 23 1 22 1-21 1 7 1 0 1 13 1 24 1 6 1 11 1 5 1 3 1 5 1 20 1-6 1-14 1 15 1-8 1-8 1 9 1-13 1-11 1 10 1 19 1-1 1 3 1 12 1 0 1 4 1 2 1 8 1-22 1-1 1 9 1 15 1-5 1-3 1-14 1 6 1 7 1 6 1-7 1 9 1 15 1 13 1-1 1 8 1-4 1-21 1-1 1 5 1-5 1 12 1 2 1 12 1 2 1 0 1 5 1 5 1 2 1 6 1 13 1-7 1-1 1-6 1 7 1 9 1-10 1-2 1-7 1-1 1 16 1-4 1 0 1-3 1 11 1 5 1 3 1 8 1 18 1-16 1 5 1 3 1 10 1-2 1 2 1 3" vector-effect="non-scaling-stroke"/>
<path d="M150 216l1-3 1-4 1 0 1 11 1-5 1-3 1-1 1-3 1 10 1-3 1 7 1-4 1 15 1 3 1 8 1 1 1-5 1 12 1 6 1-1 1 13 1 6 1 3 1-2 1-14 1 6 1 5 1-13 1 8 1-9 1-3 1 5 1 10 1 3 1 9 1 16 1-9 1-9 1 6 1 8 1 7 1 4 1 12 1 1 1 5 1 0 1-6 1 10 1 3 1-1 1 1 1 4 1-5 1 4 1-4 1 10 1 9 1 7 1 2 1-11 1 6 1-1 1 2 1 11 1 5 1-4 1-3 1 2 1 5 1 9 1 6 1 7 1 7 1-11 1-6 1 4 1 2 1-5 1-9 1 5 1-4 1 10 1-6 1 3 1 6 1 7 1 7 1 2 1-6 1 1 1 0 1 5 1-5 1 7 1 0 1 7 1-7 1 2 1 3 1 9" vector-effect="non-scaling-stroke"/>
<path d="M150 198l1 6 1-4 1 20 1 29 1-27 1-6 1-21 1 24 1-14 1 8 1-9 1-7 1 16 1-4 1 3 1 11 1-10 1-3 1 17 1 24 1-26 1 12 1 16 1 12 1-4 1 7 1-24 1 9 1 10 1 12 1-29 1 25 1 13 1-10 1-1 1 4 1-10 1 28 1-9 1 6 1 20 1 14 1 7 1 6 1-33 1 15 1 27 1-3 1-19 1-10 1 11 1 2 1 8 1 14 1-13 1-1 1-16 1 11 1-7 1 2 1-3 1 10 1-13 1 9 1-2 1 17 1 14 1-2 1 21 1 2 1-5 1 2 1-17 1 4 1-3 1 10 1-9 1 3 1-18 1-4 1-10 1 32 1-2 1-7 1 21 1-8 1 6 1 7 1 5 1 9 1 20 1-4 1 7 1 12 1-30 1-3 1-3 1 1 1 12 1 8" vector-effect="non-scaling-stroke"/>
<path d="M150 187l1-4 1-1 1 13 1 29 1 25 1-1 1-12 1-17 1 7 1-10 1 35 1 3 1 2 1-11 1-3 1 15 1 0 1-10 1-9 1 27 1-16 1 9 1-23 1 28 1 13 1-7 1-3 1 11 1-10 1-6 1 17 1 13 1-3 1 6 1 7 1 5 1-17 1 28 1-5 1 0 1-9 1 16 1 13 1 43 1-1 1-23 1-20 1-6 1 2 1-9 1-29 1 10 1 3 1 14 1 27 1 2 1-15 1 4 1 3 1-12 1 13 1 5 1-19 1 9 1-18 1 1 1 33 1-4 1 12 1 11 1-18 1 9 1-6 1 1 1 6 1 13 1-22 1 18 1 14 1-8 1 0 1 15 1-9 1-8 1 10 1 9 1-20 1-1 1-12 1 27 1 5 1-1 1 37 1-12 1 25 1-43 1-4 1-11 1 0 1 18" vector-effect="non-scaling-stroke"/>
<path d="M150 222l1-7 1 0 1 0 1 13 1 23 1-15 1-1 1 29 1-7 1-11 1-7 1-1 1-10 1 8 1 6 1 2 1-8 1 0 1-13 1 9 1 6 1 22 1-8 1-9 1 11 1 10 1 0 1-9 1-6 1 7 1 16 1 15 1-21 1 11 1 23 1 11 1-3 1 4 1-9 1 0 1 11 1 26 1 10 1-8 1-17 1-6 1 5 1-10 1 16 1 9 1-4 1 10 1-5 1 3 1-10 1 10 1 19 1-2 1-15 1 6 1 5 1-9 1 5 1 19 1 11 1-21 1 21 1-9 1 4 1-18 1-1 1 37 1-6 1 3 1-11 1-14 1 0 1 18 1-18 1 11 1 2 1 4 1 3 1 16 1-3 1-10 1-2 1 2 1 10 1 5 1-18 1-4 1-1 1 7 1 4 1 1 1 26 1-7 1-3 1 16" vector-effect="non-scaling-stroke"/>
<path d="M150 194l1 4 1 6 1 8 1-8 1 6 1 9 1 5 1 2 1 5 1 2 1-1 1 19 1 2 1-4 1 3 1 8 1 6 1 17 1-16 1-12 1-9 1 3 1 1 1 0 1 3 1 3 1 4 1 13 1-3 1 9 1-10 1 5 1-3 1-6 1 8 1 1 1-6 1 12 1 5 1 20 1 6 1 2 1 3 1 0 1-1 1 5 1-4 1 0 1 15 1 4 1-8 1 4 1 0 1 2 1 6 1-7 1 8 1-2 1 1 1 5 1 7 1-1 1-4 1 1 1-3 1 7 1 5 1 1 1 0 1 0 1 4 1 13 1-3 1 6 1-3 1 1 1 7 1 3 1-4 1-1 1 5 1-4 1-5 1-4 1 8 1 1 1 0 1 1 1 4 1-1 1 2 1-2 1 5 1 2 1 4 1 0 1 0 1 8 1 4 1 3" vector-effect="non-scaling-stroke"/>
<path d="M150 209l1-8 1 5 1 6 1 30 1-28 1 10 1-13 1-11 1 14 1 11 1-5 1 19 1 5 1-9 1 9 1-18 1-12 1 13 1 9 1 20 1-22 1 5 1 16 1 4 1-18 1 0 1 18 1-1 1-14 1 9 1 13 1-9 1 35 1 7 1 16 1 3 1-8 1 16 1-2 1 6 1-7 1-9 1-2 1-14 1-8 1 18 1-13 1 12 1 13 1 18 1-6 1 35 1 2 1 0 1-12 1-4 1 25 1-25 1-5 1 13 1 2 1 16 1-15 1-5 1 4 1-4 1 4 1 8 1 4 1-8 1 14 1-12 1 10 1-10 1-12 1-8 1 7 1 12 1 6 1-16 1-17 1 3 1 20 1 11 1 3 1 3 1 0 1 7 1-4 1 17 1-3 1-8 1 25 1-3 1 11 1 2 1-9 1-2 1 8 1 6" vector-effect="non-scaling-stroke"/>
<path d="M150 207l1-8 1 0 1-7 1 3 1 1 1 8 1 13 1-4 1-17 1 4 1 17 1 7 1-3 1 6 1-12 1 1 1 8 1 17 1-1 1 22 1-1 1-5 1 3 1-10 1-1 1 7 1 3 1 3 1 4 1-7 1 19 1 5 1-5 1-1 1 9 1-1 1 14 1 0 1-7 1 5 1 1 1-1 1 7 1 6 1-5 1-4 1 8 1 8 1 11 1 1 1-3 1 8 1-13 1 8 1 6 1-1 1 0 1 6 1 3 1-3 1-2 1-7 1-1 1-2 1 15 1 2 1 8 1 7 1-2 1 4 1 4 1 3 1 1 1-3 1 12 1-8 1-4 1 12 1-4 1 5 1 6 1 1 1-2 1 5 1 0 1 7 1-10 1 12 1 2 1 5 1 2 1-10 1 8 1 9 1 8 1 9 1 4 1-13 1-4 1 4" vector-effect="non-scaling-stroke"/>
<path d="M150 204l1-8 1-2 1 0 1 12 1 12 1 9 1-20 1 12 1-3 1-5 1 18 1-10 1 19 1-4 1 7 1 16 1-15 1-6 1-20 1 18 1 21 1 1 1 5 1-10 1-4 1-1 1-4 1 15 1 18 1 7 1 7 1 9 1-13 1 9 1 14 1-2 1 21 1-9 1 0 1-16 1-6 1 10 1 8 1 2 1 7 1 3 1 4 1 7 1 2 1 8 1 4 1-17 1-8 1 19 1-9 1 9 1-7 1 11 1-2 1-10 1 12 1 2 1 11 1-13 1-10 1 18 1-3 1 12 1 16 1 9 1-8 1-10 1-4 1 2 1 4 1 7 1 3 1 17 1 12 1-10 1-2 1 8 1-6 1-2 1-6 1 13 1 6 1-9 1 0 1-12 1-8 1 15 1 7 1 10 1-8 1 3 1 1 1 7 1-5 1 24" vector-effect="non-scaling-stroke"/>
<path d="M150 188l1-2 1-1 1 2 1 0 1 27 1-33 1-3 1-14 1 10 1 12 1 12 1 2 1 5 1 20 1-2 1-9 1 7 1 10 1-2 1-9 1 15 1 38 1-5 1 22 1-24 1-6 1-6 1 17 1 1 1 1 1 0 1 2 1 9 1 7 1-2 1 9 1-2 1 12 1 18 1-9 1-17 1-16 1 0 1 4 1-6 1 11 1-3 1 11 1 4 1 32 1 6 1-25 1-2 1-10 1 14 1 4 1 8 1-11 1 2 1 2 1 10 1 1 1 6 1 5 1 3 1 9 1 8 1 2 1 0 1-6 1 9 1 1 1-3 1 13 1 5 1-2 1 0 1-2 1 9 1 3 1-1 1-4 1 9 1-2 1-4 1-6 1-2 1 10 1 8 1 3 1 0 1 3 1 8 1 1 1 2 1 12 1-4 1-3 1-11 1 8" vector-effect="non-scaling-stroke"/>
<path d="M150 186l1 11 1 7 1-2 1 9 1 2 1-13 1 15 1 9 1 18 1 9 1 4 1 19 1-9 1-3 1-25 1 12 1 10 1 25 1 0 1 1 1-17 1-11 1-22 1 20 1 4 1-26 1 19 1 8 1 1 1-10 1-1 1 14 1 18 1 2 1-5 1 4 1 3 1 5 1-12 1 3 1-5 1 8 1 6 1 16 1 4 1 11 1-3 1 3 1 9 1-4 1-4 1 19 1-18 1-4 1 2 1 16 1-12 1 10 1 15 1 16 1-10 1 26 1-9 1-34 1 15 1-20 1-7 1 11 1 9 1 19 1-19 1 15 1-5 1 19 1 6 1-9 1 17 1-2 1-19 1-20 1 3 1 13 1 10 1-3 1 7 1-4 1 9 1 16 1 14 1-5 1-15 1 12 1 3 1-23 1 26 1-3 1-2 1 9 1-3 1-2" vector-effect="non-scaling-stroke"/>
<path d="M150 188l1 12 1 4 1 15 1-17 1 1 1 14 1-19 1-28 1 10 1 41 1 12 1-37 1 11 1 2 1 6 1 3 1 4 1-11 1 4 1-7 1 15 1-8 1 6 1 21 1 18 1 13 1-9 1-9 1 22 1-6 1-3 1 5 1-7 1 8 1 7 1 4 1 5 1 27 1 2 1-5 1 7 1 32 1-20 1-16 1 12 1-21 1 10 1-2 1-1 1 1 1-4 1 17 1-10 1-2 1 12 1 6 1 4 1 1 1-3 1-12 1-5 1 4 1 5 1 11 1 9 1 13 1-16 1-11 1 8 1 11 1-8 1 8 1 10 1-7 1-2 1-12 1 12 1 5 1 7 1 22 1 0 1 13 1-9 1-2 1 8 1-15 1 6 1 4 1-9 1 25 1-14 1 7 1 20 1 4 1-5 1-16 1 26 1-14 1-10 1-3" vector-effect="non-scaling-stroke"/>
<path d="M150 173l1 10 1 2 1-3 1 7 1 10 1 13 1-2 1-5 1 4 1 16 1 13 1-20 1-2 1-25 1 12 1-4 1 3 1 25 1 5 1 1 1 9 1-16 1 14 1 16 1 6 1 7 1 3 1 21 1 9 1-5 1-13 1 10 1 0 1-4 1-4 1 8 1-10 1 22 1 1 1-12 1 1 1-3 1 7 1 5 1-1 1 1 1 12 1-11 1 4 1 9 1 23 1 0 1 2 1 0 1 7 1-8 1 0 1 1 1 9 1-7 1-11 1-4 1 15 1-6 1-1 1 15 1-5 1 4 1 6 1-10 1 5 1 9 1-12 1 7 1 5 1-1 1 5 1-2 1-4 1-3 1 14 1 10 1-2 1-4 1 13 1 3 1 11 1-8 1 1 1 27 1-2 1-7 1 2 1-2 1-4 1 16 1-7 1-3 1-6 1-2" vector-effect="non-scaling-stroke"/>
<path d="M150 226l1-3 1-12 1 5 1-4 1-3 1 12 1-7 1 3 1 7 1 12 1-11 1 0 1 8 1-11 1 9 1 5 1 6 1 10 1 10 1 9 1-14 1 2 1-6 1-9 1 1 1 7 1 3 1 4 1 12 1-4 1 5 1 5 1 13 1-15 1 1 1 1 1 6 1 4 1 8 1 22 1 6 1-15 1-2 1 5 1 3 1-1 1 16 1-9 1 13 1-2 1-2 1 14 1-5 1 0 1 0 1-7 1 0 1 13 1 5 1 1 1-5 1 10 1 6 1 1 1-7 1-4 1-7 1 8 1-6 1 17 1 6 1-7 1 6 1-5 1-2 1 4 1 5 1-3 1 7 1-6 1-1 1 3 1-1 1 2 1 7 1 6 1 6 1-5 1 6 1 1 1 0 1 1 1-4 1 8 1 6 1 5 1 3 1 11 1-3 1 2" vector-effect="non-scaling-stroke"/>
<path d="M150 184l1 6 1 11 1 4 1-2 1 12 1 10 1-8 1-6 1 1 1 8 1-3 1 6 1 6 1 16 1 4 1-6 1-5 1 0 1 3 1-11 1 1 1 11 1 19 1 7 1-1 1 11 1-9 1 3 1 12 1-5 1 12 1-20 1 3 1-2 1 7 1 9 1 14 1-3 1 6 1-11 1 11 1-7 1-6 1 6 1 5 1 1 1 9 1 4 1 0 1-2 1 20 1 1 1 7 1-3 1 1 1 11 1 0 1-2 1 5 1-4 1-1 1 2 1 12 1-1 1 1 1-1 1 0 1 3 1-9 1-8 1 7 1 4 1 4 1 6 1 5 1-1 1-2 1 11 1-7 1 1 1-3 1-5 1 8 1 9 1 4 1-5 1-5 1 15 1-7 1 13 1-4 1 9 1 8 1-7 1 2 1-8 1-3 1 7 1 7 1 0" vector-effect="non-scaling-stroke"/>
<path d="M150 182l1 15 1 23 1-12 1 0 1 5 1 7 1-21 1 2 1 0 1 25 1 6 1 8 1 14 1-5 1-6 1 14 1-6 1 7 1 3 1-3 1 6 1 21 1 6 1 1 1-2 1 6 1 15 1 12 1-29 1-25 1-17 1-15 1 26 1 12 1 18 1 11 1-32 1-18 1 9 1 2 1 10 1 10 1 20 1-30 1 9 1 1 1 17 1 20 1 6 1-4 1 15 1 6 1 7 1-16 1-17 1 17 1-10 1-5 1 7 1-10 1-8 1 19 1 15 1 18 1-2 1 1 1 4 1 12 1-16 1-1 1 23 1-6 1 0 1-1 1-9 1-11 1 1 1 2 1 7 1 13 1 0 1-6 1 9 1-2 1-10 1 0 1 6 1 22 1-3 1 19 1 3 1-3 1-4 1 2 1 5 1 9 1 13 1-12 1-13 1-1" vector-effect="non-scaling-stroke"/>
<path d="M150 173l1 12 1 10 1 9 1 15 1-10 1 21 1 0 1 46 1-21 1 7 1 21 1-29 1-8 1 23 1-12 1 30 1-27 1 3 1-22 1 4 1-10 1-31 1 46 1 21 1-18 1-41 1 31 1-26 1 45 1 25 1 32 1 28 1-36 1 3 1 42 1-12 1-17 1 11 1 20 1-6 1-14 1 35 1-23 1-11 1 5 1 39 1-26 1-20 1-18 1 28 1-8 1 17 1-14 1-2 1 11 1-20 1-10 1-33 1 16 1 1 1 18 1 9 1-31 1 32 1-18 1 0 1 7 1 34 1-9 1-19 1 18 1 10 1-8 1 34 1 34 1-24 1-10 1-13 1-14 1 9 1 26 1-14 1 24 1 21 1 7 1-9 1-9 1 28 1-11 1 17 1-15 1 3 1-10 1-5 1 22 1-5 1 1 1 1 1-7 1 5" vector-effect="non-scaling-stroke"/>
<path d="M150 199l1-5 1-7 1-3 1 12 1 8 1-11 1 20 1 13 1 10 1 8 1-12 1-9 1-16 1 6 1 23 1 0 1 33 1-4 1-1 1 18 1-15 1 7 1 1 1-3 1 17 1-15 1-1 1-3 1-10 1 10 1-15 1 21 1-6 1 11 1 18 1-15 1 12 1 2 1-2 1 14 1 3 1-1 1 17 1 5 1 5 1-5 1 32 1-11 1-10 1-24 1 20 1 3 1 6 1-3 1-2 1 20 1-1 1-4 1 7 1-12 1 7 1-11 1-9 1 5 1-2 1-2 1 16 1-6 1 7 1 20 1-18 1 4 1-18 1-4 1 25 1-6 1 4 1 6 1-1 1 11 1 2 1 9 1 8 1-3 1-10 1 1 1 3 1-2 1 3 1-1 1-8 1 10 1 8 1 7 1 5 1-8 1-7 1-5 1-1 1 14" vector-effect="non-scaling-stroke"/>
<path d="M150 189l1 4 1-3 1-3 1 15 1-6 1 14 1-6 1 2 1 9 1-22 1 14 1-4 1 18 1 21 1 6 1-2 1 4 1-7 1-19 1-8 1-6 1 2 1 14 1 17 1-3 1 16 1 11 1-1 1 19 1-10 1 13 1-1 1-8 1 1 1 9 1-14 1 12 1-6 1 3 1 5 1 18 1 10 1 4 1-3 1-5 1-1 1 12 1 4 1-3 1 0 1-5 1 3 1 9 1-6 1 4 1 0 1 6 1 3 1 4 1 3 1 23 1-21 1 8 1-6 1-8 1 10 1 14 1 10 1 5 1-11 1 2 1 17 1 4 1-7 1-11 1 18 1-1 1-9 1 4 1-5 1 7 1-4 1 14 1-12 1-12 1-1 1 3 1-10 1 2 1 6 1 8 1-11 1 11 1 14 1 2 1 11 1 2 1 1 1 5 1 1" vector-effect="non-scaling-stroke"/>
<path d="M150 190l1 3 1 6 1 4 1 6 1 7 1-2 1-1 1 7 1 7 1 1 1-2 1 1 1 5 1 4 1-5 1 1 1-3 1 3 1 8 1 3 1 5 1 1 1 6 1-2 1 5 1 3 1-1 1-2 1 5 1 3 1-4 1 7 1 11 1 8 1 7 1-1 1 2 1 1 1-5 1 0 1 5 1-1 1 7 1 4 1 0 1 3 1 4 1 5 1 5 1-3 1 5 1 6 1 3 1 3 1 2 1-4 1 5 1-4 1 0 1-3 1 4 1 6 1 5 1 2 1 4 1 0 1 2 1 1 1 1 1 0 1 0 1 2 1 1 1 10 1 3 1 1 1 2 1 0 1-3 1 3 1 9 1 3 1-4 1-2 1 2 1-3 1-2 1 10 1 5 1 1 1 6 1-2 1 3 1 0 1 3 1 1 1-2 1 5 1 8 1 5" vector-effect="non-scaling-stroke"/>
<path d="M150 215l1-8 1-1 1 7 1 11 1-20 1 15 1 5 1 8 1 3 1-30 1 9 1 11 1 11 1 3 1 44 1 9 1-19 1-17 1 13 1-18 1 30 1-10 1 6 1 15 1-29 1 36 1-56 1-15 1 5 1 33 1 23 1-23 1 17 1 2 1 4 1-3 1-13 1 6 1-30 1 18 1 16 1-4 1 43 1-15 1 19 1 14 1-18 1 1 1 2 1-4 1 0 1 3 1-5 1-6 1 42 1 2 1-11 1-3 1-11 1 7 1 17 1 6 1-3 1-4 1-18 1 3 1-14 1 8 1 21 1 4 1 14 1 36 1 7 1 15 1 4 1-18 1 23 1-31 1 33 1-21 1-4 1 9 1 0 1 5 1-33 1-4 1 15 1-8 1 6 1 24 1-10 1 0 1 14 1-1 1-2 1-4 1-6 1 22 1-4 1 4" vector-effect="non-scaling-stroke"/>
<path d="M150 222l1 6 1-4 1 6 1-19 1-3 1-8 1 8 1 5 1 31 1-15 1-13 1-10 1 25 1-13 1-11 1-1 1-23 1 11 1 12 1-2 1 1 1 14 1-10 1 26 1 20 1 5 1 12 1 19 1-27 1 29 1-19 1-1 1-9 1-22 1 26 1 22 1 32 1 15 1-21 1-17 1-3 1 11 1 5 1 9 1 0 1-10 1-9 1 8 1 4 1 10 1 9 1 13 1-7 1-5 1 0 1-6 1 3 1 10 1-11 1 15 1 7 1-2 1 19 1-15 1 0 1-9 1-12 1-8 1-2 1 25 1-11 1 4 1 11 1-1 1 11 1-7 1-8 1 15 1 16 1-8 1-14 1 12 1 5 1-2 1 0 1 8 1-18 1 10 1 20 1 9 1 1 1-21 1 31 1 5 1 10 1 10 1 4 1 9 1-10 1-18" vector-effect="non-scaling-stroke"/>
<path d="M150 168l1 14 1 4 1-7 1 25 1-6 1 8 1 25 1 12 1 24 1-10 1 0 1-20 1-8 1 25 1 14 1-6 1-34 1 21 1 26 1-31 1 16 1-14 1 16 1-14 1 26 1-22 1 37 1 10 1 4 1-26 1-7 1 8 1 7 1-3 1-6 1-15 1-12 1-10 1 49 1 26 1 14 1 8 1-3 1-28 1 3 1-18 1 13 1-13 1 17 1 28 1-6 1 10 1 7 1-18 1-3 1-3 1 10 1 5 1 7 1 18 1-22 1 31 1-9 1 8 1 11 1-10 1-3 1-5 1 13 1-2 1-27 1 6 1 10 1-20 1 15 1-5 1 4 1 19 1 7 1-15 1 9 1 17 1 13 1-9 1-7 1-16 1 15 1 8 1-10 1-15 1 8 1 18 1 18 1-5 1 1 1-5 1 12 1-12 1 14 1 0" vector-effect="non-scaling-stroke"/>
<path d="M150 185l1 16 1 0 1 15 1 15 1 7 1 10 1-8 1-44 1 31 1 11 1 0 1 11 1-1 1 13 1 0 1-14 1-12 1 5 1 11 1 13 1-9 1-2 1 5 1-7 1 14 1 6 1 20 1-17 1 2 1 16 1 10 1-13 1 13 1-21 1 1 1 8 1 1 1-9 1 16 1 3 1-2 1 4 1-11 1 9 1 15 1-23 1 2 1 28 1 1 1-15 1-2 1 10 1-6 1 1 1-5 1 13 1 17 1-22 1 21 1-1 1 0 1-4 1 8 1 4 1 10 1-9 1-9 1 2 1 13 1-12 1 4 1 7 1 10 1 13 1-12 1-1 1 17 1-7 1 8 1 8 1-8 1 20 1 13 1-3 1-2 1-6 1-11 1-4 1-10 1 6 1 0 1 16 1 7 1-3 1-1 1 9 1 2 1 19 1 5 1-8" vector-effect="non-scaling-stroke"/>
<path d="M150 230l1-8 1-8 1-12 1 10 1-6 1 8 1 3 1 8 1-23 1 21 1 19 1-2 1 21 1-5 1-23 1-1 1 6 1 15 1-4 1 31 1 1 1-14 1 10 1 1 1-18 1 1 1 27 1-19 1 22 1-10 1 6 1-20 1-6 1 24 1-2 1 21 1 4 1-8 1 1 1 16 1 28 1-13 1-5 1-17 1 6 1 12 1-14 1 4 1-16 1-6 1 13 1 3 1 9 1 1 1-8 1 27 1 10 1-16 1 14 1 1 1-6 1 4 1 7 1 8 1-10 1 11 1-3 1 14 1 1 1-1 1 6 1-6 1-19 1 8 1 7 1-9 1 13 1-11 1 3 1-6 1 11 1 2 1 13 1 2 1 13 1-12 1 1 1 8 1-7 1-7 1-4 1 16 1 18 1 7 1 8 1 2 1-2 1-7 1-4 1-8" vector-effect="non-scaling-stroke"/>
<path d="M150 200l1 16 1 1 1 2 1 11 1-12 1-1 1-18 1 7 1 21 1-8 1-23 1 12 1-6 1 19 1 14 1 25 1 3 1 1 1-14 1-9 1 14 1 20 1-25 1 28 1-3 1-15 1-31 1 24 1 17 1 11 1 0 1 17 1 3 1 13 1-24 1 17 1 1 1-10 1-4 1-18 1 3 1-10 1 6 1-1 1 24 1 8 1-1 1 20 1 1 1-6 1 4 1 6 1 3 1 6 1-11 1 1 1-18 1 15 1 2 1 21 1 1 1-15 1 15 1 9 1 6 1-1 1-4 1-11 1-2 1 2 1 22 1 15 1-11 1-5 1-16 1 8 1 20 1 4 1-12 1-12 1-2 1 4 1 0 1-5 1 35 1-2 1 8 1-9 1 3 1-5 1 3 1 0 1-5 1 17 1 1 1-20 1 5 1 21 1-4 1 8" vector-effect="non-scaling-stroke"/>
<path d="M150 202l1-4 1 8 1-2 1-1 1 1 1-5 1 7 1 0 1 6 1 25 1-7 1 2 1 4 1 1 1 2 1 12 1 0 1-8 1 5 1-1 1 12 1-16 1 3 1 9 1 3 1 6 1 7 1 9 1 6 1 16 1 4 1-16 1-5 1 13 1 1 1-4 1 2 1 5 1 3 1 1 1-1 1 11 1 2 1 7 1-10 1-1 1 1 1 2 1 14 1-10 1 2 1 6 1 7 1-5 1 5 1 5 1 13 1-11 1-2 1-4 1-5 1 13 1 12 1-4 1 1 1 11 1 1 1-6 1-4 1 7 1 1 1 2 1 7 1 4 1-4 1-2 1 6 1 3 1 2 1 1 1 3 1-6 1 5 1 6 1-3 1-1 1-3 1 2 1 3 1-1 1-2 1 6 1 17 1 4 1-1 1-6 1 1 1 3 1 11 1 0" vector-effect="non-scaling-stroke"/>
<path d="M150 203l1-4 1-9 1-7 1 5 1 1 1 10 1 13 1-17 1 1 1 5 1 17 1 17 1 4 1-18 1 10 1-15 1 2 1 17 1 10 1 9 1-3 1-15 1 19 1-16 1 10 1 11 1 11 1-5 1-5 1 12 1 9 1 4 1-3 1-6 1 17 1-1 1-1 1 12 1-3 1 9 1-1 1 5 1 9 1 0 1 1 1 3 1 8 1-1 1-10 1-5 1 14 1-20 1-8 1 5 1 19 1-11 1 7 1 1 1 8 1 3 1 2 1 9 1 3 1 2 1-2 1 8 1-2 1-11 1 1 1 15 1-10 1 3 1-3 1 6 1 1 1 6 1 11 1-2 1 5 1 2 1-1 1 6 1 6 1 11 1-7 1 0 1 11 1-8 1-4 1-9 1 9 1 0 1 5 1 2 1-1 1 2 1-1 1 5 1 2 1 2" vector-effect="non-scaling-stroke"/>
<path d="M150 168l1 20 1 7 1 5 1 37 1-4 1 21 1-14 1-3 1-18 1-16 1 45 1 49 1-23 1 12 1-21 1-21 1-32 1-4 1 12 1 20 1-14 1-21 1-1 1 50 1-14 1 31 1 9 1-25 1-4 1 16 1-9 1 28 1-18 1-13 1-22 1-32 1 23 1 33 1-18 1-7 1 8 1 15 1 24 1 8 1 13 1 7 1 5 1-11 1 34 1-11 1 18 1 14 1-5 1 2 1-33 1 22 1-20 1 26 1 22 1-20 1-7 1 5 1-6 1-2 1 16 1-3 1 22 1-5 1-3 1-17 1 6 1 11 1 0 1-10 1 12 1-28 1 22 1 2 1-6 1-1 1-28 1 16 1 4 1 8 1 16 1-6 1 7 1 13 1 6 1-11 1 29 1-19 1 45 1-19 1 0 1 5 1-4 1 19 1 5 1 15" vector-effect="non-scaling-stroke"/>
<path d="M150 223l1 0 1 5 1-16 1-17 1-13 1 15 1-18 1 0 1 30 1 27 1-9 1 25 1-14 1-11 1-7 1 0 1 11 1 1 1 15 1 12 1 21 1-4 1-2 1 9 1-3 1-9 1-10 1-8 1 13 1-11 1 13 1-15 1 26 1 16 1 16 1 0 1-8 1-8 1-1 1 9 1 4 1 4 1-6 1-2 1 14 1-6 1 7 1 9 1-12 1 4 1 21 1 10 1-3 1-7 1-9 1 11 1-21 1 23 1 3 1 5 1 12 1-24 1-4 1 10 1 20 1 1 1-9 1 5 1 11 1-9 1 29 1 0 1-13 1 3 1 0 1-2 1-17 1 14 1-6 1 1 1 11 1 3 1-10 1-5 1-4 1 6 1-6 1 1 1 9 1 10 1-15 1 8 1 6 1 17 1 4 1 0 1 7 1 4 1 2 1-16" vector-effect="non-scaling-stroke"/>
<path d="M150 163l1 7 1-15 1-7 1 22 1 9 1 2 1 10 1 16 1-8 1 13 1 15 1 36 1 17 1-28 1-2 1-29 1-1 1 27 1 8 1-27 1-42 1 10 1-26 1 13 1 16 1 17 1 16 1 0 1 26 1-1 1 3 1-13 1 3 1 18 1 11 1-5 1 21 1-4 1-7 1 10 1-5 1 23 1-9 1-2 1 3 1-1 1 2 1-1 1 19 1-26 1 9 1 26 1 10 1 5 1 17 1-7 1 10 1-5 1-3 1 4 1 16 1 18 1-13 1-17 1-10 1-14 1 8 1 1 1 6 1 26 1-13 1-17 1 23 1-17 1 7 1 17 1 7 1-2 1 16 1 5 1-12 1-7 1 20 1-17 1 0 1 7 1-15 1-2 1 7 1-3 1 5 1-5 1 10 1-9 1 13 1 9 1 2 1-1 1 20 1-6" vector-effect="non-scaling-stroke"/>
<path d="M150 190l1 5 1 9 1 10 1-3 1 1 1 0 1 5 1-13 1 22 1 8 1 16 1-11 1 9 1-16 1 3 1-15 1-17 1 23 1 12 1-2 1 14 1 0 1 3 1-9 1 9 1-3 1 31 1 11 1 3 1-4 1-2 1-1 1 2 1-3 1 4 1-2 1 18 1 4 1-13 1 7 1-2 1 7 1-6 1 1 1-10 1 8 1 0 1-6 1 21 1 11 1 24 1 4 1 5 1-2 1 5 1-12 1-1 1 7 1-11 1 11 1-2 1-6 1-6 1 5 1-6 1-2 1-15 1 6 1 9 1-6 1 0 1 2 1-1 1 18 1 0 1 10 1-5 1 4 1 0 1-3 1 9 1 2 1-3 1 13 1-2 1 17 1-2 1 2 1-3 1-7 1 10 1 7 1-4 1-4 1 7 1 4 1 5 1 2 1-3 1 1" vector-effect="non-scaling-stroke"/>
<path d="M150 176l1 20 1 24 1-4 1 35 1 9 1-33 1 18 1-24 1 19 1 7 1-4 1 34 1-16 1-2 1 20 1 7 1-11 1-29 1-23 1-16 1-12 1 4 1 30 1-8 1 27 1 17 1 12 1-16 1 41 1-14 1 3 1-8 1-18 1 4 1 0 1-4 1 32 1-9 1-18 1-9 1 17 1-15 1 1 1 13 1 38 1-4 1 10 1 3 1 2 1 3 1 15 1 10 1-15 1-12 1 12 1 5 1-18 1 1 1 18 1-11 1 12 1 14 1-4 1 11 1 16 1-17 1-18 1 11 1 10 1 10 1-9 1-8 1-10 1 2 1 14 1 14 1-1 1 10 1-20 1 7 1 1 1 4 1 5 1 4 1-6 1-6 1 19 1 10 1 7 1 19 1 5 1-4 1-20 1-5 1 16 1 12 1 4 1 1 1-7 1 0" vector-effect="non-scaling-stroke"/>
<path d="M150 173l1 7 1 7 1-3 1-27 1 13 1 4 1 17 1-8 1 3 1 7 1 13 1 1 1-3 1 6 1-14 1 6 1 0 1 0 1 46 1 5 1-6 1 30 1 3 1-11 1 8 1-6 1-26 1 18 1 16 1-2 1 1 1-14 1 12 1 7 1-12 1-7 1 26 1 6 1 24 1 23 1-12 1-2 1-21 1 22 1-10 1-14 1 13 1 19 1-1 1 10 1-8 1-22 1 18 1-9 1 3 1 0 1-16 1 17 1 6 1 0 1-8 1 15 1-9 1 3 1-6 1 1 1 12 1-15 1 4 1 0 1 31 1-10 1 30 1 13 1-8 1-8 1 3 1-1 1 6 1 8 1 18 1-7 1 5 1 8 1-16 1-9 1-18 1 10 1-2 1-8 1-5 1 4 1 12 1 0 1 9 1 17 1-2 1 5 1 2 1 15" vector-effect="non-scaling-stroke"/>
<path d="M150 184l1 4 1 9 1-2 1 2 1 10 1 16 1 4 1 10 1-17 1-6 1 4 1-4 1 13 1 4 1-22 1 28 1 9 1 7 1 7 1-4 1-2 1 13 1 9 1 5 1 6 1-7 1-11 1-18 1 13 1 2 1 2 1 19 1 7 1 10 1-6 1-26 1 5 1 25 1 2 1-2 1-1 1 1 1-8 1-8 1 4 1 5 1 18 1 7 1 0 1 12 1-10 1-13 1 14 1 10 1 23 1-14 1 7 1-5 1-7 1 8 1-9 1 1 1 12 1 9 1-3 1-5 1 0 1-5 1 6 1 7 1 15 1 6 1 11 1-6 1-12 1-4 1-7 1 17 1 2 1 8 1 11 1 0 1 8 1 14 1-17 1-8 1 12 1-6 1-3 1 3 1-4 1 4 1 0 1 0 1 4 1-3 1-2 1 8 1-11 1 0" vector-effect="non-scaling-stroke"/>
<path d="M150 211l1-12 1-5 1-6 1 6 1 6 1 32 1-3 1-4 1 40 1 3 1-11 1-24 1-6 1-5 1-20 1-23 1 12 1-5 1 48 1-21 1-11 1 4 1-22 1 22 1 17 1 21 1-12 1 13 1 44 1-7 1 12 1-12 1-11 1 7 1-29 1 20 1-34 1 14 1 17 1 17 1 27 1 13 1 13 1 8 1-10 1-11 1-6 1-28 1 17 1-1 1 15 1-8 1 18 1 4 1-17 1 15 1 32 1-36 1 9 1 6 1 19 1-4 1 17 1-1 1-6 1 13 1-3 1-10 1-5 1 2 1-8 1 4 1 2 1-1 1 17 1-5 1 10 1 21 1-14 1-14 1 4 1-21 1 10 1 5 1 3 1-2 1 3 1 27 1 14 1 9 1 18 1-29 1-17 1 13 1-12 1-12 1 19 1-11 1-1 1 5" vector-effect="non-scaling-stroke"/>
<path d="M150 188l1 28 1 17 1-3 1 7 1-16 1 27 1-55 1-5 1 19 1 16 1 9 1 10 1-6 1-1 1-10 1-8 1 39 1 10 1-25 1-39 1-1 1 20 1 0 1 38 1-14 1 15 1-2 1 24 1-18 1 5 1 18 1 44 1-27 1 15 1-16 1-2 1-13 1 48 1-9 1-4 1-6 1-23 1 8 1 1 1 13 1 7 1 13 1 5 1 6 1 5 1 11 1-11 1 2 1 0 1 7 1-6 1-21 1-9 1 11 1-1 1 12 1-19 1 12 1 17 1 1 1 13 1 1 1 14 1-17 1-25 1-7 1 21 1-3 1-2 1 11 1-6 1-39 1 25 1 21 1-7 1-9 1 13 1 7 1 10 1 11 1 8 1-16 1-7 1 15 1 0 1-8 1 13 1 6 1-1 1 39 1-30 1-8 1 13 1 10 1 6" vector-effect="non-scaling-stroke"/>
<path d="M150 191l1 10 1 7 1-6 1-2 1 6 1 5 1-13 1-2 1 3 1 17 1-8 1-8 1 13 1 10 1-2 1 6 1 5 1 10 1 9 1 6 1-3 1 15 1-9 1-16 1 13 1-2 1 21 1 9 1 1 1-7 1 11 1 18 1-12 1 11 1 4 1 2 1 2 1 3 1-1 1 3 1 7 1-4 1 3 1-4 1-9 1 18 1-15 1 6 1 4 1 3 1 5 1-12 1 0 1 8 1 2 1-2 1-4 1 1 1 19 1 10 1 2 1-13 1 11 1 1 1-2 1-1 1 9 1 9 1 3 1-3 1 4 1-2 1-3 1-3 1 0 1 7 1-5 1 2 1 6 1 15 1-14 1 0 1 11 1-1 1 8 1 3 1-7 1-2 1 1 1-1 1 2 1 5 1-3 1 0 1-1 1 3 1 5 1-1 1 1 1 5" vector-effect="non-scaling-stroke"/>
<path d="M150 202l1 3 1 0 1-4 1 9 1 8 1 2 1-5 1 1 1-6 1 13 1 18 1 0 1-7 1-2 1 24 1 10 1 0 1 11 1 0 1-12 1 3 1 5 1 4 1 0 1-8 1 14 1-12 1-25 1 13 1-4 1 32 1 7 1 13 1 7 1-12 1 2 1-3 1-2 1 20 1-5 1 20 1-4 1-6 1-12 1 7 1 3 1 10 1-3 1-6 1 7 1-6 1 3 1 5 1 4 1 4 1 5 1-2 1 15 1 6 1-3 1 6 1-4 1 0 1 4 1-9 1-10 1-4 1 2 1 8 1 7 1 5 1 3 1 16 1-5 1 5 1-9 1-4 1 15 1-2 1 12 1-16 1-11 1-8 1 6 1 5 1 2 1 27 1 3 1 0 1 4 1 4 1-4 1-5 1 9 1-8 1 0 1 0 1-14 1 5 1 2" vector-effect="non-scaling-stroke"/>
<path d="M150 199l1-3 1 1 1 4 1 11 1-1 1-1 1 4 1 0 1 11 1 6 1 1 1-11 1-3 1 6 1 6 1 0 1 15 1 7 1-8 1-10 1 19 1 0 1 1 1 6 1 12 1 0 1 6 1-1 1-3 1-17 1-2 1 12 1 5 1 1 1 10 1 8 1 1 1 7 1-5 1-3 1 3 1 3 1-3 1 5 1 2 1 7 1 8 1 2 1-5 1 20 1 3 1 2 1 2 1 5 1 1 1 1 1-1 1-3 1 7 1-6 1-3 1 2 1 8 1 6 1 10 1-1 1 4 1-7 1 3 1-17 1 7 1 7 1 4 1 7 1 7 1 1 1-6 1-5 1 7 1 6 1 3 1 5 1 0 1 19 1-1 1-8 1 3 1 2 1 1 1 6 1-4 1-3 1-3 1 4 1-3 1-5 1 6 1 7 1-1 1 2" vector-effect="non-scaling-stroke"/>
<path d="M150 198l1 6 1 6 1-2 1 10 1 10 1-2 1 16 1 33 1-1 1 23 1-48 1-2 1-11 1 12 1 0 1-3 1-34 1 4 1 7 1 7 1 19 1 5 1-6 1-14 1 8 1-27 1 1 1 32 1 13 1-18 1 17 1 29 1-1 1 19 1-29 1-9 1 1 1 22 1-24 1-7 1-2 1-15 1 19 1 19 1-4 1 21 1 21 1-11 1-21 1 5 1 14 1 15 1-9 1 23 1 20 1-11 1 17 1 15 1-28 1-11 1-20 1 26 1 22 1 2 1-5 1 5 1 12 1-27 1-7 1 17 1-1 1 10 1-1 1 15 1 20 1-5 1-11 1-2 1-1 1 4 1 7 1-14 1 3 1-14 1 2 1 3 1 20 1-15 1-3 1 4 1-3 1-2 1 7 1 10 1-7 1 6 1-7 1 5 1 11 1-14" vector-effect="non-scaling-stroke"/>
<path d="M150 165l1 8 1 4 1 12 1-1 1 6 1 24 1 4 1 3 1-33 1 26 1 4 1 23 1 1 1 7 1-12 1-32 1 0 1 14 1 9 1 12 1-1 1-16 1 11 1 23 1 5 1-12 1 8 1 0 1 21 1-21 1 11 1-6 1 6 1-4 1 5 1 16 1-6 1-9 1-8 1 20 1-3 1 15 1-12 1 6 1 26 1 10 1-44 1 7 1 16 1-14 1 8 1 12 1 26 1-4 1-10 1-15 1-1 1 18 1 9 1 14 1-15 1 1 1 7 1 4 1-3 1 20 1 9 1-18 1 6 1-2 1 5 1-17 1 20 1 10 1-13 1 5 1 13 1-11 1 3 1-1 1-2 1-11 1 7 1 27 1 0 1 6 1-5 1 12 1-9 1 6 1-9 1 13 1-1 1-7 1-2 1 5 1 8 1-5 1 4 1 3" vector-effect="non-scaling-stroke"/>
<path d="M150 185l1 14 1-11 1 2 1 9 1-18 1 20 1 30 1-22 1 16 1-33 1-25 1 47 1 7 1-1 1 20 1-48 1-16 1-6 1 16 1-18 1 20 1 3 1 2 1 58 1-11 1 33 1 2 1 8 1 11 1-30 1 0 1-8 1 23 1-21 1 13 1 3 1-2 1-3 1 11 1 30 1-3 1-44 1 49 1 19 1 23 1-7 1-1 1 2 1-22 1-13 1 21 1-36 1-8 1 11 1 53 1-6 1 34 1-18 1 23 1 11 1 4 1-14 1-18 1 16 1 3 1-28 1 15 1-4 1-11 1-1 1-2 1 25 1 0 1-9 1 7 1 15 1-3 1 3 1-2 1-4 1 15 1-19 1 29 1-30 1 0 1-18 1 49 1 6 1-19 1 29 1 6 1-7 1-10 1-6 1 13 1-47 1 16 1-13 1 5 1-3" vector-effect="non-scaling-stroke"/>
<path d="M150 184l1 8 1 12 1 5 1 0 1-4 1 10 1-3 1 9 1-1 1 4 1 7 1 3 1 8 1 0 1-5 1 15 1 4 1-5 1-4 1 2 1-8 1 1 1 10 1 4 1-8 1 6 1-2 1-5 1 11 1-6 1 12 1 8 1-12 1 6 1 20 1-4 1 7 1-3 1 7 1-10 1 4 1 9 1 4 1-1 1 5 1 22 1-15 1 18 1-4 1-23 1 11 1 7 1 8 1-15 1 9 1-13 1 5 1-1 1 13 1 7 1 11 1-1 1 9 1-10 1 3 1 11 1 1 1-1 1 7 1-11 1 2 1 15 1-1 1 2 1 13 1 1 1-5 1 9 1 1 1 0 1 3 1 5 1 4 1 3 1-2 1-12 1-8 1 6 1 1 1 8 1 8 1 6 1-2 1-14 1 6 1 4 1-1 1 1 1-1 1 6" vector-effect="non-scaling-stroke"/>
<path d="M150 209l1 3 1-7 1 13 1-4 1 2 1 19 1 12 1 2 1 34 1-12 1 7 1-4 1-25 1-9 1-14 1 8 1-18 1 9 1 24 1-14 1 4 1 22 1-17 1-13 1-13 1 20 1 13 1 30 1 8 1-26 1 7 1-1 1-24 1-16 1 28 1-7 1 9 1 1 1 10 1-3 1 27 1 3 1 12 1 11 1-5 1-15 1-19 1 18 1 3 1 20 1-5 1 11 1 12 1-25 1-14 1 37 1-16 1 6 1 9 1 2 1-12 1 2 1 9 1-1 1 6 1 23 1-23 1-2 1 32 1-10 1 7 1 2 1-9 1-5 1 13 1-5 1 1 1-2 1 13 1-2 1 2 1 7 1-3 1-11 1 34 1 8 1 15 1-11 1-2 1-4 1 11 1 3 1-16 1 17 1 19 1-7 1 4 1-2 1 2 1 2" vector-effect="non-scaling-stroke"/>
<path d="M150 209l1-1 1-2 1 0 1-1 1-3 1-2 1 13 1-11 1 9 1 15 1 23 1-15 1 13 1 0 1 1 1-15 1-2 1 24 1-1 1 19 1-14 1 12 1-3 1 12 1-28 1 9 1 6 1-7 1 25 1-1 1 2 1 12 1-8 1-3 1 21 1-18 1 3 1-4 1 16 1 12 1 6 1 14 1-2 1 10 1-19 1 5 1 1 1 5 1-6 1 0 1 2 1-16 1-1 1 9 1 12 1 7 1-5 1-1 1 10 1 1 1-9 1 16 1 3 1 6 1-4 1-2 1-4 1 13 1-14 1 10 1-11 1-4 1-4 1 5 1 6 1 0 1-2 1 10 1 15 1 8 1-11 1-3 1 1 1 9 1 0 1 7 1 3 1-4 1 7 1 2 1 6 1 2 1 1 1 3 1-1 1-9 1-7 1 11 1 3 1 7" vector-effect="non-scaling-stroke"/>
<path d="M150 195l1 0 1 10 1-10 1 6 1 8 1 14 1-4 1 31 1-11 1-8 1 21 1 5 1-11 1 0 1 1 1 0 1 16 1 1 1 6 1 14 1-13 1-4 1 6 1-2 1-17 1 17 1-23 1 24 1 12 1 35 1-28 1 8 1 9 1-9 1-8 1 9 1 12 1-6 1 2 1 11 1 6 1-12 1-7 1 20 1-2 1 16 1 12 1-16 1 2 1-10 1 0 1 7 1-5 1 12 1 12 1-9 1 9 1 4 1-15 1-7 1 5 1-3 1-27 1 14 1 10 1 12 1 2 1-9 1-10 1 23 1 5 1-2 1 1 1 33 1-3 1 0 1 4 1 3 1-12 1 11 1 12 1 5 1-6 1-3 1-2 1-6 1 3 1 7 1-5 1-15 1 4 1-3 1 0 1 8 1 10 1 13 1-12 1 5 1-8 1 9" vector-effect="non-scaling-stroke"/>
<path d="M150 202l1 1 1 2 1-1 1-10 1 2 1 19 1 2 1 5 1 3 1 5 1-8 1-5 1 11 1 7 1 8 1-6 1 7 1 3 1 9 1 13 1-7 1 3 1 1 1 11 1-23 1 17 1 2 1 10 1-11 1-6 1 29 1 12 1 0 1-10 1-7 1-7 1 8 1 1 1-7 1 6 1 8 1-12 1 2 1 2 1 13 1-2 1 5 1 4 1 2 1 18 1-18 1 5 1 13 1-1 1 6 1 2 1 2 1 5 1 6 1-9 1 7 1-7 1 8 1-7 1 5 1-7 1 9 1 2 1 4 1 13 1-8 1 7 1 2 1 7 1-2 1-6 1-4 1 2 1 10 1 3 1 8 1 2 1 0 1 2 1 2 1-13 1 1 1 9 1 0 1 1 1-3 1 4 1-1 1 1 1 4 1 2 1-2 1 4 1 9 1 1" vector-effect="non-scaling-stroke"/>
<path d="M150 194l1-2 1 6 1-4 1 5 1-37 1 31 1 47 1-14 1-7 1 8 1 17 1-11 1-3 1-10 1 20 1-20 1-14 1 25 1 17 1-3 1 10 1 18 1-10 1-25 1 4 1 4 1 25 1-32 1 50 1-9 1-2 1-4 1 22 1-42 1 1 1-5 1 6 1-11 1 20 1 10 1 20 1-25 1 24 1 22 1 25 1 15 1-12 1-40 1 34 1 4 1 8 1-37 1 11 1-19 1 2 1 29 1 0 1 25 1-28 1-12 1-16 1 11 1 35 1 19 1 7 1 18 1-12 1-11 1 7 1 26 1-13 1-3 1-21 1 11 1 11 1 2 1 6 1-16 1 23 1-14 1-2 1 2 1 15 1-5 1 11 1-8 1 4 1-10 1 6 1-6 1 3 1 7 1 0 1 8 1 21 1-1 1-19 1-11 1 8 1 0" vector-effect="non-scaling-stroke"/>
<path d="M150 193l1 22 1 2 1-2 1 5 1-5 1-8 1-10 1 24 1-18 1 41 1-14 1-7 1-18 1 1 1-3 1 14 1 2 1 2 1 8 1 2 1 11 1 7 1 11 1 14 1-5 1 20 1-33 1 17 1 9 1 4 1-11 1-5 1 14 1-13 1 27 1-1 1 15 1 2 1-5 1-5 1-12 1-3 1-3 1-22 1 10 1 16 1-7 1 40 1 16 1-22 1 23 1 11 1-3 1 3 1 22 1 15 1-4 1-30 1-4 1 1 1 13 1-5 1-1 1 7 1 2 1-2 1 17 1-17 1 8 1-21 1-4 1-5 1 12 1-1 1 1 1 15 1 2 1 2 1 12 1-26 1 2 1 14 1 14 1 5 1-4 1 13 1 14 1-1 1-8 1 17 1-16 1-3 1 12 1-4 1 14 1-16 1-17 1 14 1 13 1 2" vector-effect="non-scaling-stroke"/>
<path d="M150 222l1-2 1-3 1-25 1 29 1 8 1 48 1-17 1-37 1-8 1 22 1-11 1-1 1 6 1 5 1 5 1-14 1-2 1 40 1 0 1-24 1 1 1 13 1 15 1 12 1 18 1-20 1 16 1 16 1-22 1-3 1-10 1 16 1-14 1 1 1 16 1 1 1 7 1-12 1 10 1 12 1-21 1-3 1-15 1 33 1-6 1-8 1 24 1 4 1 34 1-6 1-33 1-35 1 31 1 12 1 17 1-19 1 0 1 3 1 21 1 19 1-4 1 0 1 9 1 4 1 15 1-8 1-9 1-6 1-18 1-8 1 19 1-16 1 13 1 11 1-4 1-7 1-2 1 11 1-9 1 20 1 5 1 23 1-21 1-2 1-1 1-12 1-14 1 7 1-7 1-8 1 8 1-2 1-1 1 1 1 40 1-12 1 16 1 16 1 9 1 7" vector-effect="non-scaling-stroke"/>
<path d="M150 161l1 0 1 17 1 0 1 22 1 1 1 33 1-11 1-10 1-2 1 1 1 10 1-22 1 3 1 30 1 35 1 4 1 5 1 20 1 2 1-26 1-36 1-27 1 10 1 10 1 15 1 13 1 16 1-4 1-4 1 5 1-4 1 13 1-8 1-22 1 12 1-35 1 5 1 22 1 43 1 10 1-11 1-18 1-7 1 12 1 42 1 17 1-14 1-6 1-9 1 3 1 20 1 21 1-11 1-11 1 13 1 7 1 1 1-6 1 9 1-5 1-8 1 18 1-30 1-16 1 15 1-10 1 2 1-18 1 17 1 10 1 24 1 19 1-7 1-12 1 9 1 6 1 1 1 5 1-7 1 8 1-4 1-5 1-3 1 9 1 1 1 8 1 0 1 13 1 6 1 2 1 9 1-32 1 13 1 16 1 10 1 1 1 8 1-5 1-1 1-3" vector-effect="non-scaling-stroke"/>
<path d="M150 181l1 13 1 7 1 8 1 9 1-10 1 2 1 6 1 5 1-1 1-1 1-10 1-10 1 9 1 21 1 11 1-16 1 16 1 11 1-9 1-1 1 25 1-3 1 1 1-5 1-7 1-7 1 6 1 11 1-1 1 9 1-1 1-4 1 3 1 4 1 14 1 7 1 6 1 0 1 8 1 11 1 3 1-11 1 21 1-2 1-21 1-14 1-1 1 0 1 11 1 9 1 16 1 17 1-6 1 0 1-5 1-11 1 6 1 1 1 6 1 22 1-1 1-8 1 3 1 3 1-4 1 7 1 11 1-5 1-9 1 4 1 1 1 9 1 11 1-3 1-6 1 0 1-5 1 24 1-2 1-5 1 9 1 7 1-4 1-1 1 5 1 4 1-5 1 1 1-1 1-2 1 18 1-19 1 2 1-3 1 17 1 7 1-5 1-7 1-2 1-1" vector-effect="non-scaling-stroke"/>
<path d="M150 163l1 16 1 12 1 1 1 15 1-19 1-15 1 9 1 1 1-5 1-2 1 13 1 1 1-17 1-6 1 27 1-4 1 19 1 37 1 9 1-12 1-2 1-18 1-2 1 32 1-10 1-5 1 0 1-7 1 33 1 10 1-15 1-7 1 25 1 3 1 17 1-1 1 23 1-15 1 10 1-2 1-8 1 3 1 2 1 19 1-8 1 0 1 3 1 13 1-34 1 0 1-11 1 20 1 6 1 17 1-24 1 21 1 3 1 2 1-7 1 15 1-6 1 6 1-2 1-5 1 20 1 15 1-16 1-13 1-6 1 3 1 4 1 8 1-14 1 10 1-4 1 19 1 7 1 8 1 0 1-1 1-1 1 5 1-2 1 12 1-2 1-6 1-3 1-9 1 21 1 2 1 8 1 3 1-3 1 8 1 17 1-12 1 1 1-5 1 10 1 5" vector-effect="non-scaling-stroke"/>
<path d="M150 178l1 13 1 5 1 9 1-5 1 6 1 27 1 9 1 6 1-20 1-2 1 0 1-6 1-2 1 1 1 2 1 14 1 13 1 7 1 7 1 0 1-19 1 11 1 3 1-2 1 15 1 25 1 14 1-20 1-7 1-25 1-7 1 18 1 13 1 2 1-2 1 17 1 12 1-2 1 12 1 0 1-11 1 15 1 5 1-7 1-34 1 11 1 11 1 17 1-10 1 0 1 5 1-8 1 13 1-1 1 11 1-4 1 5 1-1 1-3 1-9 1-3 1 0 1 25 1 23 1 2 1 10 1-12 1-11 1-13 1-2 1 2 1 11 1-5 1 3 1 2 1 2 1-2 1 12 1 11 1 6 1-5 1-3 1-7 1 0 1 14 1 4 1-4 1 5 1-5 1 10 1-1 1 7 1 2 1 0 1-9 1-2 1 7 1-3 1 3 1 5" vector-effect="non-scaling-stroke"/>
<path d="M150 202l1 0 1-4 1-2 1 14 1-4 1-11 1 3 1 8 1 22 1 12 1-11 1 1 1-11 1-16 1 12 1 27 1 14 1 13 1 10 1-12 1 5 1 2 1-3 1 6 1-8 1-10 1 35 1-9 1-7 1 7 1 11 1-10 1-1 1-22 1-10 1 4 1-8 1 3 1 24 1 11 1 1 1 2 1 18 1-3 1 16 1-3 1 10 1 4 1 8 1 5 1-9 1-12 1 7 1-10 1 6 1 1 1-8 1 18 1 5 1 3 1-3 1 1 1 3 1-1 1 10 1-1 1 8 1-4 1 11 1 10 1-4 1 4 1-5 1 2 1 5 1-2 1 4 1-1 1-5 1-7 1-2 1 1 1-7 1 6 1 3 1 0 1 9 1 0 1 1 1 13 1-7 1 4 1 0 1-4 1-1 1 16 1-1 1 5 1 10 1 3" vector-effect="non-scaling-stroke"/>
<path d="M150 197l1 0 1 9 1 5 1 9 1-2 1 10 1 2 1-7 1 7 1-14 1 6 1-13 1-5 1 19 1-5 1 23 1 6 1 13 1-3 1-15 1-1 1-8 1 13 1 13 1 2 1 18 1 4 1 13 1-7 1 13 1-7 1 7 1 0 1-10 1 9 1-9 1-4 1 0 1-2 1-7 1-8 1 15 1 17 1 3 1 2 1 0 1 16 1 14 1-6 1 3 1-2 1-6 1-2 1 21 1-6 1 4 1-16 1 3 1-7 1 2 1 8 1 9 1 13 1-8 1 5 1 8 1-7 1 1 1 0 1 3 1 9 1 11 1-9 1 3 1 2 1 4 1-3 1 11 1-3 1 4 1-6 1 1 1 12 1 3 1-4 1-8 1 4 1-2 1 6 1-1 1 0 1 8 1 1 1 3 1 4 1-1 1 4 1 3 1-5 1-1" vector-effect="non-scaling-stroke"/>
<path d="M150 185l1-1 1-5 1-1 1 6 1 11 1 7 1 15 1-2 1 2 1-8 1-30 1 14 1 7 1 8 1 13 1-3 1 9 1 9 1-3 1-3 1 18 1-3 1-8 1 2 1 11 1-7 1 16 1-10 1-1 1 1 1 18 1-2 1 19 1 5 1 9 1 13 1-3 1 1 1 1 1 0 1-1 1 2 1 0 1 1 1 4 1-13 1 0 1 4 1-2 1 22 1 15 1-4 1-15 1 17 1 0 1 11 1-9 1 22 1-17 1-9 1 8 1 10 1-9 1 5 1-12 1 5 1 7 1-1 1 12 1 4 1-6 1 1 1 2 1-2 1 16 1-19 1 23 1-4 1-4 1 10 1 8 1-11 1-1 1-9 1 5 1 13 1-4 1 13 1 7 1 2 1 4 1 4 1-5 1 14 1 2 1-1 1-6 1-4 1-2 1-2" vector-effect="non-scaling-stroke"/>
<path d="M150 180l1 11 1 22 1 9 1 23 1-13 1-8 1 22 1 30 1-7 1-14 1-21 1-24 1 4 1 7 1-18 1 17 1-16 1 26 1 28 1-18 1-10 1-9 1 2 1 3 1 9 1 16 1 20 1 0 1-19 1 11 1-1 1 14 1 48 1-23 1-14 1-28 1-10 1 20 1 9 1 33 1-23 1 30 1 0 1-17 1-11 1 9 1 9 1 3 1 4 1-1 1-13 1 21 1 0 1 25 1-2 1 17 1-24 1-28 1 20 1 2 1 11 1-12 1 10 1 4 1 28 1 13 1 5 1-14 1 2 1-21 1-11 1 5 1 10 1 0 1 19 1 10 1-20 1 1 1 12 1 14 1 0 1 7 1-9 1-10 1-4 1 14 1 2 1 3 1-6 1 18 1 4 1 17 1-13 1-13 1 5 1 9 1-23 1 3 1 7 1-5" vector-effect="non-scaling-stroke"/>
<path d="M150 223l1-1 1-4 1-7 1 2 1 1 1-1 1 15 1 1 1 1 1 11 1 0 1-7 1 4 1 1 1 6 1 13 1-8 1-2 1 16 1-4 1 10 1-17 1 0 1 13 1-3 1-4 1 2 1 10 1 6 1 11 1-1 1 4 1-9 1-4 1-2 1 0 1 2 1 4 1 25 1-3 1 7 1 1 1 21 1-11 1-6 1-10 1 0 1 12 1-1 1 3 1 8 1 11 1 4 1 13 1 9 1-21 1 5 1-18 1 13 1-7 1 13 1 0 1-3 1 3 1 5 1 4 1-6 1-3 1 0 1 10 1-3 1-3 1-6 1-3 1 10 1 9 1 3 1 3 1 8 1-10 1 9 1 4 1 5 1 11 1-4 1-6 1 0 1-1 1-1 1 10 1-2 1 3 1 1 1 0 1 17 1 6 1 4 1 7 1-7 1-6" vector-effect="non-scaling-stroke"/>
<path d="M150 237l1-16 1 17 1 19 1 13 1 6 1-4 1-49 1-6 1-11 1 6 1 16 1 15 1-10 1 1 1-1 1-32 1-3 1 25 1-13 1 10 1 27 1-19 1 32 1-2 1 3 1 26 1 20 1-11 1-34 1-11 1 24 1 30 1-22 1 20 1 7 1 15 1 4 1 9 1-3 1-11 1-11 1 6 1 7 1-6 1 21 1-26 1 28 1-4 1-10 1-3 1 13 1 4 1 3 1-17 1-10 1 20 1 15 1 1 1-5 1-9 1 7 1-4 1-12 1 3 1 7 1 17 1-6 1 23 1-15 1-2 1 4 1 17 1-15 1-3 1-3 1 1 1 0 1 17 1-2 1 33 1 2 1-7 1-3 1-11 1-7 1-5 1 12 1 5 1-8 1 7 1 16 1 13 1 4 1 3 1-3 1-6 1 4 1 3 1 0 1-5" vector-effect="non-scaling-stroke"/>
<path d="M150 194l1 1 1 2 1 0 1 9 1-4 1 6 1-34 1 14 1-2 1-13 1 8 1 4 1-14 1-7 1 27 1 14 1 3 1 27 1 6 1 4 1 12 1-11 1 12 1-8 1-9 1 15 1 16 1-20 1 17 1-9 1 10 1 7 1 7 1-26 1 24 1-17 1 3 1 9 1 7 1 19 1 8 1-2 1-11 1 35 1 1 1 13 1-12 1 11 1 18 1-18 1 2 1 1 1-12 1-18 1-7 1-14 1-1 1 45 1 32 1 1 1-8 1 21 1-2 1 7 1-20 1 1 1-2 1 0 1 22 1 10 1-3 1 11 1-5 1-19 1-10 1-18 1 9 1 2 1-1 1 8 1 22 1 3 1-8 1-1 1 17 1 16 1-12 1-11 1-4 1-11 1 29 1-4 1 9 1 16 1-16 1-10 1 2 1-9 1 3 1 2" vector-effect="non-scaling-stroke"/>
<path d="M150 217l1-22 1-19 1 0 1 6 1 6 1 0 1-16 1-5 1 17 1 42 1 15 1 11 1-3 1-33 1 22 1-25 1-11 1 23 1 3 1-20 1 25 1 2 1 16 1-23 1 12 1 10 1-2 1 7 1-4 1 28 1 45 1-20 1-21 1 10 1-14 1 39 1 1 1 2 1-27 1 1 1 3 1-10 1 20 1-4 1 8 1-5 1 18 1 2 1 14 1 1 1-23 1 7 1 1 1 6 1-21 1 29 1 36 1-16 1-22 1 13 1 3 1 13 1 10 1-16 1-7 1-15 1-2 1 8 1-11 1 32 1 0 1 2 1-8 1 2 1 7 1 0 1-12 1 21 1 4 1-11 1 4 1-8 1 27 1-3 1 19 1-5 1 24 1 4 1-13 1-30 1-6 1 11 1 13 1-4 1-9 1 6 1 4 1-6 1-1 1-3" vector-effect="non-scaling-stroke"/>
<path d="M150 180l1 11 1-9 1-6 1 10 1-5 1 22 1-22 1 7 1 20 1 32 1-27 1 24 1 23 1 4 1-20 1-7 1 5 1 23 1-5 1 10 1-21 1-6 1-4 1-1 1 8 1 26 1 4 1 14 1-8 1-9 1 5 1 15 1 2 1 0 1-21 1 20 1 25 1-15 1 7 1 0 1-6 1-4 1 30 1 2 1 11 1-7 1-15 1-10 1 0 1 2 1 8 1-1 1-20 1-10 1 14 1 12 1 15 1 0 1 33 1-24 1-5 1 6 1 8 1-1 1-7 1 14 1-1 1-9 1 6 1 1 1-2 1 23 1-5 1-9 1 21 1 11 1 22 1-8 1 4 1-1 1-5 1-22 1-16 1 34 1-7 1 4 1 9 1-15 1-8 1 6 1 7 1-11 1 13 1 8 1 9 1 2 1-4 1 19 1 0 1 2" vector-effect="non-scaling-stroke"/>
<path d="M150 161l1 7 1 11 1 16 1 15 1 4 1-5 1-9 1-4 1-26 1 2 1 8 1 14 1-23 1 27 1-21 1 7 1 33 1-2 1 10 1 31 1 20 1-10 1 21 1-58 1 7 1 27 1-12 1 10 1-10 1 31 1 16 1-22 1 10 1 12 1-48 1 6 1 40 1 9 1-13 1 7 1-52 1 15 1-10 1 15 1 16 1 7 1-25 1 40 1 11 1 7 1-38 1 35 1 6 1-8 1-13 1 25 1-20 1-25 1 16 1 17 1-23 1 27 1 8 1 3 1-1 1 16 1 4 1-1 1-7 1 13 1 15 1 0 1 11 1-7 1-28 1 26 1 10 1 6 1-2 1 24 1-7 1 2 1 7 1-27 1-11 1 2 1-3 1 2 1 15 1 8 1 14 1-15 1-3 1 12 1 10 1 7 1 7 1-11 1 9 1 18" vector-effect="non-scaling-stroke"/>
<path d="M150 234l1-7 1-6 1-17 1 18 1-12 1-61 1-9 1 14 1 60 1-26 1-27 1 79 1-44 1 29 1-1 1 41 1-30 1-9 1 69 1-34 1 9 1 49 1-38 1 13 1-18 1 21 1 20 1-8 1-16 1-13 1-12 1 14 1 10 1 50 1-51 1 16 1-28 1-3 1 18 1 24 1-8 1 30 1-20 1 2 1-1 1-10 1-5 1 38 1 10 1-21 1 28 1 25 1 4 1-2 1-25 1 0 1-14 1 4 1 28 1-19 1 1 1 2 1 12 1-9 1 4 1-21 1-10 1 16 1-29 1-6 1 21 1 0 1 9 1 20 1 12 1 4 1 7 1 15 1-12 1 0 1-1 1-5 1 29 1-4 1 17 1 16 1-28 1-10 1-26 1 6 1-14 1 27 1-32 1-6 1 8 1 7 1-15 1 31 1-2 1 8" vector-effect="non-scaling-stroke"/>
<path d="M150 208l1-15 1-14 1-19 1 8 1-10 1-26 1 0 1 14 1-3 1-4 1 35 1 55 1-33 1 19 1 25 1 23 1-9 1-2 1 4 1-7 1 43 1 14 1 22 1 4 1 20 1-37 1-22 1 8 1 5 1-14 1 14 1 33 1-19 1 24 1-18 1 15 1-29 1 31 1-10 1-23 1-5 1-20 1 18 1 27 1-6 1 1 1-35 1 19 1-9 1-3 1 2 1 23 1-20 1 4 1 23 1 2 1 28 1 13 1-22 1 14 1-13 1 2 1-11 1-14 1 19 1 15 1 0 1-15 1 5 1-9 1 27 1-14 1 14 1 16 1 0 1-20 1 1 1 11 1 14 1 16 1-16 1 10 1-12 1-11 1-8 1 12 1-7 1 1 1 25 1 5 1-14 1-1 1 5 1 12 1 5 1 21 1 3 1-15 1 1 1-8" vector-effect="non-scaling-stroke"/>
<path d="M150 185l1 7 1 2 1 2 1 3 1-1 1 18 1 3 1 16 1 3 1-26 1-2 1-3 1 18 1 5 1 21 1 9 1-16 1 11 1-12 1 22 1 3 1 5 1-5 1 3 1 4 1-6 1 12 1 7 1-21 1 5 1 3 1-11 1-11 1 28 1-5 1 8 1 6 1 6 1-8 1 17 1 1 1 7 1-2 1 5 1 4 1 16 1-3 1-5 1-10 1 18 1 2 1 3 1 0 1-4 1-11 1 4 1-1 1 6 1 5 1 3 1 6 1-4 1 15 1 5 1-8 1-7 1 8 1 11 1 6 1-11 1 8 1 11 1-4 1-14 1 12 1-3 1 3 1 0 1 4 1 6 1 1 1-4 1 6 1 18 1-12 1-8 1-8 1-15 1 4 1 2 1 4 1 13 1 6 1 10 1 10 1 16 1 8 1-9 1 3 1-9" vector-effect="non-scaling-stroke"/>
<path d="M150 205l1-3 1 5 1-7 1-3 1 14 1 9 1-2 1 14 1-8 1-1 1 21 1 9 1-19 1 6 1 22 1 3 1 2 1-14 1-2 1 9 1 16 1-3 1-2 1-7 1 4 1 5 1 2 1-1 1 2 1-2 1 16 1 3 1 8 1-9 1-1 1-12 1-5 1 2 1 16 1 22 1 1 1-7 1-13 1 4 1-1 1 8 1 5 1 6 1-11 1 8 1 13 1 0 1 10 1 0 1-3 1 11 1-14 1 15 1-4 1 13 1 2 1 7 1 7 1-5 1 9 1-4 1 2 1-1 1-10 1 1 1-3 1-7 1 10 1 3 1 7 1 6 1-2 1-1 1 2 1 1 1-3 1-5 1 4 1-9 1-3 1 15 1 6 1-9 1 12 1 8 1 1 1-3 1-4 1 9 1 4 1 12 1-8 1-5 1 0 1 4" vector-effect="non-scaling-stroke"/>
<path d="M150 253l1-6 1 16 1-20 1-7 1 4 1 52 1-35 1-42 1-29 1-38 1 83 1-23 1-15 1 50 1 2 1 18 1-36 1 24 1-19 1 37 1-28 1-6 1 9 1-4 1 33 1-9 1 5 1 21 1-9 1-6 1 5 1-5 1 33 1-17 1-15 1-4 1 10 1-1 1-7 1 37 1-25 1 26 1-42 1 34 1-1 1 19 1 4 1 10 1-1 1 9 1 3 1-5 1-12 1 0 1 8 1-4 1-3 1 18 1-11 1-2 1 8 1-4 1 21 1-22 1-19 1-18 1 16 1 52 1-34 1 2 1 1 1 17 1-12 1-13 1 18 1 29 1 5 1 12 1-31 1 21 1 4 1-13 1-10 1-8 1 21 1 12 1-23 1 6 1 10 1 7 1 52 1-9 1-3 1-9 1-13 1 27 1-19 1 6 1-5 1-1" vector-effect="non-scaling-stroke"/>
<path d="M150 176l1 5 1 4 1 3 1 9 1-2 1 14 1-8 1 14 1 3 1-3 1 8 1-11 1 8 1 7 1 11 1 4 1 9 1-7 1 8 1 5 1-15 1 4 1 10 1 4 1 7 1 2 1-3 1 8 1-1 1 2 1 2 1 1 1-11 1-3 1 10 1 12 1 9 1-3 1-3 1 0 1-2 1 17 1 2 1 11 1 11 1-9 1-1 1 21 1-6 1-3 1 12 1-6 1 1 1-1 1 1 1 4 1-8 1 1 1 0 1 2 1 10 1 10 1 8 1 0 1 4 1-9 1 11 1-5 1 11 1-5 1-7 1 4 1 5 1-3 1 3 1 1 1-3 1 5 1-3 1 9 1 12 1-10 1 1 1-8 1-2 1 4 1 3 1 10 1 5 1-1 1 4 1 6 1 5 1-5 1 1 1 0 1-3 1 4 1 8 1-3" vector-effect="non-scaling-stroke"/>
<path d="M150 195l1 10 1 13 1-3 1 4 1 39 1-18 1 8 1-30 1 2 1 56 1-15 1-14 1 8 1 19 1-6 1-29 1-10 1 5 1 8 1-8 1 27 1 0 1 5 1-15 1-23 1 24 1-8 1-4 1 17 1 12 1 45 1 9 1 3 1-8 1-14 1-5 1-16 1-3 1 31 1-6 1 6 1 29 1-15 1-20 1 1 1 6 1 34 1 5 1-3 1 6 1-9 1 3 1-7 1-9 1 8 1-7 1 6 1 0 1 10 1-26 1 1 1 18 1 17 1 18 1 15 1-14 1-7 1-11 1-5 1-3 1 21 1-4 1 13 1-11 1-14 1 22 1-5 1 2 1-11 1-26 1 20 1 26 1-6 1-18 1 9 1-19 1-9 1 25 1 12 1-2 1-17 1-3 1 38 1 5 1 20 1-6 1 20 1 7 1 4 1-6" vector-effect="non-scaling-stroke"/>
<path d="M150 194l1 6 1 24 1 15 1 1 1-12 1 7 1 14 1 0 1-14 1 1 1 13 1 1 1-12 1-2 1 2 1 5 1-10 1 12 1 22 1-11 1 3 1-2 1-7 1-4 1 14 1-5 1 8 1-32 1 26 1 8 1 31 1-17 1 7 1-18 1 14 1 9 1-3 1-3 1 0 1 8 1 9 1-7 1 15 1 9 1 14 1-8 1-5 1 10 1-28 1 9 1 14 1 7 1-11 1 23 1-7 1 30 1-22 1-9 1 2 1 8 1 9 1-9 1 17 1-10 1-5 1 14 1-1 1 5 1-25 1 8 1-3 1 12 1 14 1-12 1-4 1 14 1-1 1 3 1-2 1 4 1 16 1 4 1 10 1-4 1 16 1-14 1 1 1-7 1-18 1 10 1-11 1 3 1 15 1-2 1 6 1 20 1-9 1-5 1-5 1 4" vector-effect="non-scaling-stroke"/>
<path d="M150 193l1 6 1 4 1 3 1 11 1-4 1 6 1 7 1-1 1-10 1 3 1 2 1-9 1-4 1 2 1 15 1-11 1-1 1 6 1 1 1 14 1 6 1 23 1 5 1-10 1 12 1 2 1 1 1-14 1-2 1-5 1 10 1 0 1-2 1 3 1 5 1 14 1 16 1 10 1-5 1-5 1 0 1 10 1 0 1 1 1 2 1-6 1-12 1 11 1 4 1 6 1 3 1-4 1 11 1 4 1 23 1 2 1 11 1 1 1 0 1 10 1-12 1-11 1 7 1 3 1-2 1 10 1-6 1 8 1-5 1-7 1 3 1 3 1 3 1 8 1 0 1 0 1-6 1 3 1-3 1 0 1 7 1-5 1 5 1 0 1 6 1 8 1 2 1-3 1 3 1 3 1 0 1-1 1 5 1 8 1 4 1-5 1 1 1-5 1 7 1-2" vector-effect="non-scaling-stroke"/>
<path d="M150 228l1-11 1 9 1 14 1 2 1 14 1 6 1-50 1-38 1 22 1 15 1-12 1 27 1 1 1 25 1 11 1 17 1 19 1-44 1-14 1 46 1-31 1-7 1 4 1 13 1-7 1-23 1-6 1-26 1 22 1 58 1-5 1-15 1 21 1-26 1-10 1-1 1 31 1-21 1 15 1 23 1 0 1 6 1-5 1 28 1-25 1 31 1 9 1 7 1 26 1 3 1 10 1 7 1-3 1-36 1 21 1-30 1 0 1 6 1-5 1-17 1-11 1 28 1-11 1-9 1 24 1-2 1 2 1 3 1-11 1 2 1 19 1 7 1 12 1 4 1-7 1 5 1-2 1 13 1 1 1 0 1 13 1-13 1 9 1-37 1 19 1-17 1-16 1-1 1 13 1 16 1 23 1-20 1-21 1 20 1 1 1-27 1 10 1 10 1 31 1 32" vector-effect="non-scaling-stroke"/>
<path d="M150 177l1 3 1-11 1 8 1-7 1 16 1-3 1 5 1-2 1 11 1-20 1 38 1-14 1 11 1 6 1-12 1 3 1 31 1 21 1 5 1-11 1 21 1 2 1 4 1-27 1-13 1 4 1 9 1-11 1 30 1 2 1-21 1-14 1 2 1 15 1 30 1-26 1 18 1 26 1-13 1-1 1 15 1-9 1 9 1 20 1 40 1-21 1-5 1 6 1 6 1 3 1-9 1-20 1 3 1 0 1 6 1-18 1 14 1-9 1 10 1 7 1-9 1-30 1 11 1 8 1 30 1-1 1 26 1 12 1 8 1-5 1 1 1 15 1 5 1 16 1-16 1-21 1 2 1 7 1 8 1-13 1 5 1-8 1 0 1 7 1-3 1-15 1-5 1 0 1 13 1 0 1 11 1 8 1 2 1 14 1 7 1 1 1-3 1-9 1-3 1 14" vector-effect="non-scaling-stroke"/>
<path d="M150 222l1 6 1 0 1 13 1-10 1 20 1-1 1-11 1-15 1-12 1 8 1 6 1 5 1-19 1-1 1 9 1-11 1 9 1 20 1 7 1-12 1-4 1-6 1 3 1 19 1 2 1 3 1-4 1-8 1-14 1 14 1 19 1-4 1-15 1 8 1 5 1 16 1-17 1 21 1 14 1-1 1 5 1-7 1 4 1-7 1 12 1-8 1 34 1 3 1 3 1-19 1 13 1 22 1-19 1-8 1 19 1-5 1-2 1-3 1 16 1 17 1-15 1 16 1 15 1 0 1-3 1 11 1-13 1-9 1 2 1-1 1-6 1 1 1 5 1 10 1 7 1 10 1-12 1-5 1 1 1 13 1 18 1-6 1-14 1 15 1 15 1-1 1-7 1-4 1 11 1-5 1-7 1 10 1-4 1 15 1-17 1 0 1 8 1-12 1 5 1-1" vector-effect="non-scaling-stroke"/>
<path d="M150 199l1-8 1 3 1-10 1 12 1-2 1-2 1 20 1 4 1-9 1 14 1-13 1 25 1-9 1-12 1 13 1 12 1 11 1-4 1 3 1 2 1-3 1 20 1-3 1 1 1 12 1-13 1-4 1-7 1 6 1-1 1 15 1 12 1-8 1-2 1-6 1 2 1 18 1 8 1-19 1 15 1-9 1-1 1 13 1 21 1-7 1-3 1-4 1 13 1 11 1-11 1-9 1 2 1 14 1-8 1 19 1 7 1-7 1 20 1 8 1-13 1-2 1-1 1 1 1 9 1 6 1-5 1-9 1-2 1 3 1 11 1 6 1-4 1 0 1 8 1 6 1-4 1 2 1-1 1-1 1-4 1 6 1-7 1 11 1 1 1-2 1 1 1 11 1 18 1 4 1-3 1-4 1 17 1-12 1 9 1-4 1-10 1-2 1 15 1 11 1 5" vector-effect="non-scaling-stroke"/>
</g>
<path d="M0 197l1 0 1 0 1 0 1 0 1 0 1 0 1 0 1 0 1 0 1 0 1 0 1 0 1 0 1 0 1 0 1 0 1 0 1 0 1 0 1 0 1 0 1 0 1 0 1 0 1 0 1 0 1 0 1 0 1 0 1 0 1 0 1 0 1 0 1 0 1 0 1 0 1 0 1 0 1 0 1 0 1 0 1 0 1 0 1 0 1 0 1 0 1 0 1 0 1 0 1 0 1 0 1 0 1 0 1 0 1 0 1 0 1 0 1 0 1 0 1 0 1 0 1 0 1 0 1 0 1 0 1 0 1 0 1 0 1 0 1 0 1 0 1 0 1 0 1 0 1 0 1 0 1 0 1 0 1 0 1 0 1 0 1 0 1 0 1 0 1 0 1 0 1 0 1 0 1 0 1 0 1 0 1 0 1 0 1 0 1 0 1 0 1 0 1 0 1 0 1 0 1 0 1 0 1 0 1 0 1 0 1 0 1 0 1 0 1 0 1 0 1 0 1 0 1 0 1 0 1 0 1 0 1 0 1 0 1 0 1 0 1 0 1 0 1 0 1 0 1 0 1 0 1 0 1 0 1 0 1 0 1 0 1 0 1 0 1 0 1 0 1 0 1 0 1 0 1 0 1 0 1 0 1 0 1 0 1 0 1 0 1 0 1 0 1 0 1 0 1 0 1 3 1 2 1 3 1 2 1 3 1 2 1 3 1 3 1 2 1 3 1 2 1 3 1 2 1 3 1 2 1 3 1 3 1 2 1 3 1 2 1 3 1 2 1 3 1 2 1 3 1 2 1 3 1 3 1 2 1 3 1 2 1 3 1 2 1 3 1 2 1 3 1 2 1 3 1 3 1 2 1 3 1 2 1 3 1 2 1 3 1 2 1 3 1 3 1 2 1 3 1 2 1 2 1 3 1 2 1 2 1 2 1 2 1 2 1 2 1 2 1 2 1 1 1 2 1 2 1 2 1 1 1 2 1 2 1 2 1 1 1 2 1 2 1 1 1 2 1 2 1 2 1 1 1 2 1 2 1 1 1 2 1 2 1 2 1 1 1 2 1 2 1 2 1 1 1 2 1 2 1 1 1 2 1 2 1 2 1 1 1 2 1 2 1 2 1 1 1 2" stroke="#ffa500" stroke-width="1" vector-effect="non-scaling-stroke"/>
<g stroke="#ff4500" stroke-opacity="0.15" stroke-width="0.65">
<use href="#p0"/>
<use href="#p1"/>
<use href="#p2"/>
<use href="#p3"/>
<use href="#p4"/>
<use href="#p5"/>
<use href="#p6"/>
<use href="#p7"/>
<use href="#p8"/>
<use href="#p9"/>
<use href="#p10"/>
<use href="#p11"/>
<use href="#p12"/>
<use href="#p13"/>
<use href="#p14"/>
<use href="#p15"/>
<use href="#p16"/>
<use href="#p17"/>
<use href="#p18"/>
<use href="#p19"/>
<use href="#p20"/>
<use href="#p21"/>
<use href="#p22"/>
<use href="#p23"/>
<use href="#p24"/>
<use href="#p25"/>
<use href="#p26"/>
<use href="#p27"/>
<use href="#p28"/>
<use href="#p29"/>
<use href="#p30"/>
<use href="#p31"/>
<use href="#p32"/>
<use href="#p33"/>
<use href="#p34"/>
<use href="#p35"/>
<use href="#p36"/>
<use href="#p37"/>
<use href="#p38"/>
<use href="#p39"/>
<use href="#p40"/>
<use href="#p41"/>
<use href="#p42"/>
<use href="#p43"/>
<use href="#p44"/>
<use href="#p45"/>
<use href="#p46"/>
<use href="#p47"/>
<use href="#p48"/>
<use href="#p49"/>
<use href="#p50"/>
<use href="#p51"/>
<use href="#p52"/>
<use href="#p53"/>
<use href="#p54"/>
<use href="#p55"/>
<use href="#p56"/>
<use href="#p57"/>
<use href="#p58"/>
<use href="#p59"/>
<use href="#p60"/>
<use href="#p61"/>
<use href="#p62"/>
<use href="#p63"/>
<use href="#p64"/>
<use href="#p65"/>
<use href="#p66"/>
<use href="#p67"/>
<use href="#p68"/>
<use href="#p69"/>
<use href="#p70"/>
<use href="#p71"/>
<use href="#p72"/>
<use href="#p73"/>
<use href="#p74"/>
<use href="#p75"/>
<use href="#p76"/>
<use href="#p77"/>
<use href="#p78"/>
<use href="#p79"/>
<use href="#p80"/>
<use href="#p81"/>
<use href="#p82"/>
<use href="#p83"/>
<use href="#p84"/>
<use href="#p85"/>
<use href="#p86"/>
<use href="#p87"/>
<use href="#p88"/>
<use href="#p89"/>
<use href="#p90"/>
<use href="#p91"/>
<use href="#p92"/>
<use href="#p93"/>
<use href="#p94"/>
<use href="#p95"/>
<use href="#p96"/>
<use href="#p97"/>
<use href="#p98"/>
<use href="#p99"/>
<use href="#p100"/>
<use href="#p101"/>
<use href="#p102"/>
<use href="#p103"/>
<use href="#p104"/>
<use href="#p105"/>
<use href="#p106"/>
<use href="#p107"/>
<use href="#p108"/>
<use href="#p109"/>
<use href="#p110"/>
<use href="#p111"/>
<use href="#p112"/>
<use href="#p113"/>
<use href="#p114"/>
<use href="#p115"/>
<use href="#p116"/>
<use href="#p117"/>
<use href="#p118"/>
<use href="#p119"/>
<use href="#p120"/>
<use href="#p121"/>
<use href="#p122"/>
<use href="#p123"/>
<use href="#p124"/>
<use href="#p125"/>
<use href="#p126"/>
<use href="#p127"/>
<use href="#p128"/>
<use href="#p129"/>
<use href="#p130"/>
<use href="#p131"/>
<use href="#p132"/>
<use href="#p133"/>
<use href="#p134"/>
<use href="#p135"/>
<use href="#p136"/>
<use href="#p137"/>
<use href="#p138"/>
<use href="#p139"/>
</g>
<g stroke="#ff4500" stroke-opacity="0.14" stroke-width="0.65">
<path d="M150 205l1-1 1 7 1 4 1 24 1-2 1-8 1 22 1 5 1-21 1 0 1 24 1 4 1 11 1 5 1-9 1 1 1-12 1 12 1-13 1 14 1 9 1 23 1-17 1-15 1 2 1-3 1-1 1 5 1-11 1 8 1 19 1 9 1 9 1-21 1-12 1 10 1 20 1 14 1-24 1 18 1-4 1 5 1-15 1 6 1-2 1 20 1-4 1 1 1-11 1 5 1 5 1 5 1-3 1 15 1 17 1-5 1 18 1 0 1-5 1 6 1 4 1 3 1 8 1 5 1 7 1 12 1 10 1 6 1 1 1 10 1-6 1 3 1 3 1 13 1 5 1 8 1 2 1-1 1 12 1-3 1 6 1-5 1 11 1 8 1 1 1 2 1 9 1 6 1 0 1 7 1 3 1 6 1-1 1 8 1 9 1 4 1 8 1 11 1 0 1 2" vector-effect="non-scaling-stroke"/>
<path d="M150 140l1 15 1 37 1 7 1 28 1-7 1 2 1 12 1 20 1-13 1 22 1 17 1 8 1 15 1 22 1-53 1 2 1-26 1-6 1-1 1 27 1 8 1 3 1-17 1-2 1 22 1 4 1 7 1-5 1-10 1 4 1-17 1 32 1 7 1 5 1 0 1-14 1-16 1 6 1-3 1-11 1-15 1 25 1 18 1 11 1-8 1 17 1 8 1 2 1-4 1-16 1 18 1 19 1 1 1 13 1 1 1 6 1-14 1-15 1-2 1 7 1 8 1-1 1 20 1 2 1 23 1 19 1-8 1 14 1 3 1-8 1 16 1-6 1 4 1 9 1-8 1 24 1 13 1 5 1 6 1 0 1 3 1 1 1-11 1 5 1 16 1-4 1-2 1 18 1 0 1-3 1 11 1 1 1 7 1 6 1 5 1 4 1 3 1 3 1 6 1 8" vector-effect="non-scaling-stroke"/>
<path d="M150 194l1 7 1 5 1 1 1-7 1 1 1 15 1-19 1 6 1-13 1 12 1 15 1-2 1 13 1 4 1-8 1 16 1 3 1-14 1-6 1-5 1-14 1-1 1 4 1 7 1 23 1 27 1 15 1-13 1 28 1-12 1-2 1-10 1 11 1 7 1 3 1 0 1 10 1-1 1 12 1-13 1 6 1 5 1 13 1-12 1-1 1 6 1-6 1 8 1 12 1 12 1 1 1 6 1 24 1 5 1-11 1-7 1-3 1-3 1 19 1-10 1-19 1 8 1 16 1 17 1 4 1-14 1-1 1 8 1 8 1 8 1 3 1 14 1 13 1 7 1 1 1-8 1 7 1 14 1 13 1 3 1 3 1 8 1 0 1 5 1 5 1 8 1 7 1 7 1 1 1-4 1 11 1 13 1-5 1 6 1 6 1-1 1 7 1 6 1 10 1 4" vector-effect="non-scaling-stroke"/>
<path d="M150 179l1 10 1-6 1-9 1 37 1 8 1 13 1-12 1-15 1 5 1 26 1 7 1-1 1-5 1-16 1 29 1-24 1 17 1 6 1 3 1 6 1 6 1 17 1-1 1-14 1-21 1 4 1 4 1 11 1-12 1 0 1-18 1 8 1-8 1 1 1-9 1 32 1-6 1 13 1 11 1 7 1 29 1-13 1 11 1-11 1 19 1-10 1-16 1 14 1 23 1 14 1 10 1-17 1 0 1-3 1 24 1-1 1 3 1-14 1-3 1-1 1 11 1 28 1 13 1 14 1 9 1-2 1-5 1 8 1 8 1-18 1 8 1 0 1 3 1 4 1 8 1 14 1 11 1 10 1-2 1-17 1 13 1 2 1 7 1 9 1 10 1 7 1 6 1-3 1 13 1 3 1-5 1 3 1 4 1 4 1-1 1 6 1 6 1 13 1 0 1-3" vector-effect="non-scaling-stroke"/>
<path d="M150 191l1 12 1 9 1 15 1 2 1 6 1-1 1 13 1 18 1-14 1 0 1-29 1-8 1 7 1 1 1 45 1-49 1 6 1 1 1 17 1 20 1 37 1 7 1-10 1 7 1-12 1-14 1 7 1 0 1 1 1 19 1-11 1 4 1-26 1 18 1-10 1 16 1-11 1 22 1 24 1-14 1-38 1 26 1-14 1 11 1 32 1-8 1 1 1 5 1-16 1 7 1 11 1 10 1 24 1 10 1 1 1 0 1-1 1-18 1-19 1 9 1 3 1-14 1-6 1 6 1 23 1 22 1 16 1 5 1 4 1 7 1 16 1 4 1 14 1 6 1 13 1 12 1-5 1-5 1 1 1-3 1-3 1 13 1-5 1 6 1-1 1 2 1 16 1 7 1-2 1 12 1-2 1 5 1 3 1 6 1-3 1 5 1 16 1 8 1 3 1 3" vector-effect="non-scaling-stroke"/>
<path d="M150 159l1 7 1 6 1 16 1 1 1 6 1 15 1 25 1-15 1-7 1 8 1-12 1 19 1 18 1 9 1 4 1-20 1 17 1-7 1 11 1-21 1 1 1 9 1 11 1 9 1 21 1 5 1-11 1-1 1-18 1 3 1-13 1 10 1 14 1-15 1-13 1 20 1 12 1 6 1-9 1 3 1 4 1 26 1-19 1 9 1 5 1 1 1-1 1 23 1 27 1 13 1-7 1 2 1-13 1-13 1-3 1 26 1 2 1 10 1-3 1 2 1-1 1 7 1 24 1 5 1-8 1 5 1 10 1 2 1-1 1-9 1 16 1 2 1 8 1 12 1 5 1-2 1-9 1 11 1 4 1 0 1 6 1 2 1 13 1 6 1 3 1 10 1 3 1 3 1 6 1 2 1 0 1 12 1 1 1 1 1 8 1 7 1 2 1 2 1 11 1 3" vector-effect="non-scaling-stroke"/>
<path d="M150 238l1 3 1-8 1-13 1-20 1 5 1 11 1 12 1-15 1-9 1-13 1 25 1 29 1-20 1 6 1-9 1-15 1 8 1 7 1 52 1-16 1 11 1 27 1-31 1-16 1 17 1 25 1 5 1-19 1 17 1 14 1-19 1 12 1-10 1-7 1 4 1 10 1-6 1 7 1 3 1-10 1-27 1 25 1 7 1 25 1-11 1 13 1-6 1-1 1-5 1-7 1 1 1 16 1 9 1 0 1-2 1 23 1 12 1 11 1 12 1 7 1 13 1 11 1-22 1 1 1-2 1 1 1-1 1 7 1 2 1 11 1 6 1-8 1 15 1-1 1 7 1 3 1 16 1 6 1-11 1-4 1 1 1-1 1 13 1 12 1 5 1 5 1 7 1-3 1 9 1 15 1 4 1 1 1 2 1 10 1 7 1-1 1 9 1 9 1-1 1 5" vector-effect="non-scaling-stroke"/>
<path d="M150 192l1 7 1-28 1-1 1 13 1 5 1 36 1-1 1-40 1-4 1-15 1-13 1 14 1-3 1 24 1 17 1 29 1-17 1 0 1 14 1 6 1 3 1-18 1-15 1 53 1 30 1 17 1 24 1-22 1-3 1-38 1-28 1 26 1-6 1 27 1 8 1 18 1 10 1-42 1 18 1-15 1-33 1-5 1 31 1 13 1 42 1-11 1 6 1-27 1-34 1 19 1 9 1 8 1 29 1 13 1 5 1 36 1-10 1-4 1-24 1-24 1 22 1 10 1 11 1-3 1 18 1-4 1 8 1 4 1 5 1 11 1 10 1 5 1 29 1 2 1 8 1-23 1-6 1-6 1 29 1 18 1-15 1 6 1-6 1 9 1-9 1-10 1 15 1 12 1 8 1 10 1 4 1 0 1 17 1 4 1 2 1 16 1 4 1 1 1-1 1 11" vector-effect="non-scaling-stroke"/>
<path d="M150 237l1-6 1-15 1 1 1 19 1-37 1-4 1 26 1-20 1 15 1 8 1-22 1-4 1 18 1-6 1 10 1-5 1-8 1 8 1-11 1 41 1 7 1-7 1 28 1 3 1-17 1-3 1 22 1-10 1 16 1 17 1 8 1-11 1 21 1-15 1 35 1 2 1-22 1-11 1 13 1 8 1 24 1-8 1 1 1-12 1 12 1-23 1 4 1-1 1-12 1 3 1 21 1 30 1-26 1 14 1 7 1-5 1-30 1-11 1 14 1 4 1 4 1 51 1 0 1 2 1 15 1-28 1 1 1 4 1 14 1 25 1 9 1 2 1-13 1-4 1 6 1 7 1 1 1 21 1-2 1-2 1-5 1 19 1 8 1-5 1 3 1 20 1 10 1-2 1 3 1 8 1-6 1 8 1 3 1 5 1 4 1 10 1-2 1 3 1 11 1 7" vector-effect="non-scaling-stroke"/>
<path d="M150 186l1 3 1-6 1 7 1 1 1 0 1 2 1 22 1 10 1 2 1 15 1 5 1 11 1 11 1-19 1-10 1-10 1 3 1-1 1-22 1 4 1 11 1 9 1-2 1 3 1 4 1 24 1-9 1-11 1 19 1-10 1 20 1 10 1-8 1 18 1-3 1 3 1 5 1-13 1 32 1-4 1-14 1 10 1-3 1-13 1-7 1 5 1 31 1 4 1-1 1-4 1-6 1-16 1 18 1 19 1 3 1-2 1 6 1 7 1 5 1-1 1 12 1 6 1 2 1-1 1 2 1-5 1 9 1 8 1-6 1 5 1 15 1 6 1 16 1 9 1 2 1 2 1 0 1 20 1 1 1 13 1-1 1 4 1 3 1-3 1 18 1 5 1-2 1 5 1 2 1 5 1 10 1 5 1-7 1 12 1 8 1 5 1 4 1 8 1 2 1 9" vector-effect="non-scaling-stroke"/>
<path d="M150 177l1 10 1-5 1-2 1 6 1-17 1 3 1 1 1 12 1-25 1-6 1-11 1 25 1-4 1 16 1 42 1-35 1 11 1-23 1-7 1 4 1 33 1-11 1 16 1 12 1 10 1-28 1-9 1 11 1 4 1 9 1 51 1 0 1-3 1 20 1-16 1-28 1-15 1-14 1 3 1 30 1 3 1 25 1-7 1 18 1 15 1 24 1 6 1 0 1 2 1-18 1 2 1 1 1 0 1-4 1-3 1 42 1 22 1 19 1 2 1-11 1 14 1-19 1-10 1 31 1-15 1-3 1-10 1-5 1-11 1 22 1 15 1 18 1 28 1 8 1-34 1 16 1-1 1 21 1 0 1-11 1 23 1 4 1 7 1 22 1 7 1-8 1-11 1-2 1 7 1 4 1 15 1 4 1 19 1-2 1-1 1-4 1 4 1 14 1 8 1 5" vector-effect="non-scaling-stroke"/>
<path d="M150 209l1 2 1-1 1 5 1-4 1-5 1 0 1 5 1 17 1-5 1 8 1-9 1 0 1-10 1 8 1 8 1 8 1 8 1-3 1 10 1 6 1-5 1-6 1-1 1 7 1-11 1 11 1 13 1 14 1-3 1 9 1 3 1-7 1-1 1 0 1 8 1 0 1-2 1 1 1 14 1-3 1 8 1 2 1-11 1 12 1 1 1 0 1-1 1 17 1 7 1-2 1-2 1-4 1-1 1 9 1 10 1 5 1 4 1 4 1 11 1 2 1-2 1 14 1 14 1-3 1 6 1 3 1 12 1 5 1 4 1-1 1-2 1-3 1 5 1 4 1 1 1 6 1 8 1-1 1 10 1 4 1 6 1 9 1 6 1 4 1 4 1 5 1 6 1 5 1 7 1 8 1 1 1-2 1 4 1 7 1 6 1 10 1 5 1 3 1 5 1 5" vector-effect="non-scaling-stroke"/>
<path d="M150 197l1 4 1 2 1 1 1 8 1-3 1-6 1 12 1-4 1 16 1-11 1 1 1 6 1 13 1-11 1-6 1 8 1 3 1-4 1 14 1 8 1 10 1-2 1-2 1 14 1 8 1-8 1 1 1-10 1 17 1 16 1-8 1 6 1 2 1 14 1-15 1-6 1 1 1-1 1 5 1 11 1 2 1 1 1 2 1 8 1 12 1-3 1 9 1 1 1 4 1 3 1-11 1 8 1 1 1 1 1 17 1 2 1-12 1 8 1 6 1 10 1 5 1 5 1 6 1-2 1-4 1 4 1 6 1 0 1 17 1 8 1 1 1 14 1 6 1 8 1 9 1 6 1 6 1-3 1 9 1-2 1 4 1 5 1-1 1 8 1 5 1 4 1 4 1 4 1 2 1 8 1 1 1 1 1 8 1 3 1 10 1-3 1 5 1 4 1 2 1 7" vector-effect="non-scaling-stroke"/>
<path d="M150 195l1 1 1 10 1-1 1 5 1 0 1 5 1-10 1 1 1 0 1-6 1-4 1 12 1 18 1 11 1 5 1 22 1 0 1 16 1-8 1-19 1 5 1 11 1 3 1 12 1-10 1-1 1 2 1 3 1 0 1 21 1 2 1-3 1 7 1 0 1-17 1-17 1 14 1 1 1 6 1 0 1 2 1-14 1 10 1 13 1 14 1-4 1 17 1-9 1 3 1-3 1 2 1 6 1-12 1 13 1-5 1-4 1 14 1 6 1 17 1 4 1 3 1 9 1 6 1 17 1 4 1 12 1-7 1 3 1 3 1 3 1-11 1 12 1 8 1 5 1-2 1 12 1 1 1 9 1 0 1 11 1-2 1 6 1 12 1-1 1 7 1 12 1-5 1 14 1 4 1 5 1 4 1 2 1 3 1 3 1 5 1 1 1-1 1 8 1 13 1 8" vector-effect="non-scaling-stroke"/>
<path d="M150 171l1 11 1 3 1-2 1-5 1 16 1 3 1 21 1-10 1-7 1 11 1-7 1 3 1 6 1 2 1-9 1 4 1 3 1 26 1-10 1 9 1 17 1-1 1 16 1-6 1-18 1 4 1-9 1-3 1 11 1 13 1-7 1-7 1 14 1 15 1-6 1 6 1 7 1-6 1 9 1 12 1 1 1-2 1 3 1-6 1-2 1 9 1 4 1 11 1 11 1-6 1-8 1-2 1 18 1 11 1 2 1-12 1 13 1 12 1 5 1-1 1 12 1 9 1 5 1 10 1 0 1 6 1 3 1 7 1 17 1-15 1 15 1-5 1 13 1-1 1 0 1 11 1 7 1-5 1 7 1 7 1 4 1 0 1 9 1-2 1 8 1 3 1 1 1 0 1 8 1 5 1 9 1 8 1 8 1 6 1 8 1 7 1 2 1 1 1 1 1 4" vector-effect="non-scaling-stroke"/>
<path d="M150 199l1 2 1 1 1-2 1 11 1 6 1 3 1 3 1 7 1 3 1 5 1-7 1 9 1-1 1-4 1 7 1-2 1 6 1 0 1 1 1 0 1 2 1 7 1 1 1 7 1 18 1-2 1-1 1-3 1-5 1 7 1 9 1-1 1-2 1-5 1-4 1 2 1 6 1 4 1 11 1 0 1 4 1-5 1 3 1 14 1 8 1 4 1-5 1 4 1-2 1 8 1-4 1 5 1 2 1 1 1 2 1 10 1 8 1 1 1 12 1 3 1 1 1 9 1 0 1 4 1 15 1 4 1-7 1 11 1 3 1 7 1 5 1 6 1 6 1 2 1 7 1 5 1 8 1-1 1 2 1 1 1 3 1 6 1 0 1 1 1 3 1 8 1 4 1 8 1 4 1 6 1 7 1 4 1 8 1 4 1 8 1 5 1 4 1 5 1 3 1 6" vector-effect="non-scaling-stroke"/>
<path d="M150 175l1 7 1 22 1-11 1 12 1 49 1-3 1-18 1 7 1-7 1-17 1 5 1 16 1 21 1-31 1 9 1-48 1 62 1 21 1 0 1-34 1 49 1-16 1 0 1-11 1 9 1 6 1-24 1 8 1 25 1 11 1-50 1 5 1 48 1-17 1 34 1-50 1 12 1 7 1-5 1-2 1 27 1-18 1-12 1 43 1-11 1-11 1-16 1 0 1 12 1 16 1-19 1 5 1-3 1 22 1 22 1-9 1 25 1 39 1 4 1-23 1 2 1-1 1 8 1 14 1 10 1-1 1-16 1 0 1 13 1 1 1 1 1 20 1-14 1 17 1 18 1-2 1 22 1-5 1 14 1 5 1 10 1 2 1 14 1-6 1-8 1 11 1 15 1-6 1 17 1 4 1 0 1-5 1 3 1-6 1 2 1 13 1-3 1 13 1-8 1 15" vector-effect="non-scaling-stroke"/>
<path d="M150 215l1 2 1-10 1 11 1 27 1 32 1-17 1-29 1-2 1-1 1-8 1-28 1-7 1-8 1 2 1 4 1 25 1-18 1-14 1 50 1 12 1 32 1-18 1-39 1 33 1 26 1-38 1-5 1 48 1 12 1 1 1 44 1-7 1-14 1-9 1 2 1 20 1-24 1-21 1 6 1-7 1-20 1 42 1-40 1-2 1 30 1 11 1 4 1-9 1 37 1 8 1-21 1-2 1 11 1 21 1-7 1-3 1 11 1-12 1 17 1-12 1 20 1-22 1 20 1 7 1 15 1-8 1 8 1 6 1-5 1 5 1 6 1 33 1 9 1 23 1-7 1 0 1-6 1 4 1 11 1 21 1 9 1 16 1-18 1-15 1 26 1 7 1-6 1-14 1 8 1 3 1-3 1 14 1 2 1 4 1 15 1-3 1 2 1 9 1 10 1 3" vector-effect="non-scaling-stroke"/>
<path d="M150 208l1 3 1 23 1-5 1 9 1-27 1-26 1 9 1 17 1 17 1-6 1 11 1-49 1 19 1-3 1 26 1-47 1-4 1 1 1-8 1 12 1 18 1 5 1 12 1 22 1 32 1 11 1 3 1 26 1-43 1-8 1-21 1 32 1 0 1 26 1-33 1-17 1-13 1-1 1 13 1 35 1 32 1-6 1-5 1-8 1 25 1 3 1-8 1-2 1 2 1 17 1 1 1 7 1 5 1 16 1 1 1 4 1 28 1 14 1-12 1-6 1-14 1-19 1-18 1 15 1-2 1 24 1 1 1 17 1 14 1 4 1 7 1-8 1 18 1-5 1 5 1 2 1 12 1 7 1 2 1 12 1 1 1 12 1-1 1 17 1-14 1 11 1 11 1 15 1 10 1 2 1-12 1 8 1 2 1 5 1 2 1-1 1 5 1 7 1-1 1 5" vector-effect="non-scaling-stroke"/>
<path d="M150 188l1 14 1 16 1 7 1 10 1-11 1-20 1 17 1-16 1 2 1 14 1 8 1 3 1 14 1 5 1 14 1-2 1-7 1 5 1-14 1 3 1 8 1 8 1 5 1-4 1 1 1 3 1 0 1 4 1 0 1-8 1 4 1 1 1 3 1 14 1 8 1-7 1-6 1 2 1 13 1-5 1-5 1 17 1 11 1-8 1-7 1 1 1-5 1 15 1 5 1 5 1 14 1 1 1 10 1 5 1-16 1-7 1 15 1-1 1 12 1-7 1 5 1 6 1 0 1 7 1 11 1 20 1 2 1 8 1 3 1 4 1-3 1 9 1 2 1 7 1 9 1-4 1 3 1 16 1 7 1 8 1 3 1 6 1-1 1 4 1 2 1 14 1 6 1-2 1 6 1 2 1-3 1 7 1 4 1 9 1 2 1 6 1 3 1 6 1 6 1 4" vector-effect="non-scaling-stroke"/>
<path d="M150 199l1 5 1 4 1 2 1 5 1 5 1-5 1 7 1 5 1 4 1-10 1 8 1-7 1 5 1 0 1 7 1 10 1 11 1-23 1 9 1 1 1 8 1 5 1-1 1 3 1-5 1 11 1 8 1 9 1-2 1 13 1 0 1 6 1-14 1 6 1 9 1 3 1-2 1 7 1 2 1 6 1-2 1 0 1-1 1 4 1 8 1 4 1 2 1 0 1 0 1-6 1-4 1 4 1 1 1 4 1 6 1-2 1 13 1 4 1-2 1 5 1 14 1 5 1 9 1 12 1 4 1 0 1 4 1 2 1 4 1 4 1 0 1 7 1 5 1 10 1 0 1 4 1 10 1 7 1 3 1 3 1 1 1 9 1 4 1 7 1 7 1 6 1 1 1 4 1 1 1 6 1 1 1 5 1 10 1 7 1 8 1 6 1 4 1 6 1 1 1 4" vector-effect="non-scaling-stroke"/>
<path d="M150 196l1-5 1 3 1-9 1 7 1 11 1 33 1 8 1-15 1 0 1-42 1 6 1 20 1-12 1 14 1-3 1 2 1-9 1 13 1 11 1 28 1 9 1 2 1-1 1 5 1-4 1 12 1-16 1 4 1 8 1 11 1 9 1 1 1-5 1 16 1 10 1-17 1 26 1-2 1 7 1 2 1-6 1 2 1 9 1-13 1 11 1-2 1 7 1-1 1-8 1-9 1 9 1 3 1-6 1 15 1 6 1-3 1-4 1 2 1 13 1-1 1-7 1 7 1 16 1 35 1-4 1 6 1-5 1 10 1-23 1 5 1 8 1-4 1 15 1 18 1 0 1 5 1 8 1 0 1-4 1 15 1-1 1 6 1-2 1 7 1 3 1 2 1 2 1 9 1 13 1 9 1 5 1 10 1 8 1 0 1 7 1 1 1 6 1 5 1 2 1 8" vector-effect="non-scaling-stroke"/>
<path d="M150 239l1-15 1-7 1-21 1 2 1-10 1-39 1-16 1 33 1 5 1 11 1-3 1 17 1-2 1 10 1 19 1 2 1-4 1 20 1 28 1-6 1 19 1 34 1-42 1-21 1-1 1-6 1-12 1 15 1-37 1 7 1 8 1 56 1 9 1 19 1-2 1 26 1-8 1-48 1-22 1 77 1 0 1 7 1 27 1-18 1 6 1-35 1 14 1-19 1-13 1-1 1 4 1-2 1 3 1 39 1-16 1 16 1 10 1-9 1 6 1 10 1 2 1-14 1 18 1 2 1 11 1 12 1-1 1-1 1 5 1 1 1 11 1-6 1 6 1 3 1 29 1 8 1-3 1-3 1 16 1 2 1 8 1-16 1 24 1-1 1-15 1-9 1 22 1 10 1-4 1 10 1 13 1 9 1 0 1 13 1 0 1 6 1 8 1-2 1 10 1-1" vector-effect="non-scaling-stroke"/>
<path d="M150 196l1 12 1-1 1 4 1-5 1-6 1-14 1 35 1 14 1-8 1 12 1 13 1 6 1-45 1-14 1 8 1 13 1-7 1-9 1 26 1 14 1 0 1-16 1 17 1 34 1-15 1 21 1-32 1 2 1-32 1 27 1 18 1-11 1-15 1 18 1 26 1-2 1 12 1-8 1 17 1 13 1-5 1 16 1-23 1 23 1 12 1 16 1-11 1 10 1-15 1-8 1-6 1 24 1 9 1 0 1 5 1-13 1 12 1 3 1 2 1 0 1-6 1 18 1 1 1-8 1-3 1 6 1-2 1 10 1-1 1 15 1 26 1 0 1 2 1-1 1 5 1-2 1 20 1 11 1-4 1 5 1 20 1-3 1 7 1-8 1-3 1 3 1 16 1 2 1 8 1 9 1 5 1 6 1 14 1 1 1 7 1 3 1 4 1 1 1 6 1 5" vector-effect="non-scaling-stroke"/>
<path d="M150 189l1 4 1 2 1-5 1 9 1 7 1 4 1 2 1 7 1 5 1 1 1 2 1 8 1-7 1 6 1-9 1 8 1 3 1 10 1 4 1 0 1 26 1-11 1-3 1 2 1 2 1 2 1-2 1 7 1 4 1 0 1-2 1 7 1 2 1 6 1 2 1-2 1 6 1 3 1 0 1 5 1 4 1 0 1 3 1 10 1 1 1 0 1 3 1-1 1 0 1 7 1 1 1 5 1-2 1 7 1-2 1 7 1-6 1-1 1 11 1 3 1 0 1 10 1 9 1 8 1 0 1 13 1 3 1 9 1 4 1 7 1 4 1 0 1 3 1 10 1 3 1 4 1 6 1 5 1 0 1 3 1 8 1 0 1 7 1 5 1 4 1 7 1 6 1 9 1 2 1 4 1 1 1 8 1 2 1 8 1 4 1 5 1 4 1 4 1 3 1 5" vector-effect="non-scaling-stroke"/>
<path d="M150 204l1-1 1 3 1 8 1-4 1 12 1 6 1-9 1-3 1 3 1-1 1 18 1-5 1 0 1 1 1-7 1 4 1 17 1 5 1 8 1-6 1-20 1 2 1 4 1 10 1-4 1-5 1 11 1-3 1 12 1 7 1 7 1-12 1 14 1 5 1-8 1 3 1 7 1-13 1-2 1 13 1 11 1 12 1 6 1 0 1-2 1-1 1 4 1 6 1 7 1 6 1-3 1 5 1 7 1-4 1-2 1 5 1 5 1-3 1 2 1 8 1 15 1 16 1 10 1 8 1-3 1 0 1 7 1 4 1 0 1 8 1 8 1-2 1 3 1 5 1 0 1 4 1 10 1 5 1 6 1 5 1 7 1 2 1 5 1 13 1 1 1 11 1 1 1 6 1 4 1 5 1 2 1 7 1 4 1-4 1 1 1 3 1 13 1 7 1 4 1 3" vector-effect="non-scaling-stroke"/>
<path d="M150 201l1 1 1 8 1 5 1-6 1 6 1-1 1 0 1 10 1-7 1 1 1 2 1 3 1 14 1 9 1-8 1 8 1-7 1 5 1 4 1-4 1-4 1 0 1 3 1-2 1 9 1 10 1 2 1 1 1 1 1-9 1 3 1 9 1-4 1-2 1 10 1 5 1 11 1 7 1 7 1 1 1 2 1 5 1 5 1 9 1 6 1 3 1-6 1-2 1 0 1-1 1-6 1 16 1 7 1-1 1 12 1 3 1 0 1-8 1 4 1 6 1 8 1 8 1 14 1 9 1 3 1 1 1-1 1-5 1 11 1 9 1 6 1 3 1 3 1 5 1 4 1 1 1 6 1 10 1 9 1-1 1 10 1 1 1 0 1 6 1 4 1 3 1 0 1 4 1 7 1 6 1 10 1 7 1 5 1 5 1 2 1 3 1 7 1 5 1 8 1 5" vector-effect="non-scaling-stroke"/>
<path d="M150 184l1-3 1 14 1 1 1-1 1-13 1 4 1-5 1 31 1 0 1-1 1 4 1 17 1-12 1 2 1-7 1 6 1 30 1-3 1-5 1 6 1-21 1 33 1-52 1 5 1 35 1 48 1-28 1-6 1 5 1 13 1 13 1 20 1-42 1-17 1 16 1 5 1 10 1 2 1 7 1-1 1 3 1 31 1 11 1-14 1 1 1-3 1-33 1-1 1-7 1 7 1 15 1 13 1 24 1-8 1 4 1 19 1-14 1-2 1 3 1-4 1 0 1 7 1-5 1 16 1 10 1 13 1-6 1 25 1 15 1-8 1-2 1 1 1 12 1 5 1-4 1 10 1 11 1 14 1 12 1-4 1 5 1 6 1 2 1 6 1 3 1 0 1 2 1 3 1 10 1-2 1 7 1-1 1 7 1 7 1 3 1 15 1 6 1 4 1 4 1 1" vector-effect="non-scaling-stroke"/>
<path d="M150 209l1-2 1 4 1 3 1 16 1-18 1 7 1 0 1-6 1 0 1 20 1 2 1-3 1 7 1-12 1 33 1 21 1-18 1 1 1 26 1 3 1-33 1-17 1 17 1 25 1-1 1 3 1 6 1 1 1-13 1 23 1 11 1-8 1-37 1 42 1-17 1-11 1-3 1-8 1 9 1 18 1 5 1 12 1-17 1 25 1-15 1 35 1-3 1-23 1 10 1 2 1 23 1 11 1-25 1-4 1-2 1 21 1 7 1-5 1 22 1 2 1-6 1-3 1 8 1 12 1 11 1 10 1-8 1-2 1 6 1 9 1-2 1 10 1 8 1-5 1 3 1 8 1 9 1 8 1-4 1-3 1 15 1 9 1-5 1 4 1 11 1 2 1 3 1 16 1-4 1 9 1 1 1 3 1 11 1 5 1 7 1-2 1 4 1 6 1 4 1 5" vector-effect="non-scaling-stroke"/>
<path d="M150 224l1-7 1 17 1-7 1-2 1 22 1 1 1-25 1 20 1 22 1-8 1-1 1-4 1-13 1 0 1 13 1-15 1 22 1-7 1 16 1-31 1-3 1 0 1 6 1-15 1-5 1 13 1 26 1 13 1 1 1 22 1-7 1-15 1-16 1 29 1 16 1-10 1-10 1 6 1 4 1-20 1 23 1-3 1-9 1 33 1 30 1-18 1 13 1-4 1-14 1-9 1-23 1 20 1 13 1 1 1 17 1-5 1 3 1 35 1-2 1 0 1-6 1-3 1-3 1 15 1-4 1 15 1-14 1 16 1-13 1 9 1 7 1 13 1 13 1 12 1 7 1-14 1-6 1-2 1 18 1 19 1 10 1 13 1 2 1 11 1-8 1 5 1 6 1 8 1 6 1 2 1 13 1 3 1-4 1-4 1 1 1 12 1 6 1 4 1 5 1 0" vector-effect="non-scaling-stroke"/>
<path d="M150 203l1 0 1-3 1 8 1-1 1 3 1-1 1 1 1-1 1 9 1 7 1 8 1-3 1-13 1 10 1 8 1-2 1 10 1 11 1-10 1 4 1-11 1 3 1-2 1 7 1-8 1 2 1 10 1 11 1 8 1 11 1 18 1 2 1-5 1-2 1-4 1 5 1 7 1-13 1 8 1 9 1 0 1-7 1-2 1 0 1-1 1-2 1 11 1-7 1 10 1 1 1 15 1 3 1 2 1 2 1 6 1 1 1 9 1 10 1 11 1 5 1-5 1 11 1 8 1-1 1 3 1-5 1 11 1 7 1-5 1 10 1 3 1 5 1 12 1 0 1 11 1 4 1 10 1 10 1-3 1 11 1 1 1 6 1 2 1 4 1 3 1 2 1 7 1 2 1 4 1 3 1 5 1 8 1 6 1 5 1 2 1 4 1 0 1 10 1 6 1 5" vector-effect="non-scaling-stroke"/>
<path d="M150 170l1 11 1 11 1 13 1 9 1 17 1-16 1-22 1 26 1-8 1 13 1 14 1-10 1 22 1 12 1 0 1-19 1-9 1 20 1-8 1 10 1-9 1 14 1-2 1 5 1 3 1 20 1-6 1-9 1-16 1 24 1-2 1 8 1 4 1-8 1-13 1 4 1 4 1-10 1 16 1-4 1-6 1 20 1 21 1-7 1 1 1 7 1-8 1-5 1 16 1 14 1-1 1-6 1 18 1-1 1 4 1-6 1 12 1 21 1-1 1 3 1 15 1 6 1-19 1 14 1-11 1 5 1-1 1 9 1-14 1 23 1 8 1 0 1 5 1 20 1 11 1 6 1 9 1 7 1 8 1-1 1 3 1-2 1 4 1 8 1-5 1 3 1 6 1 6 1 6 1 7 1 4 1 1 1 6 1 6 1 3 1 1 1 10 1 9 1 5 1-3" vector-effect="non-scaling-stroke"/>
<path d="M150 212l1-13 1-7 1-9 1 8 1-7 1 13 1 16 1 12 1 26 1-12 1-5 1-13 1-6 1 1 1 12 1 33 1 10 1 1 1-16 1-14 1 5 1 7 1-11 1 10 1 1 1-26 1 16 1 16 1 15 1 15 1-3 1-13 1 0 1 5 1-1 1-7 1 25 1 14 1-10 1-5 1 2 1 8 1 5 1 6 1 4 1-5 1-1 1 13 1 17 1-3 1 5 1 7 1 6 1 3 1 6 1 0 1 2 1 0 1-3 1 5 1 9 1 3 1 9 1 6 1 4 1-12 1 4 1 0 1 4 1 9 1 0 1 12 1-7 1 14 1 5 1 13 1 4 1 6 1 7 1-3 1-2 1 6 1-2 1 11 1 6 1 8 1 7 1 1 1-3 1 4 1 9 1 4 1 8 1 4 1 5 1 6 1 5 1 4 1 9 1 3" vector-effect="non-scaling-stroke"/>
<path d="M150 235l1-14 1-6 1 2 1-7 1 15 1-5 1-8 1 5 1-9 1 20 1 19 1 1 1 20 1-14 1 7 1-3 1 19 1-25 1-1 1 18 1-8 1 1 1-8 1-10 1 18 1-9 1 10 1 9 1-5 1-4 1 5 1 5 1-11 1 14 1 27 1-4 1-8 1-18 1 15 1-10 1 21 1 15 1 1 1-9 1-18 1 13 1 5 1 10 1 16 1 4 1 3 1-22 1 8 1 11 1 1 1-4 1 12 1 6 1 6 1 18 1-1 1-3 1 3 1-4 1 4 1 11 1 12 1 8 1-13 1 16 1 5 1-10 1-3 1 15 1 10 1 7 1-11 1 14 1 4 1 9 1 14 1 16 1-5 1 4 1 1 1 3 1 3 1 5 1 9 1 0 1 3 1 4 1 10 1 8 1 10 1 4 1 2 1 8 1 1 1 8" vector-effect="non-scaling-stroke"/>
<path d="M150 178l1 12 1 3 1 10 1 22 1 1 1-19 1-16 1 6 1 23 1-3 1 3 1 7 1-4 1 4 1 8 1-8 1 7 1-32 1 10 1 2 1 27 1 14 1 25 1-3 1-26 1 7 1 16 1-2 1 15 1-8 1 4 1-12 1 12 1-14 1 5 1 7 1 6 1-13 1 30 1 7 1-5 1 16 1-16 1 2 1-2 1-2 1 2 1 24 1-23 1-1 1 14 1 0 1 1 1 4 1 24 1 6 1 0 1 8 1 5 1 7 1 13 1 2 1 2 1 1 1 3 1-2 1 1 1 4 1 3 1 1 1 0 1-1 1 5 1 8 1 15 1 6 1-3 1 1 1 7 1 13 1 0 1 8 1 3 1 12 1 10 1 9 1-1 1 6 1 7 1 10 1 11 1 0 1-1 1 2 1 5 1 4 1 1 1 8 1 6 1 0" vector-effect="non-scaling-stroke"/>
<path d="M150 180l1 6 1 5 1 3 1 6 1 8 1 0 1 6 1 8 1 11 1 5 1 5 1-9 1 8 1-7 1-12 1-17 1 13 1 11 1-2 1 2 1 14 1 2 1 1 1 4 1 14 1-5 1-1 1-17 1 5 1 19 1 8 1 6 1 2 1 6 1 5 1 7 1 3 1 0 1-5 1-1 1 12 1 10 1 1 1 10 1 1 1-1 1-4 1-4 1 13 1-3 1 4 1-1 1-2 1 7 1-4 1 1 1 7 1 7 1 6 1 0 1 3 1 3 1 6 1 12 1 5 1 11 1 5 1 5 1 5 1 11 1 1 1 1 1 0 1 8 1 5 1 0 1 3 1 9 1 6 1 12 1-5 1 11 1 4 1 2 1 5 1 3 1 4 1 4 1 5 1 9 1 5 1 1 1 3 1 9 1 9 1 4 1 8 1 1 1 1 1 7" vector-effect="non-scaling-stroke"/>
<path d="M150 205l1 0 1-10 1 25 1-4 1-8 1-13 1-4 1 10 1-1 1-18 1-6 1 15 1 2 1 26 1 9 1-10 1 13 1-5 1 7 1 33 1 11 1 4 1-4 1 14 1-18 1 23 1 9 1-18 1 2 1 1 1-13 1 9 1 9 1 3 1-6 1 15 1-8 1-9 1-33 1-12 1 25 1 26 1 26 1 25 1-5 1-8 1 21 1 3 1-8 1 9 1-6 1-4 1 13 1 2 1-7 1-8 1 27 1-11 1 16 1 2 1 1 1 2 1-23 1-11 1 5 1 31 1 4 1-6 1 21 1-2 1 27 1 5 1 10 1 7 1-11 1-1 1 13 1 7 1 4 1-11 1 9 1 5 1 8 1-7 1-4 1 3 1 4 1 9 1 10 1 13 1 3 1 4 1 0 1 12 1 7 1 7 1 2 1 16 1 2 1-3" vector-effect="non-scaling-stroke"/>
<path d="M150 176l1-6 1-31 1 3 1 16 1 9 1-11 1 34 1 48 1-14 1 14 1-48 1 8 1 2 1 12 1-11 1-1 1-8 1-3 1 45 1-44 1 39 1 16 1 21 1 3 1-34 1 61 1 10 1 0 1-42 1 17 1-23 1-12 1-21 1 36 1 1 1-26 1-5 1 42 1-27 1-8 1 22 1 35 1 5 1-7 1 13 1 28 1-11 1 3 1-21 1-6 1-17 1-4 1 19 1 26 1 14 1-13 1 15 1-11 1 7 1 21 1-1 1 14 1 9 1-2 1 0 1-9 1 11 1 2 1 31 1-3 1 1 1 18 1-31 1 7 1-1 1-6 1 31 1 6 1 6 1 2 1 6 1 2 1 36 1 8 1-4 1 14 1 12 1 6 1-10 1 1 1-2 1 14 1 15 1 5 1 0 1 1 1 7 1-6 1 11 1 6" vector-effect="non-scaling-stroke"/>
<path d="M150 203l1 4 1 2 1 1 1 4 1 11 1-10 1 5 1-28 1 12 1-1 1 13 1-62 1 21 1 20 1 23 1 27 1 18 1-29 1 16 1-2 1-2 1 0 1 22 1-17 1-26 1 30 1 16 1 24 1 17 1-19 1-24 1-1 1 11 1 15 1 17 1-11 1-20 1 11 1-8 1 20 1-15 1 5 1-18 1 7 1 7 1 38 1 11 1 4 1-10 1 19 1-23 1-3 1 26 1-4 1 8 1-3 1 13 1 7 1-12 1-11 1-3 1-4 1 20 1 4 1 6 1 11 1 28 1 10 1 16 1-4 1-2 1 0 1 7 1-18 1 8 1-8 1 19 1 15 1 6 1 8 1 0 1 5 1 2 1-4 1 6 1-7 1 18 1-1 1 2 1 6 1 6 1 10 1 7 1 5 1 7 1 17 1-1 1 0 1 0 1 7" vector-effect="non-scaling-stroke"/>
<path d="M150 198l1 2 1 7 1 8 1 4 1 1 1 8 1 0 1 3 1-8 1 2 1 2 1-9 1 4 1 17 1-4 1-7 1 10 1 3 1 0 1-3 1-5 1 6 1-5 1-12 1 8 1 25 1 16 1-4 1 5 1-2 1 1 1 12 1-11 1 4 1 11 1 7 1-2 1 5 1-16 1-5 1 9 1 6 1 19 1 11 1 3 1 2 1 4 1-1 1 4 1-6 1-7 1 4 1 0 1 6 1 14 1-2 1 2 1 6 1 6 1 5 1 10 1-1 1 7 1 5 1-2 1 8 1 5 1 7 1 2 1 4 1 0 1 12 1 8 1 12 1 2 1-1 1 3 1 0 1 7 1 4 1 8 1 10 1 5 1-1 1 8 1 4 1 1 1 5 1 4 1 5 1 6 1 8 1 0 1 8 1 8 1 4 1-1 1 10 1 8 1 2" vector-effect="non-scaling-stroke"/>
<path d="M150 172l1 15 1 10 1-13 1-4 1 26 1-5 1-10 1 34 1-13 1 4 1-11 1-14 1 20 1 2 1 51 1 16 1 10 1-14 1-14 1 15 1 1 1 25 1-29 1-41 1-16 1 8 1 15 1-33 1 13 1 20 1 2 1 6 1 0 1 8 1 0 1 14 1 5 1 27 1-10 1-11 1 3 1 9 1 29 1-3 1 25 1-4 1-10 1-13 1 7 1 16 1 16 1 0 1-2 1-14 1 7 1-21 1 9 1-12 1-5 1 13 1 2 1 16 1 28 1 16 1-10 1 17 1-11 1-8 1 10 1 19 1 5 1 4 1 10 1 0 1 5 1-7 1 10 1 10 1 4 1 15 1 13 1 0 1-8 1 7 1 6 1 11 1-12 1 14 1 8 1-3 1 9 1 11 1 0 1 4 1 8 1 7 1-5 1 2 1 7 1 0" vector-effect="non-scaling-stroke"/>
<path d="M150 210l1 3 1 1 1 0 1 2 1 1 1 22 1-14 1 21 1-2 1-10 1 1 1 5 1 10 1 2 1-13 1 16 1 5 1 7 1 15 1 2 1-10 1-14 1 7 1 6 1 8 1 5 1-27 1-12 1-1 1 32 1-5 1 7 1-2 1 19 1-5 1 6 1 12 1 5 1-1 1 4 1 10 1-2 1-12 1-13 1 23 1-7 1 4 1-4 1 9 1 8 1-2 1 20 1-4 1-8 1 14 1 12 1-2 1 6 1-6 1 10 1-3 1-12 1 24 1 2 1 5 1 7 1 9 1 12 1-8 1-6 1-5 1 11 1 16 1 10 1 3 1 2 1 10 1-5 1 19 1 1 1 13 1 0 1 1 1-1 1-3 1 4 1 16 1 5 1-4 1 4 1 7 1 7 1 5 1 3 1 11 1 3 1 5 1 4 1 5 1 5" vector-effect="non-scaling-stroke"/>
<path d="M150 145l1 12 1 22 1 2 1 1 1 3 1 6 1 18 1-3 1 17 1-21 1 1 1 33 1 2 1 3 1 5 1-32 1 16 1-17 1-14 1 28 1-13 1 43 1 17 1 20 1 16 1-14 1-1 1-12 1-26 1 4 1-7 1 10 1 7 1 10 1 31 1-4 1 9 1-2 1 1 1-10 1 24 1 2 1-24 1 9 1 15 1-34 1-12 1 23 1-7 1 12 1 17 1-18 1 14 1 27 1-12 1 7 1-8 1 30 1-3 1 5 1 0 1 5 1 12 1 16 1 21 1-20 1-2 1 22 1-15 1-1 1 4 1 10 1 14 1 0 1-1 1-3 1-11 1 5 1 16 1 28 1-3 1-3 1 7 1-1 1 8 1 10 1 5 1 6 1 18 1-6 1 15 1-5 1 4 1-1 1-7 1 9 1 5 1 5 1 0 1 9" vector-effect="non-scaling-stroke"/>
<path d="M150 205l1-15 1 5 1 19 1-20 1 19 1-6 1 16 1 18 1-17 1 11 1-24 1 14 1-7 1 0 1-5 1 0 1 25 1 18 1 8 1 54 1-3 1-49 1 4 1 3 1 3 1 13 1 19 1-24 1 1 1 21 1-2 1 21 1 17 1-20 1-14 1-26 1-30 1 29 1-41 1 15 1 8 1-2 1-5 1-4 1 31 1 27 1 8 1-1 1-5 1 14 1 16 1-5 1 19 1 6 1 3 1 14 1-8 1-10 1-8 1-25 1 7 1 3 1 22 1 20 1 7 1 0 1 6 1 9 1-14 1 8 1 13 1 16 1 5 1 10 1 8 1-12 1 2 1-5 1 3 1 3 1 11 1 5 1 9 1 12 1 19 1 2 1-14 1-4 1 21 1-1 1 12 1 9 1 5 1-2 1-3 1 15 1 1 1 5 1-4 1 17" vector-effect="non-scaling-stroke"/>
<path d="M150 224l1-1 1 0 1-3 1-10 1-10 1 19 1-13 1 2 1-1 1 16 1-3 1 3 1-15 1 5 1 19 1 13 1 8 1-11 1 8 1 0 1 25 1-12 1-9 1 19 1-23 1 12 1-8 1 12 1 25 1-21 1 20 1-11 1-2 1 11 1 23 1 0 1 11 1-12 1 1 1-20 1 6 1-2 1-7 1-2 1 19 1 0 1 19 1-1 1 17 1 4 1 7 1-13 1 10 1 8 1-6 1 10 1-3 1-8 1 28 1-12 1-5 1 6 1 23 1 9 1 8 1 1 1-3 1-2 1 5 1 7 1-1 1 11 1 8 1 6 1-11 1 10 1-4 1 12 1 1 1 12 1-1 1-2 1 0 1 6 1 1 1 7 1 14 1 0 1 12 1 7 1 4 1 11 1 6 1 4 1 8 1 4 1 5 1 1 1 3 1 5" vector-effect="non-scaling-stroke"/>
<path d="M150 206l1-4 1 9 1-1 1 1 1 5 1-5 1 0 1-16 1-6 1 17 1 17 1-5 1 4 1 0 1 7 1-3 1 8 1 23 1-4 1 11 1-3 1 3 1-8 1 17 1-4 1 1 1-20 1-5 1 7 1 12 1-10 1 15 1 7 1 15 1 4 1 5 1-1 1 12 1 8 1 2 1 10 1-1 1-6 1 8 1 1 1-1 1 2 1 4 1 0 1-15 1 3 1 8 1 6 1-1 1 9 1-4 1-5 1 12 1 7 1 7 1-10 1 3 1 4 1 11 1 7 1 9 1 12 1 6 1 3 1-1 1 0 1-2 1 13 1-3 1 7 1 2 1 12 1 0 1 2 1 14 1-2 1 10 1 3 1 6 1 10 1 10 1 8 1 3 1 8 1-1 1 6 1 1 1 7 1 1 1 7 1 5 1-1 1 6 1 7 1 6" vector-effect="non-scaling-stroke"/>
<path d="M150 212l1-9 1-6 1 6 1 15 1-8 1 11 1-9 1 14 1-2 1 5 1 9 1 5 1-4 1 16 1-3 1-24 1-12 1 9 1-10 1 11 1 3 1 20 1 20 1-6 1 32 1-4 1-5 1 20 1 5 1-9 1-11 1-11 1-18 1 24 1 1 1 4 1 3 1 9 1-17 1-5 1-6 1 28 1 9 1 9 1 3 1 22 1-14 1-8 1-3 1-2 1-9 1 6 1 11 1-1 1-1 1 4 1 12 1 9 1-3 1 27 1-7 1 10 1 10 1 5 1 4 1 3 1 13 1 10 1 1 1-13 1-1 1 9 1 2 1 12 1-2 1 4 1 5 1 10 1 14 1 1 1 1 1 13 1-6 1 5 1 12 1-4 1 5 1-5 1 8 1 10 1 10 1 4 1 12 1 7 1-1 1 5 1 1 1 3 1 4 1 4" vector-effect="non-scaling-stroke"/>
<path d="M150 150l1 9 1 34 1 32 1-16 1-14 1 1 1 23 1-24 1-13 1-11 1-6 1-2 1 14 1-1 1-15 1 15 1-43 1 51 1 21 1 12 1-17 1-5 1-42 1 2 1 41 1 37 1 2 1-14 1 34 1 11 1-1 1-20 1-4 1 18 1 34 1 1 1-18 1-29 1-20 1 14 1 32 1 44 1-13 1 22 1-33 1 5 1 1 1-3 1 34 1-14 1 14 1-8 1 10 1 23 1-1 1-16 1 53 1-21 1-5 1-2 1-17 1 8 1 17 1-24 1 28 1 10 1 34 1 13 1 1 1-25 1 8 1-31 1 35 1 34 1 3 1 17 1-12 1-5 1 29 1 11 1-7 1-18 1-3 1 7 1 9 1-2 1 8 1 8 1 8 1 7 1 13 1 5 1 9 1 14 1-5 1-7 1-4 1 14 1 4 1 14" vector-effect="non-scaling-stroke"/>
<path d="M150 193l1 10 1-6 1-3 1 11 1-4 1 19 1 23 1-12 1-25 1 2 1-2 1 40 1-11 1 16 1 0 1-11 1 4 1-6 1 25 1-1 1-5 1 4 1 2 1-6 1 17 1 5 1 4 1-6 1 7 1 3 1 7 1 12 1 19 1-5 1-3 1 14 1-18 1-8 1-19 1-5 1-4 1 12 1-8 1-3 1 9 1 7 1 10 1-4 1 15 1 2 1 16 1 0 1 0 1 16 1 13 1-22 1 20 1 0 1-1 1 1 1 1 1 0 1 7 1-2 1 5 1-1 1 1 1 9 1 8 1 9 1 2 1 13 1 4 1-2 1 17 1-8 1 16 1-2 1 7 1 0 1-5 1 0 1 11 1 15 1 5 1 2 1 6 1 5 1 12 1 19 1-1 1-3 1 5 1 8 1 4 1 6 1 3 1 9 1 3 1 5" vector-effect="non-scaling-stroke"/>
<path d="M150 240l1-13 1-14 1 9 1 15 1-9 1-2 1 2 1-5 1-14 1 18 1 24 1-18 1-13 1-4 1 10 1 9 1-1 1-16 1-9 1-5 1 17 1 8 1 15 1-2 1-2 1-6 1 25 1 35 1-21 1 23 1-2 1 18 1 7 1-15 1 20 1-29 1 21 1-1 1-2 1 1 1 10 1-25 1 10 1 20 1-4 1 2 1 3 1-6 1-3 1-8 1 19 1 11 1 7 1 17 1 10 1-7 1 1 1-8 1-3 1 11 1 25 1-8 1-7 1 13 1 4 1 0 1-11 1 22 1 4 1 7 1 5 1 5 1 9 1-19 1 8 1 13 1-3 1 5 1 5 1 4 1-5 1 11 1 9 1 5 1-1 1 18 1 4 1 10 1 6 1 0 1 12 1 1 1 5 1-1 1 6 1-2 1 2 1 5 1 5 1 8" vector-effect="non-scaling-stroke"/>
<path d="M150 175l1 3 1 9 1 3 1 35 1 9 1-21 1 13 1 5 1 6 1 15 1-7 1-17 1-26 1 21 1-11 1 18 1-27 1 13 1-4 1-4 1 22 1 23 1-4 1 4 1 15 1-28 1 37 1-17 1-6 1 3 1 14 1-20 1-5 1 48 1 31 1-28 1 18 1-5 1-7 1 10 1-25 1 14 1 28 1 12 1 10 1-8 1 7 1 1 1 13 1-19 1-2 1-9 1-2 1-9 1 23 1-15 1 7 1 16 1-25 1 3 1 28 1 14 1 5 1-1 1-4 1 2 1 4 1 16 1 13 1-8 1 6 1 2 1 4 1 6 1 1 1 18 1-6 1 11 1 20 1 2 1 15 1 6 1-2 1 5 1-1 1 3 1 18 1-7 1 8 1 2 1 12 1 12 1-7 1 4 1 2 1 10 1 1 1 7 1 3 1-1" vector-effect="non-scaling-stroke"/>
<path d="M150 218l1 5 1 6 1 11 1-14 1-13 1 6 1-7 1 11 1 4 1-2 1-7 1 14 1 7 1 1 1 1 1-15 1 16 1-13 1 24 1 3 1-5 1 3 1-16 1 10 1 8 1 7 1-2 1-8 1 10 1 22 1-1 1 8 1 6 1 2 1 6 1-9 1 1 1-1 1 3 1 1 1-4 1 1 1 2 1 8 1 11 1 7 1 3 1 0 1 5 1-11 1 1 1 3 1-9 1 13 1 0 1 2 1-3 1 5 1 3 1 18 1 6 1-3 1 19 1 3 1 5 1 2 1 10 1 8 1-6 1 3 1 5 1 0 1 2 1 2 1 0 1 9 1 6 1-2 1 10 1 15 1 7 1 13 1 2 1 8 1 7 1 2 1 5 1 8 1 6 1 3 1-2 1 6 1 2 1 0 1 7 1 7 1 9 1 9 1 4 1 6" vector-effect="non-scaling-stroke"/>
<path d="M150 203l1 7 1 2 1 9 1 1 1 13 1-9 1 8 1 0 1 8 1 5 1 6 1-11 1 0 1-4 1-3 1 1 1 20 1 4 1-10 1-14 1 14 1-4 1-8 1 2 1 13 1-9 1 7 1-10 1 1 1 14 1-12 1 1 1 5 1 5 1 12 1 20 1-1 1 0 1 16 1 6 1-3 1 7 1-10 1-7 1 6 1-4 1 15 1-8 1 12 1 6 1 8 1 6 1-2 1 0 1-5 1 7 1 6 1 8 1 10 1-3 1 7 1-4 1-1 1 13 1-2 1 8 1-4 1 18 1 4 1 8 1 1 1 3 1 5 1 8 1 7 1 7 1 15 1 9 1 7 1-2 1 2 1 0 1 3 1 0 1 12 1 9 1 4 1 6 1 3 1 13 1-1 1 3 1 7 1 2 1 2 1 4 1 2 1 4 1 6 1 8" vector-effect="non-scaling-stroke"/>
<path d="M150 162l1 12 1 2 1 20 1 5 1-10 1 8 1 6 1-33 1 10 1 14 1-18 1 30 1 25 1 5 1 5 1-13 1 26 1-8 1 14 1 30 1-15 1-1 1 1 1 8 1-17 1 8 1-25 1 0 1 10 1-6 1 28 1 8 1-1 1-7 1-5 1-5 1 13 1 9 1 1 1-7 1 4 1-8 1 21 1-4 1 20 1-6 1-16 1 7 1-4 1 4 1 17 1 3 1 13 1-3 1 9 1-12 1 4 1 4 1 14 1 8 1-1 1-2 1 4 1 13 1 6 1 4 1 8 1 6 1 3 1-13 1 5 1 17 1-5 1 13 1 11 1 6 1 7 1-2 1 7 1-6 1 3 1 8 1 13 1 2 1 5 1-1 1 15 1 7 1 4 1 3 1 4 1 2 1 4 1 17 1 2 1 2 1 5 1 2 1 7 1 5" vector-effect="non-scaling-stroke"/>
<path d="M150 206l1 2 1 2 1-9 1 15 1-8 1 10 1 19 1 15 1 19 1-12 1 8 1-10 1-1 1-17 1 12 1-1 1 16 1-18 1 2 1 14 1-6 1-3 1 20 1-22 1 20 1 0 1-21 1 14 1 9 1 10 1 20 1-11 1 16 1-17 1 1 1 15 1 16 1-14 1 12 1-7 1-9 1-1 1 0 1-2 1 10 1 11 1-17 1 18 1-25 1 1 1 25 1-5 1 8 1 16 1 1 1 5 1 3 1 1 1 18 1 8 1 1 1 1 1 2 1 1 1 17 1 8 1 12 1-2 1-2 1 1 1 14 1-4 1 2 1 5 1-2 1-5 1 12 1 10 1 0 1 13 1 5 1 5 1 0 1-1 1 4 1 7 1 9 1 8 1 2 1 4 1 1 1 7 1 4 1 12 1 8 1 1 1-5 1 8 1 4 1 3" vector-effect="non-scaling-stroke"/>
<path d="M150 217l1-5 1 2 1-16 1-3 1 15 1-30 1 13 1 27 1 14 1-10 1 14 1 6 1-19 1 7 1 22 1-7 1 12 1-6 1 0 1 14 1-11 1 10 1-17 1 11 1-3 1-7 1 16 1 13 1-10 1-5 1 8 1-44 1 31 1 12 1-10 1 10 1 0 1 15 1 22 1-14 1 4 1-16 1-6 1 23 1 36 1 2 1-24 1 8 1-21 1-17 1 37 1 18 1-9 1 22 1 9 1-5 1-11 1 23 1-3 1-8 1 21 1 2 1 6 1 12 1-2 1-2 1 4 1 29 1-9 1 8 1 3 1 6 1 0 1 8 1-11 1 2 1 4 1-1 1 14 1 17 1 20 1 5 1-4 1 9 1-8 1 17 1-10 1 1 1 14 1 0 1 1 1 2 1 4 1 8 1 7 1 1 1 1 1 8 1 10 1 1" vector-effect="non-scaling-stroke"/>
<path d="M150 203l1-5 1 8 1-3 1 1 1-1 1 10 1 16 1 4 1 11 1-6 1-2 1-5 1 7 1 1 1-3 1 5 1 2 1 7 1 6 1-2 1 1 1-2 1-1 1 17 1 1 1 18 1 9 1-12 1-3 1-9 1 14 1 7 1-13 1 12 1-9 1 13 1 5 1-8 1 3 1 15 1 7 1-3 1 6 1-9 1-10 1 5 1-5 1 7 1 5 1 1 1 15 1 15 1-10 1 13 1 0 1-11 1 12 1 0 1-4 1 1 1 10 1 18 1 8 1 1 1 4 1 3 1 2 1-3 1 20 1 5 1 3 1 8 1-5 1 11 1 3 1 1 1 7 1-3 1 14 1-1 1-5 1 6 1 10 1-2 1 4 1 8 1 12 1 7 1 9 1 14 1 8 1 5 1 0 1 6 1 3 1 1 1 6 1 3 1 3 1 8" vector-effect="non-scaling-stroke"/>
<path d="M150 182l1-2 1-15 1 5 1 7 1 0 1 18 1 11 1-3 1 25 1-1 1-3 1 12 1 1 1 17 1-13 1-42 1 21 1 21 1 27 1-2 1 1 1 7 1-2 1-19 1-9 1 21 1-1 1 7 1 19 1 5 1-13 1-1 1 0 1-3 1-12 1 21 1 16 1-14 1 6 1 4 1-2 1 11 1-16 1 14 1-5 1 11 1 10 1 1 1 13 1-9 1 2 1-4 1 19 1 8 1 16 1-12 1-14 1 12 1 13 1-12 1 19 1 5 1-4 1 2 1-1 1 7 1 18 1 4 1 5 1 3 1 0 1 0 1-2 1 3 1-6 1 6 1 8 1 16 1 12 1 4 1 1 1 2 1 9 1 7 1 9 1 9 1 7 1-3 1 5 1 5 1 4 1 3 1 7 1 7 1 7 1 7 1 4 1 3 1 6 1 7" vector-effect="non-scaling-stroke"/>
<path d="M150 174l1-1 1 14 1 20 1 3 1-6 1 12 1-5 1 12 1-4 1 13 1 8 1 15 1-8 1 1 1-14 1-19 1 28 1 3 1 5 1-18 1 9 1 7 1-10 1 14 1-1 1 24 1-1 1 27 1-15 1-6 1 22 1 17 1-15 1-8 1 7 1-5 1-12 1-2 1 11 1 2 1 9 1-4 1-7 1 8 1-3 1 1 1 2 1 2 1 9 1 10 1 13 1 1 1-14 1 19 1 10 1-15 1 11 1 3 1-8 1-3 1 5 1-6 1 18 1-13 1 12 1 7 1 15 1 12 1 25 1 1 1 2 1-11 1 5 1 12 1 12 1-2 1-2 1 16 1 5 1 16 1-3 1 8 1 13 1 7 1 2 1 0 1 6 1 11 1 2 1 3 1-4 1-1 1 3 1 7 1 0 1 6 1 9 1 5 1 9 1 3" vector-effect="non-scaling-stroke"/>
<path d="M150 182l1 12 1-14 1 2 1 17 1-10 1 30 1 4 1-6 1 11 1-11 1-6 1 13 1-12 1 5 1 11 1 2 1 8 1-10 1 25 1 7 1 13 1-17 1 7 1-11 1-3 1 15 1 69 1-15 1-16 1-2 1 23 1 25 1-13 1 15 1-6 1-23 1 3 1 8 1-38 1 25 1 17 1 8 1-3 1 18 1-1 1 17 1 15 1-21 1 7 1-31 1-2 1 3 1-43 1-13 1 12 1 44 1 16 1 19 1-17 1-6 1 26 1-14 1 15 1 8 1 7 1-3 1 22 1 15 1-6 1 4 1-14 1 6 1 5 1-9 1 16 1 11 1-4 1 20 1-2 1-5 1 10 1 2 1 12 1-19 1 21 1-7 1 8 1 7 1 11 1 2 1 5 1 1 1 14 1-2 1 6 1 5 1 4 1 10 1-4 1 9" vector-effect="non-scaling-stroke"/>
<path d="M150 201l1-6 1-3 1 4 1 10 1-5 1 1 1-3 1-4 1-2 1 13 1 4 1 11 1 6 1 13 1-7 1 2 1 8 1-1 1-9 1 1 1 8 1-1 1 3 1 7 1 5 1 9 1 10 1 1 1-5 1-4 1 13 1 5 1-3 1 18 1-5 1-5 1 0 1 0 1 20 1 7 1-11 1 1 1 2 1 1 1-2 1 8 1 3 1 5 1 6 1 0 1-5 1 8 1 6 1 6 1 10 1 6 1 2 1-7 1 11 1-1 1 1 1 8 1 5 1 13 1-1 1 0 1 10 1 5 1 4 1 7 1 3 1 8 1 3 1 4 1 4 1 0 1 4 1 7 1 2 1 6 1 6 1 7 1 6 1 5 1 4 1 3 1 2 1 5 1 7 1 6 1 2 1 9 1 6 1 2 1 2 1 6 1 2 1-1 1 7 1 8" vector-effect="non-scaling-stroke"/>
<path d="M150 184l1 11 1 6 1 13 1 14 1 10 1 0 1-1 1 4 1-5 1 1 1-12 1-2 1 12 1 10 1 20 1-6 1-13 1 21 1 4 1-7 1-12 1-3 1 10 1 2 1 7 1 4 1 1 1 5 1 1 1 13 1-12 1 5 1-4 1-7 1 20 1 0 1 3 1 0 1 2 1 21 1 5 1-10 1 5 1 5 1 10 1 5 1 0 1 0 1-16 1-1 1 11 1-3 1 14 1 0 1 4 1 0 1 16 1 13 1-4 1 2 1 0 1-8 1 5 1-2 1-5 1 10 1-3 1 4 1-3 1 8 1 7 1 5 1 6 1 10 1 13 1 1 1 4 1 8 1 16 1 7 1 4 1-2 1 10 1 12 1 7 1 9 1-2 1 7 1-3 1 10 1 8 1 4 1 5 1 4 1 4 1-1 1 4 1 10 1 4 1 2" vector-effect="non-scaling-stroke"/>
<path d="M150 177l1 11 1 10 1 17 1-6 1-2 1-10 1 13 1-3 1 8 1-1 1-12 1-9 1 29 1-4 1 16 1 16 1-32 1-2 1 18 1-4 1 24 1-3 1 29 1 11 1-28 1 0 1 15 1 2 1-13 1 10 1 9 1 3 1 3 1-7 1 8 1 15 1 13 1 5 1 9 1-20 1-2 1-19 1 16 1 9 1-16 1-10 1-11 1 16 1 14 1-3 1 1 1 18 1 8 1-7 1 5 1 3 1 5 1 15 1 10 1 7 1 9 1-10 1-1 1 10 1 2 1 18 1 1 1 11 1 0 1-3 1 12 1-2 1 1 1 13 1 11 1 6 1 5 1 2 1-1 1 4 1 1 1 6 1 2 1 7 1 2 1-1 1 10 1 6 1 3 1 8 1 5 1 4 1 7 1 5 1 11 1 5 1 8 1 3 1 6 1 3" vector-effect="non-scaling-stroke"/>
<path d="M150 216l1-5 1-1 1 0 1 3 1 1 1-7 1-3 1 3 1 11 1-4 1 2 1 0 1 11 1 7 1 0 1 9 1-5 1 10 1 5 1 0 1 16 1 5 1-6 1-5 1-13 1 5 1 11 1-7 1 10 1 4 1-2 1 4 1-2 1 2 1 7 1 23 1-12 1 0 1 0 1 4 1 7 1 11 1 3 1-4 1-2 1 3 1 6 1 10 1-2 1 0 1 1 1 10 1-2 1 8 1-12 1 8 1 9 1 7 1 6 1 11 1 9 1 1 1 4 1 11 1-5 1-1 1 2 1 11 1 3 1 10 1 12 1 13 1-1 1-5 1-1 1-3 1 5 1-2 1 17 1 3 1 1 1 8 1 4 1 10 1 2 1 1 1 12 1 10 1 1 1 1 1 5 1 8 1-2 1 5 1 9 1 8 1 0 1 3 1 2 1 8" vector-effect="non-scaling-stroke"/>
<path d="M150 198l1 15 1 0 1 5 1-5 1-21 1-13 1-2 1-8 1-12 1 20 1 1 1 14 1 27 1-1 1-10 1-18 1 6 1-4 1 3 1 17 1-8 1-3 1 24 1 6 1 15 1 30 1-26 1 29 1 13 1-6 1-31 1 18 1 7 1-20 1 10 1 17 1-4 1 5 1-13 1 0 1 44 1-10 1 22 1 2 1-31 1-2 1 41 1 7 1-8 1-15 1-10 1-1 1 21 1 18 1-17 1-4 1 6 1 9 1-14 1-6 1 5 1 12 1-2 1 13 1-5 1 8 1 13 1 14 1 10 1-5 1 15 1 18 1-16 1 5 1 5 1 10 1-7 1 24 1 0 1 3 1-5 1 22 1 2 1-1 1 19 1-4 1-3 1 7 1 8 1 4 1 19 1 6 1 7 1 6 1-7 1 8 1-4 1 0 1 14 1 6" vector-effect="non-scaling-stroke"/>
<path d="M150 187l1 0 1-10 1 4 1 15 1 12 1 3 1 11 1 20 1 16 1 5 1 4 1-25 1 21 1-33 1 23 1 4 1-2 1-4 1-12 1 5 1 10 1 1 1-2 1-17 1 31 1-14 1-6 1-5 1 8 1 13 1 30 1-15 1 25 1 2 1-36 1 8 1-26 1 17 1 21 1 7 1 18 1 24 1 10 1 18 1-9 1-36 1-14 1-10 1 5 1-13 1-19 1 26 1-11 1 14 1 29 1 8 1-12 1 19 1 7 1 19 1 5 1 6 1-1 1 27 1-8 1-21 1 22 1-10 1 41 1 23 1-20 1-8 1 9 1-8 1 0 1 10 1 0 1 3 1 0 1 7 1 5 1 16 1 3 1 8 1 5 1 6 1-9 1 2 1-1 1 5 1 0 1 12 1 16 1-1 1 17 1-10 1 5 1 9 1 9 1 11" vector-effect="non-scaling-stroke"/>
<path d="M150 222l1-6 1-10 1 9 1-13 1 8 1 5 1-15 1 25 1-15 1 8 1 2 1-7 1-39 1 19 1 12 1 22 1 7 1 7 1 18 1 19 1 3 1-13 1-31 1-6 1 1 1 4 1 16 1 15 1 9 1-2 1 11 1-18 1 10 1 8 1 18 1-2 1 1 1 3 1 0 1-5 1 9 1 5 1 17 1-15 1-3 1-6 1 14 1 14 1-1 1 10 1-6 1 5 1-6 1 7 1-4 1 7 1 4 1-2 1-13 1 27 1 11 1-16 1-1 1 16 1-4 1 5 1 8 1 3 1 1 1-4 1 12 1 24 1-9 1 16 1 5 1-5 1 10 1 16 1 3 1 9 1 5 1 1 1-10 1 15 1 9 1-2 1 1 1 7 1-1 1 21 1 2 1 2 1 5 1 10 1 9 1 4 1 5 1 2 1 7 1 7" vector-effect="non-scaling-stroke"/>
<path d="M150 194l1 3 1 1 1 10 1-8 1 7 1 19 1 9 1-10 1 1 1 2 1-4 1 15 1 13 1 2 1-3 1 8 1-9 1 1 1-5 1-4 1 10 1 4 1 1 1-5 1-11 1 6 1-6 1 14 1 1 1 10 1 14 1 4 1 2 1-5 1 6 1 5 1-3 1 3 1 4 1 0 1 9 1 9 1 0 1-5 1-1 1 5 1-6 1 0 1 13 1 6 1 4 1 8 1-2 1-2 1 1 1 1 1 15 1 4 1 6 1 3 1 4 1 5 1 2 1 14 1-6 1 9 1 12 1 6 1 1 1 7 1 4 1 11 1 1 1 6 1-5 1 2 1 2 1 11 1 2 1 8 1 7 1-2 1 0 1 9 1 5 1 5 1 3 1 6 1 4 1 8 1 6 1 3 1 3 1 6 1 4 1 4 1 5 1 8 1 9 1 5" vector-effect="non-scaling-stroke"/>
<path d="M150 209l1-4 1 10 1 9 1 6 1-39 1 0 1 17 1-7 1 16 1 7 1 5 1 6 1-2 1-14 1 21 1 23 1-16 1 8 1-21 1 10 1-29 1 13 1 17 1-9 1-15 1 55 1 6 1-11 1-9 1-13 1-15 1 0 1 14 1 12 1-3 1 12 1 24 1 13 1-11 1 18 1-1 1-10 1 3 1-10 1-24 1 20 1 11 1 1 1 26 1 13 1-5 1-4 1 0 1 13 1-7 1 11 1 18 1 17 1-1 1 3 1-10 1 10 1-12 1 6 1 4 1 13 1-12 1 20 1 0 1-3 1 19 1 8 1 13 1-5 1-3 1-1 1 5 1 13 1 2 1-7 1-3 1 6 1 12 1 12 1 12 1 5 1-9 1 4 1-2 1 16 1 2 1 4 1 19 1 3 1 10 1 10 1 2 1-3 1 4 1 7" vector-effect="non-scaling-stroke"/>
<path d="M150 207l1-2 1 3 1-4 1 4 1 3 1-2 1 12 1 4 1-6 1 6 1 12 1 1 1 4 1-4 1 4 1-5 1-7 1 5 1 11 1 0 1 1 1-1 1 10 1-4 1-4 1 3 1 6 1-14 1-10 1 18 1 16 1 12 1 2 1-14 1 10 1 5 1 11 1 6 1-3 1-6 1-3 1 0 1 2 1 13 1 5 1-9 1 9 1-6 1 11 1 3 1-4 1 18 1 7 1 12 1-4 1 9 1 14 1 3 1 1 1 3 1-9 1-15 1 15 1 3 1 21 1 6 1 10 1 2 1 1 1 4 1 8 1 7 1 3 1 4 1 3 1-1 1 3 1 7 1 3 1 1 1 8 1 7 1 8 1 7 1 4 1 5 1 0 1 9 1 1 1 7 1 6 1 1 1 9 1 7 1 8 1 4 1 2 1 0 1 7 1 4" vector-effect="non-scaling-stroke"/>
<path d="M150 204l1-2 1 1 1-3 1-1 1-2 1 19 1-14 1 15 1 3 1 9 1-16 1 2 1-4 1 9 1 18 1 27 1-8 1 0 1-14 1 9 1 14 1-15 1-2 1 3 1-9 1 10 1 8 1 3 1 23 1-7 1 6 1 14 1-7 1 6 1-5 1 1 1 13 1 1 1-11 1-11 1-5 1 2 1 15 1 5 1 1 1 4 1 27 1-3 1 3 1 1 1 8 1-9 1-7 1 7 1-2 1 7 1 6 1 11 1 1 1-3 1 1 1-2 1 1 1 12 1-3 1 19 1-1 1 11 1 18 1 4 1 2 1-1 1 4 1-1 1 8 1 4 1 11 1 6 1 18 1-7 1 7 1 14 1-4 1-1 1-1 1 11 1 7 1-4 1 11 1 7 1 4 1 13 1 11 1 4 1-3 1-1 1 3 1 7 1 4 1 10" vector-effect="non-scaling-stroke"/>
<path d="M150 188l1 1 1-2 1-8 1 2 1 11 1-13 1 8 1 5 1 5 1 15 1 23 1-6 1 4 1 18 1-17 1-7 1 10 1 11 1-26 1 10 1 13 1 11 1-10 1 20 1 1 1-8 1-11 1 27 1-13 1-9 1-5 1 9 1 4 1 11 1 11 1 12 1 1 1 11 1 8 1 0 1-19 1-13 1-8 1 13 1 7 1 1 1 0 1 1 1 18 1 22 1 4 1-5 1 0 1 4 1-6 1 16 1 9 1-6 1 3 1 1 1 8 1 3 1 5 1 0 1 0 1 9 1 9 1 10 1 2 1 3 1 18 1 19 1-8 1 6 1 8 1 12 1 8 1-2 1-2 1 0 1 7 1 11 1 6 1 4 1-2 1 12 1 4 1 2 1 5 1 3 1 4 1 0 1 1 1 2 1 4 1 10 1 2 1 5 1 4 1 8" vector-effect="non-scaling-stroke"/>
<path d="M150 186l1 10 1 11 1 8 1 7 1 2 1-5 1 6 1 6 1 20 1-16 1 12 1-12 1 1 1 2 1-17 1 14 1 20 1-4 1 15 1-21 1-9 1-13 1-18 1 25 1 20 1-18 1 10 1 2 1-4 1 25 1 18 1 0 1 12 1-6 1 0 1-1 1-2 1 1 1 13 1 8 1 10 1 22 1-7 1 0 1-17 1 14 1-21 1 7 1 6 1 8 1-23 1 19 1-4 1 2 1 9 1 1 1-12 1 18 1 31 1 13 1 1 1 2 1-7 1 0 1 0 1-2 1 15 1 15 1 12 1 7 1-8 1 9 1 4 1 15 1 6 1-3 1 9 1 0 1-2 1-11 1 2 1 9 1 10 1 4 1 16 1 9 1 1 1 0 1 10 1-8 1 6 1 14 1 6 1 6 1 13 1-2 1-1 1 1 1 3 1 0" vector-effect="non-scaling-stroke"/>
<path d="M150 188l1 15 1-9 1 4 1 13 1 23 1 20 1-40 1-4 1 3 1 33 1-14 1-38 1 0 1 11 1 3 1-7 1 20 1-10 1 23 1 5 1 15 1-34 1 4 1 19 1-3 1 27 1 3 1-5 1 14 1 7 1-17 1-4 1-1 1 8 1 25 1 12 1 8 1 5 1 5 1 7 1 22 1 10 1 15 1-21 1-22 1-6 1 0 1 11 1-9 1-2 1-7 1 27 1-21 1 6 1-8 1 9 1 2 1 17 1 14 1-1 1 4 1-4 1 0 1 14 1 13 1 7 1-10 1 0 1 4 1 11 1 8 1-9 1 17 1-3 1 1 1-3 1 24 1 17 1-2 1 18 1 8 1 7 1-6 1-7 1 13 1-3 1-3 1 0 1 4 1 16 1-2 1 13 1 8 1 1 1 2 1-3 1 13 1 5 1 2 1 5" vector-effect="non-scaling-stroke"/>
<path d="M150 173l1 3 1-7 1-2 1 6 1 3 1 10 1 7 1 4 1 14 1 8 1 0 1 1 1 13 1-22 1 7 1-17 1-4 1 7 1 9 1 16 1 5 1-14 1 17 1 6 1 13 1 13 1-1 1 17 1 28 1-13 1-4 1 11 1-2 1 1 1-11 1 22 1-9 1 1 1 8 1 2 1-1 1-9 1 2 1 9 1-4 1 2 1 10 1-9 1-1 1 1 1 5 1 15 1 12 1-9 1 14 1 14 1-8 1-7 1 7 1 11 1 6 1 3 1 10 1 4 1-2 1 0 1-6 1 10 1 15 1-1 1 10 1 8 1-14 1 12 1 1 1 3 1 5 1 6 1 3 1 2 1 7 1 5 1 2 1 5 1 6 1 4 1 2 1 5 1 9 1 13 1 11 1 4 1 4 1 6 1 2 1 9 1-2 1 4 1 2 1 5" vector-effect="non-scaling-stroke"/>
<path d="M150 226l1-6 1-4 1 8 1-3 1-7 1 8 1-6 1 14 1-4 1 12 1 8 1-13 1 1 1-4 1 10 1 8 1 7 1 3 1 13 1 1 1-20 1-2 1 3 1-10 1 10 1 6 1 6 1 1 1 4 1-10 1 8 1 4 1 4 1 5 1 9 1-1 1-8 1 7 1 14 1 2 1 2 1-8 1 8 1-1 1 1 1 0 1-3 1 0 1 14 1-3 1-2 1 17 1 5 1 12 1-3 1-4 1 7 1 10 1 1 1 12 1-5 1 10 1 0 1 8 1-5 1-1 1 2 1 22 1-1 1 13 1 6 1 1 1 7 1-1 1-5 1 6 1 12 1 1 1 7 1 8 1 2 1 4 1 6 1 4 1 11 1 1 1 4 1 1 1 6 1 3 1 10 1 3 1 6 1 7 1 9 1 5 1 3 1 9 1 5 1 5" vector-effect="non-scaling-stroke"/>
<path d="M150 184l1 4 1 1 1 3 1-8 1 8 1 0 1 10 1 3 1 9 1 2 1 9 1-1 1 10 1 8 1 9 1 1 1 5 1-11 1 11 1-19 1-8 1 5 1 14 1 9 1 11 1 7 1 4 1 8 1 1 1-7 1 16 1-18 1 3 1-11 1-5 1-3 1 7 1 10 1 13 1-2 1 11 1-6 1-6 1 8 1-1 1 11 1 5 1 5 1 7 1-2 1 15 1-4 1 13 1-4 1-5 1 9 1-1 1 4 1 1 1 4 1 6 1-4 1 13 1 6 1 8 1 3 1 12 1-1 1 2 1 5 1 4 1 2 1 4 1 11 1 11 1 3 1 5 1 6 1 0 1 5 1 7 1 0 1 6 1 12 1 4 1 1 1 8 1 6 1 1 1 9 1-1 1 10 1 4 1 3 1 4 1 0 1 3 1 6 1 7 1 7" vector-effect="non-scaling-stroke"/>
<path d="M150 182l1 1 1 15 1 11 1-4 1 0 1-11 1 6 1 5 1-7 1 17 1 8 1 9 1 9 1 14 1-9 1 22 1-9 1 7 1-2 1 6 1-1 1 12 1 10 1 7 1-15 1 2 1 5 1 15 1-22 1 12 1-9 1 8 1-8 1 7 1-11 1 3 1 1 1-19 1-2 1 0 1 18 1-1 1-1 1-2 1-4 1-8 1 14 1 29 1 2 1 12 1 4 1 21 1 8 1-4 1 11 1-1 1-27 1-3 1 4 1 11 1 2 1 1 1 13 1 21 1-11 1 1 1 9 1 16 1-4 1 13 1 10 1-3 1 1 1-1 1-4 1 2 1 19 1 18 1-4 1 7 1 16 1-5 1 12 1-1 1 1 1 10 1 6 1 8 1-1 1 11 1 3 1 7 1 3 1 10 1 3 1 3 1 8 1 2 1 2 1 0" vector-effect="non-scaling-stroke"/>
<path d="M150 173l1 12 1 3 1-3 1 23 1-1 1 53 1-36 1 28 1 19 1 0 1-7 1-26 1-27 1 17 1 18 1 6 1 6 1-31 1 3 1 12 1 7 1 19 1-7 1-4 1 13 1-20 1 9 1 51 1 19 1-22 1 0 1-10 1-21 1 4 1-14 1 9 1 29 1 12 1 8 1-14 1 17 1 21 1-55 1 39 1 6 1 33 1-21 1-6 1 5 1 16 1-3 1-11 1-26 1 20 1 26 1-27 1-22 1-11 1 8 1 4 1 11 1 36 1-19 1-8 1 0 1 18 1-5 1 36 1 10 1-2 1 35 1-4 1-3 1-8 1 30 1-7 1 8 1-18 1-1 1 6 1 14 1 6 1 4 1-2 1 23 1-9 1 16 1 15 1-10 1 13 1-6 1 4 1 13 1-8 1 10 1 12 1 1 1 3 1 19 1 9" vector-effect="non-scaling-stroke"/>
<path d="M150 199l1 2 1 2 1 4 1 11 1-17 1-10 1 26 1 28 1-21 1-18 1 0 1-8 1-7 1-11 1 29 1 9 1 24 1 17 1-7 1 19 1-17 1 16 1-11 1 10 1 11 1-13 1 4 1-2 1-4 1 8 1 4 1 1 1 4 1 9 1 5 1 9 1 2 1 1 1-2 1 8 1 12 1-5 1-10 1 10 1 17 1-17 1 16 1 14 1-20 1-9 1 2 1-4 1 2 1 9 1 10 1 20 1-6 1-2 1 8 1 0 1 5 1 2 1-12 1 12 1 7 1 7 1 11 1 1 1 7 1 7 1 3 1 3 1-6 1 9 1 9 1-4 1 18 1 2 1 6 1 8 1 12 1 10 1 4 1 2 1-5 1 0 1 6 1 1 1 10 1 8 1-3 1 16 1 2 1 3 1 6 1 7 1 3 1 2 1 4 1 11" vector-effect="non-scaling-stroke"/>
<path d="M150 189l1 7 1 0 1 18 1 8 1-5 1-6 1-5 1 6 1 13 1-24 1-9 1-3 1 30 1 16 1-10 1-1 1-8 1 8 1 1 1-2 1 10 1 10 1 8 1 2 1-7 1 20 1 6 1-20 1 6 1 0 1 4 1 1 1-3 1 1 1 12 1-2 1 26 1-6 1 3 1-10 1 6 1 14 1-6 1 3 1 2 1 6 1 23 1 1 1-6 1-1 1 8 1 8 1 6 1-8 1 5 1 1 1 24 1 9 1 1 1-1 1 24 1-6 1 6 1 5 1-4 1-9 1 8 1 10 1 3 1-10 1 14 1 7 1 11 1-4 1-1 1 18 1 11 1-9 1 2 1-3 1 4 1 0 1 8 1 7 1-2 1 5 1 6 1 4 1 5 1 4 1 6 1 5 1 8 1 9 1 8 1 7 1 9 1 7 1 1 1 5" vector-effect="non-scaling-stroke"/>
<path d="M150 190l1 6 1 5 1 4 1 7 1 8 1 3 1-2 1 3 1 3 1 8 1 3 1-3 1 8 1-1 1 0 1 3 1-3 1 7 1-1 1 8 1 0 1 1 1-3 1-3 1 7 1 7 1 1 1 2 1 1 1 7 1-10 1 6 1 3 1 6 1 9 1 3 1-1 1-1 1-2 1 1 1 3 1-1 1 8 1 7 1 3 1 5 1 2 1 5 1-1 1-1 1 2 1 5 1 4 1 3 1 7 1 9 1 6 1-1 1 0 1 4 1 0 1 2 1 12 1 3 1 9 1 0 1 10 1 4 1 5 1 4 1 3 1 8 1 5 1 4 1 3 1 7 1 2 1 6 1 2 1 6 1 9 1 6 1 3 1 5 1 7 1 2 1 3 1 7 1 6 1 3 1 4 1 5 1 3 1 5 1 5 1 4 1 6 1 6 1 6 1 5" vector-effect="non-scaling-stroke"/>
<path d="M150 215l1 2 1 1 1 14 1 19 1-10 1 24 1-24 1-10 1-14 1-9 1 23 1 4 1-8 1 37 1 11 1 15 1 5 1-3 1 28 1-21 1 7 1-21 1-11 1-28 1-12 1 2 1-21 1 18 1 21 1 34 1-2 1-39 1 34 1-17 1 8 1 24 1-23 1-1 1 4 1 6 1 18 1-21 1 26 1-6 1 10 1 25 1-24 1-3 1 16 1 5 1 13 1-4 1-16 1-10 1 9 1 9 1-3 1 5 1 28 1-5 1 7 1 17 1 11 1 4 1-36 1 18 1 7 1 2 1 11 1 0 1-3 1 18 1 16 1 13 1 25 1-13 1 3 1 2 1 17 1-4 1-3 1 0 1 12 1 17 1-18 1-1 1 8 1-2 1 8 1 14 1 6 1 1 1 10 1 9 1 4 1-5 1 12 1 12 1 9 1 4" vector-effect="non-scaling-stroke"/>
<path d="M150 222l1-14 1-12 1 5 1-13 1-8 1-4 1 10 1 5 1 10 1 20 1 8 1 0 1 19 1-14 1-14 1 3 1-21 1 17 1 11 1 3 1-24 1 38 1-11 1 45 1-10 1 3 1 5 1 15 1-16 1 19 1-23 1-6 1 15 1 8 1 12 1 3 1 15 1 25 1-12 1-22 1-8 1 12 1-26 1 0 1-1 1-7 1-9 1 15 1 34 1 3 1 3 1 9 1-8 1-6 1 11 1-22 1 14 1 17 1 15 1-6 1-5 1-8 1 31 1-11 1-5 1 10 1 14 1-8 1 19 1 15 1-16 1 8 1 4 1 0 1 13 1 1 1 7 1 11 1 14 1 13 1-14 1 20 1 0 1 11 1 2 1 11 1-8 1 10 1 6 1 8 1 0 1 6 1 12 1 13 1 3 1 16 1 2 1 2 1-4 1 0" vector-effect="non-scaling-stroke"/>
<path d="M150 168l1 18 1-1 1 6 1 33 1 4 1-7 1 11 1 7 1 19 1-22 1 14 1-17 1 29 1-13 1 29 1-34 1-19 1 14 1 13 1-14 1 12 1-26 1 0 1-30 1 22 1 27 1 4 1 4 1 15 1-16 1 6 1 11 1 9 1 21 1 15 1-29 1-22 1-17 1 30 1 36 1 8 1 10 1-10 1-2 1-6 1-27 1 16 1-13 1 11 1 23 1 0 1 0 1 19 1 0 1-27 1 4 1 29 1-11 1 7 1 7 1 2 1 13 1-12 1 6 1 11 1 24 1 14 1-15 1-3 1 6 1-10 1 29 1 8 1-1 1 12 1 7 1 9 1 7 1 3 1 4 1 13 1 5 1-1 1 8 1 5 1-2 1 12 1 12 1-7 1-1 1-1 1 9 1 0 1 5 1 4 1 6 1 8 1 5 1 7 1 8" vector-effect="non-scaling-stroke"/>
<path d="M150 185l1 15 1 1 1 9 1 12 1 14 1 0 1 20 1-22 1 7 1 1 1 6 1 3 1 5 1 11 1 2 1-28 1-5 1 20 1 0 1 0 1 10 1-12 1 2 1-8 1 19 1 10 1 6 1-18 1-6 1 1 1 14 1-3 1 11 1 5 1-5 1 14 1 3 1-9 1-7 1 0 1-3 1 2 1 5 1 6 1 16 1-10 1-7 1 21 1 15 1-2 1 5 1 14 1-1 1-11 1-3 1 19 1 1 1-14 1 32 1 2 1 11 1-16 1 16 1 5 1 10 1-2 1 4 1 17 1-10 1 8 1 10 1 9 1 2 1-5 1 4 1 2 1 10 1-4 1 10 1 13 1-3 1 9 1 15 1 0 1 8 1 4 1 1 1-1 1 6 1 12 1 10 1 2 1 1 1 2 1-4 1 1 1 9 1 6 1 11 1 2" vector-effect="non-scaling-stroke"/>
<path d="M150 230l1-15 1-2 1-9 1 2 1-13 1-7 1 18 1 2 1-14 1 11 1 18 1 22 1-2 1 12 1-24 1 8 1 0 1 0 1 4 1 15 1 13 1-18 1 0 1 5 1-7 1-2 1 17 1-9 1 11 1 3 1 8 1 6 1-9 1-2 1 2 1 28 1 2 1 0 1 6 1 3 1 5 1-2 1-12 1 0 1 2 1 5 1 12 1 5 1 3 1-7 1-1 1-11 1 13 1 5 1-2 1 18 1 7 1-3 1 19 1 9 1-1 1 13 1 6 1-1 1-7 1 6 1-8 1-6 1 13 1 3 1 4 1 13 1-5 1 6 1-2 1 1 1 25 1 10 1 2 1 11 1 12 1 3 1 6 1 8 1 0 1-1 1 4 1 13 1-3 1 6 1-1 1 8 1 6 1 7 1 4 1 7 1 5 1-1 1-1 1 7" vector-effect="non-scaling-stroke"/>
<path d="M150 200l1 4 1-4 1-1 1 24 1 8 1 1 1-9 1 4 1 12 1-24 1-32 1 14 1 12 1 2 1 25 1 7 1-15 1 16 1 4 1-4 1 4 1 15 1-19 1 43 1-10 1-23 1 15 1 5 1 15 1 8 1-11 1 8 1-6 1 22 1-14 1 8 1 9 1-10 1 25 1-13 1 0 1-7 1 4 1 1 1 7 1 8 1 20 1 8 1-7 1-16 1-8 1 13 1 12 1 3 1-15 1 17 1-2 1 18 1 5 1 13 1 7 1-19 1 5 1 9 1 4 1 7 1-13 1-2 1 2 1 2 1 13 1 10 1 12 1 14 1-5 1 5 1 11 1 0 1 0 1-1 1 5 1 9 1 3 1 6 1 14 1-2 1 19 1 6 1 7 1-5 1 1 1 4 1-5 1 16 1 8 1-3 1 2 1 7 1 6 1 5" vector-effect="non-scaling-stroke"/>
<path d="M150 202l1 3 1 3 1-8 1 11 1 13 1 6 1 0 1-2 1 6 1 7 1-4 1-8 1-7 1 3 1 7 1 11 1 4 1-6 1 10 1-7 1 17 1-14 1 5 1 7 1 5 1-7 1-10 1 18 1-7 1 24 1-12 1-5 1 2 1 11 1 6 1-10 1 0 1 8 1 10 1 9 1 12 1 10 1 6 1 13 1-12 1-4 1-6 1-1 1 11 1-4 1-6 1 18 1 7 1-5 1 2 1 3 1 15 1-6 1 8 1-6 1 2 1 15 1 6 1 6 1 8 1 10 1 9 1-8 1 1 1 11 1 5 1 5 1 0 1 7 1 3 1 4 1 2 1 6 1 3 1 3 1 3 1 10 1 4 1 3 1 3 1 11 1 4 1 7 1 0 1 3 1 8 1 6 1 9 1 5 1 6 1 2 1-1 1 4 1 8 1 4" vector-effect="non-scaling-stroke"/>
<path d="M150 203l1-2 1 5 1-7 1 7 1 6 1-4 1 2 1-30 1 0 1 4 1 27 1 19 1 20 1-18 1 1 1-3 1 9 1 7 1 4 1 2 1-9 1-3 1 3 1 4 1 14 1-6 1 13 1 15 1-5 1 0 1-4 1 5 1-4 1 4 1 5 1 5 1 10 1 10 1-2 1 12 1-6 1 4 1 17 1 11 1 12 1 3 1-1 1 8 1-13 1 3 1-6 1-17 1-1 1-8 1 12 1-10 1 15 1 3 1 6 1 3 1 15 1 8 1 0 1 5 1-1 1 8 1 9 1-4 1 3 1 10 1 4 1 20 1-1 1 3 1 0 1 2 1 6 1 7 1 18 1 6 1-2 1 7 1 5 1 3 1 7 1 8 1 6 1 2 1-2 1-4 1 11 1 10 1 1 1 6 1 7 1 3 1 3 1 6 1 3 1 5" vector-effect="non-scaling-stroke"/>
<path d="M150 168l1 32 1-2 1 2 1 3 1 19 1 15 1 11 1-9 1-2 1-21 1 27 1 26 1 22 1-35 1-1 1-4 1-24 1-16 1 61 1 1 1-11 1-11 1-21 1 23 1 18 1 0 1 2 1-13 1 37 1-12 1 13 1 21 1-3 1-9 1-30 1-30 1 15 1 14 1-10 1-11 1 14 1 16 1 14 1 21 1 24 1-17 1 2 1-19 1 19 1-3 1 7 1 11 1 8 1-36 1-14 1 47 1-11 1 14 1 8 1-5 1 13 1 13 1-30 1 15 1 36 1 5 1 26 1 21 1-1 1-1 1 0 1 10 1 8 1-22 1-2 1 1 1-4 1 11 1 0 1 20 1-6 1-2 1 3 1-2 1 3 1 6 1-10 1 15 1 12 1 7 1 13 1 5 1 11 1 4 1-1 1 11 1 3 1 7 1 13 1 5" vector-effect="non-scaling-stroke"/>
<path d="M150 223l1 1 1 14 1 6 1-20 1-3 1-6 1-32 1-8 1 40 1 20 1 9 1 0 1 0 1 6 1-4 1 0 1 6 1-6 1 31 1-14 1 2 1 20 1 4 1 4 1-19 1-2 1-15 1 4 1 22 1-12 1-3 1 6 1 10 1 10 1-5 1 10 1 12 1-29 1-1 1 31 1 2 1-9 1-2 1 2 1 8 1-7 1-7 1 21 1-22 1 27 1 4 1 2 1 3 1 6 1-1 1-1 1 8 1 9 1 3 1 11 1 11 1-23 1 10 1 1 1 26 1-2 1 3 1 1 1 12 1-3 1 22 1 0 1 4 1 0 1 2 1 16 1-12 1 15 1 7 1 4 1 10 1 7 1-12 1-5 1 4 1 17 1-9 1 13 1 9 1 15 1 1 1 13 1-5 1 10 1 5 1 4 1 7 1 3 1 1 1-2" vector-effect="non-scaling-stroke"/>
<path d="M150 163l1-4 1-2 1 10 1-20 1 2 1-10 1 14 1 42 1 2 1-18 1 2 1 34 1 0 1 15 1-1 1-8 1-12 1 38 1 23 1-29 1-16 1 29 1-38 1 24 1 4 1 35 1-7 1-45 1 41 1 1 1 11 1-20 1-12 1 2 1 34 1 9 1 22 1-7 1-24 1 6 1 20 1 6 1 5 1 31 1-11 1 5 1-23 1 8 1 16 1-20 1 19 1 30 1-4 1 4 1 13 1-36 1-11 1 16 1 27 1-7 1 8 1 4 1-1 1-16 1-12 1-6 1 13 1 14 1 13 1 13 1 21 1-3 1 19 1-13 1 3 1 6 1 13 1 3 1 21 1 4 1-7 1-4 1 12 1-9 1 11 1 4 1 0 1-2 1 11 1 12 1-1 1-3 1 16 1 2 1 9 1 15 1 1 1 4 1 8 1 3" vector-effect="non-scaling-stroke"/>
<path d="M150 190l1 10 1 5 1-9 1-1 1 3 1-1 1 0 1-1 1 17 1 2 1 21 1 16 1-4 1-14 1-3 1 8 1-16 1 35 1-15 1 5 1 12 1-5 1 6 1-5 1 1 1-8 1 0 1 28 1 3 1-10 1 15 1-3 1 2 1-2 1 10 1-6 1 13 1-1 1-9 1-6 1 30 1 10 1 0 1-2 1-11 1 13 1 0 1 10 1-3 1 2 1 16 1 10 1 3 1 7 1-4 1-10 1-6 1-3 1-5 1 17 1 8 1 11 1-8 1 3 1 7 1 2 1-4 1 12 1 11 1 10 1 2 1-3 1 2 1 17 1 2 1 3 1 10 1 9 1 1 1 3 1-2 1-1 1 8 1 14 1 9 1 10 1 8 1-2 1 7 1 1 1 10 1 5 1-1 1 2 1 4 1 5 1 1 1 7 1 6 1 6" vector-effect="non-scaling-stroke"/>
<path d="M150 176l1 10 1 16 1 5 1 1 1 13 1-8 1 25 1 3 1-11 1-5 1-12 1 30 1 8 1 10 1-23 1 9 1 4 1-25 1-14 1-5 1 21 1 16 1 16 1-3 1 40 1 2 1 26 1-38 1-3 1-13 1 0 1 12 1-13 1 0 1-5 1 4 1 34 1 3 1 1 1 0 1-4 1 4 1-4 1 25 1-8 1 13 1 0 1-14 1 30 1 4 1 7 1 0 1-37 1 6 1 13 1-2 1-5 1 17 1 11 1 18 1-10 1-5 1 7 1 5 1 8 1 3 1 6 1-1 1 13 1 7 1-6 1 9 1-1 1 5 1 10 1 10 1-6 1 13 1 7 1 3 1-1 1 6 1 17 1 11 1 1 1-7 1 8 1 6 1-4 1 10 1 7 1 8 1 1 1 1 1 9 1 6 1 10 1 2 1 2 1 4" vector-effect="non-scaling-stroke"/>
<path d="M150 173l1 2 1 8 1-2 1-19 1 23 1-5 1 20 1-6 1 7 1 33 1 23 1-4 1-14 1 7 1-27 1 7 1-22 1-2 1 25 1 1 1-13 1 9 1 7 1-7 1 12 1-19 1 13 1 4 1 13 1 27 1 4 1-25 1-14 1-5 1-11 1 1 1 29 1 20 1-1 1 25 1-2 1-1 1-8 1 21 1 3 1 4 1 11 1-23 1-6 1 20 1-1 1-2 1 34 1-17 1 22 1-8 1 10 1-9 1 9 1-13 1 14 1 15 1-10 1 17 1-6 1 1 1 10 1-23 1 24 1 6 1 22 1 9 1-3 1 34 1-1 1-7 1 16 1-1 1 6 1 3 1 17 1-14 1 8 1 1 1 18 1 7 1 2 1 8 1 3 1-14 1 2 1 3 1 4 1-9 1 14 1 13 1 0 1 8 1 7 1 8" vector-effect="non-scaling-stroke"/>
<path d="M150 184l1 9 1 11 1-8 1 9 1 0 1 14 1-3 1 0 1-25 1 0 1-4 1 1 1-2 1 2 1-16 1-7 1 13 1 22 1 10 1 11 1 6 1 15 1 28 1 2 1 3 1-14 1-13 1 11 1 19 1 5 1-6 1 13 1-7 1 24 1-5 1-24 1 0 1 8 1 17 1 7 1-2 1 2 1-7 1 4 1 3 1 15 1 20 1-11 1-10 1-1 1 2 1-8 1 14 1 2 1 21 1-4 1 5 1-8 1 7 1 6 1 3 1 16 1 10 1 9 1-1 1-1 1 7 1-1 1 9 1 7 1 13 1 0 1 0 1 5 1-6 1 8 1-4 1 15 1-4 1 5 1 3 1 5 1 9 1 21 1-2 1 3 1 7 1 4 1 9 1 7 1 5 1 1 1 1 1 7 1 5 1-1 1 2 1 4 1 1 1 3" vector-effect="non-scaling-stroke"/>
<path d="M150 211l1-8 1-7 1 2 1 7 1-2 1 28 1 0 1 15 1-9 1 0 1 4 1-7 1 0 1 16 1-6 1-14 1 18 1-28 1 30 1-21 1 18 1 7 1-36 1 21 1 25 1-8 1 25 1 20 1 1 1 0 1 11 1-15 1-15 1 8 1-13 1 11 1-12 1-14 1 10 1 21 1 25 1-3 1 20 1-1 1-12 1-5 1 12 1-24 1 3 1 22 1 17 1 1 1 14 1 6 1-20 1 33 1 9 1-17 1 10 1 0 1 16 1 15 1 29 1-23 1 6 1 11 1 8 1-28 1-5 1 0 1 1 1 0 1-2 1 10 1 19 1 0 1 4 1 27 1 4 1-5 1 3 1-7 1-16 1 19 1 17 1 4 1 7 1 13 1 8 1-3 1 12 1-8 1 6 1 3 1-1 1-1 1 7 1 0 1 13 1 9" vector-effect="non-scaling-stroke"/>
<path d="M150 188l1 11 1 11 1-1 1 9 1-17 1 37 1-41 1-25 1 23 1 13 1-12 1 17 1-1 1 24 1 4 1-14 1 38 1 12 1-38 1-23 1 37 1-5 1-12 1 23 1-7 1 27 1-20 1 34 1 4 1-9 1-11 1 43 1-23 1 13 1-8 1 11 1-20 1 28 1-19 1-10 1 1 1 17 1-1 1-10 1-16 1-16 1 20 1 14 1-15 1 30 1 27 1-17 1-6 1 3 1 1 1-9 1 5 1 28 1 1 1 6 1 31 1-19 1-1 1 9 1 11 1-4 1 16 1 17 1-1 1-21 1-5 1 18 1-2 1 9 1 15 1-2 1-2 1 7 1-1 1 4 1 7 1 30 1-5 1 1 1 11 1 17 1-6 1-4 1 14 1-4 1 11 1 1 1 6 1 5 1 18 1-4 1 1 1 4 1 9 1 9" vector-effect="non-scaling-stroke"/>
<path d="M150 191l1 4 1 6 1-9 1-9 1 7 1 10 1-3 1 13 1 9 1 5 1 0 1 16 1 4 1 4 1-17 1 1 1 17 1 2 1 5 1 5 1-9 1 12 1 9 1-19 1 12 1 5 1 9 1-4 1 2 1-3 1 2 1 8 1 4 1 0 1 23 1 4 1-4 1 10 1 0 1 11 1 2 1-10 1-4 1-12 1 6 1 2 1-3 1-5 1 25 1 2 1 8 1-7 1-7 1-1 1 4 1 13 1 7 1 1 1 12 1 4 1 0 1-7 1 15 1 0 1 7 1 8 1 1 1 7 1 4 1 4 1 8 1-2 1 3 1 0 1 7 1 8 1 1 1 6 1 5 1 13 1-3 1 0 1 9 1 5 1 11 1 3 1 6 1 3 1 6 1 10 1 4 1 0 1 3 1 2 1 5 1 5 1 3 1 6 1 7 1 7" vector-effect="non-scaling-stroke"/>
<path d="M150 202l1 0 1 7 1 8 1-4 1 6 1 7 1-1 1 6 1-18 1 2 1 3 1 14 1 10 1-6 1 6 1-4 1 3 1-6 1 11 1 17 1-5 1 12 1 4 1-14 1 0 1 19 1 4 1-20 1 11 1-5 1 6 1 9 1 4 1 17 1 16 1-16 1 2 1-1 1 15 1 5 1 13 1-8 1-3 1-2 1-3 1 13 1 11 1-6 1-2 1 2 1-10 1 8 1 1 1-5 1 15 1 2 1 7 1 17 1-4 1-3 1 3 1 8 1-13 1 6 1 8 1 11 1 2 1-7 1 12 1 13 1 8 1 6 1 9 1 2 1 3 1 2 1-4 1 15 1 2 1 10 1-5 1 4 1-4 1 6 1 8 1 8 1 10 1 5 1 6 1 6 1 1 1 4 1 8 1 4 1 7 1 7 1 1 1-4 1 5 1 5" vector-effect="non-scaling-stroke"/>
<path d="M150 199l1-3 1 3 1 2 1 10 1-4 1-2 1 1 1 3 1 9 1 4 1-7 1-4 1 3 1 5 1 0 1 9 1 13 1 5 1-2 1-9 1 14 1-6 1 11 1 5 1-1 1 0 1 7 1-1 1-8 1-5 1-7 1 11 1 1 1-3 1 13 1 21 1 5 1 11 1 0 1-1 1 1 1 14 1-5 1-2 1-2 1 1 1 1 1 10 1-6 1 9 1 1 1 7 1 3 1 11 1 0 1 5 1 9 1-3 1-3 1 4 1 2 1 12 1 7 1 8 1 4 1 6 1 8 1 8 1-1 1-11 1 11 1 9 1 4 1 4 1 18 1-3 1 5 1 2 1 2 1 3 1 2 1 15 1 3 1 9 1 4 1 1 1 1 1 12 1 1 1 10 1 1 1 5 1 4 1 4 1 1 1 3 1 8 1 8 1 6 1 5" vector-effect="non-scaling-stroke"/>
<path d="M150 198l1 15 1-7 1-7 1 26 1-11 1-16 1 14 1 27 1 20 1-9 1-32 1-9 1-16 1 23 1 12 1 25 1-55 1-27 1 23 1 35 1 6 1-1 1 12 1 4 1 5 1-28 1-2 1 14 1 31 1 13 1 6 1 7 1-18 1 25 1 4 1-3 1 3 1 3 1-28 1-8 1 8 1-3 1 16 1 23 1-1 1 5 1 23 1-8 1-18 1-3 1-10 1 21 1 7 1 15 1 5 1-1 1 14 1 6 1-21 1-4 1 0 1 27 1 2 1 23 1-1 1-15 1 19 1-2 1 11 1 11 1 13 1 4 1-3 1 9 1 16 1 0 1-5 1-4 1 1 1 8 1 4 1-14 1 9 1 3 1 0 1 15 1 4 1 7 1 4 1 12 1-2 1 4 1 6 1 1 1-1 1 13 1-6 1 8 1 15 1 5" vector-effect="non-scaling-stroke"/>
<path d="M150 165l1 16 1-1 1-5 1-2 1 32 1 13 1 18 1 7 1-12 1-7 1 17 1 29 1-4 1-6 1-19 1-18 1-13 1 7 1 13 1-2 1 19 1-18 1 6 1 23 1 2 1-22 1 7 1 29 1 5 1-14 1 8 1-15 1 16 1-20 1 13 1-9 1-1 1 10 1 8 1 4 1 1 1 26 1-1 1-10 1 21 1 18 1-40 1 19 1 8 1 1 1-13 1 12 1 20 1 11 1-15 1 3 1-2 1 1 1 5 1 13 1-12 1 2 1 31 1 13 1-10 1 0 1 10 1 8 1 8 1 9 1-2 1 3 1 20 1 8 1-1 1 11 1 15 1-15 1 3 1 7 1 1 1 6 1 9 1 12 1 6 1-4 1 7 1 4 1 6 1-1 1-2 1 7 1 2 1 7 1-4 1 8 1 10 1 6 1 10 1 3" vector-effect="non-scaling-stroke"/>
<path d="M150 185l1 8 1 8 1-13 1 17 1 9 1-63 1 46 1-12 1 40 1-18 1-2 1-43 1 35 1 19 1 7 1 3 1-45 1-14 1 24 1 13 1-2 1-23 1 39 1 16 1-7 1 25 1 3 1 25 1 29 1-29 1-16 1-6 1 12 1-10 1-44 1 20 1-1 1-12 1 21 1-15 1 14 1-4 1 43 1 22 1 3 1-3 1 7 1-31 1 13 1 26 1 17 1-22 1-8 1 17 1 57 1-7 1 48 1-18 1 10 1-15 1 9 1-10 1 1 1 1 1 1 1 13 1 14 1-8 1 2 1 12 1 2 1 16 1-5 1-29 1 10 1 15 1 10 1 7 1 0 1 3 1 0 1-18 1 31 1 8 1 3 1 2 1 10 1 4 1 0 1 16 1-3 1 5 1 4 1 3 1 15 1-4 1 5 1 1 1-5 1-2" vector-effect="non-scaling-stroke"/>
<path d="M150 184l1 1 1 6 1 9 1-4 1 5 1 8 1 6 1 4 1-5 1 16 1 7 1 11 1 1 1 9 1-6 1 3 1-12 1-5 1-3 1 3 1 5 1 2 1 14 1 12 1-2 1 5 1-8 1-2 1 10 1 8 1 8 1 10 1-1 1-3 1 8 1-1 1-12 1 7 1 1 1 8 1-11 1 7 1-14 1-1 1 17 1 12 1-12 1 18 1-8 1-5 1 9 1 0 1 14 1 2 1-2 1-8 1 2 1 11 1 22 1-1 1 8 1 14 1-1 1-6 1 4 1 9 1 6 1 13 1 8 1-3 1 5 1 9 1-5 1 5 1 6 1 2 1-1 1 7 1 7 1 11 1 7 1 6 1 5 1 3 1 2 1-2 1 0 1 11 1 4 1 10 1-2 1 9 1 7 1 7 1 6 1 5 1 4 1 4 1 3 1 6" vector-effect="non-scaling-stroke"/>
<path d="M150 209l1 2 1 1 1 15 1-9 1 10 1 2 1-5 1 11 1 32 1 5 1 22 1 6 1-28 1-28 1 6 1-27 1-5 1 24 1 12 1-20 1-17 1 9 1 27 1 0 1 0 1 15 1-14 1 8 1-7 1-14 1 38 1 3 1-8 1-7 1-20 1 29 1 8 1 1 1 16 1-3 1 1 1-3 1 11 1 16 1 5 1-15 1 4 1 3 1-4 1 23 1-5 1-1 1 9 1-17 1-1 1 16 1-22 1 20 1 11 1 4 1-8 1-16 1 28 1-1 1 3 1 18 1 7 1-4 1 19 1-6 1 8 1 22 1 1 1-9 1 17 1-2 1 3 1 5 1 19 1 23 1 2 1 5 1-5 1 4 1 4 1 9 1 15 1-8 1-1 1 5 1 4 1 2 1 6 1 8 1 5 1 8 1 9 1 0 1 8 1 6" vector-effect="non-scaling-stroke"/>
<path d="M150 209l1-3 1-4 1-3 1 2 1-2 1-15 1-3 1 6 1 27 1 10 1-1 1 9 1 10 1-8 1 1 1-4 1-8 1 18 1-4 1 11 1-4 1 7 1 2 1 10 1-6 1 27 1-17 1 17 1-12 1 4 1 21 1 13 1-7 1-9 1 42 1-17 1 10 1 12 1 3 1-13 1 6 1 4 1-19 1 11 1 3 1-18 1 17 1 4 1-9 1 2 1 0 1-12 1-4 1 17 1 8 1-1 1 3 1 1 1 12 1 0 1 6 1 13 1-7 1 7 1 5 1 13 1 2 1 12 1-1 1 11 1-9 1 12 1-5 1 11 1 8 1 4 1-1 1 15 1 6 1-2 1 6 1 6 1 8 1 7 1 1 1 9 1 3 1 4 1 0 1 1 1 10 1 8 1 10 1 1 1 8 1 2 1 4 1 4 1 2 1 7" vector-effect="non-scaling-stroke"/>
<path d="M150 195l1 7 1 8 1-9 1 19 1-5 1-2 1 6 1-2 1 5 1 14 1 1 1 11 1 0 1 16 1 9 1 13 1-4 1 16 1-7 1-6 1-41 1 1 1-4 1 11 1-4 1 2 1-3 1 13 1-3 1 13 1-18 1 32 1 3 1 8 1-24 1 10 1 16 1 1 1-9 1 29 1 8 1-11 1 6 1 7 1-17 1-2 1 17 1 8 1 2 1 17 1-12 1 4 1 0 1-14 1 13 1 8 1 1 1 15 1-5 1 5 1 14 1-5 1 2 1-3 1-1 1 16 1-6 1 0 1 0 1 22 1 2 1 18 1-7 1 21 1 3 1 6 1-3 1 3 1 12 1 18 1-3 1 6 1 7 1 1 1-2 1 2 1 6 1 5 1 3 1 2 1 5 1-2 1 1 1 7 1 6 1 6 1 1 1 10 1 13 1 3" vector-effect="non-scaling-stroke"/>
<path d="M150 202l1-3 1 7 1 2 1-1 1 3 1 4 1 10 1 9 1-16 1 5 1-7 1-2 1 20 1 3 1-15 1-5 1 9 1-2 1 9 1 11 1 3 1 13 1 2 1 12 1-14 1 10 1-5 1 10 1-7 1-12 1 17 1 9 1 1 1 5 1 13 1-9 1 3 1 3 1 4 1-3 1 12 1-12 1 1 1 3 1 12 1-7 1 12 1 10 1-2 1 5 1-6 1 3 1 6 1 1 1 0 1 8 1-1 1 7 1 6 1-6 1 9 1 6 1 14 1-9 1 7 1 8 1 5 1 6 1 4 1 9 1-2 1 9 1 5 1 14 1 0 1-3 1 11 1 1 1 9 1 8 1-3 1 11 1 0 1 8 1 6 1 4 1 5 1 7 1 8 1 4 1-1 1 5 1 3 1 6 1 2 1 5 1 2 1 3 1 11 1 7" vector-effect="non-scaling-stroke"/>
<path d="M150 194l1 1 1 7 1-5 1 8 1 0 1 45 1 45 1-47 1-31 1 20 1 22 1-8 1-22 1 2 1-3 1-18 1-20 1 18 1 38 1 11 1-20 1 23 1-9 1-27 1 45 1-3 1 15 1-53 1-8 1 38 1 17 1-2 1 12 1-7 1 0 1 23 1-23 1 11 1 16 1-5 1 10 1-13 1-12 1 20 1 5 1 6 1 0 1-11 1 35 1-19 1 17 1-9 1 22 1-7 1 4 1 9 1 0 1 23 1-1 1-22 1-33 1 1 1 16 1 1 1 19 1 32 1 4 1 0 1-3 1 21 1-2 1 4 1-19 1 28 1 6 1-12 1 18 1-3 1 16 1-3 1-2 1 7 1 9 1 14 1 7 1 5 1 1 1 3 1-4 1 14 1 22 1-7 1 7 1 7 1 23 1 1 1-1 1 3 1 0 1 3" vector-effect="non-scaling-stroke"/>
<path d="M150 193l1 4 1 1 1-30 1 19 1 17 1-2 1-1 1 36 1 13 1 20 1-2 1-37 1-10 1 1 1-19 1 14 1 2 1 10 1 9 1-4 1-6 1-4 1 21 1 5 1-14 1 57 1-13 1 2 1 17 1-10 1-26 1 7 1-17 1-13 1 8 1 7 1 12 1 6 1 10 1-6 1 13 1 3 1-1 1-13 1 21 1 0 1 19 1 16 1 6 1 3 1 14 1 0 1-2 1 22 1 17 1 3 1-11 1-23 1 5 1 3 1 4 1 12 1-24 1 20 1-1 1 16 1 16 1-3 1 1 1-4 1 1 1 8 1 1 1 3 1 4 1 16 1 12 1 4 1-11 1 1 1 5 1 24 1 4 1 1 1 3 1 11 1 2 1 12 1 0 1 14 1 0 1-5 1 11 1 4 1 6 1-3 1 1 1 5 1 8 1 2" vector-effect="non-scaling-stroke"/>
<path d="M150 222l1 1 1-5 1-18 1 21 1-4 1 30 1-13 1 0 1 4 1 17 1-34 1 7 1-16 1 3 1 22 1-11 1-9 1 1 1 33 1-32 1 9 1-4 1-1 1 31 1 6 1-12 1 21 1-2 1 0 1-13 1-2 1 16 1-19 1 7 1 27 1 7 1 8 1 12 1 11 1-13 1-11 1-4 1-14 1 23 1 3 1-6 1-12 1 8 1 28 1 1 1-25 1 2 1 18 1 9 1 9 1-19 1-10 1 28 1 8 1 1 1 4 1 10 1 6 1 9 1 32 1-2 1-36 1-5 1 12 1 3 1 23 1-8 1 17 1 15 1 0 1 9 1-2 1 14 1-1 1 14 1 2 1-2 1 8 1 8 1-2 1 9 1 17 1 3 1 3 1-1 1 1 1 2 1 11 1 0 1 8 1 2 1 8 1 8 1 3 1 6" vector-effect="non-scaling-stroke"/>
<path d="M150 161l1 8 1 4 1-7 1 17 1 15 1 15 1 31 1 8 1-18 1 7 1 9 1-16 1 12 1 15 1 24 1-15 1-12 1 20 1-5 1-12 1-13 1 6 1-7 1 14 1 6 1 20 1-10 1-6 1-11 1 9 1-13 1 12 1 0 1-14 1 23 1-18 1-11 1 24 1 28 1 21 1-3 1-5 1-9 1-12 1 44 1-8 1 2 1-2 1-7 1 8 1 15 1 12 1-17 1 6 1 11 1 0 1 12 1-2 1 4 1 13 1 5 1 9 1-6 1-3 1-5 1-3 1 7 1-18 1 26 1 18 1 2 1 20 1 13 1 1 1 12 1-7 1 11 1-9 1-3 1 2 1 7 1-2 1 7 1-4 1 10 1 5 1 4 1 6 1 7 1 6 1 10 1 1 1 6 1 10 1 6 1-1 1 8 1 4 1 7 1 1" vector-effect="non-scaling-stroke"/>
<path d="M150 181l1 2 1 10 1 22 1 0 1-18 1 9 1 7 1 1 1 10 1-12 1-16 1 0 1 14 1 9 1 16 1 0 1 5 1 22 1 10 1 2 1 3 1 0 1 10 1-22 1 8 1 2 1 8 1 0 1-13 1-5 1-9 1 2 1 0 1 5 1 14 1 10 1 6 1 3 1 5 1 7 1-4 1 4 1 16 1-8 1-23 1 2 1 2 1 5 1 7 1 7 1 20 1 8 1-8 1-2 1 19 1-13 1 7 1-8 1 3 1 29 1 5 1-7 1 5 1 5 1 1 1 10 1 10 1-1 1 1 1 1 1 8 1 2 1 12 1-2 1-3 1 8 1 1 1 11 1 7 1 4 1 11 1 13 1 3 1 6 1 4 1 6 1 4 1-3 1 9 1 7 1 9 1 4 1 8 1 2 1 4 1 5 1 4 1 2 1 2 1 2" vector-effect="non-scaling-stroke"/>
<path d="M150 163l1 10 1 14 1 8 1 17 1-5 1-20 1 1 1 15 1-9 1 13 1 14 1-5 1-1 1-32 1 13 1 5 1-5 1 32 1 5 1-10 1-2 1 2 1-3 1 3 1 16 1 4 1-4 1 21 1 13 1-25 1 14 1 20 1 3 1 0 1 14 1 15 1-7 1 9 1-1 1 9 1-12 1-15 1 1 1-3 1-11 1 10 1-5 1 11 1 4 1 15 1-5 1 12 1-5 1 33 1-1 1-2 1 11 1 7 1-1 1 2 1-14 1-2 1 18 1 18 1 17 1 6 1-13 1-11 1-12 1 10 1 15 1 14 1-2 1 6 1 9 1 19 1 12 1 12 1-10 1 2 1 5 1 4 1-9 1 22 1 1 1-2 1 0 1 3 1 8 1 3 1 14 1 0 1 7 1 6 1 5 1 4 1 10 1-7 1 15 1 7" vector-effect="non-scaling-stroke"/>
<path d="M150 178l1 5 1 0 1 6 1 0 1 1 1 42 1 2 1 15 1-14 1-7 1-8 1-4 1-5 1 15 1 19 1 10 1 1 1 0 1-1 1-25 1-19 1 15 1 5 1 18 1 21 1 17 1 16 1-6 1-13 1-27 1 1 1 20 1 8 1-9 1 0 1 8 1 6 1-5 1 22 1-3 1 5 1 15 1 5 1-12 1-28 1 15 1 4 1 6 1-1 1 13 1 6 1-9 1 5 1-1 1 19 1-8 1 3 1 13 1 2 1-2 1 1 1 14 1 20 1 7 1 6 1 5 1-2 1-11 1 5 1 1 1 6 1 2 1 9 1 0 1 10 1 4 1 12 1 7 1 4 1 11 1 3 1 3 1-1 1-7 1 9 1 9 1 10 1 7 1-2 1 9 1 10 1 8 1 0 1 2 1 2 1 1 1 10 1 7 1 1 1 5" vector-effect="non-scaling-stroke"/>
<path d="M150 202l1-1 1-3 1 3 1 1 1 1 1 6 1-9 1 3 1 3 1 3 1-8 1-5 1-1 1 9 1 19 1 19 1 20 1-9 1-5 1-3 1 5 1 4 1 7 1 18 1 2 1-13 1 12 1-14 1 7 1 7 1 8 1 4 1-2 1-8 1 4 1 2 1-14 1-2 1-3 1 17 1 19 1 2 1 23 1 7 1 4 1-15 1 6 1 8 1-4 1-3 1-1 1-2 1 4 1-17 1 9 1 7 1-2 1 19 1-2 1 11 1 10 1 6 1 5 1-2 1 8 1 9 1 11 1-1 1 12 1 12 1-1 1 12 1 5 1 3 1 7 1 3 1-3 1 11 1 2 1-2 1 5 1 5 1-2 1 6 1 1 1 7 1 4 1 1 1-3 1 14 1 9 1 1 1 6 1 3 1 5 1 9 1 2 1 5 1 7 1 6" vector-effect="non-scaling-stroke"/>
<path d="M150 197l1 0 1 6 1 9 1-9 1 3 1 3 1 8 1 1 1-6 1-7 1 5 1-7 1 10 1 16 1-2 1 33 1-6 1 5 1 5 1 7 1-16 1-13 1 14 1 16 1 2 1 5 1 2 1 7 1-3 1 6 1-3 1-4 1 0 1-2 1 12 1-6 1-3 1-2 1 12 1 6 1-10 1 11 1 9 1 7 1-1 1 4 1 6 1 2 1-4 1-6 1 0 1 9 1 8 1 14 1-1 1 0 1-5 1-2 1-6 1 13 1 14 1 14 1 8 1-2 1-1 1 9 1 4 1 8 1 4 1 12 1 4 1 2 1 10 1 4 1 0 1-1 1 2 1 7 1 4 1 9 1 2 1 4 1 8 1 4 1 5 1-5 1 11 1 10 1 5 1-2 1 9 1 2 1 6 1 1 1 8 1 6 1 3 1 7 1 5 1 7" vector-effect="non-scaling-stroke"/>
<path d="M150 185l1 0 1-6 1-3 1 13 1 16 1-5 1 11 1 12 1 1 1 3 1-28 1 10 1 9 1 7 1 7 1-1 1 5 1 13 1-6 1 2 1-1 1 11 1 9 1 1 1 8 1-1 1 15 1-12 1 1 1-4 1-11 1 16 1 12 1-16 1 17 1 15 1-6 1-14 1 4 1 15 1-12 1 13 1-6 1 6 1-13 1-3 1 5 1 7 1 8 1 19 1 15 1 3 1-11 1 22 1 2 1 3 1 0 1 7 1-11 1 1 1-1 1 2 1 10 1 12 1-4 1 10 1 1 1 22 1 2 1 7 1 3 1 15 1-8 1 1 1 13 1-11 1 6 1 6 1 6 1 12 1 18 1-1 1-2 1-6 1 8 1 8 1-1 1 4 1 8 1 9 1 0 1 6 1 4 1 12 1 2 1 3 1 1 1 1 1 8 1 7" vector-effect="non-scaling-stroke"/>
<path d="M150 180l1 16 1 20 1 2 1 12 1 0 1 4 1 5 1-7 1 23 1-1 1 9 1-5 1-22 1 5 1 12 1 1 1-1 1-13 1 22 1-16 1 4 1 8 1-3 1-6 1 10 1 17 1-12 1 11 1-20 1 5 1 13 1 31 1 20 1-20 1-19 1-12 1-17 1 18 1 21 1 21 1-18 1-10 1 2 1-9 1 3 1 38 1-4 1 7 1 7 1-3 1-19 1 7 1-2 1 19 1-3 1 23 1-3 1-5 1-6 1 21 1 16 1-8 1 2 1 0 1 21 1 19 1 1 1 0 1 11 1-2 1-18 1 17 1 10 1-1 1 19 1 5 1 12 1 9 1-6 1 13 1-8 1-5 1-1 1 2 1 3 1 12 1-2 1-5 1 6 1 12 1 6 1 22 1-3 1 1 1 14 1 13 1-1 1 9 1 0 1 6" vector-effect="non-scaling-stroke"/>
<path d="M150 223l1-4 1-3 1-11 1 4 1-5 1 4 1 5 1 7 1-7 1 9 1-4 1 14 1 12 1 2 1-6 1 19 1-7 1-16 1 9 1 3 1-1 1 7 1-9 1 14 1-8 1-1 1 7 1 7 1 17 1 0 1-2 1-8 1 3 1-8 1 1 1 3 1 2 1 18 1 10 1 8 1 5 1 11 1 7 1-14 1-9 1-1 1-1 1 1 1 2 1-6 1 18 1 5 1 8 1 10 1 19 1-10 1 7 1-7 1 10 1 3 1 8 1-2 1 3 1 0 1 1 1 4 1 0 1 14 1-5 1 14 1 3 1-1 1 7 1 7 1 0 1 8 1 6 1 13 1 6 1 2 1 6 1 8 1 0 1 2 1 2 1 11 1 0 1 4 1 6 1 10 1 3 1 2 1 3 1 3 1 10 1 11 1 6 1 2 1 5 1 3" vector-effect="non-scaling-stroke"/>
<path d="M150 237l1 3 1-6 1 5 1-19 1 12 1-10 1-62 1 14 1 10 1 10 1 10 1 8 1-8 1-27 1-6 1 9 1 1 1 31 1-35 1-1 1 30 1-29 1-3 1-5 1-7 1 49 1 3 1 7 1 1 1-4 1 17 1 22 1-4 1 38 1-10 1 9 1 24 1 28 1 4 1 0 1-39 1-7 1 22 1-28 1 10 1-14 1 24 1-8 1-13 1 2 1 19 1 7 1 7 1 5 1 4 1-14 1 12 1-19 1 39 1-18 1 2 1 18 1 4 1 26 1 18 1 2 1 0 1 9 1 22 1-7 1-2 1 7 1-15 1-4 1 7 1-5 1 9 1 2 1-6 1 17 1 10 1 9 1 7 1 4 1 20 1-9 1 7 1 14 1-1 1 9 1 16 1 2 1 15 1 4 1 0 1 1 1 6 1-1 1 1 1 0" vector-effect="non-scaling-stroke"/>
<path d="M150 194l1 5 1 8 1 11 1-32 1 29 1 20 1-52 1 21 1-13 1 42 1-27 1-26 1-38 1 17 1 2 1-3 1 42 1 25 1 11 1-5 1-4 1-5 1 17 1-9 1 11 1 3 1 52 1-12 1 4 1-6 1-7 1 0 1 9 1-14 1 22 1-8 1-37 1 30 1 14 1-5 1 6 1-2 1-10 1 39 1-9 1 12 1-6 1 11 1-1 1 8 1 14 1 15 1-23 1-10 1 8 1-10 1 1 1 43 1 22 1-7 1-6 1 1 1-8 1 25 1-2 1 1 1 7 1 13 1 13 1 7 1 1 1 18 1-8 1 2 1 6 1-9 1 13 1 3 1-3 1 26 1 11 1-4 1-15 1-9 1 11 1 10 1-4 1 3 1 3 1 4 1 16 1 4 1 12 1 8 1 1 1 10 1-4 1-3 1 9 1-1" vector-effect="non-scaling-stroke"/>
<path d="M150 217l1-10 1-2 1 0 1 6 1 9 1-6 1-4 1-14 1 11 1 5 1 12 1 9 1 0 1-27 1-17 1-14 1 10 1 27 1 28 1-13 1-6 1-18 1 6 1-15 1 9 1-2 1 30 1-9 1 21 1 8 1 15 1 21 1-12 1-7 1-9 1 35 1 17 1 16 1-13 1 5 1-15 1-35 1 17 1 3 1 1 1 26 1-7 1-15 1 35 1 3 1-3 1 21 1-7 1 10 1-11 1 15 1 7 1-1 1-11 1-5 1 7 1 15 1 25 1-21 1-7 1 7 1 4 1 13 1 37 1 17 1-2 1-10 1-13 1 7 1 1 1 5 1 23 1-1 1 5 1-4 1-2 1-2 1 13 1 11 1 12 1 5 1 21 1 0 1 2 1-10 1 3 1 5 1 14 1 4 1-5 1 4 1 15 1 7 1 0 1 2" vector-effect="non-scaling-stroke"/>
<path d="M150 180l1 11 1-2 1-3 1 11 1 8 1 7 1-1 1 6 1 7 1 13 1-37 1 25 1 2 1 9 1-9 1-2 1 6 1 0 1 7 1 31 1-16 1-3 1-20 1-18 1-25 1 30 1-16 1 0 1 47 1 2 1 2 1 26 1-3 1 12 1-33 1 12 1 10 1 3 1 8 1-3 1-16 1 16 1 21 1-17 1 20 1 1 1 1 1 4 1-4 1-11 1 0 1-5 1 11 1-18 1 11 1 17 1 25 1 17 1 26 1-13 1 1 1 10 1 9 1-2 1-1 1-6 1 3 1-19 1 21 1 13 1 10 1 17 1 1 1 9 1 21 1-10 1 14 1-9 1 15 1 9 1 3 1 3 1-3 1 19 1-2 1 7 1 0 1 7 1-3 1-7 1 10 1 4 1 6 1 4 1 13 1 7 1 0 1 7 1 8 1 4" vector-effect="non-scaling-stroke"/>
<path d="M150 161l1 6 1 4 1 3 1 28 1 0 1-1 1-6 1 19 1-26 1 13 1-3 1 7 1 30 1 16 1 12 1-7 1-1 1 12 1-4 1-9 1 23 1-11 1 1 1 2 1-23 1-4 1 9 1 30 1-4 1-5 1-16 1 9 1-34 1 9 1-19 1 27 1 45 1 1 1-1 1 3 1-34 1 15 1 17 1 15 1 16 1-9 1 10 1 1 1-17 1-10 1-13 1 15 1-3 1-10 1 9 1-2 1 19 1-13 1 0 1 8 1-27 1 37 1 16 1 15 1 19 1-2 1 17 1 5 1 23 1 18 1 0 1 10 1 7 1-4 1-6 1 3 1 6 1 11 1 5 1 3 1-4 1 7 1 17 1-12 1-4 1 14 1-4 1 3 1 15 1 9 1 0 1 1 1-7 1 21 1 16 1 4 1-3 1-6 1 14 1 14" vector-effect="non-scaling-stroke"/>
<path d="M150 234l1-4 1 1 1 0 1 8 1-18 1-9 1 27 1-9 1 36 1 2 1-34 1 14 1-26 1-5 1 12 1-9 1 7 1 3 1 42 1-17 1 25 1 47 1-35 1-7 1-4 1 20 1 9 1-13 1-2 1-30 1-31 1 22 1-19 1 31 1 6 1 12 1 35 1 15 1-43 1 34 1 0 1 30 1-49 1 18 1-11 1 29 1-22 1 5 1 5 1-1 1 0 1 15 1 20 1 1 1-3 1 4 1-44 1 24 1 48 1 20 1 3 1-17 1 7 1 14 1 10 1-36 1-20 1 37 1-14 1-11 1 19 1 6 1 22 1 8 1-18 1 19 1 9 1 25 1-23 1 0 1 25 1-3 1 14 1 18 1 17 1-18 1-10 1-6 1 7 1 29 1 6 1 14 1-13 1-16 1-8 1 13 1 10 1 11 1 5 1 5" vector-effect="non-scaling-stroke"/>
<path d="M150 208l1 2 1-14 1-12 1 0 1-14 1 19 1 0 1 21 1-15 1 12 1 4 1 40 1-18 1 19 1-4 1 12 1 8 1 10 1-8 1-16 1 49 1-8 1 2 1 5 1 7 1-3 1-19 1-7 1 11 1-37 1 20 1 29 1 11 1-18 1 8 1 29 1-16 1 16 1-11 1-5 1-10 1 19 1 3 1 14 1-1 1 2 1-15 1 0 1 4 1 21 1 0 1 19 1-14 1 4 1 10 1 9 1 25 1-37 1-9 1 0 1 8 1 10 1-2 1-13 1 14 1 8 1 7 1-14 1 11 1 1 1 4 1 4 1 16 1 21 1-1 1 9 1 5 1 9 1 3 1 8 1-6 1-4 1-1 1-7 1 12 1-1 1 8 1 11 1 13 1-3 1-3 1 12 1 8 1 7 1 12 1 18 1 11 1-6 1-6 1 2" vector-effect="non-scaling-stroke"/>
<path d="M150 185l1 9 1 5 1-1 1 7 1-2 1 16 1-9 1 0 1 11 1-5 1 9 1-1 1 8 1 20 1 2 1 5 1-3 1 9 1-26 1 21 1-1 1 18 1-16 1 12 1 6 1-32 1 9 1-11 1 5 1 19 1 15 1-4 1 15 1 7 1 3 1 1 1-9 1-13 1 7 1 4 1 17 1 8 1 1 1-6 1 0 1 3 1 4 1-1 1-3 1 12 1 14 1-11 1-5 1-7 1 20 1 2 1-4 1 1 1 18 1 9 1-4 1 15 1 9 1 2 1-4 1-6 1 15 1 21 1 9 1 3 1-13 1 10 1 1 1-9 1 5 1 9 1 11 1 15 1-11 1 0 1 8 1 1 1 10 1 10 1-4 1 2 1 5 1 3 1 4 1 11 1 5 1 9 1 10 1 4 1 10 1 6 1 9 1 1 1 6 1-1" vector-effect="non-scaling-stroke"/>
<path d="M150 205l1-2 1 12 1-6 1-3 1 11 1 3 1 6 1 4 1-4 1 2 1 13 1-21 1-9 1 10 1 2 1 2 1 8 1 11 1 9 1 9 1 1 1 2 1 2 1-11 1 4 1 5 1-3 1 10 1-11 1 3 1 17 1 12 1-9 1-1 1 5 1 7 1-7 1-9 1 26 1 7 1-3 1 2 1-15 1 7 1-8 1 7 1 10 1-2 1-7 1 14 1 7 1 5 1 6 1 1 1 7 1 0 1-2 1 9 1 13 1 15 1 6 1-4 1 9 1-4 1 15 1 3 1-5 1-1 1-3 1 7 1 8 1-1 1 10 1 14 1 8 1 4 1-1 1 6 1 6 1 10 1 5 1 7 1 5 1-3 1 3 1 6 1 1 1 2 1 11 1 7 1 4 1 2 1 1 1 7 1 6 1 4 1 7 1 3 1 4 1 3" vector-effect="non-scaling-stroke"/>
<path d="M150 253l1-23 1-4 1 16 1 3 1-25 1 40 1-13 1-20 1-15 1-13 1-8 1-21 1 11 1 37 1 18 1 5 1-9 1 21 1-30 1 57 1-18 1 2 1-3 1 11 1 34 1 6 1 11 1-17 1-6 1-10 1-1 1 4 1 20 1-19 1-16 1 6 1 10 1-14 1-29 1 16 1 5 1 34 1-28 1 31 1 3 1 21 1-4 1-5 1 8 1 12 1-14 1-11 1 14 1-7 1-13 1 12 1 9 1-9 1-8 1 37 1 35 1-22 1 17 1 3 1-24 1-26 1 24 1 45 1-25 1 1 1-7 1 22 1-14 1 5 1 8 1 31 1 3 1 7 1-11 1 16 1 21 1 5 1-3 1-9 1 17 1 4 1 2 1 15 1-3 1 10 1 11 1 0 1 7 1 6 1-4 1 17 1-4 1-4 1 8 1 9" vector-effect="non-scaling-stroke"/>
<path d="M150 176l1 6 1 3 1 8 1 10 1 5 1 6 1-1 1 6 1-9 1 1 1 0 1-5 1 3 1 16 1-5 1 15 1 12 1-5 1-10 1 11 1-20 1 17 1 2 1 2 1 18 1 7 1-6 1 14 1-3 1 0 1 0 1 6 1-6 1 3 1 8 1 1 1-2 1 12 1 3 1-2 1 11 1 13 1-10 1 4 1 1 1-1 1 2 1 12 1-16 1 1 1 11 1 7 1-1 1-7 1 16 1-1 1 0 1 4 1 10 1 4 1 10 1 11 1 6 1 12 1 0 1 1 1 15 1 0 1 0 1 1 1 9 1 3 1 5 1-6 1 6 1 12 1 3 1-1 1 13 1 8 1 2 1-1 1-2 1 9 1 5 1 1 1 5 1 7 1 4 1 3 1 10 1 10 1 8 1 1 1 3 1 6 1 0 1 6 1 8 1 4" vector-effect="non-scaling-stroke"/>
<path d="M150 195l1-5 1 8 1 6 1-2 1 18 1-16 1 17 1-6 1 36 1 14 1-30 1-38 1-1 1 51 1 22 1-5 1 2 1-13 1 24 1-36 1 6 1-10 1 28 1-4 1 10 1 29 1-16 1-11 1-17 1 6 1 6 1-14 1-3 1 12 1 10 1 24 1-47 1 10 1 4 1 7 1 21 1 29 1-2 1-32 1-6 1-2 1 22 1 4 1 7 1 12 1-7 1 46 1-7 1 13 1 6 1 15 1-8 1 5 1 12 1-50 1 8 1 5 1 15 1-12 1-5 1 11 1 10 1-4 1 2 1-16 1 19 1 20 1 15 1-7 1 9 1 15 1-3 1 12 1 11 1-16 1 14 1 9 1-6 1 8 1 11 1-9 1 1 1 9 1 24 1-5 1 6 1 6 1 12 1 5 1 7 1 3 1 7 1 9 1 9 1 2" vector-effect="non-scaling-stroke"/>
<path d="M150 194l1 6 1 18 1-9 1 1 1-17 1 15 1 21 1-2 1-4 1-15 1-14 1 27 1-13 1-1 1 12 1 4 1-10 1 23 1 19 1 9 1-13 1 16 1-18 1-1 1 19 1 11 1 4 1-31 1 7 1 0 1 19 1-7 1 4 1-13 1-7 1 9 1 19 1-1 1 16 1 11 1 19 1-27 1 3 1 13 1 8 1-11 1-18 1 25 1-4 1-6 1 5 1 3 1 12 1 29 1-11 1 19 1-10 1-8 1 4 1 8 1 22 1-5 1 4 1-3 1-8 1 8 1-8 1 18 1 4 1-6 1 13 1 6 1 13 1 6 1-8 1 17 1 11 1 9 1-4 1 5 1 7 1 6 1 8 1 2 1 9 1-12 1 3 1 7 1 5 1 6 1-8 1 15 1 7 1 7 1 9 1 20 1 3 1-6 1 4 1 7" vector-effect="non-scaling-stroke"/>
<path d="M150 193l1 2 1 8 1 1 1-6 1-4 1 15 1 5 1 11 1-12 1 8 1-13 1-4 1-2 1-2 1-1 1 11 1 4 1 18 1 6 1 8 1 3 1 6 1-5 1 0 1 6 1-3 1 9 1 6 1-2 1 1 1 7 1-5 1 10 1-8 1 9 1-1 1 13 1 4 1-6 1 5 1 0 1-2 1 5 1 0 1 1 1 11 1 1 1 11 1 9 1 5 1 12 1-14 1 8 1 5 1 7 1 3 1 7 1 5 1-3 1 14 1-3 1-2 1 4 1 0 1-3 1 12 1-1 1 17 1 4 1-3 1 11 1 5 1 11 1 0 1 7 1-1 1 5 1 4 1 2 1 10 1 7 1 9 1 2 1 4 1 6 1 8 1 6 1 5 1 7 1 2 1 1 1 2 1 4 1 2 1 4 1 7 1 7 1 6 1 6 1 4" vector-effect="non-scaling-stroke"/>
<path d="M150 228l1-11 1-14 1-1 1 9 1 12 1-1 1-41 1-1 1 27 1-4 1 34 1 10 1-7 1 59 1-20 1 1 1 19 1-7 1-24 1 13 1 27 1-27 1 28 1-27 1 14 1-6 1-10 1 3 1-19 1 41 1-23 1-5 1 14 1 13 1-26 1 21 1 15 1-18 1 14 1-26 1 9 1 5 1 21 1 28 1-24 1 3 1 5 1 14 1 9 1-8 1 7 1 14 1 11 1-38 1 13 1-20 1 0 1 31 1 8 1-26 1 11 1 13 1-23 1 3 1-12 1 42 1 0 1 11 1-9 1 11 1-14 1 15 1 3 1 34 1 0 1 3 1 13 1 24 1 18 1-11 1 14 1-9 1 7 1-15 1 7 1 2 1-8 1 4 1 3 1 12 1 21 1-10 1 11 1 10 1 1 1-7 1 12 1 2 1 12 1 14" vector-effect="non-scaling-stroke"/>
<path d="M150 177l1 3 1 7 1 9 1-15 1 7 1-5 1-8 1-5 1 13 1-1 1 30 1-20 1-2 1 13 1-18 1 21 1 16 1 21 1 7 1 21 1 3 1-11 1-7 1-6 1 2 1 9 1 27 1-31 1 27 1 1 1-1 1-2 1-18 1 36 1 15 1-22 1 1 1 15 1-18 1 15 1-8 1-21 1 13 1 15 1 15 1 1 1-7 1 14 1-3 1 8 1-11 1-5 1 13 1 9 1-4 1 3 1 3 1-11 1 26 1 3 1-7 1 6 1 21 1 14 1 4 1 4 1 16 1-10 1-8 1 6 1 14 1 19 1 2 1 7 1-5 1 0 1 16 1 6 1 3 1-2 1 3 1 3 1 7 1 4 1-10 1-1 1 17 1 5 1 9 1 1 1 12 1 3 1 5 1 2 1 10 1 10 1 3 1 3 1-3 1 7" vector-effect="non-scaling-stroke"/>
<path d="M150 222l1-4 1-15 1 25 1-2 1 15 1 8 1-3 1-27 1-3 1 14 1 7 1-7 1-7 1 7 1-21 1 32 1 6 1-3 1-2 1-10 1 11 1-11 1 20 1 24 1-10 1 16 1-4 1-20 1 0 1 15 1 15 1-12 1-24 1 21 1-3 1-4 1 0 1 22 1 1 1 17 1-14 1 5 1-18 1-9 1 5 1-14 1 15 1 11 1 14 1 11 1 9 1 9 1-19 1-9 1 5 1-7 1-4 1 17 1 15 1 5 1 0 1 26 1 16 1 2 1 10 1 7 1-5 1-5 1 15 1 0 1-1 1 9 1 5 1 25 1 2 1-5 1 7 1-2 1 19 1-6 1 19 1 10 1 4 1-1 1 14 1 2 1-3 1 3 1 5 1-3 1 5 1 10 1 2 1 8 1 5 1 5 1 11 1-4 1 8 1 5" vector-effect="non-scaling-stroke"/>
<path d="M150 199l1-2 1 9 1-13 1-8 1 21 1-4 1 33 1-23 1 9 1 17 1-6 1 30 1-19 1-16 1 19 1 34 1-13 1-7 1-3 1-3 1-6 1 16 1 20 1-16 1 14 1 2 1-12 1 0 1 15 1 5 1-8 1 12 1-7 1 4 1-25 1-14 1 20 1 9 1-16 1 21 1 8 1 0 1 13 1 16 1 2 1 1 1-29 1 1 1 2 1 3 1 1 1 20 1 18 1-4 1 8 1 14 1-5 1 9 1 20 1-3 1-9 1-2 1 4 1 8 1 6 1 7 1-8 1 5 1 5 1 4 1 12 1-1 1 2 1 5 1 20 1-4 1 2 1 7 1 8 1 6 1 7 1 4 1 6 1 3 1 8 1 6 1 2 1 14 1 3 1 6 1 4 1-1 1 3 1 4 1 5 1-2 1 7 1 6 1 3 1 11" vector-effect="non-scaling-stroke"/>
</g>
<path d="M0 197l1 0 1 0 1 0 1 0 1 0 1 0 1 0 1 0 1 0 1 0 1 0 1 0 1 0 1 0 1 0 1 0 1 0 1 0 1 0 1 0 1 0 1 0 1 0 1 0 1 0 1 0 1 0 1 0 1 0 1 0 1 0 1 0 1 0 1 0 1 0 1 0 1 0 1 0 1 0 1 0 1 0 1 0 1 0 1 0 1 0 1 0 1 0 1 0 1 0 1 0 1 0 1 0 1 0 1 0 1 0 1 0 1 0 1 0 1 0 1 0 1 0 1 0 1 0 1 0 1 0 1 0 1 0 1 0 1 0 1 0 1 0 1 0 1 0 1 0 1 0 1 0 1 0 1 0 1 0 1 0 1 0 1 0 1 0 1 0 1 0 1 0 1 0 1 0 1 0 1 0 1 0 1 0 1 0 1 0 1 0 1 0 1 0 1 0 1 0 1 0 1 0 1 0 1 0 1 0 1 0 1 0 1 0 1 0 1 0 1 0 1 0 1 0 1 0 1 0 1 0 1 0 1 0 1 0 1 0 1 0 1 0 1 0 1 0 1 0 1 0 1 0 1 0 1 0 1 0 1 0 1 0 1 0 1 0 1 0 1 0 1 0 1 0 1 0 1 0 1 0 1 0 1 0 1 0 1 0 1 0 1 0 1 0 1 0 1 0 1 0 1 3 1 2 1 3 1 2 1 3 1 2 1 3 1 3 1 2 1 3 1 2 1 3 1 2 1 3 1 2 1 3 1 3 1 2 1 3 1 2 1 3 1 2 1 3 1 2 1 3 1 2 1 3 1 3 1 2 1 3 1 2 1 3 1 2 1 3 1 2 1 3 1 2 1 3 1 3 1 2 1 3 1 2 1 3 1 2 1 3 1 2 1 3 1 3 1 2 1 3 1 3 1 3 1 3 1 3 1 4 1 4 1 4 1 4 1 4 1 5 1 4 1 5 1 5 1 5 1 5 1 4 1 5 1 5 1 5 1 5 1 5 1 4 1 5 1 5 1 5 1 5 1 5 1 4 1 5 1 5 1 5 1 5 1 5 1 4 1 5 1 5 1 5 1 5 1 5 1 4 1 5 1 5 1 5 1 5 1 5 1 4 1 5 1 5 1 5 1 5" stroke="#ff4500" stroke-width="1" vector-effect="non-scaling-stroke"/>
</g>
<path d="M313.00 17.50V147.60" stroke="#000" stroke-width="2.6"/>
<path d="M138.00 173.50V304.40M225.50 173.50V304.40M313.00 173.50V304.40M400.50 173.50V304.40M50.50 304.40H488.00M50.50 286.94H488.00M50.50 269.48H488.00M50.50 252.03H488.00M50.50 234.57H488.00M50.50 217.11H488.00M50.50 199.65H488.00M50.50 182.19H488.00" stroke="#b0b0b0" stroke-width="0.8" fill="none"/>
<clipPath id="c2"><rect x="50" y="173.5" width="438.5" height="131.5"/></clipPath>
<clipPath id="c3"><rect x="50" y="330.5" width="438.5" height="131.5"/></clipPath>
<g clip-path="url(#c2)">
<path d="M76.00 299.60C81.67 299.58 97.67 299.50 110.00 299.50C122.33 299.50 135.00 299.60 150.00 299.60C165.00 299.60 183.33 299.50 200.00 299.50C216.67 299.50 235.00 299.57 250.00 299.60C265.00 299.63 281.67 299.65 290.00 299.70C298.33 299.75 296.33 299.68 300.00 299.90C303.67 300.12 308.00 300.65 312.00 301.00C316.00 301.35 320.00 301.68 324.00 302.00C328.00 302.32 331.67 302.68 336.00 302.90C340.33 303.12 339.33 303.22 350.00 303.30C360.67 303.38 381.62 303.38 400.00 303.40C418.38 303.42 450.25 303.40 460.30 303.40" fill="none" stroke="#4677b3" stroke-width="1.6" stroke-linejoin="round" stroke-linecap="square"  />
<path d="M76.75 304.40 77.71 304.40 78.67 304.40 79.64 304.40 80.60 304.40 81.56 304.40 82.52 304.40 83.48 304.40 84.44 304.40 85.41 304.40 86.37 304.40 87.33 304.40 88.29 304.40 89.25 304.40 90.22 304.40 91.18 304.40 92.14 304.40 93.10 304.40 94.06 304.40 95.03 304.40 95.99 304.40 96.95 304.40 97.91 304.40 98.87 304.40 99.83 304.40 100.80 304.40 101.76 304.40 102.72 304.40 103.68 304.40 104.64 304.40 105.61 304.40 106.57 304.40 107.53 304.40 108.49 304.40 109.45 304.40 110.41 304.40 111.38 304.40 112.34 304.40 113.30 304.40 114.26 304.40 115.22 304.40 116.19 304.40 117.15 304.40 118.11 304.40 119.07 304.40 120.03 304.40 120.99 304.40 121.96 304.40 122.92 304.40 123.88 304.40 124.84 304.40 125.80 304.40 126.77 304.40 127.73 304.40 128.69 304.40 129.65 304.40 130.61 304.40 131.58 304.40 132.54 304.40 133.50 304.40 134.46 304.40 135.42 304.40 136.38 304.40 137.35 304.40 138.31 304.40 139.27 304.40 140.23 304.40 141.19 304.40 142.16 304.40 143.12 304.40 144.08 304.40 145.04 304.40 146.00 304.40 146.96 304.40 147.93 304.40 148.89 304.40 149.85 304.40 150.81 304.40 151.77 304.40 152.74 304.40 153.70 304.40 154.66 304.40 155.62 304.40 156.58 304.40 157.54 304.40 158.51 304.40 159.47 304.40 160.43 304.40 161.39 304.40 162.35 304.40 163.32 304.40 164.28 304.40 165.24 304.40 166.20 304.40 167.16 304.40 168.12 304.40 169.09 304.40 170.05 304.40 171.01 304.40 171.97 304.40 172.93 304.40 173.90 304.40 174.86 304.40 175.82 304.40 176.78 304.40 177.74 304.40 178.71 304.40 179.67 304.40 180.63 304.40 181.59 304.40 182.55 304.40 183.51 304.40 184.48 304.40 185.44 304.40 186.40 304.40 187.36 304.40 188.32 304.40 189.29 304.40 190.25 304.40 191.21 304.40 192.17 304.40 193.13 304.40 194.09 304.40 195.06 304.40 196.02 304.40 196.98 304.40 197.94 304.40 198.90 304.40 199.87 304.40 200.83 304.40 201.79 304.40 202.75 304.40 203.71 304.40 204.68 304.40 205.64 304.40 206.60 304.40 207.56 304.40 208.52 304.40 209.48 304.40 210.45 304.40 211.41 304.40 212.37 304.40 213.33 304.40 214.29 304.40 215.26 304.40 216.22 304.40 217.18 304.40 218.14 304.40 219.10 304.40 220.06 304.40 221.03 304.40 221.99 304.40 222.95 304.40 223.91 304.40 224.87 304.40 225.84 304.40 226.80 304.40 227.76 304.40 228.72 304.40 229.68 304.40 230.64 304.40 231.61 304.40 232.57 304.40 233.53 304.40 234.49 304.40 235.45 304.40 236.42 304.40 237.38 304.40 238.34 304.40 239.30 304.40 240.26 304.40 241.23 304.40 242.19 304.40 243.15 304.40 244.11 304.40 245.07 304.40 246.03 304.40 247.00 304.40 247.96 304.40 248.92 304.40 249.88 304.40 250.84 304.40 251.81 304.40 252.77 304.40 253.73 304.40 254.69 304.40 255.65 304.40 256.61 304.40 257.58 304.40 258.54 304.40 259.50 304.40 260.46 304.40 261.42 304.40 262.39 304.40 263.35 304.40 264.31 304.40 265.27 304.40 266.23 304.40 267.19 304.40 268.16 304.40 269.12 304.40 270.08 304.40 271.04 304.40 272.00 304.40 272.97 304.40 273.93 304.40 274.89 304.40 275.85 304.40 276.81 304.40 277.77 304.40 278.74 304.40 279.70 304.40 280.66 304.40 281.62 304.40 282.58 304.40 283.55 304.40 284.51 304.40 285.47 304.40 286.43 304.40 287.39 304.40 288.36 304.40 289.32 304.40 290.28 304.40 291.24 304.40 292.20 304.40 293.16 304.40 294.13 304.40 295.09 304.40 296.05 304.40 297.01 304.40 297.97 304.40 298.94 304.40 299.90 304.40 300.86 304.40 301.82 304.40 302.78 304.40 303.74 304.40 304.71 304.40 305.67 304.40 306.63 304.40 307.59 304.40 308.55 304.40 309.52 304.40 310.48 304.40 311.44 304.40 312.40 304.40 313.36 304.40 314.32 304.40 315.29 304.40 316.25 304.40 317.21 304.40 318.17 304.40 319.13 304.40 320.10 304.40 321.06 304.40 322.02 304.40 322.98 304.40 323.94 304.40 324.91 304.40 325.87 304.40 326.83 304.40 327.79 304.40 328.75 304.40 329.71 304.40 330.68 304.40 331.64 304.40 332.60 304.40 333.56 304.40 334.52 304.40 335.49 304.40 336.45 304.40 337.41 304.40 338.37 304.40 339.33 304.40 340.29 304.40 341.26 304.40 342.22 304.40 343.18 304.40 344.14 304.40 345.10 304.40 346.07 304.40 347.03 304.40 347.99 304.40 348.95 304.40 349.91 304.40 350.88 304.40 351.84 304.40 352.80 304.40 353.76 304.40 354.72 304.40 355.68 304.40 356.65 304.40 357.61 304.40 358.57 304.40 359.53 304.40 360.49 304.40 361.46 304.40 362.42 304.40 363.38 304.40 364.34 304.40 365.30 304.40 366.26 304.40 367.23 304.40 368.19 304.40 369.15 304.40 370.11 304.40 371.07 304.40 372.04 304.40 373.00 304.40 373.96 304.40 374.92 304.40 375.88 304.40 376.84 304.40 377.81 304.40 378.77 304.40 379.73 304.40 380.69 304.40 381.65 304.40 382.62 304.40 383.58 304.40 384.54 304.40 385.50 304.40 386.46 304.40 387.43 304.40 388.39 304.40 389.35 304.40 390.31 304.40 391.27 304.40 392.23 304.40 393.20 304.40 394.16 304.40 395.12 304.38 396.08 304.35 397.04 304.31 398.01 304.24 398.97 304.14 399.93 304.02 400.89 303.86 401.85 303.65 402.81 303.41 403.78 303.12 404.74 302.78 405.70 302.39 406.66 301.94 407.62 301.43 408.59 300.86 409.55 300.22 410.51 299.51 411.47 298.72 412.43 297.86 413.39 296.91 414.36 295.89 415.32 294.77 416.28 293.57 417.24 292.27 418.20 290.87 419.17 289.37 420.13 287.77 421.09 286.07 422.05 284.25 423.01 282.32 423.98 280.28 424.94 278.11 425.90 275.83 426.86 273.42 427.82 270.88 428.78 268.21 429.75 265.41 430.71 262.47 431.67 259.39 432.63 256.17 433.59 252.80 434.56 249.28 435.52 245.61 436.48 241.79 437.44 237.81 438.40 233.67 439.36 229.36 440.33 224.89 441.29 220.25 442.25 215.44 443.21 210.45 444.17 205.29 445.14 199.94 446.10 194.42 447.06 188.70 448.02 182.80 448.98 176.70 449.94 170.42 450.91 163.93 451.87 157.24 452.83 151.64 453.79 151.64 454.75 151.64 455.72 151.64 456.68 151.64 457.64 151.64 458.60 151.64 459.56 151.64 460.52 151.64" fill="none" stroke="#f15a24" stroke-width="1.6" stroke-linejoin="round" stroke-linecap="square"  />
<path d="M76.00 304.20C111.67 304.20 252.67 304.25 290.00 304.20C327.33 304.15 297.13 304.20 300.00 303.90C302.87 303.60 305.00 303.05 307.20 302.40C309.40 301.75 310.40 301.60 313.20 300.00C316.00 298.40 320.80 295.10 324.00 292.80C327.20 290.50 330.00 288.00 332.40 286.20C334.80 284.40 336.20 283.03 338.40 282.00C340.60 280.97 343.00 280.43 345.60 280.00C348.20 279.57 350.60 279.48 354.00 279.40C357.40 279.32 362.00 279.37 366.00 279.50C370.00 279.63 374.00 279.53 378.00 280.20C382.00 280.87 386.33 282.43 390.00 283.50C393.67 284.57 397.00 285.58 400.00 286.60C403.00 287.62 405.33 288.70 408.00 289.60C410.67 290.50 413.60 291.40 416.00 292.00C418.40 292.60 420.40 292.97 422.40 293.20C424.40 293.43 421.68 293.37 428.00 293.40C434.32 293.43 454.92 293.40 460.30 293.40" fill="none" stroke="#8a5cd6" stroke-width="1.6" stroke-linejoin="round" stroke-linecap="square"  />
<path d="M76.00 299.20C81.67 299.22 97.67 299.32 110.00 299.30C122.33 299.28 135.00 299.12 150.00 299.10C165.00 299.08 183.33 299.17 200.00 299.20C216.67 299.23 235.00 299.25 250.00 299.30C265.00 299.35 281.67 299.42 290.00 299.50C298.33 299.58 296.33 299.55 300.00 299.80C303.67 300.05 308.00 300.63 312.00 301.00C316.00 301.37 320.00 301.68 324.00 302.00C328.00 302.32 331.67 302.68 336.00 302.90C340.33 303.12 339.33 303.22 350.00 303.30C360.67 303.38 381.62 303.38 400.00 303.40C418.38 303.42 450.25 303.40 460.30 303.40" fill="none" stroke="#4677b3" stroke-width="1.6" stroke-linejoin="round" stroke-linecap="butt" stroke-dasharray="5.92 2.56" />
<path d="M76.75 304.40 77.71 304.40 78.67 304.40 79.64 304.40 80.60 304.40 81.56 304.40 82.52 304.40 83.48 304.40 84.44 304.40 85.41 304.40 86.37 304.40 87.33 304.40 88.29 304.40 89.25 304.40 90.22 304.40 91.18 304.40 92.14 304.40 93.10 304.40 94.06 304.40 95.03 304.40 95.99 304.40 96.95 304.40 97.91 304.40 98.87 304.40 99.83 304.40 100.80 304.40 101.76 304.40 102.72 304.40 103.68 304.40 104.64 304.40 105.61 304.40 106.57 304.40 107.53 304.40 108.49 304.40 109.45 304.40 110.41 304.40 111.38 304.40 112.34 304.40 113.30 304.40 114.26 304.40 115.22 304.40 116.19 304.40 117.15 304.40 118.11 304.40 119.07 304.40 120.03 304.40 120.99 304.40 121.96 304.40 122.92 304.40 123.88 304.40 124.84 304.40 125.80 304.40 126.77 304.40 127.73 304.40 128.69 304.40 129.65 304.40 130.61 304.40 131.58 304.40 132.54 304.40 133.50 304.40 134.46 304.40 135.42 304.40 136.38 304.40 137.35 304.40 138.31 304.40 139.27 304.40 140.23 304.40 141.19 304.40 142.16 304.40 143.12 304.40 144.08 304.40 145.04 304.40 146.00 304.40 146.96 304.40 147.93 304.40 148.89 304.40 149.85 304.40 150.81 304.40 151.77 304.40 152.74 304.40 153.70 304.40 154.66 304.40 155.62 304.40 156.58 304.40 157.54 304.40 158.51 304.40 159.47 304.40 160.43 304.40 161.39 304.40 162.35 304.40 163.32 304.40 164.28 304.40 165.24 304.40 166.20 304.40 167.16 304.40 168.12 304.40 169.09 304.40 170.05 304.40 171.01 304.40 171.97 304.40 172.93 304.40 173.90 304.40 174.86 304.40 175.82 304.40 176.78 304.40 177.74 304.40 178.71 304.40 179.67 304.40 180.63 304.40 181.59 304.40 182.55 304.40 183.51 304.40 184.48 304.40 185.44 304.40 186.40 304.40 187.36 304.40 188.32 304.40 189.29 304.40 190.25 304.40 191.21 304.40 192.17 304.40 193.13 304.40 194.09 304.40 195.06 304.40 196.02 304.40 196.98 304.40 197.94 304.40 198.90 304.40 199.87 304.40 200.83 304.40 201.79 304.40 202.75 304.40 203.71 304.40 204.68 304.40 205.64 304.40 206.60 304.40 207.56 304.40 208.52 304.40 209.48 304.40 210.45 304.40 211.41 304.40 212.37 304.40 213.33 304.40 214.29 304.40 215.26 304.40 216.22 304.40 217.18 304.40 218.14 304.40 219.10 304.40 220.06 304.40 221.03 304.40 221.99 304.40 222.95 304.40 223.91 304.40 224.87 304.40 225.84 304.40 226.80 304.40 227.76 304.40 228.72 304.40 229.68 304.40 230.64 304.40 231.61 304.40 232.57 304.40 233.53 304.40 234.49 304.40 235.45 304.40 236.42 304.40 237.38 304.40 238.34 304.40 239.30 304.40 240.26 304.40 241.23 304.40 242.19 304.40 243.15 304.40 244.11 304.40 245.07 304.40 246.03 304.40 247.00 304.40 247.96 304.40 248.92 304.40 249.88 304.40 250.84 304.40 251.81 304.40 252.77 304.40 253.73 304.40 254.69 304.40 255.65 304.40 256.61 304.40 257.58 304.40 258.54 304.40 259.50 304.40 260.46 304.40 261.42 304.40 262.39 304.40 263.35 304.40 264.31 304.40 265.27 304.40 266.23 304.40 267.19 304.40 268.16 304.40 269.12 304.40 270.08 304.40 271.04 304.40 272.00 304.40 272.97 304.40 273.93 304.40 274.89 304.40 275.85 304.40 276.81 304.40 277.77 304.40 278.74 304.40 279.70 304.40 280.66 304.40 281.62 304.40 282.58 304.40 283.55 304.40 284.51 304.40 285.47 304.40 286.43 304.40 287.39 304.40 288.36 304.40 289.32 304.40 290.28 304.40 291.24 304.40 292.20 304.40 293.16 304.40 294.13 304.40 295.09 304.40 296.05 304.40 297.01 304.40 297.97 304.40 298.94 304.40 299.90 304.40 300.86 304.40 301.82 304.40 302.78 304.40 303.74 304.40 304.71 304.40 305.67 304.40 306.63 304.40 307.59 304.40 308.55 304.40 309.52 304.40 310.48 304.40 311.44 304.40 312.40 304.40 313.36 304.40 314.32 304.40 315.29 304.40 316.25 304.40 317.21 304.40 318.17 304.40 319.13 304.40 320.10 304.40 321.06 304.40 322.02 304.40 322.98 304.40 323.94 304.40 324.91 304.40 325.87 304.40 326.83 304.40 327.79 304.40 328.75 304.40 329.71 304.40 330.68 304.40 331.64 304.40 332.60 304.40 333.56 304.40 334.52 304.40 335.49 304.40 336.45 304.40 337.41 304.40 338.37 304.40 339.33 304.40 340.29 304.40 341.26 304.40 342.22 304.40 343.18 304.40 344.14 304.40 345.10 304.40 346.07 304.40 347.03 304.40 347.99 304.40 348.95 304.40 349.91 304.40 350.88 304.40 351.84 304.40 352.80 304.40 353.76 304.40 354.72 304.40 355.68 304.40 356.65 304.40 357.61 304.40 358.57 304.40 359.53 304.40 360.49 304.40 361.46 304.40 362.42 304.40 363.38 304.40 364.34 304.40 365.30 304.40 366.26 304.40 367.23 304.40 368.19 304.40 369.15 304.40 370.11 304.40 371.07 304.40 372.04 304.40 373.00 304.40 373.96 304.40 374.92 304.40 375.88 304.40 376.84 304.40 377.81 304.40 378.77 304.40 379.73 304.40 380.69 304.40 381.65 304.40 382.62 304.39 383.58 304.39 384.54 304.38 385.50 304.37 386.46 304.35 387.43 304.32 388.39 304.29 389.35 304.25 390.31 304.20 391.27 304.14 392.23 304.06 393.20 303.97 394.16 303.87 395.12 303.75 396.08 303.61 397.04 303.46 398.01 303.28 398.97 303.08 399.93 302.85 400.89 302.60 401.85 302.32 402.81 302.01 403.78 301.67 404.74 301.30 405.70 300.89 406.66 300.44 407.62 299.96 408.59 299.44 409.55 298.87 410.51 298.26 411.47 297.60 412.43 296.89 413.39 296.14 414.36 295.33 415.32 294.46 416.28 293.54 417.24 292.56 418.20 291.52 419.17 290.42 420.13 289.24 421.09 288.01 422.05 286.70 423.01 285.31 423.98 283.86 424.94 282.32 425.90 280.71 426.86 279.01 427.82 277.23 428.78 275.36 429.75 273.41 430.71 271.36 431.67 269.21 432.63 266.97 433.59 264.63 434.56 262.19 435.52 259.64 436.48 256.99 437.44 254.22 438.40 251.35 439.36 248.35 440.33 245.24 441.29 242.01 442.25 238.66 443.21 235.18 444.17 231.57 445.14 227.82 446.10 223.95 447.06 219.93 448.02 215.78 448.98 211.48 449.94 207.04 450.91 202.45 451.87 197.70 452.83 192.80 453.79 187.74 454.75 182.53 455.72 177.15 456.68 171.60 457.64 165.88 458.60 159.99 459.56 153.92 460.52 151.64" fill="none" stroke="#f15a24" stroke-width="1.6" stroke-linejoin="round" stroke-linecap="butt" stroke-dasharray="5.92 2.56" />
<path d="M76.00 304.20C111.67 304.20 252.67 304.30 290.00 304.20C327.33 304.10 297.13 303.95 300.00 303.60C302.87 303.25 305.00 302.75 307.20 302.10C309.40 301.45 310.40 301.30 313.20 299.70C316.00 298.10 320.80 294.80 324.00 292.50C327.20 290.20 330.00 287.70 332.40 285.90C334.80 284.10 336.20 282.73 338.40 281.70C340.60 280.67 343.00 280.13 345.60 279.70C348.20 279.27 350.60 279.18 354.00 279.10C357.40 279.02 362.00 279.07 366.00 279.20C370.00 279.33 374.00 279.23 378.00 279.90C382.00 280.57 386.33 282.13 390.00 283.20C393.67 284.27 397.00 285.28 400.00 286.30C403.00 287.32 405.33 288.40 408.00 289.30C410.67 290.20 413.60 291.10 416.00 291.70C418.40 292.30 420.40 292.67 422.40 292.90C424.40 293.13 421.68 293.07 428.00 293.10C434.32 293.13 454.92 293.10 460.30 293.10" fill="none" stroke="#8a5cd6" stroke-width="1.6" stroke-linejoin="round" stroke-linecap="butt" stroke-dasharray="5.92 2.56" />
<path d="M76.00 299.40C81.67 299.42 97.67 299.52 110.00 299.50C122.33 299.48 135.00 299.32 150.00 299.30C165.00 299.28 183.33 299.38 200.00 299.40C216.67 299.42 235.00 299.37 250.00 299.40C265.00 299.43 281.67 299.52 290.00 299.60C298.33 299.68 296.33 299.67 300.00 299.90C303.67 300.13 308.00 300.65 312.00 301.00C316.00 301.35 320.00 301.68 324.00 302.00C328.00 302.32 331.67 302.68 336.00 302.90C340.33 303.12 339.33 303.22 350.00 303.30C360.67 303.38 381.62 303.38 400.00 303.40C418.38 303.42 450.25 303.40 460.30 303.40" fill="none" stroke="#4677b3" stroke-width="1.6" stroke-linejoin="round" stroke-linecap="butt" stroke-dasharray="10.24 2.56 1.60 2.56" />
<path d="M76.75 304.40 77.71 304.40 78.67 304.40 79.64 304.40 80.60 304.40 81.56 304.40 82.52 304.40 83.48 304.40 84.44 304.40 85.41 304.40 86.37 304.40 87.33 304.40 88.29 304.40 89.25 304.40 90.22 304.40 91.18 304.40 92.14 304.40 93.10 304.40 94.06 304.40 95.03 304.40 95.99 304.40 96.95 304.40 97.91 304.40 98.87 304.40 99.83 304.40 100.80 304.40 101.76 304.40 102.72 304.40 103.68 304.40 104.64 304.40 105.61 304.40 106.57 304.40 107.53 304.40 108.49 304.40 109.45 304.40 110.41 304.40 111.38 304.40 112.34 304.40 113.30 304.40 114.26 304.40 115.22 304.40 116.19 304.40 117.15 304.40 118.11 304.40 119.07 304.40 120.03 304.40 120.99 304.40 121.96 304.40 122.92 304.40 123.88 304.40 124.84 304.40 125.80 304.40 126.77 304.40 127.73 304.40 128.69 304.40 129.65 304.40 130.61 304.40 131.58 304.40 132.54 304.40 133.50 304.40 134.46 304.40 135.42 304.40 136.38 304.40 137.35 304.40 138.31 304.40 139.27 304.40 140.23 304.40 141.19 304.40 142.16 304.40 143.12 304.40 144.08 304.40 145.04 304.40 146.00 304.40 146.96 304.40 147.93 304.40 148.89 304.40 149.85 304.40 150.81 304.40 151.77 304.40 152.74 304.40 153.70 304.40 154.66 304.40 155.62 304.40 156.58 304.40 157.54 304.40 158.51 304.40 159.47 304.40 160.43 304.40 161.39 304.40 162.35 304.40 163.32 304.40 164.28 304.40 165.24 304.40 166.20 304.40 167.16 304.40 168.12 304.40 169.09 304.40 170.05 304.40 171.01 304.40 171.97 304.40 172.93 304.40 173.90 304.40 174.86 304.40 175.82 304.40 176.78 304.40 177.74 304.40 178.71 304.40 179.67 304.40 180.63 304.40 181.59 304.40 182.55 304.40 183.51 304.40 184.48 304.40 185.44 304.40 186.40 304.40 187.36 304.40 188.32 304.40 189.29 304.40 190.25 304.40 191.21 304.40 192.17 304.40 193.13 304.40 194.09 304.40 195.06 304.40 196.02 304.40 196.98 304.40 197.94 304.40 198.90 304.40 199.87 304.40 200.83 304.40 201.79 304.40 202.75 304.40 203.71 304.40 204.68 304.40 205.64 304.40 206.60 304.40 207.56 304.40 208.52 304.40 209.48 304.40 210.45 304.40 211.41 304.40 212.37 304.40 213.33 304.40 214.29 304.40 215.26 304.40 216.22 304.40 217.18 304.40 218.14 304.40 219.10 304.40 220.06 304.40 221.03 304.40 221.99 304.40 222.95 304.40 223.91 304.40 224.87 304.40 225.84 304.40 226.80 304.40 227.76 304.40 228.72 304.40 229.68 304.40 230.64 304.40 231.61 304.40 232.57 304.40 233.53 304.40 234.49 304.40 235.45 304.40 236.42 304.40 237.38 304.40 238.34 304.40 239.30 304.40 240.26 304.40 241.23 304.40 242.19 304.40 243.15 304.40 244.11 304.40 245.07 304.40 246.03 304.40 247.00 304.40 247.96 304.40 248.92 304.40 249.88 304.40 250.84 304.40 251.81 304.40 252.77 304.40 253.73 304.40 254.69 304.40 255.65 304.40 256.61 304.40 257.58 304.40 258.54 304.40 259.50 304.40 260.46 304.40 261.42 304.40 262.39 304.40 263.35 304.40 264.31 304.40 265.27 304.40 266.23 304.40 267.19 304.40 268.16 304.40 269.12 304.40 270.08 304.40 271.04 304.40 272.00 304.40 272.97 304.40 273.93 304.40 274.89 304.40 275.85 304.40 276.81 304.40 277.77 304.40 278.74 304.40 279.70 304.40 280.66 304.40 281.62 304.40 282.58 304.40 283.55 304.40 284.51 304.40 285.47 304.40 286.43 304.40 287.39 304.40 288.36 304.40 289.32 304.40 290.28 304.40 291.24 304.40 292.20 304.40 293.16 304.40 294.13 304.40 295.09 304.40 296.05 304.40 297.01 304.40 297.97 304.40 298.94 304.40 299.90 304.40 300.86 304.40 301.82 304.40 302.78 304.40 303.74 304.40 304.71 304.40 305.67 304.40 306.63 304.40 307.59 304.40 308.55 304.40 309.52 304.40 310.48 304.40 311.44 304.40 312.40 304.40 313.36 304.40 314.32 304.40 315.29 304.40 316.25 304.40 317.21 304.40 318.17 304.40 319.13 304.40 320.10 304.40 321.06 304.40 322.02 304.40 322.98 304.40 323.94 304.40 324.91 304.40 325.87 304.40 326.83 304.40 327.79 304.40 328.75 304.40 329.71 304.40 330.68 304.40 331.64 304.40 332.60 304.40 333.56 304.40 334.52 304.40 335.49 304.40 336.45 304.40 337.41 304.40 338.37 304.40 339.33 304.40 340.29 304.40 341.26 304.40 342.22 304.40 343.18 304.40 344.14 304.40 345.10 304.40 346.07 304.40 347.03 304.40 347.99 304.40 348.95 304.40 349.91 304.40 350.88 304.40 351.84 304.40 352.80 304.40 353.76 304.40 354.72 304.40 355.68 304.40 356.65 304.40 357.61 304.40 358.57 304.40 359.53 304.40 360.49 304.40 361.46 304.40 362.42 304.40 363.38 304.40 364.34 304.40 365.30 304.40 366.26 304.40 367.23 304.39 368.19 304.39 369.15 304.39 370.11 304.38 371.07 304.37 372.04 304.37 373.00 304.36 373.96 304.35 374.92 304.33 375.88 304.32 376.84 304.30 377.81 304.28 378.77 304.26 379.73 304.23 380.69 304.20 381.65 304.16 382.62 304.12 383.58 304.07 384.54 304.02 385.50 303.96 386.46 303.90 387.43 303.83 388.39 303.75 389.35 303.66 390.31 303.57 391.27 303.46 392.23 303.35 393.20 303.22 394.16 303.09 395.12 302.94 396.08 302.78 397.04 302.60 398.01 302.42 398.97 302.21 399.93 301.99 400.89 301.76 401.85 301.51 402.81 301.24 403.78 300.95 404.74 300.64 405.70 300.31 406.66 299.95 407.62 299.58 408.59 299.18 409.55 298.76 410.51 298.31 411.47 297.83 412.43 297.32 413.39 296.79 414.36 296.22 415.32 295.63 416.28 295.00 417.24 294.33 418.20 293.63 419.17 292.89 420.13 292.12 421.09 291.30 422.05 290.45 423.01 289.55 423.98 288.61 424.94 287.62 425.90 286.59 426.86 285.50 427.82 284.37 428.78 283.19 429.75 281.95 430.71 280.66 431.67 279.31 432.63 277.90 433.59 276.44 434.56 274.91 435.52 273.31 436.48 271.66 437.44 269.93 438.40 268.14 439.36 266.27 440.33 264.34 441.29 262.32 442.25 260.24 443.21 258.07 444.17 255.82 445.14 253.48 446.10 251.07 447.06 248.56 448.02 245.97 448.98 243.28 449.94 240.50 450.91 237.62 451.87 234.65 452.83 231.57 453.79 228.39 454.75 225.10 455.72 221.71 456.68 218.20 457.64 214.58 458.60 210.85 459.56 207.00 460.52 203.02" fill="none" stroke="#f15a24" stroke-width="1.6" stroke-linejoin="round" stroke-linecap="butt" stroke-dasharray="10.24 2.56 1.60 2.56" />
<path d="M76.00 304.20C111.67 304.20 252.67 304.22 290.00 304.20C327.33 304.18 297.13 304.37 300.00 304.10C302.87 303.83 305.00 303.25 307.20 302.60C309.40 301.95 310.40 301.80 313.20 300.20C316.00 298.60 320.80 295.30 324.00 293.00C327.20 290.70 330.00 288.20 332.40 286.40C334.80 284.60 336.20 283.23 338.40 282.20C340.60 281.17 343.00 280.63 345.60 280.20C348.20 279.77 350.60 279.68 354.00 279.60C357.40 279.52 362.00 279.57 366.00 279.70C370.00 279.83 374.00 279.73 378.00 280.40C382.00 281.07 386.33 282.63 390.00 283.70C393.67 284.77 397.00 285.78 400.00 286.80C403.00 287.82 405.33 288.90 408.00 289.80C410.67 290.70 413.60 291.60 416.00 292.20C418.40 292.80 420.40 293.17 422.40 293.40C424.40 293.63 421.68 293.57 428.00 293.60C434.32 293.63 454.92 293.60 460.30 293.60" fill="none" stroke="#8a5cd6" stroke-width="1.6" stroke-linejoin="round" stroke-linecap="butt" stroke-dasharray="10.24 2.56 1.60 2.56" />
<path d="M76.00 299.30C81.67 299.28 97.67 299.20 110.00 299.20C122.33 299.20 135.00 299.30 150.00 299.30C165.00 299.30 183.33 299.20 200.00 299.20C216.67 299.20 235.00 299.25 250.00 299.30C265.00 299.35 281.67 299.42 290.00 299.50C298.33 299.58 296.33 299.55 300.00 299.80C303.67 300.05 308.00 300.63 312.00 301.00C316.00 301.37 320.00 301.68 324.00 302.00C328.00 302.32 331.67 302.68 336.00 302.90C340.33 303.12 339.33 303.22 350.00 303.30C360.67 303.38 381.62 303.38 400.00 303.40C418.38 303.42 450.25 303.40 460.30 303.40" fill="none" stroke="#4677b3" stroke-width="1.6" stroke-linejoin="round" stroke-linecap="butt" stroke-dasharray="1.60 2.64" />
<path d="M76.75 304.40 77.71 304.40 78.67 304.40 79.64 304.40 80.60 304.40 81.56 304.40 82.52 304.40 83.48 304.40 84.44 304.40 85.41 304.40 86.37 304.40 87.33 304.40 88.29 304.40 89.25 304.40 90.22 304.40 91.18 304.40 92.14 304.40 93.10 304.40 94.06 304.40 95.03 304.40 95.99 304.40 96.95 304.40 97.91 304.40 98.87 304.40 99.83 304.40 100.80 304.40 101.76 304.40 102.72 304.40 103.68 304.40 104.64 304.40 105.61 304.40 106.57 304.40 107.53 304.40 108.49 304.40 109.45 304.40 110.41 304.40 111.38 304.40 112.34 304.40 113.30 304.40 114.26 304.40 115.22 304.40 116.19 304.40 117.15 304.40 118.11 304.40 119.07 304.40 120.03 304.40 120.99 304.40 121.96 304.40 122.92 304.40 123.88 304.40 124.84 304.40 125.80 304.40 126.77 304.40 127.73 304.40 128.69 304.40 129.65 304.40 130.61 304.40 131.58 304.40 132.54 304.40 133.50 304.40 134.46 304.40 135.42 304.40 136.38 304.40 137.35 304.40 138.31 304.40 139.27 304.40 140.23 304.40 141.19 304.40 142.16 304.40 143.12 304.40 144.08 304.40 145.04 304.40 146.00 304.40 146.96 304.40 147.93 304.40 148.89 304.40 149.85 304.40 150.81 304.40 151.77 304.40 152.74 304.40 153.70 304.40 154.66 304.40 155.62 304.40 156.58 304.40 157.54 304.40 158.51 304.40 159.47 304.40 160.43 304.40 161.39 304.40 162.35 304.40 163.32 304.40 164.28 304.40 165.24 304.40 166.20 304.40 167.16 304.40 168.12 304.40 169.09 304.40 170.05 304.40 171.01 304.40 171.97 304.40 172.93 304.40 173.90 304.40 174.86 304.40 175.82 304.40 176.78 304.40 177.74 304.40 178.71 304.40 179.67 304.40 180.63 304.40 181.59 304.40 182.55 304.40 183.51 304.40 184.48 304.40 185.44 304.40 186.40 304.40 187.36 304.40 188.32 304.40 189.29 304.40 190.25 304.40 191.21 304.40 192.17 304.40 193.13 304.40 194.09 304.40 195.06 304.40 196.02 304.40 196.98 304.40 197.94 304.40 198.90 304.40 199.87 304.40 200.83 304.40 201.79 304.40 202.75 304.40 203.71 304.40 204.68 304.40 205.64 304.40 206.60 304.40 207.56 304.40 208.52 304.40 209.48 304.40 210.45 304.40 211.41 304.40 212.37 304.40 213.33 304.40 214.29 304.40 215.26 304.40 216.22 304.40 217.18 304.40 218.14 304.40 219.10 304.40 220.06 304.40 221.03 304.40 221.99 304.40 222.95 304.40 223.91 304.40 224.87 304.40 225.84 304.40 226.80 304.40 227.76 304.40 228.72 304.40 229.68 304.40 230.64 304.40 231.61 304.40 232.57 304.40 233.53 304.40 234.49 304.40 235.45 304.40 236.42 304.40 237.38 304.40 238.34 304.40 239.30 304.40 240.26 304.40 241.23 304.40 242.19 304.40 243.15 304.40 244.11 304.40 245.07 304.40 246.03 304.40 247.00 304.40 247.96 304.40 248.92 304.40 249.88 304.40 250.84 304.40 251.81 304.40 252.77 304.40 253.73 304.40 254.69 304.40 255.65 304.40 256.61 304.40 257.58 304.40 258.54 304.40 259.50 304.40 260.46 304.40 261.42 304.40 262.39 304.40 263.35 304.40 264.31 304.40 265.27 304.40 266.23 304.40 267.19 304.40 268.16 304.40 269.12 304.40 270.08 304.40 271.04 304.40 272.00 304.40 272.97 304.40 273.93 304.40 274.89 304.40 275.85 304.40 276.81 304.40 277.77 304.40 278.74 304.40 279.70 304.40 280.66 304.40 281.62 304.40 282.58 304.40 283.55 304.40 284.51 304.40 285.47 304.40 286.43 304.40 287.39 304.40 288.36 304.40 289.32 304.40 290.28 304.40 291.24 304.40 292.20 304.40 293.16 304.40 294.13 304.40 295.09 304.40 296.05 304.40 297.01 304.40 297.97 304.40 298.94 304.40 299.90 304.40 300.86 304.40 301.82 304.40 302.78 304.40 303.74 304.40 304.71 304.40 305.67 304.40 306.63 304.40 307.59 304.40 308.55 304.40 309.52 304.40 310.48 304.40 311.44 304.40 312.40 304.40 313.36 304.40 314.32 304.40 315.29 304.40 316.25 304.40 317.21 304.40 318.17 304.40 319.13 304.40 320.10 304.40 321.06 304.40 322.02 304.40 322.98 304.40 323.94 304.40 324.91 304.40 325.87 304.40 326.83 304.40 327.79 304.40 328.75 304.40 329.71 304.40 330.68 304.40 331.64 304.40 332.60 304.40 333.56 304.40 334.52 304.40 335.49 304.40 336.45 304.40 337.41 304.40 338.37 304.40 339.33 304.40 340.29 304.40 341.26 304.40 342.22 304.40 343.18 304.40 344.14 304.40 345.10 304.40 346.07 304.40 347.03 304.40 347.99 304.40 348.95 304.40 349.91 304.40 350.88 304.40 351.84 304.40 352.80 304.40 353.76 304.40 354.72 304.40 355.68 304.40 356.65 304.40 357.61 304.40 358.57 304.40 359.53 304.40 360.49 304.40 361.46 304.40 362.42 304.40 363.38 304.40 364.34 304.40 365.30 304.40 366.26 304.40 367.23 304.40 368.19 304.40 369.15 304.40 370.11 304.40 371.07 304.40 372.04 304.40 373.00 304.40 373.96 304.40 374.92 304.40 375.88 304.40 376.84 304.40 377.81 304.40 378.77 304.40 379.73 304.40 380.69 304.40 381.65 304.40 382.62 304.39 383.58 304.39 384.54 304.38 385.50 304.37 386.46 304.35 387.43 304.32 388.39 304.29 389.35 304.25 390.31 304.20 391.27 304.14 392.23 304.06 393.20 303.97 394.16 303.87 395.12 303.75 396.08 303.61 397.04 303.46 398.01 303.28 398.97 303.08 399.93 302.85 400.89 302.60 401.85 302.32 402.81 302.01 403.78 301.67 404.74 301.30 405.70 300.89 406.66 300.44 407.62 299.96 408.59 299.44 409.55 298.87 410.51 298.26 411.47 297.60 412.43 296.89 413.39 296.14 414.36 295.33 415.32 294.46 416.28 293.54 417.24 292.56 418.20 291.52 419.17 290.42 420.13 289.24 421.09 288.01 422.05 286.70 423.01 285.31 423.98 283.86 424.94 282.32 425.90 280.71 426.86 279.01 427.82 277.23 428.78 275.36 429.75 273.41 430.71 271.36 431.67 269.21 432.63 266.97 433.59 264.63 434.56 262.19 435.52 259.64 436.48 256.99 437.44 254.22 438.40 251.35 439.36 248.35 440.33 245.24 441.29 242.01 442.25 238.66 443.21 235.18 444.17 231.57 445.14 227.82 446.10 223.95 447.06 219.93 448.02 215.78 448.98 211.48 449.94 207.04 450.91 202.45 451.87 197.70 452.83 192.80 453.79 187.74 454.75 182.53 455.72 177.15 456.68 171.60 457.64 165.88 458.60 159.99 459.56 153.92 460.52 151.64" fill="none" stroke="#f15a24" stroke-width="1.6" stroke-linejoin="round" stroke-linecap="butt" stroke-dasharray="1.60 2.64" />
<path d="M76.00 304.20C111.67 304.20 252.67 304.27 290.00 304.20C327.33 304.12 297.13 304.07 300.00 303.75C302.87 303.43 305.00 302.90 307.20 302.25C309.40 301.60 310.40 301.45 313.20 299.85C316.00 298.25 320.80 294.95 324.00 292.65C327.20 290.35 330.00 287.85 332.40 286.05C334.80 284.25 336.20 282.88 338.40 281.85C340.60 280.82 343.00 280.28 345.60 279.85C348.20 279.42 350.60 279.33 354.00 279.25C357.40 279.17 362.00 279.22 366.00 279.35C370.00 279.48 374.00 279.38 378.00 280.05C382.00 280.72 386.33 282.28 390.00 283.35C393.67 284.42 397.00 285.43 400.00 286.45C403.00 287.47 405.33 288.55 408.00 289.45C410.67 290.35 413.60 291.25 416.00 291.85C418.40 292.45 420.40 292.82 422.40 293.05C424.40 293.28 421.68 293.22 428.00 293.25C434.32 293.28 454.92 293.25 460.30 293.25" fill="none" stroke="#8a5cd6" stroke-width="1.6" stroke-linejoin="round" stroke-linecap="butt" stroke-dasharray="1.60 2.64" />
</g>
<path d="M313.00 173.50V304.40" stroke="#000" stroke-width="2.6"/>
<path d="M138.00 330.50V461.40M225.50 330.50V461.40M313.00 330.50V461.40M400.50 330.50V461.40M50.50 455.40H488.00M50.50 436.73H488.00M50.50 418.07H488.00M50.50 399.40H488.00M50.50 380.73H488.00M50.50 362.07H488.00M50.50 343.40H488.00" stroke="#b0b0b0" stroke-width="0.8" fill="none"/>
<g clip-path="url(#c3)">
<path d="M76.00 455.40C147.00 455.40 218.00 455.40 289.00 455.40C306.00 451.47 330.67 445.63 340.00 443.60C349.33 441.57 340.92 443.07 345.00 443.20C349.08 443.33 357.17 443.82 364.50 444.40C371.83 444.98 379.75 445.90 389.00 446.70C398.25 447.50 411.50 448.65 420.00 449.20C428.50 449.75 433.28 449.78 440.00 450.00C446.72 450.22 453.53 450.33 460.30 450.50" fill="none" stroke="#a6726c" stroke-width="1.6" stroke-linejoin="round" stroke-linecap="square"  />
<path d="M76.00 357.12C78.00 357.18 80.00 357.29 82.00 357.29C84.00 357.29 86.00 357.24 88.00 357.12C90.00 356.99 92.00 356.51 94.00 356.54C96.00 356.58 98.00 357.21 100.00 357.32C102.00 357.42 104.00 357.24 106.00 357.16C108.00 357.07 110.00 356.80 112.00 356.81C114.00 356.82 116.00 357.15 118.00 357.20C120.00 357.26 122.00 357.14 124.00 357.13C126.00 357.11 128.00 357.12 130.00 357.10C132.00 357.08 134.00 357.00 136.00 357.01C138.00 357.02 140.00 357.24 142.00 357.19C144.00 357.15 146.00 356.78 148.00 356.74C150.00 356.70 152.00 356.93 154.00 356.94C156.00 356.96 158.00 356.79 160.00 356.83C162.00 356.88 164.00 357.18 166.00 357.21C168.00 357.24 170.00 357.07 172.00 357.01C174.00 356.96 176.00 356.95 178.00 356.90C180.00 356.85 182.00 356.72 184.00 356.73C186.00 356.73 188.00 356.86 190.00 356.91C192.00 356.96 194.00 357.00 196.00 357.00C198.00 357.00 200.00 356.83 202.00 356.90C204.00 356.98 206.00 357.38 208.00 357.45C210.00 357.53 212.00 357.59 214.00 357.35C216.00 357.12 218.00 356.22 220.00 356.05C222.00 355.88 224.00 356.19 226.00 356.34C228.00 356.49 230.00 356.85 232.00 356.94C234.00 357.02 236.00 356.83 238.00 356.85C240.00 356.87 242.00 357.04 244.00 357.07C246.00 357.11 248.00 356.96 250.00 357.08C252.00 357.19 254.00 357.82 256.00 357.74C258.00 357.66 260.00 356.76 262.00 356.61C264.00 356.47 266.00 356.68 268.00 356.87C270.00 357.05 272.00 357.66 274.00 357.71C276.00 357.77 277.67 357.43 280.00 357.23C282.33 357.02 285.33 356.74 288.00 356.50C305.27 378.33 330.42 410.32 339.80 422.00C349.18 433.68 342.60 425.55 344.30 426.60C346.00 427.65 346.63 427.43 350.00 428.30C353.37 429.17 359.50 430.85 364.50 431.80C369.50 432.75 374.08 433.13 380.00 434.00C385.92 434.87 393.33 436.10 400.00 437.00C406.67 437.90 413.33 438.65 420.00 439.40C426.67 440.15 433.28 440.87 440.00 441.50C446.72 442.13 453.53 442.63 460.30 443.20" fill="none" stroke="#6c74ce" stroke-width="1.6" stroke-linejoin="round" stroke-linecap="square"  />
<path d="M76.00 455.40C179.00 455.40 332.33 455.53 385.00 455.40C437.67 455.27 389.83 455.50 392.00 454.60C394.17 453.70 395.92 452.43 398.00 450.00C400.08 447.57 402.18 444.50 404.50 440.00C406.82 435.50 409.43 428.50 411.90 423.00C414.37 417.50 417.05 411.92 419.30 407.00C421.55 402.08 423.37 396.98 425.40 393.50C427.43 390.02 429.67 387.57 431.50 386.10C433.33 384.63 434.98 385.00 436.40 384.70C437.82 384.40 437.70 384.30 440.00 384.30C442.30 384.30 446.82 384.42 450.20 384.70C453.58 384.98 456.93 385.57 460.30 386.00" fill="none" stroke="#c8637d" stroke-width="1.6" stroke-linejoin="round" stroke-linecap="square"  />
<path d="M76.00 455.40C147.00 455.40 218.00 455.40 289.00 455.40C306.87 436.73 324.73 418.07 342.60 399.40C347.00 401.07 349.57 402.08 355.80 404.40C362.03 406.72 372.60 410.82 380.00 413.30C387.40 415.78 394.07 417.58 400.20 419.30C406.33 421.02 410.17 421.97 416.80 423.60C423.43 425.23 432.75 427.77 440.00 429.10C447.25 430.43 453.53 430.77 460.30 431.60" fill="none" stroke="#a2719a" stroke-width="1.6" stroke-linejoin="round" stroke-linecap="square"  />
<path d="M76.00 455.40C147.00 455.40 218.00 455.40 289.00 455.40C306.00 451.33 330.67 445.30 340.00 443.20C349.33 441.10 340.92 442.67 345.00 442.80C349.08 442.93 357.17 443.42 364.50 444.00C371.83 444.58 379.75 445.50 389.00 446.30C398.25 447.10 411.50 448.25 420.00 448.80C428.50 449.35 433.28 449.38 440.00 449.60C446.72 449.82 453.53 449.93 460.30 450.10" fill="none" stroke="#a6726c" stroke-width="1.6" stroke-linejoin="round" stroke-linecap="butt" stroke-dasharray="5.92 2.56" />
<path d="M76.00 359.27C78.00 359.18 80.00 359.05 82.00 359.02C84.00 358.98 86.00 359.17 88.00 359.06C90.00 358.94 92.00 358.22 94.00 358.35C96.00 358.47 98.00 359.62 100.00 359.83C102.00 360.04 104.00 359.72 106.00 359.60C108.00 359.48 110.00 359.11 112.00 359.09C114.00 359.06 116.00 359.44 118.00 359.47C120.00 359.51 122.00 359.38 124.00 359.30C126.00 359.22 128.00 358.97 130.00 359.01C132.00 359.05 134.00 359.53 136.00 359.54C138.00 359.56 140.00 359.17 142.00 359.09C144.00 359.02 146.00 359.11 148.00 359.08C150.00 359.06 152.00 358.88 154.00 358.92C156.00 358.97 158.00 359.32 160.00 359.36C162.00 359.40 164.00 359.16 166.00 359.17C168.00 359.17 170.00 359.42 172.00 359.39C174.00 359.36 176.00 359.01 178.00 358.99C180.00 358.96 182.00 359.26 184.00 359.24C186.00 359.23 188.00 358.85 190.00 358.89C192.00 358.93 194.00 359.43 196.00 359.49C198.00 359.56 200.00 359.30 202.00 359.27C204.00 359.24 206.00 359.30 208.00 359.32C210.00 359.33 212.00 359.42 214.00 359.34C216.00 359.27 218.00 358.82 220.00 358.85C222.00 358.87 224.00 359.30 226.00 359.47C228.00 359.65 230.00 360.06 232.00 359.92C234.00 359.78 236.00 358.85 238.00 358.63C240.00 358.41 242.00 358.59 244.00 358.59C246.00 358.60 248.00 358.52 250.00 358.67C252.00 358.82 254.00 359.40 256.00 359.49C258.00 359.59 260.00 359.23 262.00 359.25C264.00 359.26 266.00 359.54 268.00 359.58C270.00 359.61 272.00 359.50 274.00 359.45C276.00 359.40 277.57 359.15 280.00 359.27C282.43 359.40 285.73 359.89 288.60 360.20C305.17 383.90 329.27 418.60 338.30 431.30C347.33 444.00 340.85 435.23 342.80 436.40C344.75 437.57 346.38 437.70 350.00 438.30C353.62 438.90 359.50 439.45 364.50 440.00C369.50 440.55 374.92 441.05 380.00 441.60C385.08 442.15 388.33 442.67 395.00 443.30C401.67 443.93 412.50 444.82 420.00 445.40C427.50 445.98 433.28 446.38 440.00 446.80C446.72 447.22 453.53 447.53 460.30 447.90" fill="none" stroke="#6c74ce" stroke-width="1.6" stroke-linejoin="round" stroke-linecap="butt" stroke-dasharray="5.92 2.56" />
<path d="M76.00 455.40C180.67 455.40 336.00 455.72 390.00 455.40C444.00 455.08 396.77 456.07 400.00 453.50C403.23 450.93 406.60 444.88 409.40 440.00C412.20 435.12 414.33 429.08 416.80 424.20C419.27 419.32 421.95 413.98 424.20 410.70C426.45 407.42 428.27 405.87 430.30 404.50C432.33 403.13 434.78 402.90 436.40 402.50C438.02 402.10 437.73 402.13 440.00 402.10C442.27 402.07 446.62 402.20 450.00 402.30C453.38 402.40 456.87 402.57 460.30 402.70" fill="none" stroke="#c8637d" stroke-width="1.6" stroke-linejoin="round" stroke-linecap="butt" stroke-dasharray="5.92 2.56" />
<path d="M76.00 455.40C147.00 455.40 218.00 455.40 289.00 455.40C306.77 433.77 324.53 412.13 342.30 390.50C349.20 393.00 356.72 395.57 363.00 398.00C369.28 400.43 373.80 402.88 380.00 405.10C386.20 407.32 394.07 409.35 400.20 411.30C406.33 413.25 410.17 414.75 416.80 416.80C423.43 418.85 432.75 421.93 440.00 423.60C447.25 425.27 453.53 425.73 460.30 426.80" fill="none" stroke="#a2719a" stroke-width="1.6" stroke-linejoin="round" stroke-linecap="butt" stroke-dasharray="5.92 2.56" />
<path d="M76.00 455.40C147.00 455.40 218.00 455.40 289.00 455.40C306.00 451.40 330.67 445.47 340.00 443.40C349.33 441.33 340.92 442.87 345.00 443.00C349.08 443.13 357.17 443.62 364.50 444.20C371.83 444.78 379.75 445.70 389.00 446.50C398.25 447.30 411.50 448.45 420.00 449.00C428.50 449.55 433.28 449.58 440.00 449.80C446.72 450.02 453.53 450.13 460.30 450.30" fill="none" stroke="#a6726c" stroke-width="1.6" stroke-linejoin="round" stroke-linecap="butt" stroke-dasharray="10.24 2.56 1.60 2.56" />
<path d="M76.00 359.31C78.00 358.78 80.00 357.80 82.00 357.71C84.00 357.61 86.00 358.63 88.00 358.75C90.00 358.86 92.00 358.45 94.00 358.40C96.00 358.35 98.00 358.42 100.00 358.44C102.00 358.46 104.00 358.62 106.00 358.52C108.00 358.43 110.00 357.89 112.00 357.89C114.00 357.89 116.00 358.45 118.00 358.52C120.00 358.59 122.00 358.09 124.00 358.30C126.00 358.50 128.00 359.70 130.00 359.76C132.00 359.83 134.00 358.89 136.00 358.68C138.00 358.46 140.00 358.51 142.00 358.48C144.00 358.45 146.00 358.52 148.00 358.50C150.00 358.48 152.00 358.41 154.00 358.37C156.00 358.32 158.00 358.21 160.00 358.23C162.00 358.25 164.00 358.37 166.00 358.46C168.00 358.55 170.00 358.76 172.00 358.77C174.00 358.78 176.00 358.49 178.00 358.52C180.00 358.54 182.00 358.93 184.00 358.94C186.00 358.94 188.00 358.58 190.00 358.53C192.00 358.48 194.00 358.51 196.00 358.61C198.00 358.71 200.00 359.11 202.00 359.14C204.00 359.17 206.00 358.91 208.00 358.79C210.00 358.67 212.00 358.47 214.00 358.42C216.00 358.38 218.00 358.48 220.00 358.54C222.00 358.60 224.00 358.67 226.00 358.79C228.00 358.91 230.00 359.32 232.00 359.28C234.00 359.23 236.00 358.63 238.00 358.51C240.00 358.38 242.00 358.44 244.00 358.51C246.00 358.59 248.00 358.99 250.00 358.95C252.00 358.91 254.00 358.37 256.00 358.29C258.00 358.21 260.00 358.39 262.00 358.50C264.00 358.60 266.00 358.86 268.00 358.91C270.00 358.96 272.00 358.85 274.00 358.80C276.00 358.76 277.57 358.50 280.00 358.63C282.43 358.76 285.73 359.28 288.60 359.60C294.23 368.07 300.20 377.53 305.50 385.00C310.80 392.47 315.67 395.93 320.40 404.40C325.13 412.87 330.67 428.37 333.90 435.80C337.13 443.23 338.07 446.15 339.80 449.00C341.53 451.85 342.60 452.12 344.30 452.90C346.00 453.68 340.72 453.48 350.00 453.70C359.28 453.92 381.62 454.05 400.00 454.20C418.38 454.35 440.20 454.47 460.30 454.60" fill="none" stroke="#6c74ce" stroke-width="1.6" stroke-linejoin="round" stroke-linecap="butt" stroke-dasharray="10.24 2.56 1.60 2.56" />
<path d="M76.00 455.40C181.67 455.40 338.50 455.72 393.00 455.40C447.50 455.08 399.85 456.07 403.00 453.50C406.15 450.93 409.18 444.48 411.90 440.00C414.62 435.52 416.85 429.85 419.30 426.60C421.75 423.35 424.35 421.82 426.60 420.50C428.85 419.18 430.57 419.12 432.80 418.70C435.03 418.28 435.42 417.90 440.00 418.00C444.58 418.10 453.53 418.87 460.30 419.30" fill="none" stroke="#c8637d" stroke-width="1.6" stroke-linejoin="round" stroke-linecap="butt" stroke-dasharray="10.24 2.56 1.60 2.56" />
<path d="M76.00 455.40C147.00 455.40 218.00 455.40 289.00 455.40C306.73 428.07 324.47 400.73 342.20 373.40C349.13 377.27 356.70 381.62 363.00 385.00C369.30 388.38 373.80 390.85 380.00 393.70C386.20 396.55 394.07 399.48 400.20 402.10C406.33 404.72 410.17 406.95 416.80 409.40C423.43 411.85 432.75 414.85 440.00 416.80C447.25 418.75 453.53 419.67 460.30 421.10" fill="none" stroke="#a2719a" stroke-width="1.6" stroke-linejoin="round" stroke-linecap="butt" stroke-dasharray="10.24 2.56 1.60 2.56" />
<path d="M76.00 455.40C147.00 455.40 218.00 455.40 289.00 455.40C306.00 451.37 330.67 445.38 340.00 443.30C349.33 441.22 340.92 442.77 345.00 442.90C349.08 443.03 357.17 443.52 364.50 444.10C371.83 444.68 379.75 445.60 389.00 446.40C398.25 447.20 411.50 448.35 420.00 448.90C428.50 449.45 433.28 449.48 440.00 449.70C446.72 449.92 453.53 450.03 460.30 450.20" fill="none" stroke="#a6726c" stroke-width="1.6" stroke-linejoin="round" stroke-linecap="butt" stroke-dasharray="1.60 2.64" />
<path d="M76.00 356.94C78.00 357.06 80.00 357.01 82.00 357.28C84.00 357.55 86.00 358.47 88.00 358.56C90.00 358.66 92.00 358.25 94.00 357.86C96.00 357.48 98.00 356.33 100.00 356.25C102.00 356.17 104.00 357.28 106.00 357.40C108.00 357.52 110.00 356.95 112.00 356.96C114.00 356.98 116.00 357.62 118.00 357.50C120.00 357.39 122.00 356.26 124.00 356.27C126.00 356.29 128.00 357.35 130.00 357.57C132.00 357.78 134.00 357.41 136.00 357.56C138.00 357.72 140.00 358.49 142.00 358.50C144.00 358.51 146.00 357.75 148.00 357.62C150.00 357.50 152.00 357.97 154.00 357.76C156.00 357.55 158.00 356.15 160.00 356.35C162.00 356.56 164.00 359.03 166.00 358.98C168.00 358.93 170.00 356.19 172.00 356.06C174.00 355.92 176.00 357.99 178.00 358.17C180.00 358.36 182.00 357.40 184.00 357.17C186.00 356.94 188.00 356.82 190.00 356.78C192.00 356.75 194.00 356.92 196.00 356.94C198.00 356.96 200.00 356.81 202.00 356.93C204.00 357.05 206.00 357.60 208.00 357.67C210.00 357.73 212.00 357.19 214.00 357.32C216.00 357.45 218.00 358.64 220.00 358.44C222.00 358.24 224.00 356.29 226.00 356.12C228.00 355.95 230.00 357.29 232.00 357.40C234.00 357.51 236.00 356.68 238.00 356.78C240.00 356.87 242.00 358.09 244.00 357.94C246.00 357.80 248.00 356.05 250.00 355.92C252.00 355.79 254.00 356.89 256.00 357.16C258.00 357.43 260.00 357.68 262.00 357.55C264.00 357.41 266.00 356.27 268.00 356.36C270.00 356.45 272.00 357.90 274.00 358.09C276.00 358.28 277.57 357.37 280.00 357.53C282.43 357.68 285.73 358.51 288.60 359.00C294.23 367.17 300.20 376.25 305.50 383.50C310.80 390.75 315.67 394.67 320.40 402.50C325.13 410.33 330.55 423.33 333.90 430.50C337.25 437.67 338.57 442.12 340.50 445.50C342.43 448.88 343.58 449.62 345.50 450.80C347.42 451.98 342.92 452.10 352.00 452.60C361.08 453.10 381.95 453.50 400.00 453.80C418.05 454.10 440.20 454.20 460.30 454.40" fill="none" stroke="#6c74ce" stroke-width="1.6" stroke-linejoin="round" stroke-linecap="butt" stroke-dasharray="1.60 2.64" />
<path d="M76.00 455.40C181.33 455.40 337.67 455.75 392.00 455.40C446.33 455.05 398.83 455.87 402.00 453.30C405.17 450.73 408.25 444.72 411.00 440.00C413.75 435.28 416.00 428.58 418.50 425.00C421.00 421.42 423.62 419.92 426.00 418.50C428.38 417.08 430.47 416.92 432.80 416.50C435.13 416.08 435.42 415.83 440.00 416.00C444.58 416.17 453.53 417.00 460.30 417.50" fill="none" stroke="#c8637d" stroke-width="1.6" stroke-linejoin="round" stroke-linecap="butt" stroke-dasharray="1.60 2.64" />
<path d="M76.00 455.40C147.00 455.40 218.00 455.40 289.00 455.40C306.73 428.47 324.47 401.53 342.20 374.60C349.13 378.40 356.70 382.68 363.00 386.00C369.30 389.32 373.80 391.68 380.00 394.50C386.20 397.32 394.07 400.32 400.20 402.90C406.33 405.48 410.17 407.60 416.80 410.00C423.43 412.40 432.75 415.38 440.00 417.30C447.25 419.22 453.53 420.10 460.30 421.50" fill="none" stroke="#a2719a" stroke-width="1.6" stroke-linejoin="round" stroke-linecap="butt" stroke-dasharray="1.60 2.64" />
<path d="M76.00 339.00C77.60 338.83 83.00 338.03 85.60 338.00C88.20 337.97 89.10 338.43 91.60 338.80C94.10 339.17 97.80 340.10 100.60 340.20C103.40 340.30 106.30 339.67 108.40 339.40C110.50 339.13 111.20 338.53 113.20 338.60C115.20 338.67 118.20 339.53 120.40 339.80C122.60 340.07 124.80 340.23 126.40 340.20C128.00 340.17 128.20 339.50 130.00 339.60C131.80 339.70 134.80 340.60 137.20 340.80C139.60 341.00 141.80 341.20 144.40 340.80C147.00 340.40 150.20 338.70 152.80 338.40C155.40 338.10 157.40 338.90 160.00 339.00C162.60 339.10 165.40 339.33 168.40 339.00C171.40 338.67 175.60 337.40 178.00 337.00C180.40 336.60 180.80 336.57 182.80 336.60C184.80 336.63 187.40 337.30 190.00 337.20C192.60 337.10 195.40 335.97 198.40 336.00C201.40 336.03 204.80 336.97 208.00 337.40C211.20 337.83 214.60 338.32 217.60 338.60C220.60 338.88 223.00 339.22 226.00 339.10C229.00 338.98 232.80 338.02 235.60 337.90C238.40 337.78 240.40 338.20 242.80 338.40C245.20 338.60 247.60 339.13 250.00 339.10C252.40 339.07 254.60 338.48 257.20 338.20C259.80 337.92 263.00 337.60 265.60 337.40C268.20 337.20 270.20 336.95 272.80 337.00C275.40 337.05 278.60 337.50 281.20 337.70C283.80 337.90 285.40 338.35 288.40 338.20C291.40 338.05 296.40 336.77 299.20 336.80C302.00 336.83 303.02 337.90 305.20 338.40C307.38 338.90 309.08 338.98 312.30 339.80C315.52 340.62 320.42 341.80 324.50 343.30C328.58 344.80 333.38 346.93 336.80 348.80C340.22 350.67 342.62 352.68 345.00 354.50C347.38 356.32 347.70 357.30 351.10 359.70C354.50 362.10 360.28 365.67 365.40 368.90C370.52 372.13 376.87 375.85 381.80 379.10C386.73 382.35 390.97 385.93 395.00 388.40C399.03 390.87 401.83 391.95 406.00 393.90C410.17 395.85 415.70 398.27 420.00 400.10C424.30 401.93 427.38 403.33 431.80 404.90C436.22 406.47 441.75 408.22 446.50 409.50C451.25 410.78 458.00 412.08 460.30 412.60" fill="none" stroke="#000" stroke-width="1.6" stroke-linejoin="round" stroke-linecap="square"  />
<path d="M76.00 339.00C77.60 338.83 83.00 338.03 85.60 338.00C88.20 337.97 89.10 338.43 91.60 338.80C94.10 339.17 97.80 340.10 100.60 340.20C103.40 340.30 106.30 339.67 108.40 339.40C110.50 339.13 111.20 338.53 113.20 338.60C115.20 338.67 118.20 339.53 120.40 339.80C122.60 340.07 124.80 340.23 126.40 340.20C128.00 340.17 128.20 339.50 130.00 339.60C131.80 339.70 134.80 340.60 137.20 340.80C139.60 341.00 141.80 341.20 144.40 340.80C147.00 340.40 150.20 338.70 152.80 338.40C155.40 338.10 157.40 338.90 160.00 339.00C162.60 339.10 165.40 339.33 168.40 339.00C171.40 338.67 175.60 337.40 178.00 337.00C180.40 336.60 180.80 336.57 182.80 336.60C184.80 336.63 187.40 337.30 190.00 337.20C192.60 337.10 195.40 335.97 198.40 336.00C201.40 336.03 204.80 336.97 208.00 337.40C211.20 337.83 214.60 338.32 217.60 338.60C220.60 338.88 223.00 339.22 226.00 339.10C229.00 338.98 232.80 338.02 235.60 337.90C238.40 337.78 240.40 338.20 242.80 338.40C245.20 338.60 247.60 339.13 250.00 339.10C252.40 339.07 254.60 338.48 257.20 338.20C259.80 337.92 263.00 337.60 265.60 337.40C268.20 337.20 270.20 336.95 272.80 337.00C275.40 337.05 278.60 337.50 281.20 337.70C283.80 337.90 285.40 338.35 288.40 338.20C291.40 338.05 296.40 336.77 299.20 336.80C302.00 336.83 303.02 337.90 305.20 338.40C307.38 338.90 309.08 338.98 312.30 339.80C315.52 340.62 320.42 341.80 324.50 343.30C328.58 344.80 333.38 346.93 336.80 348.80C340.22 350.67 342.62 352.68 345.00 354.50C347.38 356.32 347.70 357.30 351.10 359.70C354.50 362.10 360.28 365.67 365.40 368.90C370.52 372.13 376.87 375.85 381.80 379.10C386.73 382.35 390.97 385.93 395.00 388.40C399.03 390.87 401.83 391.95 406.00 393.90C410.17 395.85 415.70 398.27 420.00 400.10C424.30 401.93 427.38 403.33 431.80 404.90C436.22 406.47 441.75 408.22 446.50 409.50C451.25 410.78 458.00 412.08 460.30 412.60" fill="none" stroke="#ff0000" stroke-width="1.6" stroke-linejoin="round" stroke-linecap="butt" stroke-dasharray="5.92 2.56" />
</g>
<path d="M313.00 330.50V461.40" stroke="#000" stroke-width="2.6"/>
<path d="M50.50 147.60v3.2M138.00 147.60v3.2M225.50 147.60v3.2M313.00 147.60v3.2M400.50 147.60v3.2M488.00 147.60v3.2M50.50 141.30h-3.2M50.50 118.30h-3.2M50.50 95.30h-3.2M50.50 72.30h-3.2M50.50 49.30h-3.2M50.50 26.30h-3.2" stroke="#000" stroke-width="0.8" fill="none"/>
<rect x="50.50" y="17.50" width="437.50" height="130.10" fill="none" stroke="#000" stroke-width="0.8"/>
<text transform="translate(48.21,159.20) scale(0.9966,1)" font-size="8.25" fill="#000" >0</text>
<text transform="translate(133.26,159.20) scale(1.0330,1)" font-size="8.25" fill="#000" >50</text>
<text transform="translate(218.08,159.20) scale(1.0545,1)" font-size="8.25" fill="#000" >100</text>
<text transform="translate(305.58,159.20) scale(1.0545,1)" font-size="8.25" fill="#000" >150</text>
<text transform="translate(393.16,159.20) scale(1.0592,1)" font-size="8.25" fill="#000" >200</text>
<text transform="translate(480.66,159.20) scale(1.0592,1)" font-size="8.25" fill="#000" >250</text>
<text transform="translate(32.76,144.20) scale(1.0352,1)" font-size="8.25" fill="#000" >0.2</text>
<text transform="translate(32.41,121.20) scale(1.0502,1)" font-size="8.25" fill="#000" >0.4</text>
<text transform="translate(32.46,98.20) scale(1.0571,1)" font-size="8.25" fill="#000" >0.6</text>
<text transform="translate(32.50,75.20) scale(1.0528,1)" font-size="8.25" fill="#000" >0.8</text>
<text transform="translate(32.51,52.20) scale(1.0487,1)" font-size="8.25" fill="#000" >1.0</text>
<text transform="translate(32.78,29.20) scale(1.0328,1)" font-size="8.25" fill="#000" >1.2</text>
<path d="M50.50 304.40v3.2M138.00 304.40v3.2M225.50 304.40v3.2M313.00 304.40v3.2M400.50 304.40v3.2M488.00 304.40v3.2M50.50 304.40h-3.2M50.50 286.94h-3.2M50.50 269.48h-3.2M50.50 252.03h-3.2M50.50 234.57h-3.2M50.50 217.11h-3.2M50.50 199.65h-3.2M50.50 182.19h-3.2" stroke="#000" stroke-width="0.8" fill="none"/>
<rect x="50.50" y="173.50" width="437.50" height="130.90" fill="none" stroke="#000" stroke-width="0.8"/>
<text transform="translate(48.21,316.00) scale(0.9966,1)" font-size="8.25" fill="#000" >0</text>
<text transform="translate(133.26,316.00) scale(1.0330,1)" font-size="8.25" fill="#000" >50</text>
<text transform="translate(218.08,316.00) scale(1.0545,1)" font-size="8.25" fill="#000" >100</text>
<text transform="translate(305.58,316.00) scale(1.0545,1)" font-size="8.25" fill="#000" >150</text>
<text transform="translate(393.16,316.00) scale(1.0592,1)" font-size="8.25" fill="#000" >200</text>
<text transform="translate(480.66,316.00) scale(1.0592,1)" font-size="8.25" fill="#000" >250</text>
<text transform="translate(22.56,307.30) scale(1.0649,1)" font-size="8.25" fill="#000" >0.000</text>
<text transform="translate(22.82,289.84) scale(1.0566,1)" font-size="8.25" fill="#000" >0.002</text>
<text transform="translate(22.48,272.38) scale(1.0646,1)" font-size="8.25" fill="#000" >0.004</text>
<text transform="translate(22.53,254.93) scale(1.0683,1)" font-size="8.25" fill="#000" >0.006</text>
<text transform="translate(22.57,237.47) scale(1.0660,1)" font-size="8.25" fill="#000" >0.008</text>
<text transform="translate(22.56,220.01) scale(1.0649,1)" font-size="8.25" fill="#000" >0.010</text>
<text transform="translate(22.82,202.55) scale(1.0566,1)" font-size="8.25" fill="#000" >0.012</text>
<text transform="translate(22.48,185.09) scale(1.0646,1)" font-size="8.25" fill="#000" >0.014</text>
<path d="M50.50 461.40v3.2M138.00 461.40v3.2M225.50 461.40v3.2M313.00 461.40v3.2M400.50 461.40v3.2M488.00 461.40v3.2M50.50 455.40h-3.2M50.50 436.73h-3.2M50.50 418.07h-3.2M50.50 399.40h-3.2M50.50 380.73h-3.2M50.50 362.07h-3.2M50.50 343.40h-3.2" stroke="#000" stroke-width="0.8" fill="none"/>
<rect x="50.50" y="330.50" width="437.50" height="130.90" fill="none" stroke="#000" stroke-width="0.8"/>
<text transform="translate(48.21,473.00) scale(0.9966,1)" font-size="8.25" fill="#000" >0</text>
<text transform="translate(133.26,473.00) scale(1.0330,1)" font-size="8.25" fill="#000" >50</text>
<text transform="translate(218.08,473.00) scale(1.0545,1)" font-size="8.25" fill="#000" >100</text>
<text transform="translate(305.58,473.00) scale(1.0545,1)" font-size="8.25" fill="#000" >150</text>
<text transform="translate(393.16,473.00) scale(1.0592,1)" font-size="8.25" fill="#000" >200</text>
<text transform="translate(480.66,473.00) scale(1.0592,1)" font-size="8.25" fill="#000" >250</text>
<text transform="translate(17.60,458.30) scale(1.0680,1)" font-size="8.25" fill="#000" >0.0000</text>
<text transform="translate(17.76,439.63) scale(1.0624,1)" font-size="8.25" fill="#000" >0.0005</text>
<text transform="translate(17.60,420.97) scale(1.0680,1)" font-size="8.25" fill="#000" >0.0010</text>
<text transform="translate(17.76,402.30) scale(1.0624,1)" font-size="8.25" fill="#000" >0.0015</text>
<text transform="translate(17.60,383.63) scale(1.0680,1)" font-size="8.25" fill="#000" >0.0020</text>
<text transform="translate(17.76,364.97) scale(1.0624,1)" font-size="8.25" fill="#000" >0.0025</text>
<text transform="translate(17.60,346.30) scale(1.0680,1)" font-size="8.25" fill="#000" >0.0030</text>
<text transform="translate(27.10,82.40) rotate(-90) translate(-29.99,0) scale(0.9811,1)" font-size="8.44" fill="#000">INTENSITY [Sv]</text>
<g transform="translate(16.50,239.60) rotate(-90)"><text transform="translate(-31.34,0) scale(0.9718,1)" font-size="8.44" fill="#000">VARIANCE [Sv</text><text x="25.13" y="-2.6" font-size="5.91" fill="#000">2</text><text transform="translate(29.88,0)" font-size="8.44" fill="#000">]</text></g>
<g transform="translate(11.50,396.90) rotate(-90)"><text transform="translate(-31.34,0) scale(0.9718,1)" font-size="8.44" fill="#000">VARIANCE [Sv</text><text x="25.13" y="-2.6" font-size="5.91" fill="#000">2</text><text transform="translate(29.88,0)" font-size="8.44" fill="#000">]</text></g>
<text transform="translate(259.90,484.00) scale(0.9520,1)" font-size="8.25" fill="#000" >TIME</text>
<text transform="translate(64.28,11.90) scale(0.9609,1)" font-size="9.97" fill="#000" >ANOVA SENSITIVITY ON NUMBER OF SCENARIOS - SYNTHETIC MODEL - 1000 MEMBERS</text>
<rect x="53.70" y="94.60" width="97.50" height="48.20" rx="1.8" fill="#fff" fill-opacity="0.8" stroke="#ccc" stroke-opacity="0.8" stroke-width="0.8"/>
<path d="M57.40 101.00H72.80" fill="none" stroke="#1e90ff" stroke-width="1.6" stroke-linejoin="round" stroke-linecap="square"  />
<text transform="translate(79.21,104.10) scale(1.0376,1)" font-size="8.25" fill="#000" >Scenario 1</text>
<path d="M57.40 112.60H72.80" fill="none" stroke="#ffa500" stroke-width="1.6" stroke-linejoin="round" stroke-linecap="square"  />
<text transform="translate(79.21,115.70) scale(1.0363,1)" font-size="8.25" fill="#000" >Scenario 2</text>
<path d="M57.40 124.30H72.80" fill="none" stroke="#ff4500" stroke-width="1.6" stroke-linejoin="round" stroke-linecap="square"  />
<text transform="translate(79.21,127.40) scale(1.0389,1)" font-size="8.25" fill="#000" >Scenario 3</text>
<path d="M57.40 135.90H72.80" fill="none" stroke="#000" stroke-width="2.6" stroke-linejoin="round" stroke-linecap="square"  />
<text transform="translate(79.20,139.00) scale(1.0661,1)" font-size="8.25" fill="#000" >Start of scenarios</text>
<rect x="53.70" y="177.80" width="126.30" height="48.00" rx="1.8" fill="#fff" fill-opacity="0.8" stroke="#ccc" stroke-opacity="0.8" stroke-width="0.8"/>
<path d="M57.00 184.20H73.20" fill="none" stroke="#000" stroke-width="1.6" stroke-linejoin="round" stroke-linecap="square"  />
<text transform="translate(79.27,187.30) scale(1.0475,1)" font-size="8.25" fill="#000" >3 scenarios</text>
<path d="M57.00 195.90H73.20" fill="none" stroke="#000" stroke-width="1.6" stroke-linejoin="round" stroke-linecap="butt" stroke-dasharray="5.92 2.56" />
<text transform="translate(79.25,199.00) scale(1.0477,1)" font-size="8.25" fill="#000" >5 scenarios</text>
<path d="M57.00 207.60H73.20" fill="none" stroke="#000" stroke-width="1.6" stroke-linejoin="round" stroke-linecap="butt" stroke-dasharray="10.24 2.56 1.60 2.56" />
<text transform="translate(79.25,210.70) scale(1.0511,1)" font-size="8.25" fill="#000" >50 scenarios</text>
<path d="M57.00 219.30H73.20" fill="none" stroke="#000" stroke-width="1.6" stroke-linejoin="round" stroke-linecap="butt" stroke-dasharray="1.60 2.64" />
<text transform="translate(78.94,222.40) scale(1.0550,1)" font-size="8.25" fill="#000" >100 scenarios</text>
<path d="M149.60 183.90H165.40" fill="none" stroke="#4677b3" stroke-width="1.6" stroke-linejoin="round" stroke-linecap="square"  />
<text transform="translate(171.29,187.00) scale(0.9042,1)" font-size="8.25" fill="#000" >R</text>
<path d="M149.60 195.60H165.40" fill="none" stroke="#f15a24" stroke-width="1.6" stroke-linejoin="round" stroke-linecap="square"  />
<text transform="translate(171.58,198.70) scale(0.8428,1)" font-size="8.25" fill="#000" >S</text>
<path d="M149.60 207.30H165.40" fill="none" stroke="#8a5cd6" stroke-width="1.6" stroke-linejoin="round" stroke-linecap="square"  />
<text transform="translate(171.71,210.40) scale(1.0312,1)" font-size="8.25" fill="#000" >T</text>
<rect x="54.00" y="420.20" width="174.80" height="37.60" rx="1.8" fill="#fff" fill-opacity="0.8" stroke="#ccc" stroke-opacity="0.8" stroke-width="0.8"/>
<path d="M57.20 425.80H73.20" fill="none" stroke="#a6726c" stroke-width="1.6" stroke-linejoin="round" stroke-linecap="square"  />
<text transform="translate(79.26,428.90) scale(0.8999,1)" font-size="8.25" fill="#000" >SR</text>
<path d="M57.20 437.60H73.20" fill="none" stroke="#6c74ce" stroke-width="1.6" stroke-linejoin="round" stroke-linecap="square"  />
<text transform="translate(78.97,440.70) scale(0.9319,1)" font-size="8.25" fill="#000" >RT</text>
<path d="M57.20 449.40H73.20" fill="none" stroke="#c8637d" stroke-width="1.6" stroke-linejoin="round" stroke-linecap="square"  />
<text transform="translate(79.25,452.50) scale(0.9245,1)" font-size="8.25" fill="#000" >ST</text>
<path d="M105.20 425.80H121.20" fill="none" stroke="#a2719a" stroke-width="1.6" stroke-linejoin="round" stroke-linecap="square"  />
<text transform="translate(127.46,428.90) scale(0.9189,1)" font-size="8.25" fill="#000" >SRT</text>
<path d="M105.20 437.60H121.20" fill="none" stroke="#000" stroke-width="1.6" stroke-linejoin="round" stroke-linecap="square"  />
<text transform="translate(127.11,440.70) scale(1.0251,1)" font-size="8.25" fill="#000" >R+RT+SR+SRT</text>
<path d="M105.20 449.40H121.20" fill="none" stroke="#ff0000" stroke-width="1.6" stroke-linejoin="round" stroke-linecap="butt" stroke-dasharray="5.92 2.56" />
<text transform="translate(127.09,452.50) scale(1.0445,1)" font-size="8.25" fill="#000" >Mean Ensemble Variance</text>
</svg></body></html>
